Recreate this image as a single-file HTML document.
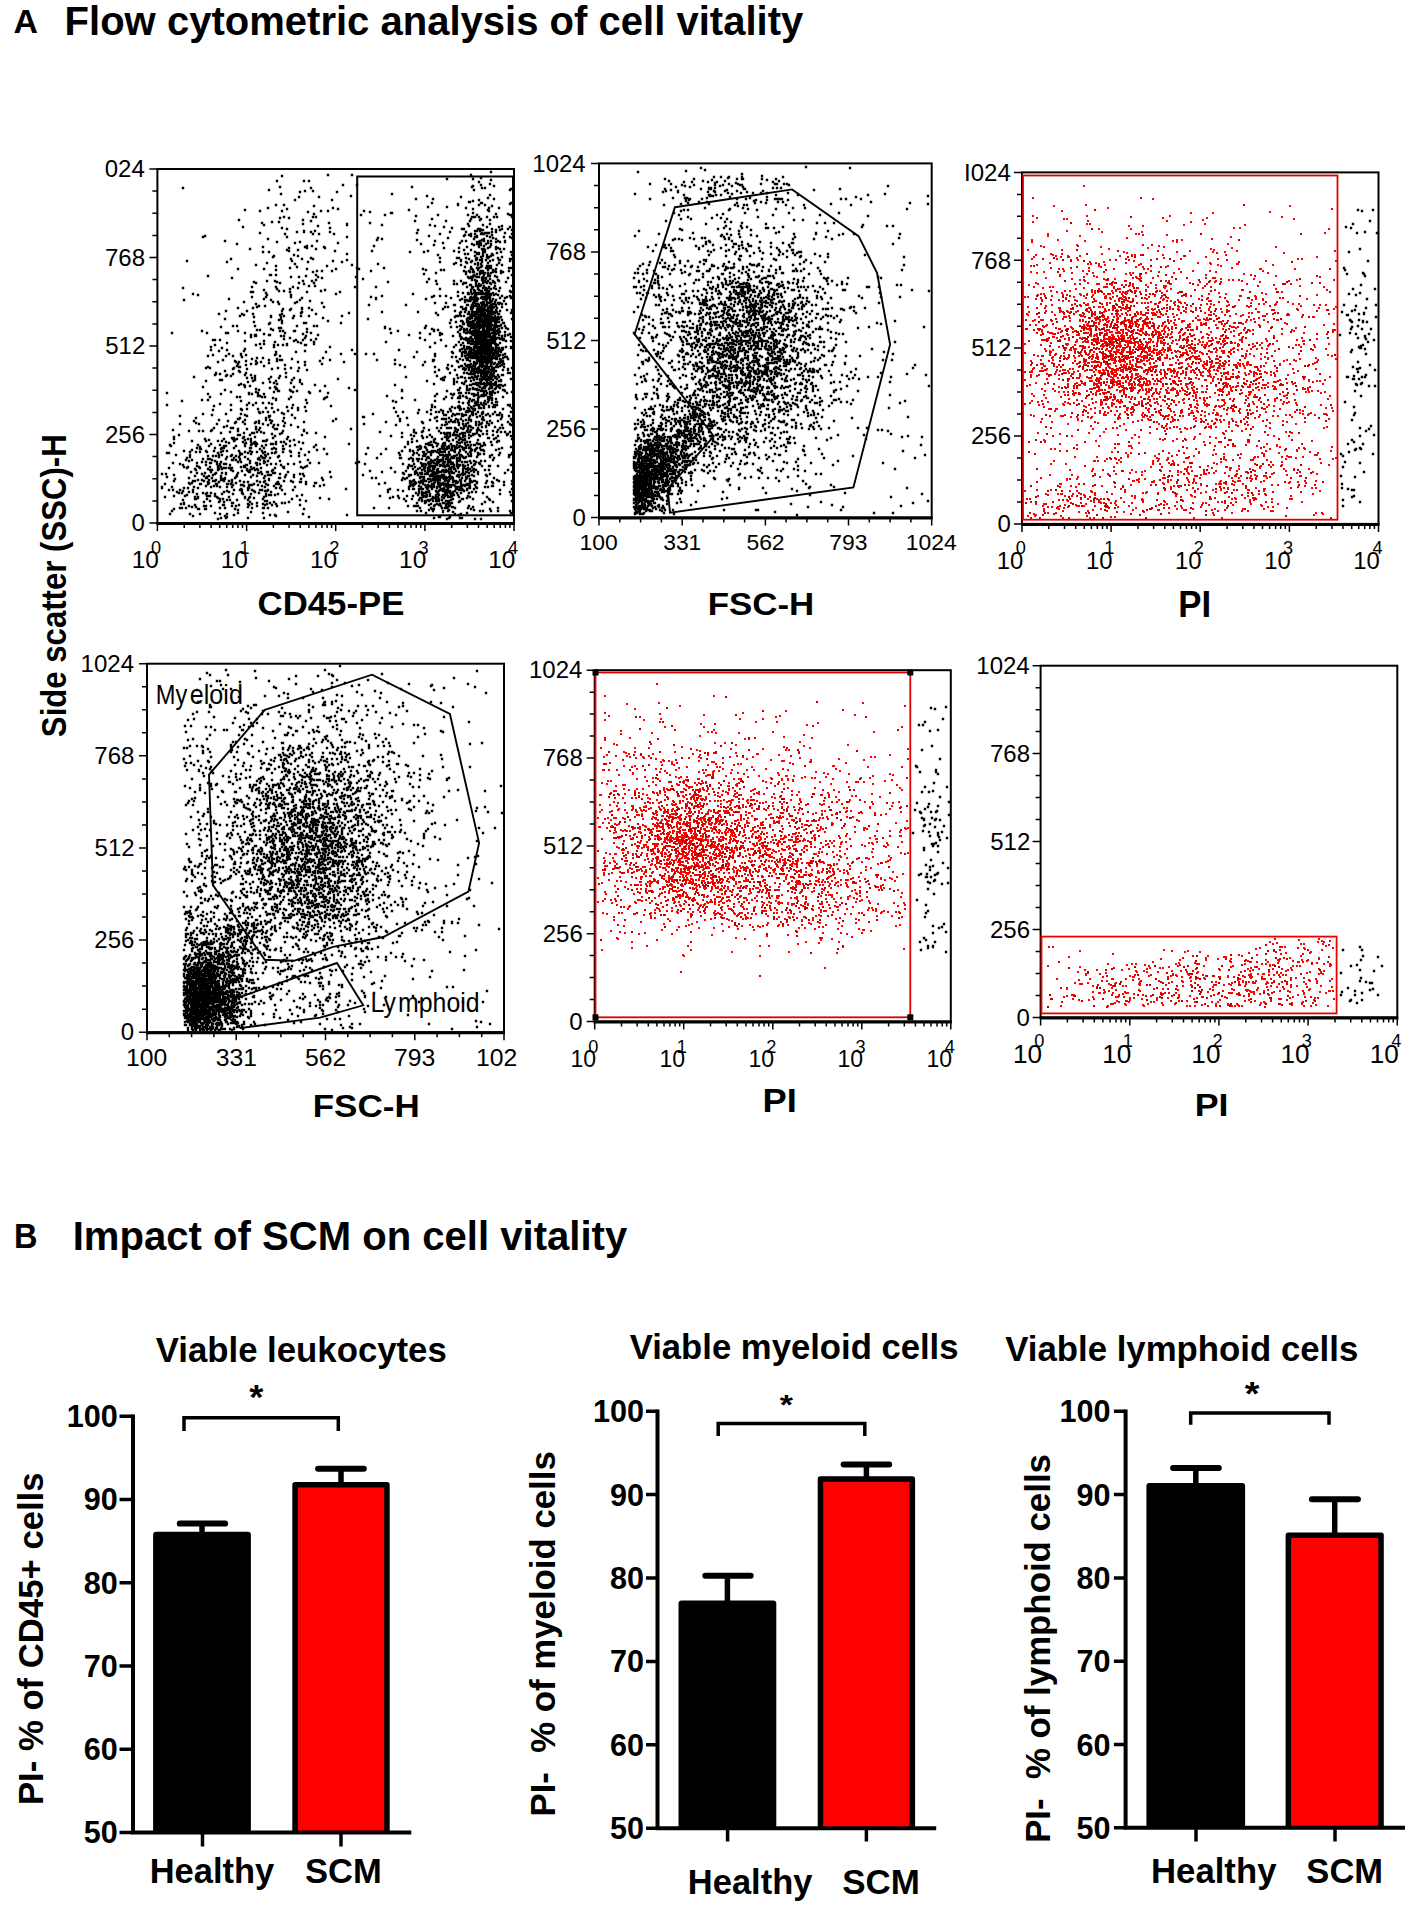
<!DOCTYPE html>
<html><head><meta charset="utf-8"><style>
html,body{margin:0;padding:0;background:#fff;overflow:hidden;}
svg{display:block;font-family:"Liberation Sans",sans-serif;}
</style></head><body>
<svg width="1417" height="1912" viewBox="0 0 1417 1912">
<defs><clipPath id="clip4"><rect x="0" y="1030" width="517" height="60"/></clipPath></defs>
<rect width="1417" height="1912" fill="#fff"/>
<text x="13.45" y="32.80" font-size="33.91" font-weight="bold" textLength="24.47" lengthAdjust="spacingAndGlyphs" fill="#000" xml:space="preserve">A</text>
<text x="64.60" y="35.30" font-size="41.16" font-weight="bold" textLength="738.66" lengthAdjust="spacingAndGlyphs" fill="#000" xml:space="preserve">Flow cytometric analysis of cell vitality</text>
<text x="13.89" y="1248.30" font-size="34.78" font-weight="bold" textLength="23.44" lengthAdjust="spacingAndGlyphs" fill="#000" xml:space="preserve">B</text>
<text x="72.69" y="1249.50" font-size="41.30" font-weight="bold" textLength="554.55" lengthAdjust="spacingAndGlyphs" fill="#000" xml:space="preserve">Impact of SCM on cell vitality</text>
<text x="0.00" y="0.00" font-size="35.19" font-weight="bold" textLength="302.76" lengthAdjust="spacingAndGlyphs" transform="translate(65.81 737.13) rotate(-90)" fill="#000" xml:space="preserve">Side scatter (SSC)-H</text>
<rect x="157.40" y="169.00" width="356.60" height="354.00" fill="none" stroke="#000" stroke-width="2"/>
<path d="M156.40 523.50H515.00" stroke="#000" stroke-width="3"/>
<text x="104.76" y="177.28" font-size="24.00" fill="#000" xml:space="preserve">024</text>
<text x="105.00" y="265.78" font-size="24.00" fill="#000" xml:space="preserve">768</text>
<text x="105.24" y="354.28" font-size="24.00" fill="#000" xml:space="preserve">512</text>
<text x="105.00" y="442.78" font-size="24.00" fill="#000" xml:space="preserve">256</text>
<text x="131.52" y="531.28" font-size="24.00" fill="#000" xml:space="preserve">0</text>
<text x="131.63" y="568.26" font-size="24.44" fill="#000" xml:space="preserve">10</text>
<text x="151.07" y="553.50" font-size="18.20" fill="#000" xml:space="preserve">0</text>
<text x="220.78" y="568.26" font-size="24.44" fill="#000" xml:space="preserve">10</text>
<text x="239.59" y="553.50" font-size="18.20" fill="#000" xml:space="preserve">1</text>
<text x="309.93" y="568.26" font-size="24.44" fill="#000" xml:space="preserve">10</text>
<text x="329.19" y="553.50" font-size="18.20" fill="#000" xml:space="preserve">2</text>
<text x="399.08" y="568.26" font-size="24.44" fill="#000" xml:space="preserve">10</text>
<text x="418.52" y="553.50" font-size="18.20" fill="#000" xml:space="preserve">3</text>
<text x="488.23" y="568.26" font-size="24.44" fill="#000" xml:space="preserve">10</text>
<text x="508.04" y="553.50" font-size="18.20" fill="#000" xml:space="preserve">4</text>
<text x="257.61" y="614.66" font-size="33.80" font-weight="bold" textLength="146.74" lengthAdjust="spacingAndGlyphs" fill="#000" xml:space="preserve">CD45-PE</text>
<rect x="599.00" y="163.40" width="332.70" height="354.10" fill="none" stroke="#000" stroke-width="2"/>
<path d="M598.00 518.00H932.70" stroke="#000" stroke-width="3"/>
<text x="532.32" y="171.68" font-size="24.00" fill="#000" xml:space="preserve">1024</text>
<text x="546.00" y="260.20" font-size="24.00" fill="#000" xml:space="preserve">768</text>
<text x="546.24" y="348.73" font-size="24.00" fill="#000" xml:space="preserve">512</text>
<text x="546.00" y="437.25" font-size="24.00" fill="#000" xml:space="preserve">256</text>
<text x="572.52" y="525.78" font-size="24.00" fill="#000" xml:space="preserve">0</text>
<text x="579.49" y="550.47" font-size="22.88" fill="#000" xml:space="preserve">100</text>
<text x="663.18" y="550.47" font-size="22.88" fill="#000" xml:space="preserve">331</text>
<text x="746.42" y="550.47" font-size="22.88" fill="#000" xml:space="preserve">562</text>
<text x="829.36" y="550.47" font-size="22.88" fill="#000" xml:space="preserve">793</text>
<text x="905.73" y="550.47" font-size="22.88" fill="#000" xml:space="preserve">1024</text>
<text x="707.73" y="615.28" font-size="31.83" font-weight="bold" textLength="106.54" lengthAdjust="spacingAndGlyphs" fill="#000" xml:space="preserve">FSC-H</text>
<rect x="1022.00" y="172.40" width="356.50" height="351.50" fill="none" stroke="#000" stroke-width="2"/>
<path d="M1021.00 524.40H1379.50" stroke="#000" stroke-width="3"/>
<text x="964.04" y="180.68" font-size="24.00" fill="#000" xml:space="preserve">I024</text>
<text x="971.00" y="268.55" font-size="24.00" fill="#000" xml:space="preserve">768</text>
<text x="971.24" y="356.43" font-size="24.00" fill="#000" xml:space="preserve">512</text>
<text x="971.00" y="444.30" font-size="24.00" fill="#000" xml:space="preserve">256</text>
<text x="997.52" y="532.18" font-size="24.00" fill="#000" xml:space="preserve">0</text>
<text x="996.84" y="568.76" font-size="23.87" fill="#000" xml:space="preserve">10</text>
<text x="1015.67" y="554.40" font-size="18.20" fill="#000" xml:space="preserve">0</text>
<text x="1085.96" y="568.76" font-size="23.87" fill="#000" xml:space="preserve">10</text>
<text x="1104.16" y="554.40" font-size="18.20" fill="#000" xml:space="preserve">1</text>
<text x="1175.09" y="568.76" font-size="23.87" fill="#000" xml:space="preserve">10</text>
<text x="1193.74" y="554.40" font-size="18.20" fill="#000" xml:space="preserve">2</text>
<text x="1264.21" y="568.76" font-size="23.87" fill="#000" xml:space="preserve">10</text>
<text x="1283.05" y="554.40" font-size="18.20" fill="#000" xml:space="preserve">3</text>
<text x="1353.34" y="568.76" font-size="23.87" fill="#000" xml:space="preserve">10</text>
<text x="1372.54" y="554.40" font-size="18.20" fill="#000" xml:space="preserve">4</text>
<text x="1178.34" y="617.00" font-size="36.38" font-weight="bold" textLength="32.89" lengthAdjust="spacingAndGlyphs" fill="#000" xml:space="preserve">PI</text>
<rect x="147.00" y="663.70" width="357.00" height="368.50" fill="none" stroke="#000" stroke-width="2"/>
<path d="M146.00 1032.70H505.00" stroke="#000" stroke-width="3"/>
<text x="80.62" y="671.98" font-size="24.00" fill="#000" xml:space="preserve">1024</text>
<text x="94.30" y="764.11" font-size="24.00" fill="#000" xml:space="preserve">768</text>
<text x="94.54" y="856.23" font-size="24.00" fill="#000" xml:space="preserve">512</text>
<text x="94.30" y="948.36" font-size="24.00" fill="#000" xml:space="preserve">256</text>
<text x="120.82" y="1040.48" font-size="24.00" fill="#000" xml:space="preserve">0</text>
<text x="125.93" y="1065.55" font-size="24.72" fill="#000" xml:space="preserve">100</text>
<text x="215.73" y="1065.55" font-size="24.72" fill="#000" xml:space="preserve">331</text>
<text x="305.05" y="1065.55" font-size="24.72" fill="#000" xml:space="preserve">562</text>
<text x="394.05" y="1065.55" font-size="24.72" fill="#000" xml:space="preserve">793</text>
<text clip-path="url(#clip4)" x="475.95" y="1065.55" font-size="24.72" fill="#000" xml:space="preserve">1024</text>
<text x="312.72" y="1116.98" font-size="32.11" font-weight="bold" textLength="106.96" lengthAdjust="spacingAndGlyphs" fill="#000" xml:space="preserve">FSC-H</text>
<rect x="594.70" y="670.20" width="356.10" height="351.30" fill="none" stroke="#000" stroke-width="2"/>
<path d="M593.70 1022.00H951.80" stroke="#000" stroke-width="3"/>
<text x="529.02" y="678.48" font-size="24.00" fill="#000" xml:space="preserve">1024</text>
<text x="542.70" y="766.31" font-size="24.00" fill="#000" xml:space="preserve">768</text>
<text x="542.94" y="854.13" font-size="24.00" fill="#000" xml:space="preserve">512</text>
<text x="542.70" y="941.95" font-size="24.00" fill="#000" xml:space="preserve">256</text>
<text x="569.22" y="1029.78" font-size="24.00" fill="#000" xml:space="preserve">0</text>
<text x="570.45" y="1066.77" font-size="23.02" fill="#000" xml:space="preserve">10</text>
<text x="588.37" y="1053.00" font-size="18.20" fill="#000" xml:space="preserve">0</text>
<text x="659.48" y="1066.77" font-size="23.02" fill="#000" xml:space="preserve">10</text>
<text x="676.76" y="1053.00" font-size="18.20" fill="#000" xml:space="preserve">1</text>
<text x="748.50" y="1066.77" font-size="23.02" fill="#000" xml:space="preserve">10</text>
<text x="766.24" y="1053.00" font-size="18.20" fill="#000" xml:space="preserve">2</text>
<text x="837.53" y="1066.77" font-size="23.02" fill="#000" xml:space="preserve">10</text>
<text x="855.45" y="1053.00" font-size="18.20" fill="#000" xml:space="preserve">3</text>
<text x="926.55" y="1066.77" font-size="23.02" fill="#000" xml:space="preserve">10</text>
<text x="944.84" y="1053.00" font-size="18.20" fill="#000" xml:space="preserve">4</text>
<text x="762.64" y="1112.40" font-size="32.90" font-weight="bold" textLength="34.29" lengthAdjust="spacingAndGlyphs" fill="#000" xml:space="preserve">PI</text>
<rect x="1040.60" y="665.70" width="356.70" height="351.70" fill="none" stroke="#000" stroke-width="2"/>
<path d="M1039.60 1017.90H1398.30" stroke="#000" stroke-width="3"/>
<text x="976.32" y="673.98" font-size="24.00" fill="#000" xml:space="preserve">1024</text>
<text x="990.00" y="761.90" font-size="24.00" fill="#000" xml:space="preserve">768</text>
<text x="990.24" y="849.83" font-size="24.00" fill="#000" xml:space="preserve">512</text>
<text x="990.00" y="937.75" font-size="24.00" fill="#000" xml:space="preserve">256</text>
<text x="1016.52" y="1025.68" font-size="24.00" fill="#000" xml:space="preserve">0</text>
<text x="1013.01" y="1063.24" font-size="26.13" fill="#000" xml:space="preserve">10</text>
<text x="1034.27" y="1047.30" font-size="18.20" fill="#000" xml:space="preserve">0</text>
<text x="1102.19" y="1063.24" font-size="26.13" fill="#000" xml:space="preserve">10</text>
<text x="1122.81" y="1047.30" font-size="18.20" fill="#000" xml:space="preserve">1</text>
<text x="1191.36" y="1063.24" font-size="26.13" fill="#000" xml:space="preserve">10</text>
<text x="1212.44" y="1047.30" font-size="18.20" fill="#000" xml:space="preserve">2</text>
<text x="1280.54" y="1063.24" font-size="26.13" fill="#000" xml:space="preserve">10</text>
<text x="1301.80" y="1047.30" font-size="18.20" fill="#000" xml:space="preserve">3</text>
<text x="1369.71" y="1063.24" font-size="26.13" fill="#000" xml:space="preserve">10</text>
<text x="1391.34" y="1047.30" font-size="18.20" fill="#000" xml:space="preserve">4</text>
<text x="1194.67" y="1116.00" font-size="31.88" font-weight="bold" textLength="33.83" lengthAdjust="spacingAndGlyphs" fill="#000" xml:space="preserve">PI</text>
<path d="M149.4 169.0h8M152.4 191.1h5M152.4 213.2h5M152.4 235.4h5M149.4 257.5h8M152.4 279.6h5M152.4 301.8h5M152.4 323.9h5M149.4 346.0h8M152.4 368.1h5M152.4 390.2h5M152.4 412.4h5M149.4 434.5h8M152.4 456.6h5M152.4 478.8h5M152.4 500.9h5M149.4 523.0h8M157.4 523.0v8M184.2 523.0v5M199.9 523.0v5M211.1 523.0v5M219.7 523.0v5M226.8 523.0v5M232.7 523.0v5M237.9 523.0v5M242.5 523.0v5M246.6 523.0v8M273.4 523.0v5M289.1 523.0v5M300.2 523.0v5M308.9 523.0v5M315.9 523.0v5M321.9 523.0v5M327.1 523.0v5M331.6 523.0v5M335.7 523.0v8M362.5 523.0v5M378.2 523.0v5M389.4 523.0v5M398.0 523.0v5M405.1 523.0v5M411.0 523.0v5M416.2 523.0v5M420.8 523.0v5M424.9 523.0v8M451.7 523.0v5M467.4 523.0v5M478.5 523.0v5M487.2 523.0v5M494.2 523.0v5M500.2 523.0v5M505.4 523.0v5M509.9 523.0v5M514.0 523.0v8M591.0 163.4h8M594.0 185.5h5M594.0 207.7h5M594.0 229.8h5M591.0 251.9h8M594.0 274.1h5M594.0 296.2h5M594.0 318.3h5M591.0 340.5h8M594.0 362.6h5M594.0 384.7h5M594.0 406.8h5M591.0 429.0h8M594.0 451.1h5M594.0 473.2h5M594.0 495.4h5M591.0 517.5h8M599.0 517.5v8M619.8 517.5v5M640.6 517.5v5M661.4 517.5v5M682.2 517.5v8M703.0 517.5v5M723.8 517.5v5M744.6 517.5v5M765.4 517.5v8M786.1 517.5v5M806.9 517.5v5M827.7 517.5v5M848.5 517.5v8M869.3 517.5v5M890.1 517.5v5M910.9 517.5v5M931.7 517.5v8M1014.0 172.4h8M1017.0 194.4h5M1017.0 216.3h5M1017.0 238.3h5M1014.0 260.3h8M1017.0 282.2h5M1017.0 304.2h5M1017.0 326.2h5M1014.0 348.1h8M1017.0 370.1h5M1017.0 392.1h5M1017.0 414.1h5M1014.0 436.0h8M1017.0 458.0h5M1017.0 480.0h5M1017.0 501.9h5M1014.0 523.9h8M1022.0 523.9v8M1048.8 523.9v5M1064.5 523.9v5M1075.7 523.9v5M1084.3 523.9v5M1091.4 523.9v5M1097.3 523.9v5M1102.5 523.9v5M1107.0 523.9v5M1111.1 523.9v8M1138.0 523.9v5M1153.6 523.9v5M1164.8 523.9v5M1173.4 523.9v5M1180.5 523.9v5M1186.4 523.9v5M1191.6 523.9v5M1196.2 523.9v5M1200.2 523.9v8M1227.1 523.9v5M1242.8 523.9v5M1253.9 523.9v5M1262.5 523.9v5M1269.6 523.9v5M1275.6 523.9v5M1280.7 523.9v5M1285.3 523.9v5M1289.4 523.9v8M1316.2 523.9v5M1331.9 523.9v5M1343.0 523.9v5M1351.7 523.9v5M1358.7 523.9v5M1364.7 523.9v5M1369.9 523.9v5M1374.4 523.9v5M1378.5 523.9v8M139.0 663.7h8M142.0 686.7h5M142.0 709.8h5M142.0 732.8h5M139.0 755.8h8M142.0 778.9h5M142.0 801.9h5M142.0 824.9h5M139.0 848.0h8M142.0 871.0h5M142.0 894.0h5M142.0 917.0h5M139.0 940.1h8M142.0 963.1h5M142.0 986.1h5M142.0 1009.2h5M139.0 1032.2h8M147.0 1032.2v8M169.3 1032.2v5M191.6 1032.2v5M213.9 1032.2v5M236.2 1032.2v8M258.6 1032.2v5M280.9 1032.2v5M303.2 1032.2v5M325.5 1032.2v8M347.8 1032.2v5M370.1 1032.2v5M392.4 1032.2v5M414.8 1032.2v8M437.1 1032.2v5M459.4 1032.2v5M481.7 1032.2v5M504.0 1032.2v8M586.7 670.2h8M589.7 692.2h5M589.7 714.1h5M589.7 736.1h5M586.7 758.0h8M589.7 780.0h5M589.7 801.9h5M589.7 823.9h5M586.7 845.9h8M589.7 867.8h5M589.7 889.8h5M589.7 911.7h5M586.7 933.7h8M589.7 955.6h5M589.7 977.6h5M589.7 999.5h5M586.7 1021.5h8M594.7 1021.5v8M621.5 1021.5v5M637.2 1021.5v5M648.3 1021.5v5M656.9 1021.5v5M664.0 1021.5v5M669.9 1021.5v5M675.1 1021.5v5M679.7 1021.5v5M683.7 1021.5v8M710.5 1021.5v5M726.2 1021.5v5M737.3 1021.5v5M746.0 1021.5v5M753.0 1021.5v5M759.0 1021.5v5M764.1 1021.5v5M768.7 1021.5v5M772.8 1021.5v8M799.5 1021.5v5M815.2 1021.5v5M826.3 1021.5v5M835.0 1021.5v5M842.0 1021.5v5M848.0 1021.5v5M853.1 1021.5v5M857.7 1021.5v5M861.8 1021.5v8M888.6 1021.5v5M904.3 1021.5v5M915.4 1021.5v5M924.0 1021.5v5M931.0 1021.5v5M937.0 1021.5v5M942.2 1021.5v5M946.7 1021.5v5M950.8 1021.5v8M1032.6 665.7h8M1035.6 687.7h5M1035.6 709.7h5M1035.6 731.6h5M1032.6 753.6h8M1035.6 775.6h5M1035.6 797.6h5M1035.6 819.6h5M1032.6 841.5h8M1035.6 863.5h5M1035.6 885.5h5M1035.6 907.5h5M1032.6 929.5h8M1035.6 951.5h5M1035.6 973.4h5M1035.6 995.4h5M1032.6 1017.4h8M1040.6 1017.4v8M1067.4 1017.4v5M1083.1 1017.4v5M1094.3 1017.4v5M1102.9 1017.4v5M1110.0 1017.4v5M1116.0 1017.4v5M1121.1 1017.4v5M1125.7 1017.4v5M1129.8 1017.4v8M1156.6 1017.4v5M1172.3 1017.4v5M1183.5 1017.4v5M1192.1 1017.4v5M1199.2 1017.4v5M1205.1 1017.4v5M1210.3 1017.4v5M1214.9 1017.4v5M1218.9 1017.4v8M1245.8 1017.4v5M1261.5 1017.4v5M1272.6 1017.4v5M1281.3 1017.4v5M1288.3 1017.4v5M1294.3 1017.4v5M1299.5 1017.4v5M1304.0 1017.4v5M1308.1 1017.4v8M1335.0 1017.4v5M1350.7 1017.4v5M1361.8 1017.4v5M1370.5 1017.4v5M1377.5 1017.4v5M1383.5 1017.4v5M1388.7 1017.4v5M1393.2 1017.4v5M1397.3 1017.4v8" stroke="#000" stroke-width="1.5" fill="none"/>
<rect x="357.2" y="176.5" width="155.8" height="338.8" fill="none" stroke="#000" stroke-width="2"/>
<path d="M674.9 207.2L792.1 189.4L858.6 236.1L877.1 273.1L890.1 344.5L853.4 487.4L670 512.7L667.7 489L713.8 436.1L634.6 334.2Z" fill="none" stroke="#000" stroke-width="1.9"/>
<rect x="1023" y="175.5" width="314.5" height="344.2" fill="none" stroke="#d00" stroke-width="1.8"/>
<path d="M264.8 709.8L372 674.7L449.9 714L479.1 842.9L468.4 891.6L383.3 937L333 946.8L294 960.8L264.8 959.8L212.9 885.1L209 774.7Z" fill="none" stroke="#000" stroke-width="1.9"/>
<path d="M232.3 999.7L336.9 963L363.2 1005.3L320 1017.6L240.5 1028L229.1 1018.2Z" fill="none" stroke="#000" stroke-width="1.9"/>
<text x="155.81" y="703.70" font-size="27.10" textLength="31.55" lengthAdjust="spacingAndGlyphs" fill="#000" xml:space="preserve">My</text>
<text x="189.79" y="703.70" font-size="27.10" textLength="53.11" lengthAdjust="spacingAndGlyphs" fill="#000" xml:space="preserve">eloid</text>
<text x="370.62" y="1012.10" font-size="26.96" textLength="25.26" lengthAdjust="spacingAndGlyphs" fill="#000" xml:space="preserve">Ly</text>
<text x="398.08" y="1012.10" font-size="26.96" textLength="81.53" lengthAdjust="spacingAndGlyphs" fill="#000" xml:space="preserve">mphoid</text>
<rect x="595.5" y="672.5" width="314.8" height="344.8" fill="none" stroke="#d00" stroke-width="1.8"/>
<rect x="592.5" y="669.5" width="6" height="6" fill="#000"/>
<rect x="907.3" y="669.5" width="6" height="6" fill="#000"/>
<rect x="592.5" y="1014.3" width="6" height="6" fill="#000"/>
<rect x="907.3" y="1014.3" width="6" height="6" fill="#000"/>
<rect x="1041.5" y="936.6" width="295.1" height="76.8" fill="none" stroke="#e00" stroke-width="1.8"/>
<path d="M161 474h2.4M161 487h2.4M161 488h2.4M164 484h2.4M164 497h2.4M165 474h2.4M166 393h2.4M166 405h2.4M166 453h2.4M166 477h2.4M168 453h2.4M168 468h2.4M168 490h2.4M169 445h2.4M169 514h2.4M170 446h2.4M171 333h2.4M171 487h2.4M171 511h2.4M172 430h2.4M172 463h2.4M172 490h2.4M173 437h2.4M173 439h2.4M173 443h2.4M173 475h2.4M173 481h2.4M173 496h2.4M173 509h2.4M174 479h2.4M175 455h2.4M176 492h2.4M178 435h2.4M178 493h2.4M179 416h2.4M179 424h2.4M179 464h2.4M179 490h2.4M179 508h2.4M180 504h2.4M181 401h2.4M181 493h2.4M181 508h2.4M182 188h2.4M182 288h2.4M182 465h2.4M182 491h2.4M182 500h2.4M183 300h2.4M183 451h2.4M183 467h2.4M183 488h2.4M183 503h2.4M183 504h2.4M184 496h2.4M185 460h2.4M185 508h2.4M186 261h2.4M186 458h2.4M186 468h2.4M186 495h2.4M187 467h2.4M187 488h2.4M188 431h2.4M188 461h2.4M188 478h2.4M188 483h2.4M188 492h2.4M188 506h2.4M189 452h2.4M189 455h2.4M189 457h2.4M189 484h2.4M189 514h2.4M190 472h2.4M191 441h2.4M191 450h2.4M191 460h2.4M191 483h2.4M191 507h2.4M192 294h2.4M192 481h2.4M192 490h2.4M192 492h2.4M192 516h2.4M193 377h2.4M193 421h2.4M193 487h2.4M194 469h2.4M194 476h2.4M194 481h2.4M194 497h2.4M194 499h2.4M194 505h2.4M195 418h2.4M195 423h2.4M195 452h2.4M195 470h2.4M195 499h2.4M195 507h2.4M196 448h2.4M196 463h2.4M196 466h2.4M196 473h2.4M196 494h2.4M197 295h2.4M197 445h2.4M197 480h2.4M197 488h2.4M197 497h2.4M197 498h2.4M197 509h2.4M198 424h2.4M198 431h2.4M198 467h2.4M198 509h2.4M199 447h2.4M199 449h2.4M199 452h2.4M199 468h2.4M199 484h2.4M199 514h2.4M200 449h2.4M200 484h2.4M201 331h2.4M201 400h2.4M201 462h2.4M201 474h2.4M201 480h2.4M202 237h2.4M202 387h2.4M202 414h2.4M202 431h2.4M202 459h2.4M202 493h2.4M203 476h2.4M203 481h2.4M203 502h2.4M203 506h2.4M204 236h2.4M204 439h2.4M204 473h2.4M204 506h2.4M204 509h2.4M205 368h2.4M205 381h2.4M205 441h2.4M205 451h2.4M205 462h2.4M205 465h2.4M205 478h2.4M205 486h2.4M205 494h2.4M205 506h2.4M205 509h2.4M206 333h2.4M206 452h2.4M206 477h2.4M206 478h2.4M206 493h2.4M206 496h2.4M206 499h2.4M207 276h2.4M207 356h2.4M207 367h2.4M207 394h2.4M207 400h2.4M207 456h2.4M207 459h2.4M207 469h2.4M207 482h2.4M207 484h2.4M208 440h2.4M208 446h2.4M208 476h2.4M208 480h2.4M208 483h2.4M208 496h2.4M209 368h2.4M209 397h2.4M209 459h2.4M209 463h2.4M209 467h2.4M209 470h2.4M209 496h2.4M209 501h2.4M210 347h2.4M210 350h2.4M210 431h2.4M210 444h2.4M210 463h2.4M210 472h2.4M210 487h2.4M210 493h2.4M210 506h2.4M211 415h2.4M211 430h2.4M211 460h2.4M211 470h2.4M211 478h2.4M212 340h2.4M212 355h2.4M212 410h2.4M212 456h2.4M212 475h2.4M212 481h2.4M213 406h2.4M213 428h2.4M213 451h2.4M213 486h2.4M214 340h2.4M214 345h2.4M214 375h2.4M214 448h2.4M214 461h2.4M214 474h2.4M214 481h2.4M214 494h2.4M214 496h2.4M214 513h2.4M215 373h2.4M215 374h2.4M215 456h2.4M215 473h2.4M215 480h2.4M215 484h2.4M216 424h2.4M216 462h2.4M216 464h2.4M216 484h2.4M216 486h2.4M216 497h2.4M217 362h2.4M217 441h2.4M217 453h2.4M217 466h2.4M217 468h2.4M217 469h2.4M217 470h2.4M217 498h2.4M217 519h2.4M218 314h2.4M218 351h2.4M218 420h2.4M218 455h2.4M218 457h2.4M218 469h2.4M218 482h2.4M218 502h2.4M219 340h2.4M219 374h2.4M219 380h2.4M219 404h2.4M219 445h2.4M219 464h2.4M219 466h2.4M219 487h2.4M219 499h2.4M219 501h2.4M219 508h2.4M219 514h2.4M220 327h2.4M220 394h2.4M220 433h2.4M220 449h2.4M220 452h2.4M220 462h2.4M220 467h2.4M220 476h2.4M220 478h2.4M220 479h2.4M220 480h2.4M220 518h2.4M221 348h2.4M221 380h2.4M221 441h2.4M221 448h2.4M221 455h2.4M221 469h2.4M221 473h2.4M221 494h2.4M222 360h2.4M222 451h2.4M222 479h2.4M222 480h2.4M222 499h2.4M222 505h2.4M223 427h2.4M223 439h2.4M223 446h2.4M223 448h2.4M223 464h2.4M223 468h2.4M223 481h2.4M223 492h2.4M223 502h2.4M223 505h2.4M224 241h2.4M224 319h2.4M224 371h2.4M224 390h2.4M224 446h2.4M224 478h2.4M224 479h2.4M224 508h2.4M224 516h2.4M225 311h2.4M225 333h2.4M225 356h2.4M225 376h2.4M225 414h2.4M225 442h2.4M225 446h2.4M225 459h2.4M225 464h2.4M225 468h2.4M225 473h2.4M225 474h2.4M225 518h2.4M226 262h2.4M226 343h2.4M226 350h2.4M226 375h2.4M226 426h2.4M226 451h2.4M226 457h2.4M226 484h2.4M226 487h2.4M226 491h2.4M226 500h2.4M226 514h2.4M226 517h2.4M227 333h2.4M227 421h2.4M227 484h2.4M228 299h2.4M228 354h2.4M228 443h2.4M228 468h2.4M228 481h2.4M228 492h2.4M228 497h2.4M229 432h2.4M229 465h2.4M229 500h2.4M230 259h2.4M230 376h2.4M230 392h2.4M230 405h2.4M230 410h2.4M230 428h2.4M230 456h2.4M230 468h2.4M230 469h2.4M230 470h2.4M230 484h2.4M231 278h2.4M231 438h2.4M231 455h2.4M231 460h2.4M231 468h2.4M231 480h2.4M231 482h2.4M231 487h2.4M231 503h2.4M231 506h2.4M232 326h2.4M232 356h2.4M232 369h2.4M232 374h2.4M232 428h2.4M232 439h2.4M232 460h2.4M232 471h2.4M232 485h2.4M232 494h2.4M232 503h2.4M233 368h2.4M233 438h2.4M233 441h2.4M233 448h2.4M233 458h2.4M233 490h2.4M233 515h2.4M234 361h2.4M234 423h2.4M234 440h2.4M234 478h2.4M234 509h2.4M235 362h2.4M235 422h2.4M235 446h2.4M235 456h2.4M235 460h2.4M235 477h2.4M235 483h2.4M235 506h2.4M236 244h2.4M236 326h2.4M236 366h2.4M236 397h2.4M236 439h2.4M236 475h2.4M236 476h2.4M236 500h2.4M237 269h2.4M237 308h2.4M237 331h2.4M237 364h2.4M237 419h2.4M237 429h2.4M237 431h2.4M237 435h2.4M237 462h2.4M237 473h2.4M237 510h2.4M237 513h2.4M238 220h2.4M238 362h2.4M238 367h2.4M238 371h2.4M238 385h2.4M238 419h2.4M238 451h2.4M238 457h2.4M238 505h2.4M239 316h2.4M239 367h2.4M239 372h2.4M239 397h2.4M239 418h2.4M239 435h2.4M239 453h2.4M239 455h2.4M239 459h2.4M239 460h2.4M239 481h2.4M239 490h2.4M240 354h2.4M240 355h2.4M240 384h2.4M240 401h2.4M240 409h2.4M240 414h2.4M240 462h2.4M240 467h2.4M240 485h2.4M240 489h2.4M241 314h2.4M241 357h2.4M241 410h2.4M241 454h2.4M241 471h2.4M241 490h2.4M241 492h2.4M241 493h2.4M242 227h2.4M242 422h2.4M242 438h2.4M242 442h2.4M242 485h2.4M242 494h2.4M243 302h2.4M243 315h2.4M243 351h2.4M243 385h2.4M243 433h2.4M243 437h2.4M243 466h2.4M243 467h2.4M243 482h2.4M243 486h2.4M244 210h2.4M244 333h2.4M244 341h2.4M244 349h2.4M244 375h2.4M244 386h2.4M244 387h2.4M244 415h2.4M244 420h2.4M244 424h2.4M244 440h2.4M244 444h2.4M244 446h2.4M244 452h2.4M244 457h2.4M244 467h2.4M244 475h2.4M244 497h2.4M244 498h2.4M245 355h2.4M245 361h2.4M245 365h2.4M245 373h2.4M245 443h2.4M245 465h2.4M246 311h2.4M246 369h2.4M246 378h2.4M246 405h2.4M246 409h2.4M246 416h2.4M246 429h2.4M246 465h2.4M246 469h2.4M246 470h2.4M247 382h2.4M247 439h2.4M247 453h2.4M247 459h2.4M247 471h2.4M247 482h2.4M247 488h2.4M247 490h2.4M247 500h2.4M247 504h2.4M247 507h2.4M247 518h2.4M248 393h2.4M248 394h2.4M248 403h2.4M248 472h2.4M248 485h2.4M248 486h2.4M248 488h2.4M248 498h2.4M248 505h2.4M249 249h2.4M249 386h2.4M249 435h2.4M249 448h2.4M249 451h2.4M249 461h2.4M249 462h2.4M249 463h2.4M249 470h2.4M249 472h2.4M249 497h2.4M249 502h2.4M250 292h2.4M250 335h2.4M250 337h2.4M250 364h2.4M250 375h2.4M250 439h2.4M250 441h2.4M250 442h2.4M250 445h2.4M250 448h2.4M250 454h2.4M250 467h2.4M250 477h2.4M250 485h2.4M250 494h2.4M250 512h2.4M251 287h2.4M251 297h2.4M251 359h2.4M251 378h2.4M251 394h2.4M251 433h2.4M251 444h2.4M251 452h2.4M251 469h2.4M251 485h2.4M251 490h2.4M251 504h2.4M251 508h2.4M252 292h2.4M252 308h2.4M252 314h2.4M252 381h2.4M252 405h2.4M252 475h2.4M253 282h2.4M253 317h2.4M253 322h2.4M253 433h2.4M253 443h2.4M253 468h2.4M253 484h2.4M253 491h2.4M253 498h2.4M254 326h2.4M254 335h2.4M254 336h2.4M254 376h2.4M254 378h2.4M254 380h2.4M254 423h2.4M254 437h2.4M254 442h2.4M254 444h2.4M254 470h2.4M254 492h2.4M255 265h2.4M255 283h2.4M255 304h2.4M255 335h2.4M255 336h2.4M255 345h2.4M255 361h2.4M255 364h2.4M255 389h2.4M255 392h2.4M255 403h2.4M255 422h2.4M255 427h2.4M255 429h2.4M255 443h2.4M255 446h2.4M255 463h2.4M256 307h2.4M256 330h2.4M256 358h2.4M256 363h2.4M256 432h2.4M256 444h2.4M256 452h2.4M256 463h2.4M256 465h2.4M256 469h2.4M256 476h2.4M256 481h2.4M256 503h2.4M256 506h2.4M257 393h2.4M257 394h2.4M257 396h2.4M257 409h2.4M257 459h2.4M257 470h2.4M257 473h2.4M257 485h2.4M258 306h2.4M258 390h2.4M258 412h2.4M258 421h2.4M258 423h2.4M258 430h2.4M258 458h2.4M258 473h2.4M258 493h2.4M259 211h2.4M259 233h2.4M259 330h2.4M259 344h2.4M259 396h2.4M259 413h2.4M259 428h2.4M259 449h2.4M259 460h2.4M259 464h2.4M259 482h2.4M259 490h2.4M260 348h2.4M260 362h2.4M260 432h2.4M260 456h2.4M260 468h2.4M260 472h2.4M261 223h2.4M261 397h2.4M261 446h2.4M261 451h2.4M261 457h2.4M261 474h2.4M261 486h2.4M261 490h2.4M262 247h2.4M262 252h2.4M262 358h2.4M262 383h2.4M262 403h2.4M262 412h2.4M262 424h2.4M262 441h2.4M262 453h2.4M262 458h2.4M262 499h2.4M262 504h2.4M262 508h2.4M262 513h2.4M263 225h2.4M263 269h2.4M263 290h2.4M263 299h2.4M263 334h2.4M263 341h2.4M263 344h2.4M263 366h2.4M263 394h2.4M263 433h2.4M263 448h2.4M263 461h2.4M263 462h2.4M263 463h2.4M263 478h2.4M263 482h2.4M263 497h2.4M263 508h2.4M263 518h2.4M264 306h2.4M264 397h2.4M264 441h2.4M264 452h2.4M264 455h2.4M264 458h2.4M264 462h2.4M264 476h2.4M264 481h2.4M264 487h2.4M264 491h2.4M264 501h2.4M264 505h2.4M265 293h2.4M265 297h2.4M265 408h2.4M265 418h2.4M265 420h2.4M265 441h2.4M265 445h2.4M265 456h2.4M265 484h2.4M265 494h2.4M265 496h2.4M266 263h2.4M266 281h2.4M266 295h2.4M266 440h2.4M266 465h2.4M266 472h2.4M266 491h2.4M266 501h2.4M266 504h2.4M267 208h2.4M267 239h2.4M267 412h2.4M267 425h2.4M267 454h2.4M267 461h2.4M267 472h2.4M267 475h2.4M267 485h2.4M267 490h2.4M267 508h2.4M268 190h2.4M268 252h2.4M268 324h2.4M268 335h2.4M268 360h2.4M268 363h2.4M268 379h2.4M268 403h2.4M268 416h2.4M268 417h2.4M268 475h2.4M268 479h2.4M268 480h2.4M268 495h2.4M269 275h2.4M269 323h2.4M269 335h2.4M269 382h2.4M269 388h2.4M269 416h2.4M269 420h2.4M269 458h2.4M269 503h2.4M269 515h2.4M270 275h2.4M270 300h2.4M270 316h2.4M270 317h2.4M270 329h2.4M270 377h2.4M270 423h2.4M270 444h2.4M270 464h2.4M270 475h2.4M270 492h2.4M270 495h2.4M271 222h2.4M271 369h2.4M271 404h2.4M271 408h2.4M271 421h2.4M271 434h2.4M271 449h2.4M271 453h2.4M271 471h2.4M271 505h2.4M272 257h2.4M272 302h2.4M272 330h2.4M272 398h2.4M272 427h2.4M272 438h2.4M272 444h2.4M272 470h2.4M272 473h2.4M273 256h2.4M273 345h2.4M273 347h2.4M273 383h2.4M273 392h2.4M273 412h2.4M273 425h2.4M273 448h2.4M273 486h2.4M273 502h2.4M274 281h2.4M274 342h2.4M274 355h2.4M274 387h2.4M274 429h2.4M274 436h2.4M274 453h2.4M274 468h2.4M274 473h2.4M274 495h2.4M274 515h2.4M275 205h2.4M275 266h2.4M275 270h2.4M275 275h2.4M275 287h2.4M275 352h2.4M275 354h2.4M275 381h2.4M275 388h2.4M275 389h2.4M275 399h2.4M275 400h2.4M275 442h2.4M275 444h2.4M275 449h2.4M275 452h2.4M275 464h2.4M275 484h2.4M275 488h2.4M275 504h2.4M275 516h2.4M276 181h2.4M276 242h2.4M276 282h2.4M276 289h2.4M276 359h2.4M276 361h2.4M276 384h2.4M276 389h2.4M276 429h2.4M276 483h2.4M276 484h2.4M276 506h2.4M277 302h2.4M277 345h2.4M277 368h2.4M277 391h2.4M277 410h2.4M277 425h2.4M277 457h2.4M277 482h2.4M277 494h2.4M278 222h2.4M278 291h2.4M278 304h2.4M278 320h2.4M278 328h2.4M278 378h2.4M278 391h2.4M278 456h2.4M278 478h2.4M278 484h2.4M279 187h2.4M279 218h2.4M279 283h2.4M279 315h2.4M279 331h2.4M279 356h2.4M279 360h2.4M279 376h2.4M279 434h2.4M279 461h2.4M279 474h2.4M279 478h2.4M279 488h2.4M280 194h2.4M280 317h2.4M280 319h2.4M280 328h2.4M280 336h2.4M280 442h2.4M280 465h2.4M280 486h2.4M281 176h2.4M281 211h2.4M281 228h2.4M281 311h2.4M281 314h2.4M281 321h2.4M281 323h2.4M281 360h2.4M281 413h2.4M281 433h2.4M281 490h2.4M281 503h2.4M282 309h2.4M282 331h2.4M282 345h2.4M282 421h2.4M282 431h2.4M282 446h2.4M282 449h2.4M282 452h2.4M282 467h2.4M283 205h2.4M283 217h2.4M283 291h2.4M283 316h2.4M283 336h2.4M283 339h2.4M283 414h2.4M283 418h2.4M283 426h2.4M283 442h2.4M283 449h2.4M283 467h2.4M283 468h2.4M283 481h2.4M284 234h2.4M284 333h2.4M284 365h2.4M284 369h2.4M284 423h2.4M284 477h2.4M284 494h2.4M284 503h2.4M285 373h2.4M285 377h2.4M285 444h2.4M285 475h2.4M286 209h2.4M286 229h2.4M286 237h2.4M286 250h2.4M286 344h2.4M286 345h2.4M286 407h2.4M286 439h2.4M287 411h2.4M287 437h2.4M287 464h2.4M287 472h2.4M287 512h2.4M288 218h2.4M288 248h2.4M288 251h2.4M288 399h2.4M288 502h2.4M289 268h2.4M289 289h2.4M289 292h2.4M289 310h2.4M289 338h2.4M289 390h2.4M289 441h2.4M289 446h2.4M289 451h2.4M290 259h2.4M290 277h2.4M290 295h2.4M290 297h2.4M290 309h2.4M290 368h2.4M290 383h2.4M290 391h2.4M290 397h2.4M290 425h2.4M290 452h2.4M290 456h2.4M290 481h2.4M291 261h2.4M291 359h2.4M291 380h2.4M291 408h2.4M291 415h2.4M291 499h2.4M292 287h2.4M292 318h2.4M292 392h2.4M292 405h2.4M292 482h2.4M292 490h2.4M293 255h2.4M293 316h2.4M293 331h2.4M293 341h2.4M293 378h2.4M293 387h2.4M293 440h2.4M293 464h2.4M293 475h2.4M293 477h2.4M294 200h2.4M294 243h2.4M294 264h2.4M294 303h2.4M294 331h2.4M294 418h2.4M294 445h2.4M294 487h2.4M295 340h2.4M295 352h2.4M296 232h2.4M296 267h2.4M296 302h2.4M296 326h2.4M296 391h2.4M296 496h2.4M297 250h2.4M297 256h2.4M297 288h2.4M297 342h2.4M297 362h2.4M297 371h2.4M297 408h2.4M297 410h2.4M297 427h2.4M298 197h2.4M298 277h2.4M298 283h2.4M298 368h2.4M298 442h2.4M298 453h2.4M298 456h2.4M299 192h2.4M299 242h2.4M299 300h2.4M299 380h2.4M299 382h2.4M299 462h2.4M299 474h2.4M299 482h2.4M299 500h2.4M299 505h2.4M300 313h2.4M300 316h2.4M300 343h2.4M300 449h2.4M300 467h2.4M300 479h2.4M300 482h2.4M301 259h2.4M301 298h2.4M301 308h2.4M301 309h2.4M301 312h2.4M301 384h2.4M301 435h2.4M301 495h2.4M302 220h2.4M302 224h2.4M302 281h2.4M302 334h2.4M302 340h2.4M302 443h2.4M302 468h2.4M302 474h2.4M302 514h2.4M303 181h2.4M303 231h2.4M303 232h2.4M303 284h2.4M303 323h2.4M303 422h2.4M303 430h2.4M303 431h2.4M303 476h2.4M303 509h2.4M304 191h2.4M304 247h2.4M304 338h2.4M304 345h2.4M304 351h2.4M304 362h2.4M304 365h2.4M304 407h2.4M304 455h2.4M304 467h2.4M305 276h2.4M305 323h2.4M305 336h2.4M305 345h2.4M305 400h2.4M305 411h2.4M305 482h2.4M305 484h2.4M305 501h2.4M306 246h2.4M306 248h2.4M306 269h2.4M306 292h2.4M306 329h2.4M306 332h2.4M306 370h2.4M306 403h2.4M306 433h2.4M306 466h2.4M307 212h2.4M307 262h2.4M307 460h2.4M308 181h2.4M308 286h2.4M308 308h2.4M308 316h2.4M308 392h2.4M308 452h2.4M308 517h2.4M309 301h2.4M309 393h2.4M309 463h2.4M310 188h2.4M310 221h2.4M310 232h2.4M310 258h2.4M310 333h2.4M310 340h2.4M311 246h2.4M311 281h2.4M311 310h2.4M312 191h2.4M312 217h2.4M312 234h2.4M312 259h2.4M312 272h2.4M313 206h2.4M313 214h2.4M313 283h2.4M313 326h2.4M313 342h2.4M313 344h2.4M313 447h2.4M313 486h2.4M314 231h2.4M314 286h2.4M314 385h2.4M314 483h2.4M315 217h2.4M315 249h2.4M315 275h2.4M315 280h2.4M315 314h2.4M315 339h2.4M315 433h2.4M315 445h2.4M315 483h2.4M316 241h2.4M316 271h2.4M316 326h2.4M316 450h2.4M317 226h2.4M317 277h2.4M317 335h2.4M318 197h2.4M318 234h2.4M318 463h2.4M319 361h2.4M319 391h2.4M319 486h2.4M319 498h2.4M320 211h2.4M320 291h2.4M321 271h2.4M321 278h2.4M321 303h2.4M321 364h2.4M321 478h2.4M322 318h2.4M322 358h2.4M322 480h2.4M323 247h2.4M323 307h2.4M323 399h2.4M323 449h2.4M323 485h2.4M324 248h2.4M324 290h2.4M324 386h2.4M324 398h2.4M324 437h2.4M325 352h2.4M326 266h2.4M326 397h2.4M326 454h2.4M327 175h2.4M327 211h2.4M327 321h2.4M327 393h2.4M328 223h2.4M328 499h2.4M329 228h2.4M329 232h2.4M329 347h2.4M329 360h2.4M329 472h2.4M330 406h2.4M330 477h2.4M331 200h2.4M331 271h2.4M332 208h2.4M332 261h2.4M332 421h2.4M333 234h2.4M334 251h2.4M335 269h2.4M335 294h2.4M335 419h2.4M336 192h2.4M337 209h2.4M337 243h2.4M337 379h2.4M339 292h2.4M340 323h2.4M340 354h2.4M341 262h2.4M341 316h2.4M342 185h2.4M343 362h2.4M345 489h2.4M346 224h2.4M346 225h2.4M346 237h2.4M346 254h2.4M346 260h2.4M346 515h2.4M348 313h2.4M348 388h2.4M348 444h2.4M350 196h2.4M350 429h2.4M351 175h2.4M351 265h2.4M351 350h2.4M354 287h2.4M354 354h2.4M354 390h2.4M355 277h2.4M355 463h2.4M356 185h2.4M356 268h2.4M358 269h2.4M358 462h2.4M360 215h2.4M362 279h2.4M362 417h2.4M362 475h2.4M363 211h2.4M363 417h2.4M363 424h2.4M364 464h2.4M365 354h2.4M365 454h2.4M367 319h2.4M367 448h2.4M368 305h2.4M369 212h2.4M369 223h2.4M369 471h2.4M370 271h2.4M370 297h2.4M371 251h2.4M371 478h2.4M372 414h2.4M373 246h2.4M373 354h2.4M373 508h2.4M375 287h2.4M375 298h2.4M375 299h2.4M375 478h2.4M376 240h2.4M376 360h2.4M376 458h2.4M377 238h2.4M377 264h2.4M378 484h2.4M379 432h2.4M379 496h2.4M380 454h2.4M381 225h2.4M381 239h2.4M381 296h2.4M381 312h2.4M381 472h2.4M383 268h2.4M384 215h2.4M384 327h2.4M384 328h2.4M384 483h2.4M385 342h2.4M385 422h2.4M385 449h2.4M386 396h2.4M387 282h2.4M387 490h2.4M387 492h2.4M388 508h2.4M389 329h2.4M389 489h2.4M389 498h2.4M390 213h2.4M390 333h2.4M390 436h2.4M390 468h2.4M391 194h2.4M391 213h2.4M392 401h2.4M392 497h2.4M393 408h2.4M394 360h2.4M394 364h2.4M394 385h2.4M394 472h2.4M395 402h2.4M395 412h2.4M395 425h2.4M397 331h2.4M397 416h2.4M397 490h2.4M397 496h2.4M398 350h2.4M398 453h2.4M398 498h2.4M399 365h2.4M399 419h2.4M399 421h2.4M399 455h2.4M399 458h2.4M400 458h2.4M401 390h2.4M401 391h2.4M401 398h2.4M401 433h2.4M401 437h2.4M401 451h2.4M401 480h2.4M402 412h2.4M402 464h2.4M402 473h2.4M402 478h2.4M402 491h2.4M403 474h2.4M403 499h2.4M404 367h2.4M404 447h2.4M404 479h2.4M405 305h2.4M405 377h2.4M405 471h2.4M405 501h2.4M406 418h2.4M406 478h2.4M406 496h2.4M407 425h2.4M407 442h2.4M407 444h2.4M407 467h2.4M407 468h2.4M407 506h2.4M408 210h2.4M408 335h2.4M408 459h2.4M408 465h2.4M408 475h2.4M408 476h2.4M408 487h2.4M408 489h2.4M409 252h2.4M409 450h2.4M409 451h2.4M409 481h2.4M409 483h2.4M409 486h2.4M410 435h2.4M410 458h2.4M410 466h2.4M410 475h2.4M410 482h2.4M410 485h2.4M411 187h2.4M411 439h2.4M411 442h2.4M411 466h2.4M411 499h2.4M412 294h2.4M412 451h2.4M412 455h2.4M412 459h2.4M412 461h2.4M412 469h2.4M412 481h2.4M412 484h2.4M412 486h2.4M412 489h2.4M412 496h2.4M413 357h2.4M413 430h2.4M413 432h2.4M413 436h2.4M413 453h2.4M413 464h2.4M413 480h2.4M413 481h2.4M413 485h2.4M413 489h2.4M413 506h2.4M414 221h2.4M414 400h2.4M414 467h2.4M414 472h2.4M414 474h2.4M414 482h2.4M414 484h2.4M415 199h2.4M415 216h2.4M415 433h2.4M415 471h2.4M415 483h2.4M415 493h2.4M415 506h2.4M416 233h2.4M416 240h2.4M416 352h2.4M416 441h2.4M416 447h2.4M416 453h2.4M416 459h2.4M416 473h2.4M416 503h2.4M416 511h2.4M417 230h2.4M417 312h2.4M417 413h2.4M417 447h2.4M417 450h2.4M417 461h2.4M417 469h2.4M417 475h2.4M417 495h2.4M417 506h2.4M418 410h2.4M418 455h2.4M418 459h2.4M418 482h2.4M418 486h2.4M418 489h2.4M418 491h2.4M418 493h2.4M418 500h2.4M419 333h2.4M419 338h2.4M419 446h2.4M419 449h2.4M419 468h2.4M419 473h2.4M419 477h2.4M419 478h2.4M419 483h2.4M419 498h2.4M419 508h2.4M420 244h2.4M420 447h2.4M420 448h2.4M420 463h2.4M420 473h2.4M420 474h2.4M420 477h2.4M420 481h2.4M420 482h2.4M420 487h2.4M420 489h2.4M420 498h2.4M420 511h2.4M421 422h2.4M421 432h2.4M421 436h2.4M421 459h2.4M421 464h2.4M421 465h2.4M421 466h2.4M421 470h2.4M421 473h2.4M421 474h2.4M421 477h2.4M421 482h2.4M421 492h2.4M421 493h2.4M421 495h2.4M421 500h2.4M421 501h2.4M422 269h2.4M422 365h2.4M422 423h2.4M422 431h2.4M422 438h2.4M422 452h2.4M422 456h2.4M422 464h2.4M422 466h2.4M422 477h2.4M422 480h2.4M422 483h2.4M422 484h2.4M422 489h2.4M422 493h2.4M422 495h2.4M422 496h2.4M422 497h2.4M423 252h2.4M423 274h2.4M423 428h2.4M423 452h2.4M423 454h2.4M423 455h2.4M423 456h2.4M423 464h2.4M423 467h2.4M423 469h2.4M423 477h2.4M423 479h2.4M423 481h2.4M423 493h2.4M424 328h2.4M424 340h2.4M424 362h2.4M424 447h2.4M424 456h2.4M424 464h2.4M424 467h2.4M424 468h2.4M424 471h2.4M424 474h2.4M424 485h2.4M424 496h2.4M424 501h2.4M424 503h2.4M425 270h2.4M425 299h2.4M425 326h2.4M425 444h2.4M425 448h2.4M425 454h2.4M425 460h2.4M425 465h2.4M425 474h2.4M425 481h2.4M425 487h2.4M425 492h2.4M425 493h2.4M425 497h2.4M425 501h2.4M425 502h2.4M425 513h2.4M426 196h2.4M426 282h2.4M426 381h2.4M426 412h2.4M426 437h2.4M426 444h2.4M426 450h2.4M426 458h2.4M426 473h2.4M426 486h2.4M426 489h2.4M426 495h2.4M426 496h2.4M427 207h2.4M427 251h2.4M427 452h2.4M427 457h2.4M427 463h2.4M427 468h2.4M427 469h2.4M427 471h2.4M427 472h2.4M427 474h2.4M427 479h2.4M427 485h2.4M427 488h2.4M427 492h2.4M427 500h2.4M428 236h2.4M428 279h2.4M428 430h2.4M428 443h2.4M428 445h2.4M428 458h2.4M428 462h2.4M428 464h2.4M428 466h2.4M428 469h2.4M428 482h2.4M428 486h2.4M428 491h2.4M428 492h2.4M428 501h2.4M428 505h2.4M428 510h2.4M429 225h2.4M429 334h2.4M429 347h2.4M429 420h2.4M429 435h2.4M429 445h2.4M429 452h2.4M429 463h2.4M429 464h2.4M429 467h2.4M429 470h2.4M429 471h2.4M429 476h2.4M429 479h2.4M429 486h2.4M429 494h2.4M429 496h2.4M429 500h2.4M430 410h2.4M430 414h2.4M430 442h2.4M430 453h2.4M430 455h2.4M430 460h2.4M430 461h2.4M430 463h2.4M430 466h2.4M430 471h2.4M430 475h2.4M430 481h2.4M430 486h2.4M430 487h2.4M430 504h2.4M430 508h2.4M431 203h2.4M431 219h2.4M431 297h2.4M431 329h2.4M431 405h2.4M431 407h2.4M431 437h2.4M431 445h2.4M431 451h2.4M431 474h2.4M431 476h2.4M431 480h2.4M431 484h2.4M431 486h2.4M431 489h2.4M431 499h2.4M431 509h2.4M432 199h2.4M432 360h2.4M432 361h2.4M432 447h2.4M432 452h2.4M432 461h2.4M432 462h2.4M432 466h2.4M432 468h2.4M432 470h2.4M432 471h2.4M432 472h2.4M432 473h2.4M432 475h2.4M432 476h2.4M432 479h2.4M432 480h2.4M432 486h2.4M432 487h2.4M432 497h2.4M432 501h2.4M432 511h2.4M433 245h2.4M433 296h2.4M433 330h2.4M433 331h2.4M433 360h2.4M433 384h2.4M433 440h2.4M433 442h2.4M433 451h2.4M433 463h2.4M433 466h2.4M433 469h2.4M433 472h2.4M433 475h2.4M433 476h2.4M433 477h2.4M433 478h2.4M433 480h2.4M433 483h2.4M433 485h2.4M433 486h2.4M433 487h2.4M433 498h2.4M433 506h2.4M433 509h2.4M433 518h2.4M434 226h2.4M434 241h2.4M434 303h2.4M434 343h2.4M434 354h2.4M434 356h2.4M434 367h2.4M434 372h2.4M434 396h2.4M434 401h2.4M434 407h2.4M434 418h2.4M434 439h2.4M434 451h2.4M434 460h2.4M434 467h2.4M434 474h2.4M434 477h2.4M434 479h2.4M434 481h2.4M434 482h2.4M434 505h2.4M435 273h2.4M435 281h2.4M435 313h2.4M435 412h2.4M435 443h2.4M435 464h2.4M435 465h2.4M435 473h2.4M435 474h2.4M435 491h2.4M435 495h2.4M435 496h2.4M435 497h2.4M435 499h2.4M435 501h2.4M436 284h2.4M436 376h2.4M436 394h2.4M436 417h2.4M436 421h2.4M436 428h2.4M436 446h2.4M436 452h2.4M436 459h2.4M436 462h2.4M436 465h2.4M436 470h2.4M436 471h2.4M436 473h2.4M436 476h2.4M436 478h2.4M436 480h2.4M436 487h2.4M436 488h2.4M436 492h2.4M436 500h2.4M436 504h2.4M437 215h2.4M437 255h2.4M437 315h2.4M437 330h2.4M437 444h2.4M437 450h2.4M437 457h2.4M437 460h2.4M437 463h2.4M437 469h2.4M437 470h2.4M437 472h2.4M437 473h2.4M437 478h2.4M437 479h2.4M437 480h2.4M437 481h2.4M437 483h2.4M437 484h2.4M437 492h2.4M437 494h2.4M437 497h2.4M437 501h2.4M438 370h2.4M438 412h2.4M438 431h2.4M438 453h2.4M438 462h2.4M438 472h2.4M438 476h2.4M438 478h2.4M438 484h2.4M438 486h2.4M438 491h2.4M438 495h2.4M438 499h2.4M438 501h2.4M438 505h2.4M438 517h2.4M439 234h2.4M439 258h2.4M439 262h2.4M439 289h2.4M439 296h2.4M439 333h2.4M439 335h2.4M439 449h2.4M439 450h2.4M439 451h2.4M439 452h2.4M439 455h2.4M439 460h2.4M439 465h2.4M439 466h2.4M439 478h2.4M439 480h2.4M439 483h2.4M439 487h2.4M439 490h2.4M439 504h2.4M439 517h2.4M440 270h2.4M440 340h2.4M440 379h2.4M440 410h2.4M440 428h2.4M440 433h2.4M440 452h2.4M440 460h2.4M440 461h2.4M440 465h2.4M440 472h2.4M440 476h2.4M440 485h2.4M440 489h2.4M440 490h2.4M440 506h2.4M441 334h2.4M441 419h2.4M441 425h2.4M441 439h2.4M441 446h2.4M441 448h2.4M441 455h2.4M441 460h2.4M441 471h2.4M441 475h2.4M441 476h2.4M441 477h2.4M441 484h2.4M441 489h2.4M441 497h2.4M441 500h2.4M441 508h2.4M442 243h2.4M442 309h2.4M442 378h2.4M442 380h2.4M442 411h2.4M442 413h2.4M442 444h2.4M442 449h2.4M442 452h2.4M442 455h2.4M442 458h2.4M442 460h2.4M442 463h2.4M442 466h2.4M442 470h2.4M442 476h2.4M442 478h2.4M442 483h2.4M442 491h2.4M442 495h2.4M442 503h2.4M442 511h2.4M442 512h2.4M443 227h2.4M443 248h2.4M443 270h2.4M443 380h2.4M443 399h2.4M443 415h2.4M443 419h2.4M443 433h2.4M443 443h2.4M443 445h2.4M443 447h2.4M443 456h2.4M443 462h2.4M443 463h2.4M443 465h2.4M443 472h2.4M443 475h2.4M443 478h2.4M443 479h2.4M443 484h2.4M443 485h2.4M443 488h2.4M443 490h2.4M443 491h2.4M443 495h2.4M443 498h2.4M443 503h2.4M444 307h2.4M444 377h2.4M444 425h2.4M444 434h2.4M444 437h2.4M444 443h2.4M444 445h2.4M444 449h2.4M444 450h2.4M444 452h2.4M444 456h2.4M444 462h2.4M444 466h2.4M444 467h2.4M444 471h2.4M444 477h2.4M444 479h2.4M444 480h2.4M444 481h2.4M444 493h2.4M444 494h2.4M444 496h2.4M444 508h2.4M445 221h2.4M445 296h2.4M445 303h2.4M445 346h2.4M445 397h2.4M445 415h2.4M445 419h2.4M445 422h2.4M445 437h2.4M445 449h2.4M445 455h2.4M445 456h2.4M445 459h2.4M445 470h2.4M445 472h2.4M445 477h2.4M445 480h2.4M445 484h2.4M445 485h2.4M445 486h2.4M445 490h2.4M445 492h2.4M445 494h2.4M445 495h2.4M445 501h2.4M445 504h2.4M445 506h2.4M446 179h2.4M446 207h2.4M446 368h2.4M446 391h2.4M446 424h2.4M446 428h2.4M446 433h2.4M446 434h2.4M446 436h2.4M446 437h2.4M446 438h2.4M446 440h2.4M446 447h2.4M446 449h2.4M446 458h2.4M446 465h2.4M446 466h2.4M446 478h2.4M446 487h2.4M446 494h2.4M446 508h2.4M446 519h2.4M447 238h2.4M447 307h2.4M447 365h2.4M447 369h2.4M447 412h2.4M447 428h2.4M447 437h2.4M447 438h2.4M447 455h2.4M447 457h2.4M447 458h2.4M447 459h2.4M447 460h2.4M447 462h2.4M447 464h2.4M447 465h2.4M447 471h2.4M447 481h2.4M447 482h2.4M447 483h2.4M447 484h2.4M447 485h2.4M447 486h2.4M447 489h2.4M447 490h2.4M447 492h2.4M447 496h2.4M447 497h2.4M447 501h2.4M447 503h2.4M447 504h2.4M447 507h2.4M447 511h2.4M448 418h2.4M448 422h2.4M448 433h2.4M448 437h2.4M448 441h2.4M448 446h2.4M448 448h2.4M448 452h2.4M448 453h2.4M448 455h2.4M448 462h2.4M448 466h2.4M448 469h2.4M448 473h2.4M448 477h2.4M448 480h2.4M448 481h2.4M448 487h2.4M448 492h2.4M448 501h2.4M448 502h2.4M448 504h2.4M448 506h2.4M448 510h2.4M448 518h2.4M449 232h2.4M449 323h2.4M449 373h2.4M449 409h2.4M449 428h2.4M449 433h2.4M449 434h2.4M449 436h2.4M449 455h2.4M449 460h2.4M449 468h2.4M449 472h2.4M449 475h2.4M449 478h2.4M449 479h2.4M449 485h2.4M449 491h2.4M449 493h2.4M449 497h2.4M449 504h2.4M449 505h2.4M449 516h2.4M449 517h2.4M450 298h2.4M450 320h2.4M450 327h2.4M450 394h2.4M450 411h2.4M450 420h2.4M450 421h2.4M450 428h2.4M450 444h2.4M450 450h2.4M450 458h2.4M450 462h2.4M450 464h2.4M450 468h2.4M450 469h2.4M450 470h2.4M450 471h2.4M450 472h2.4M450 477h2.4M450 486h2.4M450 487h2.4M450 495h2.4M450 497h2.4M450 500h2.4M450 503h2.4M451 228h2.4M451 352h2.4M451 357h2.4M451 366h2.4M451 398h2.4M451 407h2.4M451 416h2.4M451 446h2.4M451 448h2.4M451 450h2.4M451 457h2.4M451 464h2.4M451 467h2.4M451 472h2.4M451 473h2.4M451 477h2.4M451 478h2.4M451 485h2.4M451 493h2.4M451 494h2.4M451 496h2.4M451 503h2.4M451 507h2.4M452 336h2.4M452 353h2.4M452 395h2.4M452 414h2.4M452 422h2.4M452 435h2.4M452 440h2.4M452 457h2.4M452 458h2.4M452 463h2.4M452 467h2.4M452 478h2.4M452 480h2.4M452 481h2.4M452 482h2.4M452 485h2.4M452 492h2.4M452 494h2.4M452 495h2.4M452 499h2.4M452 507h2.4M452 512h2.4M453 251h2.4M453 264h2.4M453 281h2.4M453 284h2.4M453 305h2.4M453 347h2.4M453 379h2.4M453 380h2.4M453 382h2.4M453 384h2.4M453 394h2.4M453 433h2.4M453 434h2.4M453 446h2.4M453 451h2.4M453 456h2.4M453 458h2.4M453 465h2.4M453 467h2.4M453 469h2.4M453 473h2.4M453 485h2.4M453 495h2.4M454 305h2.4M454 311h2.4M454 317h2.4M454 370h2.4M454 408h2.4M454 415h2.4M454 421h2.4M454 422h2.4M454 428h2.4M454 431h2.4M454 435h2.4M454 448h2.4M454 449h2.4M454 451h2.4M454 452h2.4M454 456h2.4M454 469h2.4M454 481h2.4M454 486h2.4M454 491h2.4M454 508h2.4M454 514h2.4M455 263h2.4M455 316h2.4M455 322h2.4M455 345h2.4M455 357h2.4M455 419h2.4M455 429h2.4M455 438h2.4M455 447h2.4M455 471h2.4M455 481h2.4M455 482h2.4M455 483h2.4M455 488h2.4M455 489h2.4M456 258h2.4M456 284h2.4M456 327h2.4M456 361h2.4M456 375h2.4M456 382h2.4M456 414h2.4M456 432h2.4M456 435h2.4M456 442h2.4M456 445h2.4M456 448h2.4M456 455h2.4M456 458h2.4M456 459h2.4M456 461h2.4M456 463h2.4M456 464h2.4M456 465h2.4M456 466h2.4M456 476h2.4M456 483h2.4M456 487h2.4M456 489h2.4M456 493h2.4M457 204h2.4M457 205h2.4M457 292h2.4M457 296h2.4M457 316h2.4M457 332h2.4M457 362h2.4M457 378h2.4M457 390h2.4M457 398h2.4M457 407h2.4M457 420h2.4M457 422h2.4M457 430h2.4M457 436h2.4M457 461h2.4M457 466h2.4M457 467h2.4M457 468h2.4M457 475h2.4M457 482h2.4M457 487h2.4M457 495h2.4M458 248h2.4M458 252h2.4M458 258h2.4M458 342h2.4M458 367h2.4M458 390h2.4M458 393h2.4M458 397h2.4M458 402h2.4M458 406h2.4M458 408h2.4M458 414h2.4M458 423h2.4M458 425h2.4M458 436h2.4M458 440h2.4M458 443h2.4M458 447h2.4M458 453h2.4M458 458h2.4M458 461h2.4M458 465h2.4M458 466h2.4M458 472h2.4M458 477h2.4M458 490h2.4M458 497h2.4M458 502h2.4M458 515h2.4M459 243h2.4M459 300h2.4M459 313h2.4M459 315h2.4M459 326h2.4M459 330h2.4M459 334h2.4M459 336h2.4M459 350h2.4M459 351h2.4M459 359h2.4M459 388h2.4M459 396h2.4M459 398h2.4M459 407h2.4M459 410h2.4M459 434h2.4M459 438h2.4M459 443h2.4M459 446h2.4M459 450h2.4M459 451h2.4M459 455h2.4M459 457h2.4M459 458h2.4M459 459h2.4M459 460h2.4M459 465h2.4M459 475h2.4M459 480h2.4M459 487h2.4M459 488h2.4M459 501h2.4M459 518h2.4M460 197h2.4M460 260h2.4M460 261h2.4M460 265h2.4M460 281h2.4M460 307h2.4M460 312h2.4M460 316h2.4M460 321h2.4M460 329h2.4M460 337h2.4M460 339h2.4M460 345h2.4M460 366h2.4M460 377h2.4M460 393h2.4M460 409h2.4M460 419h2.4M460 428h2.4M460 439h2.4M460 455h2.4M460 480h2.4M460 482h2.4M460 484h2.4M460 486h2.4M460 488h2.4M460 490h2.4M460 493h2.4M460 514h2.4M461 229h2.4M461 241h2.4M461 299h2.4M461 307h2.4M461 321h2.4M461 327h2.4M461 338h2.4M461 349h2.4M461 353h2.4M461 354h2.4M461 356h2.4M461 366h2.4M461 377h2.4M461 383h2.4M461 414h2.4M461 415h2.4M461 416h2.4M461 433h2.4M461 442h2.4M461 447h2.4M461 456h2.4M461 462h2.4M461 474h2.4M461 478h2.4M461 486h2.4M461 489h2.4M461 499h2.4M461 518h2.4M462 284h2.4M462 293h2.4M462 309h2.4M462 322h2.4M462 324h2.4M462 343h2.4M462 352h2.4M462 360h2.4M462 369h2.4M462 396h2.4M462 403h2.4M462 416h2.4M462 421h2.4M462 424h2.4M462 429h2.4M462 435h2.4M462 437h2.4M462 440h2.4M462 449h2.4M462 457h2.4M462 465h2.4M462 466h2.4M462 469h2.4M462 470h2.4M462 472h2.4M462 474h2.4M462 475h2.4M462 485h2.4M462 490h2.4M462 499h2.4M463 229h2.4M463 236h2.4M463 250h2.4M463 271h2.4M463 283h2.4M463 316h2.4M463 324h2.4M463 329h2.4M463 331h2.4M463 332h2.4M463 339h2.4M463 346h2.4M463 348h2.4M463 368h2.4M463 373h2.4M463 384h2.4M463 409h2.4M463 415h2.4M463 426h2.4M463 428h2.4M463 433h2.4M463 448h2.4M463 450h2.4M463 458h2.4M463 468h2.4M463 491h2.4M464 235h2.4M464 254h2.4M464 267h2.4M464 297h2.4M464 300h2.4M464 302h2.4M464 309h2.4M464 312h2.4M464 330h2.4M464 350h2.4M464 352h2.4M464 353h2.4M464 356h2.4M464 364h2.4M464 369h2.4M464 370h2.4M464 378h2.4M464 382h2.4M464 433h2.4M464 436h2.4M464 439h2.4M464 440h2.4M464 443h2.4M464 444h2.4M464 458h2.4M464 462h2.4M464 466h2.4M464 474h2.4M464 481h2.4M464 485h2.4M464 486h2.4M465 208h2.4M465 232h2.4M465 241h2.4M465 258h2.4M465 262h2.4M465 272h2.4M465 274h2.4M465 283h2.4M465 308h2.4M465 310h2.4M465 330h2.4M465 333h2.4M465 338h2.4M465 340h2.4M465 352h2.4M465 358h2.4M465 366h2.4M465 369h2.4M465 381h2.4M465 393h2.4M465 397h2.4M465 412h2.4M465 415h2.4M465 420h2.4M465 424h2.4M465 426h2.4M465 446h2.4M465 447h2.4M465 448h2.4M465 452h2.4M465 457h2.4M465 469h2.4M465 472h2.4M465 477h2.4M465 479h2.4M466 247h2.4M466 263h2.4M466 287h2.4M466 300h2.4M466 305h2.4M466 319h2.4M466 320h2.4M466 322h2.4M466 329h2.4M466 330h2.4M466 333h2.4M466 347h2.4M466 349h2.4M466 355h2.4M466 360h2.4M466 366h2.4M466 373h2.4M466 386h2.4M466 388h2.4M466 390h2.4M466 398h2.4M466 411h2.4M466 431h2.4M466 442h2.4M466 462h2.4M466 472h2.4M466 478h2.4M466 484h2.4M466 485h2.4M466 489h2.4M466 490h2.4M466 498h2.4M466 513h2.4M467 215h2.4M467 224h2.4M467 254h2.4M467 277h2.4M467 293h2.4M467 294h2.4M467 301h2.4M467 305h2.4M467 314h2.4M467 318h2.4M467 321h2.4M467 324h2.4M467 325h2.4M467 332h2.4M467 339h2.4M467 341h2.4M467 343h2.4M467 354h2.4M467 358h2.4M467 359h2.4M467 360h2.4M467 365h2.4M467 367h2.4M467 403h2.4M467 408h2.4M467 412h2.4M467 423h2.4M467 428h2.4M467 429h2.4M467 432h2.4M467 445h2.4M467 454h2.4M467 465h2.4M467 468h2.4M467 470h2.4M467 476h2.4M467 485h2.4M467 496h2.4M467 508h2.4M468 202h2.4M468 226h2.4M468 235h2.4M468 259h2.4M468 271h2.4M468 278h2.4M468 294h2.4M468 301h2.4M468 312h2.4M468 314h2.4M468 322h2.4M468 326h2.4M468 339h2.4M468 343h2.4M468 347h2.4M468 348h2.4M468 352h2.4M468 353h2.4M468 354h2.4M468 356h2.4M468 369h2.4M468 370h2.4M468 374h2.4M468 378h2.4M468 390h2.4M468 393h2.4M468 401h2.4M468 402h2.4M468 405h2.4M468 409h2.4M468 410h2.4M468 418h2.4M468 420h2.4M468 426h2.4M468 435h2.4M468 438h2.4M468 448h2.4M468 456h2.4M468 473h2.4M468 476h2.4M468 484h2.4M468 488h2.4M468 493h2.4M468 506h2.4M469 202h2.4M469 221h2.4M469 235h2.4M469 272h2.4M469 278h2.4M469 285h2.4M469 298h2.4M469 299h2.4M469 300h2.4M469 301h2.4M469 317h2.4M469 319h2.4M469 322h2.4M469 324h2.4M469 330h2.4M469 331h2.4M469 333h2.4M469 338h2.4M469 341h2.4M469 350h2.4M469 353h2.4M469 354h2.4M469 357h2.4M469 361h2.4M469 365h2.4M469 367h2.4M469 378h2.4M469 385h2.4M469 389h2.4M469 399h2.4M469 411h2.4M469 416h2.4M469 420h2.4M469 426h2.4M469 431h2.4M469 432h2.4M469 442h2.4M469 447h2.4M469 452h2.4M469 461h2.4M469 469h2.4M469 479h2.4M469 481h2.4M469 483h2.4M469 486h2.4M469 488h2.4M469 497h2.4M470 175h2.4M470 219h2.4M470 234h2.4M470 236h2.4M470 250h2.4M470 262h2.4M470 267h2.4M470 269h2.4M470 277h2.4M470 285h2.4M470 290h2.4M470 292h2.4M470 297h2.4M470 299h2.4M470 300h2.4M470 307h2.4M470 308h2.4M470 309h2.4M470 315h2.4M470 317h2.4M470 326h2.4M470 327h2.4M470 328h2.4M470 337h2.4M470 341h2.4M470 344h2.4M470 348h2.4M470 350h2.4M470 352h2.4M470 355h2.4M470 357h2.4M470 358h2.4M470 364h2.4M470 372h2.4M470 374h2.4M470 381h2.4M470 385h2.4M470 407h2.4M470 420h2.4M470 421h2.4M470 427h2.4M470 430h2.4M470 436h2.4M470 445h2.4M470 449h2.4M470 451h2.4M470 454h2.4M470 455h2.4M470 456h2.4M470 463h2.4M470 471h2.4M470 481h2.4M470 509h2.4M471 187h2.4M471 217h2.4M471 244h2.4M471 261h2.4M471 269h2.4M471 277h2.4M471 279h2.4M471 280h2.4M471 287h2.4M471 288h2.4M471 294h2.4M471 305h2.4M471 306h2.4M471 307h2.4M471 310h2.4M471 312h2.4M471 314h2.4M471 317h2.4M471 318h2.4M471 322h2.4M471 324h2.4M471 327h2.4M471 328h2.4M471 332h2.4M471 333h2.4M471 334h2.4M471 339h2.4M471 342h2.4M471 344h2.4M471 350h2.4M471 353h2.4M471 354h2.4M471 356h2.4M471 357h2.4M471 367h2.4M471 368h2.4M471 370h2.4M471 371h2.4M471 374h2.4M471 377h2.4M471 394h2.4M471 401h2.4M471 408h2.4M471 412h2.4M471 414h2.4M471 450h2.4M471 467h2.4M471 475h2.4M471 482h2.4M471 492h2.4M472 179h2.4M472 186h2.4M472 201h2.4M472 209h2.4M472 213h2.4M472 270h2.4M472 271h2.4M472 272h2.4M472 276h2.4M472 277h2.4M472 287h2.4M472 298h2.4M472 299h2.4M472 303h2.4M472 305h2.4M472 308h2.4M472 315h2.4M472 316h2.4M472 321h2.4M472 322h2.4M472 326h2.4M472 328h2.4M472 331h2.4M472 332h2.4M472 335h2.4M472 340h2.4M472 341h2.4M472 343h2.4M472 356h2.4M472 357h2.4M472 358h2.4M472 366h2.4M472 370h2.4M472 378h2.4M472 384h2.4M472 388h2.4M472 389h2.4M472 394h2.4M472 400h2.4M472 409h2.4M472 412h2.4M472 413h2.4M472 415h2.4M472 428h2.4M472 434h2.4M472 435h2.4M472 470h2.4M472 499h2.4M472 507h2.4M473 190h2.4M473 217h2.4M473 239h2.4M473 245h2.4M473 272h2.4M473 275h2.4M473 290h2.4M473 293h2.4M473 297h2.4M473 301h2.4M473 302h2.4M473 306h2.4M473 312h2.4M473 315h2.4M473 316h2.4M473 321h2.4M473 324h2.4M473 325h2.4M473 326h2.4M473 334h2.4M473 342h2.4M473 343h2.4M473 344h2.4M473 347h2.4M473 349h2.4M473 352h2.4M473 354h2.4M473 356h2.4M473 357h2.4M473 358h2.4M473 362h2.4M473 363h2.4M473 364h2.4M473 366h2.4M473 369h2.4M473 371h2.4M473 373h2.4M473 374h2.4M473 380h2.4M473 384h2.4M473 394h2.4M473 396h2.4M473 400h2.4M473 406h2.4M473 410h2.4M473 445h2.4M473 461h2.4M473 465h2.4M473 469h2.4M473 472h2.4M473 476h2.4M473 481h2.4M473 489h2.4M473 510h2.4M474 217h2.4M474 231h2.4M474 234h2.4M474 237h2.4M474 252h2.4M474 256h2.4M474 264h2.4M474 276h2.4M474 280h2.4M474 291h2.4M474 293h2.4M474 295h2.4M474 298h2.4M474 300h2.4M474 301h2.4M474 303h2.4M474 312h2.4M474 313h2.4M474 316h2.4M474 319h2.4M474 320h2.4M474 325h2.4M474 328h2.4M474 330h2.4M474 332h2.4M474 334h2.4M474 336h2.4M474 338h2.4M474 342h2.4M474 345h2.4M474 346h2.4M474 347h2.4M474 351h2.4M474 352h2.4M474 353h2.4M474 355h2.4M474 356h2.4M474 363h2.4M474 366h2.4M474 367h2.4M474 369h2.4M474 373h2.4M474 376h2.4M474 377h2.4M474 384h2.4M474 389h2.4M474 403h2.4M474 409h2.4M474 410h2.4M474 434h2.4M474 445h2.4M474 450h2.4M474 451h2.4M474 464h2.4M474 481h2.4M474 485h2.4M474 519h2.4M475 259h2.4M475 260h2.4M475 282h2.4M475 283h2.4M475 285h2.4M475 286h2.4M475 293h2.4M475 295h2.4M475 296h2.4M475 304h2.4M475 305h2.4M475 306h2.4M475 313h2.4M475 315h2.4M475 316h2.4M475 318h2.4M475 319h2.4M475 324h2.4M475 325h2.4M475 327h2.4M475 330h2.4M475 331h2.4M475 332h2.4M475 333h2.4M475 334h2.4M475 339h2.4M475 341h2.4M475 343h2.4M475 344h2.4M475 345h2.4M475 346h2.4M475 348h2.4M475 351h2.4M475 352h2.4M475 353h2.4M475 356h2.4M475 357h2.4M475 358h2.4M475 363h2.4M475 364h2.4M475 372h2.4M475 377h2.4M475 383h2.4M475 384h2.4M475 395h2.4M475 402h2.4M475 405h2.4M475 414h2.4M475 422h2.4M475 423h2.4M475 424h2.4M475 425h2.4M475 449h2.4M475 462h2.4M475 470h2.4M475 487h2.4M475 492h2.4M476 215h2.4M476 231h2.4M476 236h2.4M476 237h2.4M476 242h2.4M476 244h2.4M476 253h2.4M476 254h2.4M476 258h2.4M476 259h2.4M476 268h2.4M476 274h2.4M476 277h2.4M476 281h2.4M476 293h2.4M476 294h2.4M476 298h2.4M476 299h2.4M476 301h2.4M476 309h2.4M476 310h2.4M476 311h2.4M476 312h2.4M476 317h2.4M476 318h2.4M476 319h2.4M476 322h2.4M476 323h2.4M476 325h2.4M476 327h2.4M476 331h2.4M476 334h2.4M476 335h2.4M476 336h2.4M476 337h2.4M476 338h2.4M476 339h2.4M476 340h2.4M476 341h2.4M476 343h2.4M476 344h2.4M476 346h2.4M476 347h2.4M476 351h2.4M476 353h2.4M476 355h2.4M476 356h2.4M476 357h2.4M476 358h2.4M476 360h2.4M476 361h2.4M476 362h2.4M476 363h2.4M476 369h2.4M476 370h2.4M476 378h2.4M476 379h2.4M476 383h2.4M476 385h2.4M476 389h2.4M476 390h2.4M476 403h2.4M476 417h2.4M476 430h2.4M476 432h2.4M476 433h2.4M476 443h2.4M476 448h2.4M476 457h2.4M476 482h2.4M476 483h2.4M476 488h2.4M477 229h2.4M477 242h2.4M477 263h2.4M477 265h2.4M477 270h2.4M477 286h2.4M477 287h2.4M477 289h2.4M477 294h2.4M477 299h2.4M477 304h2.4M477 305h2.4M477 307h2.4M477 308h2.4M477 314h2.4M477 318h2.4M477 320h2.4M477 325h2.4M477 326h2.4M477 327h2.4M477 328h2.4M477 331h2.4M477 332h2.4M477 334h2.4M477 336h2.4M477 337h2.4M477 338h2.4M477 339h2.4M477 340h2.4M477 341h2.4M477 342h2.4M477 344h2.4M477 348h2.4M477 350h2.4M477 354h2.4M477 355h2.4M477 357h2.4M477 358h2.4M477 359h2.4M477 361h2.4M477 368h2.4M477 369h2.4M477 371h2.4M477 373h2.4M477 376h2.4M477 384h2.4M477 393h2.4M477 395h2.4M477 398h2.4M477 399h2.4M477 400h2.4M477 402h2.4M477 405h2.4M477 412h2.4M477 428h2.4M477 440h2.4M477 444h2.4M477 453h2.4M477 455h2.4M477 472h2.4M477 474h2.4M478 182h2.4M478 200h2.4M478 205h2.4M478 217h2.4M478 243h2.4M478 245h2.4M478 247h2.4M478 253h2.4M478 254h2.4M478 268h2.4M478 277h2.4M478 284h2.4M478 290h2.4M478 293h2.4M478 305h2.4M478 308h2.4M478 310h2.4M478 311h2.4M478 312h2.4M478 315h2.4M478 317h2.4M478 318h2.4M478 319h2.4M478 321h2.4M478 323h2.4M478 326h2.4M478 329h2.4M478 330h2.4M478 331h2.4M478 332h2.4M478 337h2.4M478 342h2.4M478 343h2.4M478 344h2.4M478 347h2.4M478 348h2.4M478 349h2.4M478 352h2.4M478 358h2.4M478 359h2.4M478 360h2.4M478 367h2.4M478 369h2.4M478 370h2.4M478 371h2.4M478 372h2.4M478 383h2.4M478 386h2.4M478 390h2.4M478 397h2.4M478 405h2.4M478 406h2.4M478 408h2.4M478 422h2.4M478 425h2.4M478 430h2.4M478 435h2.4M478 463h2.4M479 220h2.4M479 229h2.4M479 231h2.4M479 241h2.4M479 260h2.4M479 272h2.4M479 274h2.4M479 285h2.4M479 286h2.4M479 293h2.4M479 294h2.4M479 307h2.4M479 309h2.4M479 315h2.4M479 316h2.4M479 318h2.4M479 319h2.4M479 320h2.4M479 323h2.4M479 324h2.4M479 325h2.4M479 328h2.4M479 332h2.4M479 334h2.4M479 336h2.4M479 337h2.4M479 338h2.4M479 339h2.4M479 340h2.4M479 343h2.4M479 344h2.4M479 349h2.4M479 350h2.4M479 351h2.4M479 352h2.4M479 354h2.4M479 357h2.4M479 361h2.4M479 362h2.4M479 363h2.4M479 364h2.4M479 366h2.4M479 379h2.4M479 380h2.4M479 387h2.4M479 416h2.4M479 424h2.4M479 436h2.4M479 444h2.4M479 448h2.4M479 454h2.4M479 464h2.4M479 511h2.4M480 178h2.4M480 185h2.4M480 203h2.4M480 219h2.4M480 230h2.4M480 234h2.4M480 243h2.4M480 245h2.4M480 257h2.4M480 264h2.4M480 267h2.4M480 271h2.4M480 285h2.4M480 291h2.4M480 292h2.4M480 293h2.4M480 298h2.4M480 303h2.4M480 308h2.4M480 310h2.4M480 312h2.4M480 313h2.4M480 315h2.4M480 318h2.4M480 320h2.4M480 322h2.4M480 325h2.4M480 327h2.4M480 332h2.4M480 333h2.4M480 335h2.4M480 339h2.4M480 341h2.4M480 344h2.4M480 345h2.4M480 347h2.4M480 348h2.4M480 349h2.4M480 352h2.4M480 353h2.4M480 355h2.4M480 356h2.4M480 359h2.4M480 360h2.4M480 364h2.4M480 365h2.4M480 366h2.4M480 370h2.4M480 371h2.4M480 373h2.4M480 374h2.4M480 375h2.4M480 376h2.4M480 380h2.4M480 382h2.4M480 384h2.4M480 391h2.4M480 396h2.4M480 403h2.4M480 404h2.4M480 408h2.4M480 424h2.4M480 431h2.4M480 446h2.4M480 450h2.4M480 461h2.4M480 519h2.4M481 188h2.4M481 203h2.4M481 230h2.4M481 233h2.4M481 240h2.4M481 249h2.4M481 259h2.4M481 260h2.4M481 262h2.4M481 266h2.4M481 271h2.4M481 273h2.4M481 278h2.4M481 280h2.4M481 291h2.4M481 294h2.4M481 297h2.4M481 303h2.4M481 304h2.4M481 306h2.4M481 307h2.4M481 310h2.4M481 313h2.4M481 315h2.4M481 316h2.4M481 319h2.4M481 327h2.4M481 332h2.4M481 333h2.4M481 334h2.4M481 335h2.4M481 337h2.4M481 338h2.4M481 340h2.4M481 341h2.4M481 342h2.4M481 343h2.4M481 345h2.4M481 346h2.4M481 348h2.4M481 350h2.4M481 351h2.4M481 352h2.4M481 354h2.4M481 356h2.4M481 358h2.4M481 361h2.4M481 362h2.4M481 363h2.4M481 364h2.4M481 367h2.4M481 371h2.4M481 373h2.4M481 377h2.4M481 378h2.4M481 380h2.4M481 389h2.4M481 391h2.4M481 395h2.4M481 413h2.4M481 414h2.4M481 419h2.4M481 423h2.4M481 427h2.4M481 446h2.4M481 466h2.4M481 504h2.4M482 225h2.4M482 230h2.4M482 234h2.4M482 250h2.4M482 252h2.4M482 254h2.4M482 256h2.4M482 271h2.4M482 277h2.4M482 278h2.4M482 280h2.4M482 281h2.4M482 283h2.4M482 288h2.4M482 293h2.4M482 297h2.4M482 299h2.4M482 302h2.4M482 303h2.4M482 304h2.4M482 305h2.4M482 308h2.4M482 309h2.4M482 311h2.4M482 316h2.4M482 320h2.4M482 322h2.4M482 323h2.4M482 324h2.4M482 325h2.4M482 329h2.4M482 330h2.4M482 332h2.4M482 333h2.4M482 334h2.4M482 335h2.4M482 336h2.4M482 339h2.4M482 341h2.4M482 342h2.4M482 346h2.4M482 347h2.4M482 348h2.4M482 349h2.4M482 351h2.4M482 352h2.4M482 353h2.4M482 356h2.4M482 357h2.4M482 358h2.4M482 359h2.4M482 360h2.4M482 362h2.4M482 363h2.4M482 365h2.4M482 366h2.4M482 372h2.4M482 373h2.4M482 374h2.4M482 377h2.4M482 379h2.4M482 384h2.4M482 388h2.4M482 396h2.4M482 405h2.4M482 412h2.4M482 413h2.4M482 417h2.4M482 418h2.4M482 419h2.4M482 420h2.4M482 434h2.4M482 450h2.4M482 493h2.4M482 511h2.4M483 234h2.4M483 239h2.4M483 241h2.4M483 246h2.4M483 249h2.4M483 273h2.4M483 275h2.4M483 282h2.4M483 286h2.4M483 288h2.4M483 294h2.4M483 302h2.4M483 303h2.4M483 304h2.4M483 308h2.4M483 309h2.4M483 311h2.4M483 313h2.4M483 314h2.4M483 316h2.4M483 317h2.4M483 320h2.4M483 323h2.4M483 324h2.4M483 327h2.4M483 328h2.4M483 329h2.4M483 330h2.4M483 331h2.4M483 333h2.4M483 334h2.4M483 335h2.4M483 336h2.4M483 338h2.4M483 344h2.4M483 345h2.4M483 347h2.4M483 349h2.4M483 350h2.4M483 353h2.4M483 357h2.4M483 360h2.4M483 362h2.4M483 366h2.4M483 369h2.4M483 370h2.4M483 371h2.4M483 374h2.4M483 375h2.4M483 376h2.4M483 377h2.4M483 379h2.4M483 383h2.4M483 384h2.4M483 387h2.4M483 391h2.4M483 393h2.4M483 394h2.4M483 395h2.4M483 396h2.4M483 403h2.4M483 406h2.4M483 408h2.4M483 420h2.4M483 443h2.4M483 445h2.4M483 451h2.4M483 454h2.4M484 188h2.4M484 205h2.4M484 233h2.4M484 250h2.4M484 251h2.4M484 252h2.4M484 273h2.4M484 278h2.4M484 281h2.4M484 289h2.4M484 290h2.4M484 294h2.4M484 297h2.4M484 299h2.4M484 305h2.4M484 306h2.4M484 307h2.4M484 310h2.4M484 313h2.4M484 314h2.4M484 315h2.4M484 319h2.4M484 321h2.4M484 325h2.4M484 332h2.4M484 333h2.4M484 334h2.4M484 335h2.4M484 336h2.4M484 337h2.4M484 338h2.4M484 339h2.4M484 340h2.4M484 341h2.4M484 342h2.4M484 344h2.4M484 345h2.4M484 347h2.4M484 348h2.4M484 350h2.4M484 351h2.4M484 352h2.4M484 353h2.4M484 355h2.4M484 356h2.4M484 357h2.4M484 358h2.4M484 359h2.4M484 360h2.4M484 368h2.4M484 370h2.4M484 373h2.4M484 375h2.4M484 376h2.4M484 377h2.4M484 385h2.4M484 388h2.4M484 391h2.4M484 401h2.4M484 445h2.4M484 461h2.4M484 470h2.4M484 487h2.4M484 502h2.4M485 244h2.4M485 260h2.4M485 268h2.4M485 278h2.4M485 279h2.4M485 282h2.4M485 288h2.4M485 289h2.4M485 293h2.4M485 294h2.4M485 296h2.4M485 298h2.4M485 300h2.4M485 315h2.4M485 317h2.4M485 319h2.4M485 321h2.4M485 322h2.4M485 323h2.4M485 324h2.4M485 325h2.4M485 326h2.4M485 331h2.4M485 333h2.4M485 335h2.4M485 337h2.4M485 338h2.4M485 339h2.4M485 340h2.4M485 342h2.4M485 343h2.4M485 344h2.4M485 345h2.4M485 347h2.4M485 349h2.4M485 350h2.4M485 354h2.4M485 357h2.4M485 361h2.4M485 362h2.4M485 363h2.4M485 366h2.4M485 368h2.4M485 369h2.4M485 372h2.4M485 374h2.4M485 376h2.4M485 379h2.4M485 380h2.4M485 384h2.4M485 385h2.4M485 386h2.4M485 391h2.4M485 395h2.4M485 404h2.4M485 415h2.4M485 426h2.4M485 427h2.4M485 475h2.4M485 483h2.4M486 217h2.4M486 227h2.4M486 233h2.4M486 236h2.4M486 255h2.4M486 257h2.4M486 266h2.4M486 282h2.4M486 283h2.4M486 289h2.4M486 291h2.4M486 293h2.4M486 295h2.4M486 299h2.4M486 302h2.4M486 303h2.4M486 304h2.4M486 305h2.4M486 310h2.4M486 311h2.4M486 315h2.4M486 317h2.4M486 318h2.4M486 321h2.4M486 322h2.4M486 325h2.4M486 326h2.4M486 327h2.4M486 329h2.4M486 330h2.4M486 332h2.4M486 333h2.4M486 340h2.4M486 341h2.4M486 342h2.4M486 343h2.4M486 344h2.4M486 346h2.4M486 348h2.4M486 349h2.4M486 351h2.4M486 352h2.4M486 353h2.4M486 354h2.4M486 357h2.4M486 359h2.4M486 360h2.4M486 361h2.4M486 365h2.4M486 367h2.4M486 368h2.4M486 372h2.4M486 374h2.4M486 376h2.4M486 380h2.4M486 381h2.4M486 383h2.4M486 385h2.4M486 393h2.4M486 422h2.4M486 423h2.4M486 431h2.4M486 434h2.4M486 476h2.4M486 481h2.4M486 497h2.4M487 198h2.4M487 210h2.4M487 241h2.4M487 243h2.4M487 248h2.4M487 258h2.4M487 263h2.4M487 268h2.4M487 269h2.4M487 270h2.4M487 273h2.4M487 274h2.4M487 275h2.4M487 276h2.4M487 281h2.4M487 291h2.4M487 292h2.4M487 296h2.4M487 297h2.4M487 303h2.4M487 307h2.4M487 308h2.4M487 310h2.4M487 311h2.4M487 312h2.4M487 313h2.4M487 314h2.4M487 315h2.4M487 318h2.4M487 320h2.4M487 321h2.4M487 323h2.4M487 324h2.4M487 330h2.4M487 331h2.4M487 332h2.4M487 334h2.4M487 335h2.4M487 336h2.4M487 337h2.4M487 340h2.4M487 341h2.4M487 342h2.4M487 343h2.4M487 345h2.4M487 347h2.4M487 349h2.4M487 351h2.4M487 355h2.4M487 357h2.4M487 358h2.4M487 360h2.4M487 361h2.4M487 362h2.4M487 363h2.4M487 367h2.4M487 371h2.4M487 372h2.4M487 373h2.4M487 378h2.4M487 380h2.4M487 384h2.4M487 397h2.4M487 399h2.4M487 402h2.4M487 414h2.4M487 438h2.4M487 487h2.4M488 208h2.4M488 211h2.4M488 233h2.4M488 257h2.4M488 266h2.4M488 268h2.4M488 275h2.4M488 287h2.4M488 288h2.4M488 291h2.4M488 292h2.4M488 293h2.4M488 295h2.4M488 298h2.4M488 303h2.4M488 308h2.4M488 312h2.4M488 313h2.4M488 315h2.4M488 317h2.4M488 321h2.4M488 322h2.4M488 323h2.4M488 326h2.4M488 328h2.4M488 330h2.4M488 331h2.4M488 332h2.4M488 334h2.4M488 335h2.4M488 336h2.4M488 341h2.4M488 344h2.4M488 345h2.4M488 346h2.4M488 347h2.4M488 348h2.4M488 349h2.4M488 351h2.4M488 353h2.4M488 354h2.4M488 356h2.4M488 357h2.4M488 358h2.4M488 359h2.4M488 362h2.4M488 367h2.4M488 368h2.4M488 369h2.4M488 372h2.4M488 377h2.4M488 379h2.4M488 380h2.4M488 383h2.4M488 389h2.4M488 399h2.4M488 400h2.4M488 406h2.4M488 407h2.4M488 424h2.4M488 425h2.4M488 438h2.4M488 466h2.4M488 470h2.4M488 499h2.4M489 184h2.4M489 195h2.4M489 220h2.4M489 224h2.4M489 237h2.4M489 247h2.4M489 261h2.4M489 276h2.4M489 279h2.4M489 283h2.4M489 296h2.4M489 298h2.4M489 299h2.4M489 301h2.4M489 303h2.4M489 306h2.4M489 311h2.4M489 312h2.4M489 313h2.4M489 316h2.4M489 319h2.4M489 320h2.4M489 322h2.4M489 325h2.4M489 327h2.4M489 328h2.4M489 329h2.4M489 334h2.4M489 336h2.4M489 337h2.4M489 340h2.4M489 342h2.4M489 344h2.4M489 345h2.4M489 347h2.4M489 348h2.4M489 350h2.4M489 351h2.4M489 353h2.4M489 355h2.4M489 357h2.4M489 360h2.4M489 361h2.4M489 362h2.4M489 375h2.4M489 384h2.4M489 385h2.4M489 388h2.4M489 392h2.4M489 394h2.4M489 397h2.4M489 398h2.4M489 416h2.4M489 421h2.4M489 456h2.4M489 457h2.4M489 466h2.4M489 474h2.4M489 500h2.4M489 509h2.4M490 172h2.4M490 180h2.4M490 241h2.4M490 244h2.4M490 245h2.4M490 256h2.4M490 266h2.4M490 267h2.4M490 268h2.4M490 273h2.4M490 284h2.4M490 289h2.4M490 294h2.4M490 295h2.4M490 302h2.4M490 305h2.4M490 306h2.4M490 307h2.4M490 309h2.4M490 315h2.4M490 317h2.4M490 318h2.4M490 319h2.4M490 322h2.4M490 323h2.4M490 325h2.4M490 327h2.4M490 328h2.4M490 330h2.4M490 338h2.4M490 339h2.4M490 340h2.4M490 341h2.4M490 343h2.4M490 345h2.4M490 346h2.4M490 347h2.4M490 349h2.4M490 353h2.4M490 356h2.4M490 358h2.4M490 360h2.4M490 364h2.4M490 366h2.4M490 370h2.4M490 373h2.4M490 375h2.4M490 376h2.4M490 377h2.4M490 378h2.4M490 379h2.4M490 382h2.4M490 386h2.4M490 395h2.4M490 442h2.4M490 511h2.4M491 206h2.4M491 229h2.4M491 232h2.4M491 235h2.4M491 254h2.4M491 301h2.4M491 306h2.4M491 309h2.4M491 311h2.4M491 312h2.4M491 314h2.4M491 317h2.4M491 321h2.4M491 325h2.4M491 330h2.4M491 333h2.4M491 337h2.4M491 338h2.4M491 339h2.4M491 341h2.4M491 342h2.4M491 349h2.4M491 350h2.4M491 352h2.4M491 353h2.4M491 356h2.4M491 357h2.4M491 359h2.4M491 362h2.4M491 363h2.4M491 367h2.4M491 369h2.4M491 371h2.4M491 377h2.4M491 384h2.4M491 387h2.4M491 388h2.4M491 392h2.4M491 393h2.4M491 395h2.4M491 398h2.4M491 399h2.4M491 400h2.4M491 403h2.4M491 423h2.4M491 445h2.4M491 455h2.4M491 482h2.4M491 486h2.4M492 238h2.4M492 255h2.4M492 260h2.4M492 270h2.4M492 272h2.4M492 281h2.4M492 282h2.4M492 293h2.4M492 299h2.4M492 304h2.4M492 308h2.4M492 314h2.4M492 318h2.4M492 320h2.4M492 329h2.4M492 333h2.4M492 336h2.4M492 338h2.4M492 340h2.4M492 341h2.4M492 342h2.4M492 343h2.4M492 348h2.4M492 349h2.4M492 350h2.4M492 353h2.4M492 354h2.4M492 357h2.4M492 369h2.4M492 371h2.4M492 374h2.4M492 376h2.4M492 380h2.4M492 384h2.4M492 391h2.4M492 392h2.4M492 407h2.4M492 414h2.4M492 431h2.4M492 435h2.4M492 460h2.4M492 483h2.4M492 486h2.4M492 502h2.4M493 186h2.4M493 199h2.4M493 217h2.4M493 282h2.4M493 288h2.4M493 295h2.4M493 307h2.4M493 312h2.4M493 319h2.4M493 321h2.4M493 326h2.4M493 327h2.4M493 331h2.4M493 334h2.4M493 336h2.4M493 338h2.4M493 340h2.4M493 341h2.4M493 343h2.4M493 350h2.4M493 353h2.4M493 355h2.4M493 358h2.4M493 364h2.4M493 368h2.4M493 369h2.4M493 373h2.4M493 376h2.4M493 385h2.4M493 405h2.4M493 439h2.4M493 458h2.4M493 478h2.4M494 271h2.4M494 276h2.4M494 283h2.4M494 286h2.4M494 302h2.4M494 304h2.4M494 313h2.4M494 316h2.4M494 317h2.4M494 320h2.4M494 321h2.4M494 322h2.4M494 324h2.4M494 326h2.4M494 328h2.4M494 329h2.4M494 330h2.4M494 332h2.4M494 334h2.4M494 335h2.4M494 336h2.4M494 337h2.4M494 338h2.4M494 339h2.4M494 340h2.4M494 342h2.4M494 344h2.4M494 350h2.4M494 351h2.4M494 352h2.4M494 353h2.4M494 363h2.4M494 371h2.4M494 378h2.4M494 383h2.4M494 389h2.4M494 393h2.4M494 407h2.4M494 412h2.4M494 427h2.4M495 214h2.4M495 230h2.4M495 232h2.4M495 239h2.4M495 242h2.4M495 247h2.4M495 249h2.4M495 269h2.4M495 272h2.4M495 289h2.4M495 294h2.4M495 300h2.4M495 305h2.4M495 306h2.4M495 310h2.4M495 311h2.4M495 318h2.4M495 321h2.4M495 322h2.4M495 324h2.4M495 326h2.4M495 327h2.4M495 331h2.4M495 334h2.4M495 338h2.4M495 339h2.4M495 344h2.4M495 346h2.4M495 347h2.4M495 348h2.4M495 350h2.4M495 352h2.4M495 353h2.4M495 356h2.4M495 357h2.4M495 359h2.4M495 367h2.4M495 371h2.4M495 377h2.4M495 382h2.4M495 383h2.4M495 384h2.4M495 385h2.4M495 388h2.4M495 399h2.4M495 402h2.4M495 405h2.4M495 438h2.4M495 450h2.4M496 217h2.4M496 253h2.4M496 265h2.4M496 277h2.4M496 308h2.4M496 312h2.4M496 319h2.4M496 321h2.4M496 322h2.4M496 327h2.4M496 338h2.4M496 345h2.4M496 348h2.4M496 351h2.4M496 352h2.4M496 355h2.4M496 358h2.4M496 359h2.4M496 365h2.4M496 366h2.4M496 379h2.4M496 386h2.4M496 402h2.4M496 405h2.4M496 415h2.4M496 432h2.4M496 442h2.4M496 480h2.4M497 241h2.4M497 248h2.4M497 258h2.4M497 280h2.4M497 295h2.4M497 303h2.4M497 314h2.4M497 317h2.4M497 326h2.4M497 330h2.4M497 331h2.4M497 333h2.4M497 345h2.4M497 348h2.4M497 351h2.4M497 353h2.4M497 354h2.4M497 356h2.4M497 364h2.4M497 367h2.4M497 375h2.4M497 392h2.4M497 421h2.4M497 430h2.4M497 436h2.4M497 441h2.4M497 466h2.4M497 508h2.4M497 511h2.4M498 208h2.4M498 227h2.4M498 260h2.4M498 263h2.4M498 281h2.4M498 291h2.4M498 304h2.4M498 314h2.4M498 318h2.4M498 319h2.4M498 322h2.4M498 329h2.4M498 330h2.4M498 332h2.4M498 335h2.4M498 338h2.4M498 348h2.4M498 350h2.4M498 351h2.4M498 356h2.4M498 362h2.4M498 377h2.4M498 381h2.4M498 385h2.4M498 387h2.4M498 415h2.4M498 441h2.4M498 449h2.4M498 455h2.4M498 481h2.4M499 230h2.4M499 242h2.4M499 249h2.4M499 260h2.4M499 288h2.4M499 298h2.4M499 303h2.4M499 311h2.4M499 326h2.4M499 332h2.4M499 339h2.4M499 343h2.4M499 350h2.4M499 355h2.4M499 359h2.4M499 363h2.4M499 366h2.4M499 388h2.4M499 413h2.4M499 428h2.4M499 453h2.4M499 490h2.4M499 494h2.4M500 252h2.4M500 271h2.4M500 273h2.4M500 317h2.4M500 325h2.4M500 351h2.4M500 352h2.4M500 360h2.4M500 362h2.4M500 380h2.4M500 381h2.4M500 385h2.4M500 419h2.4M500 432h2.4M501 226h2.4M501 229h2.4M501 257h2.4M501 265h2.4M501 296h2.4M501 304h2.4M501 307h2.4M501 320h2.4M501 328h2.4M501 336h2.4M501 337h2.4M501 339h2.4M501 348h2.4M501 350h2.4M501 365h2.4M501 375h2.4M501 415h2.4M501 417h2.4M501 425h2.4M501 448h2.4M502 272h2.4M502 323h2.4M502 340h2.4M502 348h2.4M502 349h2.4M502 355h2.4M502 358h2.4M502 361h2.4M502 362h2.4M502 364h2.4M502 370h2.4M502 375h2.4M502 386h2.4M502 390h2.4M502 397h2.4M502 409h2.4M502 428h2.4M503 237h2.4M503 249h2.4M503 301h2.4M503 323h2.4M503 339h2.4M503 340h2.4M503 364h2.4M503 367h2.4M503 390h2.4M503 482h2.4M503 485h2.4M504 233h2.4M504 241h2.4M504 242h2.4M504 298h2.4M504 326h2.4M504 332h2.4M504 335h2.4M504 336h2.4M504 354h2.4M504 357h2.4M504 385h2.4M504 391h2.4M504 432h2.4M504 473h2.4M505 282h2.4M505 304h2.4M505 328h2.4M505 341h2.4M505 347h2.4M506 297h2.4M506 310h2.4M506 357h2.4M506 393h2.4M506 434h2.4M506 435h2.4M507 214h2.4M507 229h2.4M507 278h2.4M507 329h2.4M507 335h2.4M507 359h2.4M507 369h2.4M507 370h2.4M507 373h2.4M507 405h2.4M507 422h2.4M507 434h2.4M507 470h2.4M508 268h2.4M508 271h2.4M508 416h2.4M508 455h2.4M508 457h2.4M509 190h2.4M509 204h2.4M509 215h2.4M509 227h2.4M509 237h2.4M509 259h2.4M509 261h2.4M509 291h2.4M509 296h2.4M509 334h2.4M509 373h2.4M509 405h2.4M509 406h2.4M509 424h2.4M509 432h2.4M509 455h2.4M509 492h2.4M509 511h2.4M510 189h2.4M510 203h2.4M510 252h2.4M510 268h2.4M510 292h2.4M510 297h2.4M510 298h2.4M510 313h2.4M510 337h2.4M510 341h2.4M510 347h2.4M510 348h2.4M510 379h2.4M510 412h2.4M510 419h2.4M510 425h2.4M510 436h2.4M510 447h2.4M510 465h2.4M510 495h2.4M510 513h2.4M511 215h2.4M511 217h2.4M511 230h2.4M511 234h2.4M511 238h2.4M511 255h2.4M511 259h2.4M511 275h2.4M511 286h2.4M511 297h2.4M511 310h2.4M511 311h2.4M511 319h2.4M511 347h2.4M511 368h2.4M511 379h2.4M511 392h2.4M511 408h2.4M511 421h2.4M511 425h2.4M511 439h2.4M511 453h2.4M511 454h2.4M511 472h2.4M511 481h2.4M511 484h2.4M511 489h2.4M511 501h2.4" stroke="#000" stroke-width="2.4" fill="none" transform="translate(-0.2 0)"/>
<path d="M633 278h2.4M633 287h2.4M633 312h2.4M633 333h2.4M633 457h2.4M633 458h2.4M633 462h2.4M633 463h2.4M633 465h2.4M633 467h2.4M633 468h2.4M633 477h2.4M633 478h2.4M633 479h2.4M633 482h2.4M633 483h2.4M633 486h2.4M633 487h2.4M633 490h2.4M633 491h2.4M633 492h2.4M633 494h2.4M633 499h2.4M633 500h2.4M633 503h2.4M633 507h2.4M634 194h2.4M634 236h2.4M634 273h2.4M634 375h2.4M634 408h2.4M634 424h2.4M634 429h2.4M634 445h2.4M634 452h2.4M634 454h2.4M634 457h2.4M634 458h2.4M634 466h2.4M634 470h2.4M634 476h2.4M634 480h2.4M634 481h2.4M634 482h2.4M634 483h2.4M634 484h2.4M634 485h2.4M634 486h2.4M634 488h2.4M634 489h2.4M634 490h2.4M634 491h2.4M634 492h2.4M634 495h2.4M634 499h2.4M634 500h2.4M634 507h2.4M634 508h2.4M634 509h2.4M634 513h2.4M634 514h2.4M635 287h2.4M635 395h2.4M635 397h2.4M635 428h2.4M635 441h2.4M635 449h2.4M635 454h2.4M635 456h2.4M635 463h2.4M635 464h2.4M635 466h2.4M635 467h2.4M635 469h2.4M635 470h2.4M635 471h2.4M635 477h2.4M635 478h2.4M635 479h2.4M635 481h2.4M635 483h2.4M635 484h2.4M635 485h2.4M635 486h2.4M635 487h2.4M635 489h2.4M635 490h2.4M635 491h2.4M635 494h2.4M635 497h2.4M635 499h2.4M635 500h2.4M635 502h2.4M635 505h2.4M635 506h2.4M635 511h2.4M636 293h2.4M636 384h2.4M636 399h2.4M636 441h2.4M636 452h2.4M636 463h2.4M636 464h2.4M636 468h2.4M636 474h2.4M636 475h2.4M636 476h2.4M636 477h2.4M636 478h2.4M636 480h2.4M636 481h2.4M636 483h2.4M636 484h2.4M636 488h2.4M636 491h2.4M636 492h2.4M636 493h2.4M636 495h2.4M636 500h2.4M636 504h2.4M636 507h2.4M636 508h2.4M636 513h2.4M637 172h2.4M637 269h2.4M637 273h2.4M637 307h2.4M637 355h2.4M637 420h2.4M637 424h2.4M637 435h2.4M637 438h2.4M637 439h2.4M637 451h2.4M637 454h2.4M637 459h2.4M637 461h2.4M637 462h2.4M637 467h2.4M637 471h2.4M637 472h2.4M637 476h2.4M637 477h2.4M637 482h2.4M637 483h2.4M637 484h2.4M637 485h2.4M637 486h2.4M637 488h2.4M637 489h2.4M637 490h2.4M637 492h2.4M637 493h2.4M637 494h2.4M637 495h2.4M637 496h2.4M637 498h2.4M637 500h2.4M637 503h2.4M637 507h2.4M637 509h2.4M637 512h2.4M638 231h2.4M638 281h2.4M638 282h2.4M638 329h2.4M638 345h2.4M638 368h2.4M638 438h2.4M638 447h2.4M638 449h2.4M638 455h2.4M638 456h2.4M638 457h2.4M638 460h2.4M638 462h2.4M638 465h2.4M638 466h2.4M638 467h2.4M638 471h2.4M638 472h2.4M638 476h2.4M638 477h2.4M638 478h2.4M638 479h2.4M638 480h2.4M638 481h2.4M638 482h2.4M638 483h2.4M638 485h2.4M638 486h2.4M638 487h2.4M638 491h2.4M638 492h2.4M638 493h2.4M638 494h2.4M638 495h2.4M638 497h2.4M638 499h2.4M638 500h2.4M638 501h2.4M638 502h2.4M638 506h2.4M638 507h2.4M638 509h2.4M638 510h2.4M638 511h2.4M639 266h2.4M639 293h2.4M639 338h2.4M639 446h2.4M639 448h2.4M639 449h2.4M639 452h2.4M639 453h2.4M639 454h2.4M639 458h2.4M639 463h2.4M639 465h2.4M639 467h2.4M639 468h2.4M639 469h2.4M639 472h2.4M639 474h2.4M639 478h2.4M639 480h2.4M639 481h2.4M639 482h2.4M639 483h2.4M639 486h2.4M639 487h2.4M639 489h2.4M639 493h2.4M639 495h2.4M639 497h2.4M639 498h2.4M639 499h2.4M639 501h2.4M639 506h2.4M639 509h2.4M639 511h2.4M639 513h2.4M639 514h2.4M640 287h2.4M640 299h2.4M640 350h2.4M640 377h2.4M640 422h2.4M640 427h2.4M640 440h2.4M640 441h2.4M640 445h2.4M640 448h2.4M640 455h2.4M640 466h2.4M640 469h2.4M640 473h2.4M640 474h2.4M640 476h2.4M640 477h2.4M640 478h2.4M640 479h2.4M640 480h2.4M640 482h2.4M640 483h2.4M640 485h2.4M640 486h2.4M640 488h2.4M640 493h2.4M640 494h2.4M640 495h2.4M640 496h2.4M640 497h2.4M640 499h2.4M640 508h2.4M640 509h2.4M641 315h2.4M641 333h2.4M641 362h2.4M641 382h2.4M641 413h2.4M641 425h2.4M641 426h2.4M641 453h2.4M641 457h2.4M641 458h2.4M641 460h2.4M641 461h2.4M641 462h2.4M641 463h2.4M641 464h2.4M641 465h2.4M641 467h2.4M641 469h2.4M641 470h2.4M641 472h2.4M641 473h2.4M641 476h2.4M641 478h2.4M641 483h2.4M641 484h2.4M641 485h2.4M641 486h2.4M641 488h2.4M641 490h2.4M641 492h2.4M641 493h2.4M641 496h2.4M641 500h2.4M641 501h2.4M641 502h2.4M641 504h2.4M641 505h2.4M641 506h2.4M641 508h2.4M641 514h2.4M642 264h2.4M642 274h2.4M642 295h2.4M642 320h2.4M642 330h2.4M642 351h2.4M642 362h2.4M642 364h2.4M642 399h2.4M642 420h2.4M642 433h2.4M642 450h2.4M642 458h2.4M642 461h2.4M642 462h2.4M642 469h2.4M642 471h2.4M642 477h2.4M642 478h2.4M642 480h2.4M642 481h2.4M642 482h2.4M642 484h2.4M642 485h2.4M642 487h2.4M642 488h2.4M642 490h2.4M642 491h2.4M642 492h2.4M642 494h2.4M642 497h2.4M642 498h2.4M642 506h2.4M642 507h2.4M642 514h2.4M643 279h2.4M643 286h2.4M643 290h2.4M643 327h2.4M643 347h2.4M643 376h2.4M643 415h2.4M643 422h2.4M643 424h2.4M643 427h2.4M643 435h2.4M643 436h2.4M643 441h2.4M643 447h2.4M643 449h2.4M643 450h2.4M643 457h2.4M643 464h2.4M643 465h2.4M643 467h2.4M643 469h2.4M643 470h2.4M643 471h2.4M643 472h2.4M643 474h2.4M643 476h2.4M643 480h2.4M643 481h2.4M643 484h2.4M643 485h2.4M643 487h2.4M643 488h2.4M643 490h2.4M643 492h2.4M643 494h2.4M643 496h2.4M643 499h2.4M643 500h2.4M643 504h2.4M643 509h2.4M643 513h2.4M644 316h2.4M644 379h2.4M644 380h2.4M644 394h2.4M644 410h2.4M644 427h2.4M644 430h2.4M644 443h2.4M644 448h2.4M644 449h2.4M644 456h2.4M644 457h2.4M644 458h2.4M644 460h2.4M644 461h2.4M644 468h2.4M644 473h2.4M644 475h2.4M644 476h2.4M644 478h2.4M644 480h2.4M644 482h2.4M644 483h2.4M644 484h2.4M644 486h2.4M644 487h2.4M644 488h2.4M644 491h2.4M644 493h2.4M644 494h2.4M644 495h2.4M644 496h2.4M644 499h2.4M644 502h2.4M644 505h2.4M644 507h2.4M645 298h2.4M645 317h2.4M645 351h2.4M645 360h2.4M645 381h2.4M645 397h2.4M645 413h2.4M645 441h2.4M645 447h2.4M645 449h2.4M645 451h2.4M645 453h2.4M645 454h2.4M645 458h2.4M645 459h2.4M645 461h2.4M645 462h2.4M645 463h2.4M645 466h2.4M645 468h2.4M645 470h2.4M645 474h2.4M645 475h2.4M645 476h2.4M645 477h2.4M645 481h2.4M645 483h2.4M645 484h2.4M645 486h2.4M645 487h2.4M645 488h2.4M645 489h2.4M645 490h2.4M645 491h2.4M645 492h2.4M645 494h2.4M645 495h2.4M645 499h2.4M645 501h2.4M645 508h2.4M645 509h2.4M645 511h2.4M646 270h2.4M646 273h2.4M646 281h2.4M646 293h2.4M646 374h2.4M646 394h2.4M646 416h2.4M646 430h2.4M646 440h2.4M646 442h2.4M646 447h2.4M646 448h2.4M646 450h2.4M646 454h2.4M646 457h2.4M646 459h2.4M646 464h2.4M646 465h2.4M646 468h2.4M646 472h2.4M646 477h2.4M646 478h2.4M646 479h2.4M646 480h2.4M646 481h2.4M646 482h2.4M646 483h2.4M646 489h2.4M646 494h2.4M646 496h2.4M646 497h2.4M646 508h2.4M647 247h2.4M647 293h2.4M647 361h2.4M647 426h2.4M647 435h2.4M647 441h2.4M647 442h2.4M647 444h2.4M647 447h2.4M647 448h2.4M647 449h2.4M647 455h2.4M647 456h2.4M647 457h2.4M647 460h2.4M647 461h2.4M647 464h2.4M647 466h2.4M647 468h2.4M647 469h2.4M647 470h2.4M647 471h2.4M647 472h2.4M647 473h2.4M647 474h2.4M647 476h2.4M647 477h2.4M647 483h2.4M647 484h2.4M647 485h2.4M647 489h2.4M647 491h2.4M647 492h2.4M647 495h2.4M647 496h2.4M647 497h2.4M647 501h2.4M647 502h2.4M647 503h2.4M647 506h2.4M647 510h2.4M648 265h2.4M648 317h2.4M648 324h2.4M648 333h2.4M648 358h2.4M648 360h2.4M648 409h2.4M648 436h2.4M648 440h2.4M648 445h2.4M648 448h2.4M648 450h2.4M648 459h2.4M648 460h2.4M648 466h2.4M648 468h2.4M648 471h2.4M648 472h2.4M648 480h2.4M648 483h2.4M648 484h2.4M648 486h2.4M648 487h2.4M648 488h2.4M648 490h2.4M648 491h2.4M648 492h2.4M648 494h2.4M648 502h2.4M648 505h2.4M648 510h2.4M649 184h2.4M649 199h2.4M649 262h2.4M649 416h2.4M649 440h2.4M649 444h2.4M649 445h2.4M649 446h2.4M649 451h2.4M649 453h2.4M649 454h2.4M649 455h2.4M649 460h2.4M649 461h2.4M649 463h2.4M649 465h2.4M649 467h2.4M649 472h2.4M649 473h2.4M649 474h2.4M649 475h2.4M649 476h2.4M649 478h2.4M649 482h2.4M649 484h2.4M649 486h2.4M649 487h2.4M649 488h2.4M649 490h2.4M649 494h2.4M649 496h2.4M649 497h2.4M649 503h2.4M649 510h2.4M649 511h2.4M650 407h2.4M650 409h2.4M650 425h2.4M650 430h2.4M650 434h2.4M650 443h2.4M650 444h2.4M650 446h2.4M650 449h2.4M650 453h2.4M650 455h2.4M650 457h2.4M650 458h2.4M650 461h2.4M650 465h2.4M650 466h2.4M650 467h2.4M650 472h2.4M650 476h2.4M650 477h2.4M650 480h2.4M650 481h2.4M650 482h2.4M650 483h2.4M650 485h2.4M650 487h2.4M650 490h2.4M650 493h2.4M650 501h2.4M650 504h2.4M650 505h2.4M651 286h2.4M651 288h2.4M651 337h2.4M651 338h2.4M651 399h2.4M651 429h2.4M651 434h2.4M651 445h2.4M651 447h2.4M651 449h2.4M651 450h2.4M651 452h2.4M651 453h2.4M651 454h2.4M651 457h2.4M651 460h2.4M651 463h2.4M651 464h2.4M651 466h2.4M651 467h2.4M651 470h2.4M651 471h2.4M651 472h2.4M651 474h2.4M651 478h2.4M651 479h2.4M651 486h2.4M651 488h2.4M651 491h2.4M651 493h2.4M651 495h2.4M651 497h2.4M651 498h2.4M651 506h2.4M651 511h2.4M652 251h2.4M652 320h2.4M652 326h2.4M652 338h2.4M652 341h2.4M652 380h2.4M652 409h2.4M652 413h2.4M652 420h2.4M652 423h2.4M652 428h2.4M652 430h2.4M652 431h2.4M652 441h2.4M652 447h2.4M652 451h2.4M652 464h2.4M652 467h2.4M652 474h2.4M652 475h2.4M652 478h2.4M652 479h2.4M652 486h2.4M652 487h2.4M652 488h2.4M652 494h2.4M652 495h2.4M652 497h2.4M652 500h2.4M652 501h2.4M652 508h2.4M653 271h2.4M653 283h2.4M653 295h2.4M653 350h2.4M653 387h2.4M653 393h2.4M653 412h2.4M653 414h2.4M653 429h2.4M653 439h2.4M653 445h2.4M653 449h2.4M653 451h2.4M653 452h2.4M653 454h2.4M653 455h2.4M653 456h2.4M653 460h2.4M653 462h2.4M653 466h2.4M653 469h2.4M653 470h2.4M653 471h2.4M653 474h2.4M653 475h2.4M653 476h2.4M653 479h2.4M653 480h2.4M653 481h2.4M653 482h2.4M653 484h2.4M653 485h2.4M653 488h2.4M653 495h2.4M653 496h2.4M653 499h2.4M653 503h2.4M654 280h2.4M654 283h2.4M654 328h2.4M654 406h2.4M654 432h2.4M654 437h2.4M654 443h2.4M654 450h2.4M654 454h2.4M654 455h2.4M654 461h2.4M654 462h2.4M654 463h2.4M654 467h2.4M654 468h2.4M654 469h2.4M654 470h2.4M654 471h2.4M654 472h2.4M654 476h2.4M654 477h2.4M654 479h2.4M654 482h2.4M654 487h2.4M654 492h2.4M654 495h2.4M654 503h2.4M654 507h2.4M655 245h2.4M655 274h2.4M655 297h2.4M655 305h2.4M655 337h2.4M655 354h2.4M655 367h2.4M655 432h2.4M655 440h2.4M655 445h2.4M655 448h2.4M655 451h2.4M655 455h2.4M655 466h2.4M655 468h2.4M655 471h2.4M655 473h2.4M655 474h2.4M655 479h2.4M655 489h2.4M655 492h2.4M655 496h2.4M655 509h2.4M656 335h2.4M656 356h2.4M656 389h2.4M656 390h2.4M656 394h2.4M656 431h2.4M656 434h2.4M656 436h2.4M656 437h2.4M656 439h2.4M656 440h2.4M656 443h2.4M656 444h2.4M656 446h2.4M656 448h2.4M656 454h2.4M656 456h2.4M656 457h2.4M656 459h2.4M656 462h2.4M656 467h2.4M656 468h2.4M656 469h2.4M656 470h2.4M656 476h2.4M656 477h2.4M656 479h2.4M656 487h2.4M656 489h2.4M656 493h2.4M656 499h2.4M657 276h2.4M657 278h2.4M657 281h2.4M657 282h2.4M657 283h2.4M657 352h2.4M657 354h2.4M657 370h2.4M657 381h2.4M657 396h2.4M657 398h2.4M657 429h2.4M657 438h2.4M657 442h2.4M657 447h2.4M657 448h2.4M657 450h2.4M657 451h2.4M657 454h2.4M657 455h2.4M657 457h2.4M657 466h2.4M657 467h2.4M657 470h2.4M657 472h2.4M657 475h2.4M657 482h2.4M657 487h2.4M657 488h2.4M657 492h2.4M657 493h2.4M657 494h2.4M657 496h2.4M657 506h2.4M658 234h2.4M658 285h2.4M658 288h2.4M658 295h2.4M658 296h2.4M658 305h2.4M658 344h2.4M658 374h2.4M658 379h2.4M658 426h2.4M658 429h2.4M658 436h2.4M658 437h2.4M658 438h2.4M658 439h2.4M658 445h2.4M658 447h2.4M658 452h2.4M658 453h2.4M658 456h2.4M658 464h2.4M658 466h2.4M658 467h2.4M658 473h2.4M658 478h2.4M658 479h2.4M658 480h2.4M658 483h2.4M658 486h2.4M658 494h2.4M658 495h2.4M658 505h2.4M658 507h2.4M659 263h2.4M659 297h2.4M659 299h2.4M659 357h2.4M659 358h2.4M659 405h2.4M659 440h2.4M659 443h2.4M659 444h2.4M659 445h2.4M659 451h2.4M659 456h2.4M659 457h2.4M659 458h2.4M659 465h2.4M659 468h2.4M659 470h2.4M659 471h2.4M659 474h2.4M659 478h2.4M659 479h2.4M659 486h2.4M659 490h2.4M659 497h2.4M659 510h2.4M660 297h2.4M660 301h2.4M660 319h2.4M660 323h2.4M660 353h2.4M660 376h2.4M660 384h2.4M660 417h2.4M660 423h2.4M660 426h2.4M660 428h2.4M660 430h2.4M660 437h2.4M660 439h2.4M660 440h2.4M660 445h2.4M660 450h2.4M660 451h2.4M660 453h2.4M660 454h2.4M660 460h2.4M660 461h2.4M660 462h2.4M660 463h2.4M660 466h2.4M660 470h2.4M660 471h2.4M660 473h2.4M660 476h2.4M660 477h2.4M660 479h2.4M660 489h2.4M660 499h2.4M661 260h2.4M661 277h2.4M661 314h2.4M661 410h2.4M661 415h2.4M661 424h2.4M661 430h2.4M661 438h2.4M661 441h2.4M661 446h2.4M661 447h2.4M661 454h2.4M661 457h2.4M661 461h2.4M661 464h2.4M661 465h2.4M661 466h2.4M661 468h2.4M661 470h2.4M661 471h2.4M661 474h2.4M661 475h2.4M661 478h2.4M661 480h2.4M661 482h2.4M661 490h2.4M661 492h2.4M661 498h2.4M661 508h2.4M661 511h2.4M662 192h2.4M662 267h2.4M662 288h2.4M662 310h2.4M662 323h2.4M662 327h2.4M662 345h2.4M662 351h2.4M662 359h2.4M662 406h2.4M662 407h2.4M662 419h2.4M662 429h2.4M662 435h2.4M662 449h2.4M662 450h2.4M662 452h2.4M662 453h2.4M662 455h2.4M662 457h2.4M662 458h2.4M662 462h2.4M662 463h2.4M662 465h2.4M662 466h2.4M662 467h2.4M662 468h2.4M662 469h2.4M662 471h2.4M662 474h2.4M662 477h2.4M662 480h2.4M662 482h2.4M662 485h2.4M662 486h2.4M662 487h2.4M662 500h2.4M662 506h2.4M663 205h2.4M663 247h2.4M663 348h2.4M663 411h2.4M663 434h2.4M663 438h2.4M663 440h2.4M663 441h2.4M663 446h2.4M663 449h2.4M663 455h2.4M663 460h2.4M663 463h2.4M663 467h2.4M663 469h2.4M663 473h2.4M663 474h2.4M663 475h2.4M663 485h2.4M663 486h2.4M663 489h2.4M663 490h2.4M663 492h2.4M663 508h2.4M663 513h2.4M664 179h2.4M664 189h2.4M664 245h2.4M664 263h2.4M664 267h2.4M664 300h2.4M664 313h2.4M664 327h2.4M664 333h2.4M664 418h2.4M664 437h2.4M664 453h2.4M664 455h2.4M664 456h2.4M664 459h2.4M664 460h2.4M664 464h2.4M664 469h2.4M664 473h2.4M664 476h2.4M664 483h2.4M664 484h2.4M664 510h2.4M665 191h2.4M665 221h2.4M665 248h2.4M665 313h2.4M665 346h2.4M665 420h2.4M665 423h2.4M665 426h2.4M665 430h2.4M665 444h2.4M665 445h2.4M665 446h2.4M665 454h2.4M665 458h2.4M665 460h2.4M665 462h2.4M665 465h2.4M665 466h2.4M665 473h2.4M665 474h2.4M665 476h2.4M665 480h2.4M665 482h2.4M665 485h2.4M665 486h2.4M665 491h2.4M666 289h2.4M666 293h2.4M666 309h2.4M666 312h2.4M666 334h2.4M666 386h2.4M666 396h2.4M666 401h2.4M666 407h2.4M666 410h2.4M666 440h2.4M666 444h2.4M666 446h2.4M666 448h2.4M666 452h2.4M666 454h2.4M666 465h2.4M666 467h2.4M666 471h2.4M666 473h2.4M666 475h2.4M666 476h2.4M666 477h2.4M666 478h2.4M666 479h2.4M666 480h2.4M666 482h2.4M666 484h2.4M666 491h2.4M666 496h2.4M666 501h2.4M666 504h2.4M667 269h2.4M667 295h2.4M667 318h2.4M667 343h2.4M667 376h2.4M667 381h2.4M667 394h2.4M667 399h2.4M667 421h2.4M667 437h2.4M667 442h2.4M667 443h2.4M667 447h2.4M667 449h2.4M667 456h2.4M667 459h2.4M667 461h2.4M667 464h2.4M667 465h2.4M667 468h2.4M667 470h2.4M667 471h2.4M667 476h2.4M667 481h2.4M667 483h2.4M667 485h2.4M667 492h2.4M667 493h2.4M667 498h2.4M667 499h2.4M668 181h2.4M668 245h2.4M668 266h2.4M668 314h2.4M668 322h2.4M668 327h2.4M668 335h2.4M668 363h2.4M668 397h2.4M668 410h2.4M668 417h2.4M668 421h2.4M668 447h2.4M668 458h2.4M668 460h2.4M668 461h2.4M668 464h2.4M668 468h2.4M668 482h2.4M668 489h2.4M668 492h2.4M669 274h2.4M669 285h2.4M669 314h2.4M669 336h2.4M669 363h2.4M669 384h2.4M669 437h2.4M669 438h2.4M669 439h2.4M669 441h2.4M669 446h2.4M669 448h2.4M669 449h2.4M669 451h2.4M669 452h2.4M669 466h2.4M669 470h2.4M669 471h2.4M669 474h2.4M669 479h2.4M669 488h2.4M669 490h2.4M669 494h2.4M670 184h2.4M670 190h2.4M670 248h2.4M670 251h2.4M670 315h2.4M670 340h2.4M670 381h2.4M670 384h2.4M670 407h2.4M670 409h2.4M670 423h2.4M670 424h2.4M670 429h2.4M670 431h2.4M670 438h2.4M670 439h2.4M670 440h2.4M670 441h2.4M670 443h2.4M670 446h2.4M670 449h2.4M670 452h2.4M670 453h2.4M670 455h2.4M670 457h2.4M670 458h2.4M670 459h2.4M670 460h2.4M670 462h2.4M670 469h2.4M670 470h2.4M670 478h2.4M670 486h2.4M671 270h2.4M671 287h2.4M671 305h2.4M671 316h2.4M671 361h2.4M671 367h2.4M671 419h2.4M671 428h2.4M671 429h2.4M671 443h2.4M671 448h2.4M671 449h2.4M671 452h2.4M671 456h2.4M671 462h2.4M671 471h2.4M671 474h2.4M671 477h2.4M671 481h2.4M671 484h2.4M671 494h2.4M672 198h2.4M672 240h2.4M672 251h2.4M672 296h2.4M672 310h2.4M672 337h2.4M672 386h2.4M672 409h2.4M672 411h2.4M672 436h2.4M672 448h2.4M672 449h2.4M672 450h2.4M672 453h2.4M672 456h2.4M672 459h2.4M672 467h2.4M672 468h2.4M672 472h2.4M672 474h2.4M672 478h2.4M672 481h2.4M672 486h2.4M672 510h2.4M673 213h2.4M673 255h2.4M673 269h2.4M673 300h2.4M673 370h2.4M673 387h2.4M673 405h2.4M673 406h2.4M673 414h2.4M673 426h2.4M673 445h2.4M673 452h2.4M673 457h2.4M673 458h2.4M673 460h2.4M673 462h2.4M673 463h2.4M673 470h2.4M673 472h2.4M673 473h2.4M673 481h2.4M673 514h2.4M674 239h2.4M674 257h2.4M674 265h2.4M674 332h2.4M674 370h2.4M674 387h2.4M674 388h2.4M674 402h2.4M674 419h2.4M674 421h2.4M674 435h2.4M674 436h2.4M674 437h2.4M674 445h2.4M674 449h2.4M674 452h2.4M674 457h2.4M674 462h2.4M674 463h2.4M674 464h2.4M674 465h2.4M674 472h2.4M674 473h2.4M674 474h2.4M674 478h2.4M674 480h2.4M674 481h2.4M675 187h2.4M675 312h2.4M675 419h2.4M675 423h2.4M675 424h2.4M675 435h2.4M675 443h2.4M675 450h2.4M675 454h2.4M675 465h2.4M675 466h2.4M675 470h2.4M675 476h2.4M675 480h2.4M675 483h2.4M676 323h2.4M676 405h2.4M676 412h2.4M676 413h2.4M676 431h2.4M676 436h2.4M676 437h2.4M676 439h2.4M676 442h2.4M676 445h2.4M676 446h2.4M676 447h2.4M676 451h2.4M676 458h2.4M676 462h2.4M676 466h2.4M676 467h2.4M676 476h2.4M676 477h2.4M676 503h2.4M677 191h2.4M677 192h2.4M677 326h2.4M677 355h2.4M677 400h2.4M677 403h2.4M677 407h2.4M677 421h2.4M677 430h2.4M677 433h2.4M677 437h2.4M677 444h2.4M677 450h2.4M677 456h2.4M677 457h2.4M677 460h2.4M677 472h2.4M677 484h2.4M677 486h2.4M677 494h2.4M678 215h2.4M678 239h2.4M678 312h2.4M678 327h2.4M678 356h2.4M678 362h2.4M678 369h2.4M678 422h2.4M678 430h2.4M678 432h2.4M678 435h2.4M678 443h2.4M678 445h2.4M678 456h2.4M678 457h2.4M678 464h2.4M678 472h2.4M678 473h2.4M678 475h2.4M678 491h2.4M679 229h2.4M679 261h2.4M679 263h2.4M679 286h2.4M679 298h2.4M679 313h2.4M679 337h2.4M679 351h2.4M679 378h2.4M679 398h2.4M679 400h2.4M679 418h2.4M679 421h2.4M679 422h2.4M679 424h2.4M679 433h2.4M679 437h2.4M679 459h2.4M679 465h2.4M679 470h2.4M679 488h2.4M679 490h2.4M679 499h2.4M680 204h2.4M680 211h2.4M680 219h2.4M680 270h2.4M680 339h2.4M680 387h2.4M680 426h2.4M680 431h2.4M680 432h2.4M680 452h2.4M680 454h2.4M680 478h2.4M680 493h2.4M680 502h2.4M681 185h2.4M681 230h2.4M681 240h2.4M681 273h2.4M681 294h2.4M681 301h2.4M681 308h2.4M681 311h2.4M681 326h2.4M681 331h2.4M681 341h2.4M681 349h2.4M681 352h2.4M681 393h2.4M681 408h2.4M681 411h2.4M681 420h2.4M681 434h2.4M681 435h2.4M681 446h2.4M681 447h2.4M681 450h2.4M681 451h2.4M681 456h2.4M681 463h2.4M681 470h2.4M681 480h2.4M681 483h2.4M681 491h2.4M682 311h2.4M682 322h2.4M682 342h2.4M682 345h2.4M682 351h2.4M682 357h2.4M682 367h2.4M682 375h2.4M682 401h2.4M682 433h2.4M682 441h2.4M682 444h2.4M682 448h2.4M682 449h2.4M682 457h2.4M682 458h2.4M682 461h2.4M682 467h2.4M683 182h2.4M683 195h2.4M683 210h2.4M683 294h2.4M683 303h2.4M683 327h2.4M683 331h2.4M683 337h2.4M683 357h2.4M683 360h2.4M683 364h2.4M683 418h2.4M683 421h2.4M683 422h2.4M683 431h2.4M683 433h2.4M683 436h2.4M683 442h2.4M683 446h2.4M683 448h2.4M683 453h2.4M683 456h2.4M683 457h2.4M683 458h2.4M683 461h2.4M684 186h2.4M684 198h2.4M684 266h2.4M684 272h2.4M684 284h2.4M684 322h2.4M684 364h2.4M684 369h2.4M684 389h2.4M684 402h2.4M684 406h2.4M684 415h2.4M684 418h2.4M684 424h2.4M684 427h2.4M684 430h2.4M684 435h2.4M684 438h2.4M684 441h2.4M684 447h2.4M684 448h2.4M684 449h2.4M684 455h2.4M684 456h2.4M684 458h2.4M684 462h2.4M684 465h2.4M684 468h2.4M684 472h2.4M685 171h2.4M685 199h2.4M685 201h2.4M685 291h2.4M685 298h2.4M685 300h2.4M685 332h2.4M685 339h2.4M685 354h2.4M685 376h2.4M685 422h2.4M685 423h2.4M685 425h2.4M685 429h2.4M685 431h2.4M685 436h2.4M685 442h2.4M685 443h2.4M685 446h2.4M685 449h2.4M685 450h2.4M685 456h2.4M685 461h2.4M685 466h2.4M685 469h2.4M685 482h2.4M685 485h2.4M686 198h2.4M686 326h2.4M686 341h2.4M686 344h2.4M686 353h2.4M686 385h2.4M686 388h2.4M686 397h2.4M686 424h2.4M686 427h2.4M686 429h2.4M686 431h2.4M686 435h2.4M686 437h2.4M686 454h2.4M686 455h2.4M686 461h2.4M686 462h2.4M686 465h2.4M687 203h2.4M687 210h2.4M687 217h2.4M687 261h2.4M687 302h2.4M687 312h2.4M687 314h2.4M687 315h2.4M687 335h2.4M687 354h2.4M687 364h2.4M687 407h2.4M687 417h2.4M687 419h2.4M687 422h2.4M687 428h2.4M687 431h2.4M687 439h2.4M687 447h2.4M687 448h2.4M687 458h2.4M687 461h2.4M687 465h2.4M688 199h2.4M688 200h2.4M688 275h2.4M688 298h2.4M688 308h2.4M688 314h2.4M688 332h2.4M688 344h2.4M688 402h2.4M688 405h2.4M688 411h2.4M688 434h2.4M688 441h2.4M688 456h2.4M688 461h2.4M688 473h2.4M689 187h2.4M689 199h2.4M689 238h2.4M689 274h2.4M689 312h2.4M689 321h2.4M689 328h2.4M689 334h2.4M689 362h2.4M689 396h2.4M689 400h2.4M689 403h2.4M689 414h2.4M689 421h2.4M689 424h2.4M689 431h2.4M689 433h2.4M689 435h2.4M689 438h2.4M689 446h2.4M689 455h2.4M689 461h2.4M689 465h2.4M690 219h2.4M690 267h2.4M690 313h2.4M690 328h2.4M690 338h2.4M690 346h2.4M690 356h2.4M690 398h2.4M690 416h2.4M690 418h2.4M690 429h2.4M690 432h2.4M690 437h2.4M690 439h2.4M690 441h2.4M690 444h2.4M690 472h2.4M690 473h2.4M690 476h2.4M690 479h2.4M690 480h2.4M690 505h2.4M691 182h2.4M691 266h2.4M691 303h2.4M691 344h2.4M691 347h2.4M691 350h2.4M691 374h2.4M691 378h2.4M691 407h2.4M691 408h2.4M691 435h2.4M691 438h2.4M691 454h2.4M691 473h2.4M691 485h2.4M692 233h2.4M692 291h2.4M692 324h2.4M692 328h2.4M692 354h2.4M692 365h2.4M692 379h2.4M692 395h2.4M692 404h2.4M692 407h2.4M692 412h2.4M692 414h2.4M692 415h2.4M692 418h2.4M692 438h2.4M692 441h2.4M692 458h2.4M692 460h2.4M692 464h2.4M693 179h2.4M693 185h2.4M693 239h2.4M693 283h2.4M693 296h2.4M693 343h2.4M693 366h2.4M693 369h2.4M693 393h2.4M693 417h2.4M693 418h2.4M693 420h2.4M693 427h2.4M693 429h2.4M693 431h2.4M693 433h2.4M693 444h2.4M693 445h2.4M693 446h2.4M693 463h2.4M694 314h2.4M694 332h2.4M694 338h2.4M694 348h2.4M694 377h2.4M694 391h2.4M694 395h2.4M694 407h2.4M694 410h2.4M694 411h2.4M694 413h2.4M694 414h2.4M694 415h2.4M694 420h2.4M694 425h2.4M694 426h2.4M694 430h2.4M694 431h2.4M694 437h2.4M694 438h2.4M694 444h2.4M694 452h2.4M694 470h2.4M695 246h2.4M695 280h2.4M695 337h2.4M695 345h2.4M695 346h2.4M695 357h2.4M695 363h2.4M695 364h2.4M695 371h2.4M695 384h2.4M695 398h2.4M695 402h2.4M695 409h2.4M695 416h2.4M695 417h2.4M695 434h2.4M695 436h2.4M695 444h2.4M695 456h2.4M695 457h2.4M695 460h2.4M695 502h2.4M696 271h2.4M696 297h2.4M696 326h2.4M696 327h2.4M696 329h2.4M696 331h2.4M696 332h2.4M696 340h2.4M696 341h2.4M696 345h2.4M696 364h2.4M696 366h2.4M696 371h2.4M696 403h2.4M696 405h2.4M696 408h2.4M696 414h2.4M696 424h2.4M696 434h2.4M696 439h2.4M697 267h2.4M697 271h2.4M697 291h2.4M697 299h2.4M697 331h2.4M697 334h2.4M697 342h2.4M697 351h2.4M697 369h2.4M697 389h2.4M697 395h2.4M697 405h2.4M697 408h2.4M697 421h2.4M697 424h2.4M697 441h2.4M697 444h2.4M697 463h2.4M697 491h2.4M698 202h2.4M698 248h2.4M698 249h2.4M698 271h2.4M698 280h2.4M698 300h2.4M698 314h2.4M698 321h2.4M698 339h2.4M698 341h2.4M698 355h2.4M698 367h2.4M698 382h2.4M698 410h2.4M698 418h2.4M698 428h2.4M698 430h2.4M698 432h2.4M698 435h2.4M698 444h2.4M698 449h2.4M699 262h2.4M699 303h2.4M699 304h2.4M699 311h2.4M699 318h2.4M699 325h2.4M699 328h2.4M699 329h2.4M699 347h2.4M699 354h2.4M699 362h2.4M699 368h2.4M699 380h2.4M699 384h2.4M699 390h2.4M699 402h2.4M699 405h2.4M699 409h2.4M699 410h2.4M699 414h2.4M699 416h2.4M699 424h2.4M699 426h2.4M699 427h2.4M699 431h2.4M699 437h2.4M699 442h2.4M699 448h2.4M700 168h2.4M700 189h2.4M700 308h2.4M700 313h2.4M700 318h2.4M700 324h2.4M700 325h2.4M700 344h2.4M700 384h2.4M700 385h2.4M700 389h2.4M700 400h2.4M700 411h2.4M700 425h2.4M700 426h2.4M700 431h2.4M700 439h2.4M700 446h2.4M700 448h2.4M701 199h2.4M701 238h2.4M701 295h2.4M701 304h2.4M701 332h2.4M701 333h2.4M701 336h2.4M701 345h2.4M701 358h2.4M701 363h2.4M701 367h2.4M701 369h2.4M701 372h2.4M701 387h2.4M701 388h2.4M701 411h2.4M701 412h2.4M701 415h2.4M701 421h2.4M701 422h2.4M701 424h2.4M701 428h2.4M701 429h2.4M701 470h2.4M702 181h2.4M702 246h2.4M702 274h2.4M702 277h2.4M702 300h2.4M702 302h2.4M702 310h2.4M702 317h2.4M702 320h2.4M702 322h2.4M702 340h2.4M702 371h2.4M702 391h2.4M702 407h2.4M702 412h2.4M702 415h2.4M702 421h2.4M702 424h2.4M702 432h2.4M702 434h2.4M703 260h2.4M703 264h2.4M703 289h2.4M703 303h2.4M703 305h2.4M703 329h2.4M703 340h2.4M703 351h2.4M703 366h2.4M703 379h2.4M703 380h2.4M703 386h2.4M703 397h2.4M703 401h2.4M703 413h2.4M703 417h2.4M703 438h2.4M703 440h2.4M703 453h2.4M703 456h2.4M703 465h2.4M703 471h2.4M703 486h2.4M704 170h2.4M704 208h2.4M704 238h2.4M704 300h2.4M704 302h2.4M704 305h2.4M704 330h2.4M704 347h2.4M704 350h2.4M704 352h2.4M704 377h2.4M704 385h2.4M704 400h2.4M704 404h2.4M704 406h2.4M704 414h2.4M704 417h2.4M704 420h2.4M704 439h2.4M704 444h2.4M704 445h2.4M705 224h2.4M705 242h2.4M705 244h2.4M705 260h2.4M705 261h2.4M705 290h2.4M705 297h2.4M705 299h2.4M705 304h2.4M705 305h2.4M705 315h2.4M705 324h2.4M705 338h2.4M705 341h2.4M705 347h2.4M705 352h2.4M705 374h2.4M705 382h2.4M705 386h2.4M705 387h2.4M705 404h2.4M705 441h2.4M705 444h2.4M705 446h2.4M705 450h2.4M706 198h2.4M706 202h2.4M706 271h2.4M706 293h2.4M706 301h2.4M706 305h2.4M706 308h2.4M706 313h2.4M706 323h2.4M706 345h2.4M706 357h2.4M706 368h2.4M706 383h2.4M706 392h2.4M706 401h2.4M706 426h2.4M706 467h2.4M707 182h2.4M707 192h2.4M707 251h2.4M707 282h2.4M707 285h2.4M707 333h2.4M707 334h2.4M707 349h2.4M707 350h2.4M707 354h2.4M707 360h2.4M707 362h2.4M707 363h2.4M707 370h2.4M707 372h2.4M707 385h2.4M707 413h2.4M707 414h2.4M707 473h2.4M708 188h2.4M708 189h2.4M708 195h2.4M708 204h2.4M708 241h2.4M708 255h2.4M708 271h2.4M708 309h2.4M708 314h2.4M708 338h2.4M708 344h2.4M708 345h2.4M708 363h2.4M708 376h2.4M708 378h2.4M708 405h2.4M708 415h2.4M708 419h2.4M708 424h2.4M708 426h2.4M708 432h2.4M708 447h2.4M708 465h2.4M709 195h2.4M709 196h2.4M709 242h2.4M709 269h2.4M709 288h2.4M709 300h2.4M709 307h2.4M709 313h2.4M709 317h2.4M709 319h2.4M709 324h2.4M709 330h2.4M709 333h2.4M709 346h2.4M709 347h2.4M709 357h2.4M709 359h2.4M709 360h2.4M709 371h2.4M709 377h2.4M709 390h2.4M709 391h2.4M709 392h2.4M709 401h2.4M709 408h2.4M709 420h2.4M709 421h2.4M709 429h2.4M709 436h2.4M709 452h2.4M709 456h2.4M709 471h2.4M710 188h2.4M710 189h2.4M710 196h2.4M710 252h2.4M710 282h2.4M710 309h2.4M710 322h2.4M710 323h2.4M710 326h2.4M710 329h2.4M710 335h2.4M710 344h2.4M710 376h2.4M710 383h2.4M710 410h2.4M710 423h2.4M710 426h2.4M710 439h2.4M710 453h2.4M711 180h2.4M711 218h2.4M711 265h2.4M711 266h2.4M711 289h2.4M711 293h2.4M711 297h2.4M711 306h2.4M711 325h2.4M711 331h2.4M711 352h2.4M711 355h2.4M711 358h2.4M711 360h2.4M711 362h2.4M711 370h2.4M711 390h2.4M711 405h2.4M711 422h2.4M711 425h2.4M711 428h2.4M711 436h2.4M711 444h2.4M711 459h2.4M712 196h2.4M712 245h2.4M712 278h2.4M712 287h2.4M712 299h2.4M712 305h2.4M712 318h2.4M712 341h2.4M712 344h2.4M712 348h2.4M712 351h2.4M712 352h2.4M712 361h2.4M712 369h2.4M712 370h2.4M712 374h2.4M712 376h2.4M712 392h2.4M712 396h2.4M712 398h2.4M712 401h2.4M712 403h2.4M712 405h2.4M712 408h2.4M712 426h2.4M712 439h2.4M712 441h2.4M712 458h2.4M712 463h2.4M713 177h2.4M713 191h2.4M713 250h2.4M713 266h2.4M713 305h2.4M713 313h2.4M713 322h2.4M713 337h2.4M713 344h2.4M713 347h2.4M713 354h2.4M713 362h2.4M713 367h2.4M713 368h2.4M713 396h2.4M713 403h2.4M713 404h2.4M713 405h2.4M713 421h2.4M713 422h2.4M713 471h2.4M713 478h2.4M714 183h2.4M714 185h2.4M714 188h2.4M714 192h2.4M714 306h2.4M714 314h2.4M714 322h2.4M714 323h2.4M714 325h2.4M714 344h2.4M714 362h2.4M714 366h2.4M714 369h2.4M714 371h2.4M714 376h2.4M714 383h2.4M714 392h2.4M714 425h2.4M714 442h2.4M714 446h2.4M714 449h2.4M714 479h2.4M715 195h2.4M715 289h2.4M715 291h2.4M715 313h2.4M715 317h2.4M715 329h2.4M715 343h2.4M715 352h2.4M715 362h2.4M715 378h2.4M715 382h2.4M715 385h2.4M715 388h2.4M715 435h2.4M715 467h2.4M716 182h2.4M716 215h2.4M716 308h2.4M716 322h2.4M716 325h2.4M716 328h2.4M716 339h2.4M716 341h2.4M716 353h2.4M716 363h2.4M716 372h2.4M716 376h2.4M716 377h2.4M716 390h2.4M716 395h2.4M716 396h2.4M716 397h2.4M716 402h2.4M716 405h2.4M716 423h2.4M716 435h2.4M716 443h2.4M716 456h2.4M717 229h2.4M717 268h2.4M717 277h2.4M717 285h2.4M717 287h2.4M717 294h2.4M717 312h2.4M717 344h2.4M717 345h2.4M717 354h2.4M717 359h2.4M717 360h2.4M717 363h2.4M717 368h2.4M717 372h2.4M717 374h2.4M717 375h2.4M717 376h2.4M717 407h2.4M717 411h2.4M717 428h2.4M717 434h2.4M717 439h2.4M717 444h2.4M718 278h2.4M718 279h2.4M718 291h2.4M718 298h2.4M718 304h2.4M718 317h2.4M718 325h2.4M718 335h2.4M718 341h2.4M718 345h2.4M718 348h2.4M718 353h2.4M718 356h2.4M718 363h2.4M718 371h2.4M718 373h2.4M718 379h2.4M718 389h2.4M718 397h2.4M718 401h2.4M718 407h2.4M718 428h2.4M718 464h2.4M719 186h2.4M719 293h2.4M719 327h2.4M719 333h2.4M719 335h2.4M719 340h2.4M719 354h2.4M719 358h2.4M719 362h2.4M719 379h2.4M719 380h2.4M719 383h2.4M719 389h2.4M719 398h2.4M719 406h2.4M719 429h2.4M719 437h2.4M719 451h2.4M720 177h2.4M720 195h2.4M720 218h2.4M720 236h2.4M720 248h2.4M720 294h2.4M720 302h2.4M720 303h2.4M720 316h2.4M720 322h2.4M720 328h2.4M720 345h2.4M720 349h2.4M720 357h2.4M720 364h2.4M720 367h2.4M720 374h2.4M720 377h2.4M720 394h2.4M720 416h2.4M720 429h2.4M721 235h2.4M721 274h2.4M721 283h2.4M721 304h2.4M721 311h2.4M721 322h2.4M721 344h2.4M721 345h2.4M721 354h2.4M721 364h2.4M721 365h2.4M721 368h2.4M721 377h2.4M721 382h2.4M721 411h2.4M721 413h2.4M721 419h2.4M721 435h2.4M721 445h2.4M721 499h2.4M722 185h2.4M722 214h2.4M722 266h2.4M722 274h2.4M722 285h2.4M722 287h2.4M722 315h2.4M722 318h2.4M722 324h2.4M722 326h2.4M722 338h2.4M722 352h2.4M722 356h2.4M722 357h2.4M722 362h2.4M722 366h2.4M722 374h2.4M722 385h2.4M722 405h2.4M722 419h2.4M722 421h2.4M722 437h2.4M722 440h2.4M722 492h2.4M723 228h2.4M723 237h2.4M723 264h2.4M723 305h2.4M723 308h2.4M723 311h2.4M723 313h2.4M723 321h2.4M723 339h2.4M723 346h2.4M723 347h2.4M723 349h2.4M723 355h2.4M723 370h2.4M723 372h2.4M723 385h2.4M723 386h2.4M723 392h2.4M723 397h2.4M723 413h2.4M723 417h2.4M723 432h2.4M723 510h2.4M724 181h2.4M724 191h2.4M724 222h2.4M724 239h2.4M724 270h2.4M724 279h2.4M724 302h2.4M724 304h2.4M724 308h2.4M724 309h2.4M724 321h2.4M724 328h2.4M724 343h2.4M724 349h2.4M724 351h2.4M724 361h2.4M724 365h2.4M724 368h2.4M724 374h2.4M724 379h2.4M724 381h2.4M724 397h2.4M724 404h2.4M724 408h2.4M724 413h2.4M724 414h2.4M724 417h2.4M724 420h2.4M724 437h2.4M724 439h2.4M724 448h2.4M724 462h2.4M725 226h2.4M725 245h2.4M725 251h2.4M725 256h2.4M725 267h2.4M725 269h2.4M725 281h2.4M725 282h2.4M725 284h2.4M725 289h2.4M725 305h2.4M725 319h2.4M725 322h2.4M725 330h2.4M725 338h2.4M725 343h2.4M725 356h2.4M725 361h2.4M725 366h2.4M725 368h2.4M725 376h2.4M725 379h2.4M725 386h2.4M725 388h2.4M725 424h2.4M725 430h2.4M725 459h2.4M726 190h2.4M726 219h2.4M726 234h2.4M726 298h2.4M726 313h2.4M726 314h2.4M726 325h2.4M726 336h2.4M726 339h2.4M726 340h2.4M726 343h2.4M726 348h2.4M726 350h2.4M726 354h2.4M726 362h2.4M726 366h2.4M726 388h2.4M726 392h2.4M726 395h2.4M726 407h2.4M726 408h2.4M726 455h2.4M726 456h2.4M726 480h2.4M726 498h2.4M727 178h2.4M727 193h2.4M727 268h2.4M727 285h2.4M727 298h2.4M727 307h2.4M727 311h2.4M727 315h2.4M727 318h2.4M727 327h2.4M727 340h2.4M727 345h2.4M727 349h2.4M727 381h2.4M727 387h2.4M727 394h2.4M727 402h2.4M727 411h2.4M727 414h2.4M727 416h2.4M727 481h2.4M728 177h2.4M728 184h2.4M728 210h2.4M728 238h2.4M728 239h2.4M728 250h2.4M728 262h2.4M728 300h2.4M728 307h2.4M728 310h2.4M728 314h2.4M728 325h2.4M728 333h2.4M728 338h2.4M728 344h2.4M728 351h2.4M728 356h2.4M728 358h2.4M728 369h2.4M728 375h2.4M728 378h2.4M728 381h2.4M728 382h2.4M728 385h2.4M728 388h2.4M728 390h2.4M728 397h2.4M728 401h2.4M728 402h2.4M728 403h2.4M728 405h2.4M728 409h2.4M728 417h2.4M728 432h2.4M728 436h2.4M728 448h2.4M728 458h2.4M728 479h2.4M729 197h2.4M729 209h2.4M729 229h2.4M729 273h2.4M729 277h2.4M729 281h2.4M729 284h2.4M729 292h2.4M729 296h2.4M729 298h2.4M729 300h2.4M729 315h2.4M729 319h2.4M729 320h2.4M729 326h2.4M729 335h2.4M729 338h2.4M729 343h2.4M729 347h2.4M729 352h2.4M729 357h2.4M729 358h2.4M729 366h2.4M729 375h2.4M729 384h2.4M729 387h2.4M729 389h2.4M729 393h2.4M729 396h2.4M729 399h2.4M729 401h2.4M729 420h2.4M729 485h2.4M730 222h2.4M730 235h2.4M730 268h2.4M730 294h2.4M730 300h2.4M730 304h2.4M730 308h2.4M730 318h2.4M730 321h2.4M730 337h2.4M730 343h2.4M730 348h2.4M730 349h2.4M730 350h2.4M730 354h2.4M730 362h2.4M730 364h2.4M730 368h2.4M730 371h2.4M730 383h2.4M730 393h2.4M730 409h2.4M730 410h2.4M730 413h2.4M730 421h2.4M730 439h2.4M730 466h2.4M731 186h2.4M731 194h2.4M731 241h2.4M731 283h2.4M731 287h2.4M731 298h2.4M731 309h2.4M731 317h2.4M731 328h2.4M731 329h2.4M731 330h2.4M731 337h2.4M731 340h2.4M731 344h2.4M731 347h2.4M731 356h2.4M731 357h2.4M731 375h2.4M731 378h2.4M731 380h2.4M731 393h2.4M731 395h2.4M731 437h2.4M731 449h2.4M731 454h2.4M732 247h2.4M732 268h2.4M732 281h2.4M732 311h2.4M732 317h2.4M732 318h2.4M732 322h2.4M732 326h2.4M732 333h2.4M732 340h2.4M732 342h2.4M732 347h2.4M732 350h2.4M732 355h2.4M732 359h2.4M732 367h2.4M732 383h2.4M732 393h2.4M732 407h2.4M732 422h2.4M732 432h2.4M732 463h2.4M733 244h2.4M733 264h2.4M733 267h2.4M733 275h2.4M733 287h2.4M733 290h2.4M733 292h2.4M733 298h2.4M733 305h2.4M733 306h2.4M733 315h2.4M733 322h2.4M733 323h2.4M733 344h2.4M733 352h2.4M733 357h2.4M733 359h2.4M733 366h2.4M733 371h2.4M733 386h2.4M733 387h2.4M733 399h2.4M733 415h2.4M733 417h2.4M733 449h2.4M734 205h2.4M734 254h2.4M734 279h2.4M734 299h2.4M734 302h2.4M734 311h2.4M734 334h2.4M734 341h2.4M734 349h2.4M734 350h2.4M734 353h2.4M734 357h2.4M734 359h2.4M734 366h2.4M734 367h2.4M734 370h2.4M734 398h2.4M734 399h2.4M734 405h2.4M734 407h2.4M734 444h2.4M734 452h2.4M735 183h2.4M735 244h2.4M735 252h2.4M735 283h2.4M735 291h2.4M735 294h2.4M735 320h2.4M735 321h2.4M735 322h2.4M735 324h2.4M735 332h2.4M735 336h2.4M735 337h2.4M735 341h2.4M735 345h2.4M735 357h2.4M735 358h2.4M735 359h2.4M735 361h2.4M735 368h2.4M735 371h2.4M735 375h2.4M735 382h2.4M735 417h2.4M735 454h2.4M736 179h2.4M736 191h2.4M736 199h2.4M736 203h2.4M736 287h2.4M736 293h2.4M736 316h2.4M736 319h2.4M736 336h2.4M736 339h2.4M736 342h2.4M736 356h2.4M736 357h2.4M736 362h2.4M736 365h2.4M736 370h2.4M736 376h2.4M736 378h2.4M736 383h2.4M736 386h2.4M736 388h2.4M736 398h2.4M736 410h2.4M736 418h2.4M736 421h2.4M736 422h2.4M736 434h2.4M737 184h2.4M737 206h2.4M737 282h2.4M737 295h2.4M737 298h2.4M737 304h2.4M737 315h2.4M737 323h2.4M737 326h2.4M737 333h2.4M737 352h2.4M737 353h2.4M737 355h2.4M737 356h2.4M737 362h2.4M737 367h2.4M737 368h2.4M737 385h2.4M737 435h2.4M737 439h2.4M737 469h2.4M738 231h2.4M738 234h2.4M738 246h2.4M738 249h2.4M738 259h2.4M738 271h2.4M738 278h2.4M738 286h2.4M738 287h2.4M738 293h2.4M738 297h2.4M738 302h2.4M738 323h2.4M738 326h2.4M738 329h2.4M738 336h2.4M738 341h2.4M738 344h2.4M738 348h2.4M738 349h2.4M738 368h2.4M738 382h2.4M738 383h2.4M738 392h2.4M738 404h2.4M738 424h2.4M738 430h2.4M738 442h2.4M738 475h2.4M738 488h2.4M738 489h2.4M739 185h2.4M739 237h2.4M739 256h2.4M739 260h2.4M739 284h2.4M739 294h2.4M739 300h2.4M739 302h2.4M739 310h2.4M739 321h2.4M739 323h2.4M739 325h2.4M739 331h2.4M739 344h2.4M739 347h2.4M739 348h2.4M739 351h2.4M739 368h2.4M739 383h2.4M739 391h2.4M739 412h2.4M739 416h2.4M739 431h2.4M739 437h2.4M739 441h2.4M739 464h2.4M739 474h2.4M740 193h2.4M740 226h2.4M740 256h2.4M740 284h2.4M740 287h2.4M740 290h2.4M740 291h2.4M740 326h2.4M740 331h2.4M740 338h2.4M740 340h2.4M740 343h2.4M740 351h2.4M740 360h2.4M740 363h2.4M740 371h2.4M740 373h2.4M740 379h2.4M740 380h2.4M740 383h2.4M740 390h2.4M740 393h2.4M740 400h2.4M740 403h2.4M740 408h2.4M740 410h2.4M740 413h2.4M740 419h2.4M740 423h2.4M740 461h2.4M741 174h2.4M741 177h2.4M741 179h2.4M741 185h2.4M741 223h2.4M741 228h2.4M741 242h2.4M741 245h2.4M741 273h2.4M741 287h2.4M741 288h2.4M741 292h2.4M741 295h2.4M741 296h2.4M741 304h2.4M741 325h2.4M741 326h2.4M741 333h2.4M741 334h2.4M741 335h2.4M741 341h2.4M741 342h2.4M741 345h2.4M741 351h2.4M741 359h2.4M741 370h2.4M741 372h2.4M741 374h2.4M741 380h2.4M741 382h2.4M741 387h2.4M741 403h2.4M741 422h2.4M741 429h2.4M741 438h2.4M742 179h2.4M742 187h2.4M742 208h2.4M742 248h2.4M742 267h2.4M742 269h2.4M742 284h2.4M742 288h2.4M742 289h2.4M742 291h2.4M742 293h2.4M742 307h2.4M742 310h2.4M742 316h2.4M742 321h2.4M742 334h2.4M742 341h2.4M742 349h2.4M742 360h2.4M742 361h2.4M742 365h2.4M742 368h2.4M742 372h2.4M742 375h2.4M742 393h2.4M742 408h2.4M742 413h2.4M743 189h2.4M743 205h2.4M743 283h2.4M743 287h2.4M743 296h2.4M743 301h2.4M743 314h2.4M743 317h2.4M743 321h2.4M743 332h2.4M743 336h2.4M743 341h2.4M743 348h2.4M743 350h2.4M743 384h2.4M743 385h2.4M743 395h2.4M743 436h2.4M743 455h2.4M744 189h2.4M744 213h2.4M744 292h2.4M744 293h2.4M744 294h2.4M744 298h2.4M744 322h2.4M744 337h2.4M744 353h2.4M744 355h2.4M744 358h2.4M744 374h2.4M744 375h2.4M744 383h2.4M744 385h2.4M744 386h2.4M744 390h2.4M744 413h2.4M744 428h2.4M744 438h2.4M744 440h2.4M744 450h2.4M744 455h2.4M744 464h2.4M744 478h2.4M745 199h2.4M745 249h2.4M745 272h2.4M745 284h2.4M745 287h2.4M745 298h2.4M745 300h2.4M745 303h2.4M745 306h2.4M745 307h2.4M745 322h2.4M745 327h2.4M745 331h2.4M745 333h2.4M745 336h2.4M745 341h2.4M745 344h2.4M745 351h2.4M745 352h2.4M745 378h2.4M745 381h2.4M745 384h2.4M745 397h2.4M745 400h2.4M745 407h2.4M745 423h2.4M745 432h2.4M745 440h2.4M745 442h2.4M746 192h2.4M746 205h2.4M746 227h2.4M746 251h2.4M746 267h2.4M746 283h2.4M746 286h2.4M746 287h2.4M746 298h2.4M746 308h2.4M746 311h2.4M746 312h2.4M746 319h2.4M746 321h2.4M746 322h2.4M746 334h2.4M746 336h2.4M746 342h2.4M746 358h2.4M746 364h2.4M746 368h2.4M746 377h2.4M746 382h2.4M746 401h2.4M746 407h2.4M746 417h2.4M746 422h2.4M746 429h2.4M746 434h2.4M746 438h2.4M746 457h2.4M746 463h2.4M747 209h2.4M747 244h2.4M747 274h2.4M747 275h2.4M747 280h2.4M747 286h2.4M747 288h2.4M747 289h2.4M747 291h2.4M747 292h2.4M747 293h2.4M747 307h2.4M747 324h2.4M747 325h2.4M747 331h2.4M747 333h2.4M747 341h2.4M747 342h2.4M747 346h2.4M747 352h2.4M747 356h2.4M747 358h2.4M747 359h2.4M747 360h2.4M747 367h2.4M747 368h2.4M747 370h2.4M747 375h2.4M747 376h2.4M747 383h2.4M747 390h2.4M747 399h2.4M747 402h2.4M747 413h2.4M747 434h2.4M748 246h2.4M748 270h2.4M748 276h2.4M748 277h2.4M748 284h2.4M748 287h2.4M748 291h2.4M748 300h2.4M748 312h2.4M748 314h2.4M748 317h2.4M748 323h2.4M748 331h2.4M748 336h2.4M748 343h2.4M748 349h2.4M748 365h2.4M748 373h2.4M748 377h2.4M748 388h2.4M748 390h2.4M748 447h2.4M748 454h2.4M749 198h2.4M749 256h2.4M749 264h2.4M749 286h2.4M749 288h2.4M749 297h2.4M749 302h2.4M749 305h2.4M749 307h2.4M749 311h2.4M749 312h2.4M749 320h2.4M749 330h2.4M749 331h2.4M749 339h2.4M749 340h2.4M749 343h2.4M749 363h2.4M749 367h2.4M749 371h2.4M749 372h2.4M749 374h2.4M749 377h2.4M749 378h2.4M749 381h2.4M749 383h2.4M749 385h2.4M749 386h2.4M749 396h2.4M749 444h2.4M749 453h2.4M750 230h2.4M750 235h2.4M750 246h2.4M750 279h2.4M750 290h2.4M750 295h2.4M750 304h2.4M750 306h2.4M750 309h2.4M750 316h2.4M750 318h2.4M750 326h2.4M750 329h2.4M750 333h2.4M750 338h2.4M750 346h2.4M750 347h2.4M750 348h2.4M750 349h2.4M750 371h2.4M750 376h2.4M750 391h2.4M750 398h2.4M750 424h2.4M750 427h2.4M750 477h2.4M751 265h2.4M751 311h2.4M751 325h2.4M751 335h2.4M751 346h2.4M751 362h2.4M751 368h2.4M751 390h2.4M751 391h2.4M751 398h2.4M751 399h2.4M751 400h2.4M751 422h2.4M751 423h2.4M752 193h2.4M752 291h2.4M752 292h2.4M752 299h2.4M752 301h2.4M752 305h2.4M752 307h2.4M752 311h2.4M752 314h2.4M752 315h2.4M752 324h2.4M752 325h2.4M752 331h2.4M752 332h2.4M752 335h2.4M752 341h2.4M752 355h2.4M752 361h2.4M752 368h2.4M752 369h2.4M752 382h2.4M752 384h2.4M752 396h2.4M752 399h2.4M752 406h2.4M752 423h2.4M752 464h2.4M753 201h2.4M753 253h2.4M753 265h2.4M753 272h2.4M753 286h2.4M753 290h2.4M753 305h2.4M753 309h2.4M753 310h2.4M753 312h2.4M753 313h2.4M753 320h2.4M753 324h2.4M753 325h2.4M753 336h2.4M753 338h2.4M753 339h2.4M753 343h2.4M753 345h2.4M753 350h2.4M753 356h2.4M753 357h2.4M753 358h2.4M753 361h2.4M753 362h2.4M753 365h2.4M753 371h2.4M753 372h2.4M753 377h2.4M753 380h2.4M753 388h2.4M753 391h2.4M753 392h2.4M753 430h2.4M753 440h2.4M753 453h2.4M754 203h2.4M754 292h2.4M754 296h2.4M754 304h2.4M754 307h2.4M754 310h2.4M754 311h2.4M754 312h2.4M754 315h2.4M754 317h2.4M754 319h2.4M754 335h2.4M754 337h2.4M754 342h2.4M754 343h2.4M754 349h2.4M754 353h2.4M754 357h2.4M754 358h2.4M754 361h2.4M754 373h2.4M754 379h2.4M754 397h2.4M754 411h2.4M754 426h2.4M754 445h2.4M754 455h2.4M755 200h2.4M755 277h2.4M755 301h2.4M755 303h2.4M755 306h2.4M755 311h2.4M755 314h2.4M755 323h2.4M755 327h2.4M755 333h2.4M755 334h2.4M755 342h2.4M755 343h2.4M755 346h2.4M755 348h2.4M755 353h2.4M755 356h2.4M755 358h2.4M755 362h2.4M755 371h2.4M755 372h2.4M755 374h2.4M755 389h2.4M755 392h2.4M755 394h2.4M755 414h2.4M755 427h2.4M755 431h2.4M755 443h2.4M755 510h2.4M756 210h2.4M756 236h2.4M756 266h2.4M756 287h2.4M756 288h2.4M756 311h2.4M756 319h2.4M756 330h2.4M756 342h2.4M756 348h2.4M756 353h2.4M756 359h2.4M756 360h2.4M756 384h2.4M756 388h2.4M756 391h2.4M756 401h2.4M756 419h2.4M757 217h2.4M757 265h2.4M757 277h2.4M757 296h2.4M757 297h2.4M757 304h2.4M757 319h2.4M757 323h2.4M757 324h2.4M757 325h2.4M757 330h2.4M757 336h2.4M757 342h2.4M757 343h2.4M757 345h2.4M757 347h2.4M757 362h2.4M757 363h2.4M757 364h2.4M757 369h2.4M757 374h2.4M757 377h2.4M757 380h2.4M757 381h2.4M757 386h2.4M757 389h2.4M757 404h2.4M757 422h2.4M757 447h2.4M757 470h2.4M757 510h2.4M758 248h2.4M758 264h2.4M758 265h2.4M758 276h2.4M758 294h2.4M758 295h2.4M758 308h2.4M758 312h2.4M758 314h2.4M758 330h2.4M758 333h2.4M758 336h2.4M758 338h2.4M758 341h2.4M758 349h2.4M758 360h2.4M758 364h2.4M758 366h2.4M758 371h2.4M758 373h2.4M758 377h2.4M758 380h2.4M758 407h2.4M758 408h2.4M758 458h2.4M758 478h2.4M759 242h2.4M759 251h2.4M759 281h2.4M759 282h2.4M759 291h2.4M759 301h2.4M759 310h2.4M759 335h2.4M759 338h2.4M759 341h2.4M759 356h2.4M759 366h2.4M759 371h2.4M759 378h2.4M759 379h2.4M759 385h2.4M759 386h2.4M759 391h2.4M759 393h2.4M759 408h2.4M759 415h2.4M759 471h2.4M760 184h2.4M760 193h2.4M760 202h2.4M760 293h2.4M760 298h2.4M760 302h2.4M760 305h2.4M760 308h2.4M760 312h2.4M760 316h2.4M760 328h2.4M760 339h2.4M760 341h2.4M760 349h2.4M760 371h2.4M760 405h2.4M760 412h2.4M760 431h2.4M760 468h2.4M761 176h2.4M761 179h2.4M761 259h2.4M761 271h2.4M761 279h2.4M761 283h2.4M761 300h2.4M761 303h2.4M761 305h2.4M761 307h2.4M761 312h2.4M761 316h2.4M761 318h2.4M761 329h2.4M761 330h2.4M761 340h2.4M761 342h2.4M761 343h2.4M761 344h2.4M761 346h2.4M761 357h2.4M761 372h2.4M761 373h2.4M761 376h2.4M761 388h2.4M761 390h2.4M761 406h2.4M761 473h2.4M762 191h2.4M762 253h2.4M762 267h2.4M762 288h2.4M762 289h2.4M762 311h2.4M762 317h2.4M762 320h2.4M762 333h2.4M762 366h2.4M762 372h2.4M762 374h2.4M762 387h2.4M762 394h2.4M762 395h2.4M762 404h2.4M762 406h2.4M762 425h2.4M762 426h2.4M762 488h2.4M763 278h2.4M763 290h2.4M763 291h2.4M763 298h2.4M763 302h2.4M763 315h2.4M763 319h2.4M763 322h2.4M763 324h2.4M763 327h2.4M763 329h2.4M763 334h2.4M763 336h2.4M763 341h2.4M763 366h2.4M763 372h2.4M763 379h2.4M763 380h2.4M763 395h2.4M763 400h2.4M763 406h2.4M763 442h2.4M764 278h2.4M764 306h2.4M764 316h2.4M764 317h2.4M764 318h2.4M764 320h2.4M764 327h2.4M764 333h2.4M764 341h2.4M764 347h2.4M764 348h2.4M764 365h2.4M764 367h2.4M764 370h2.4M764 371h2.4M764 374h2.4M764 397h2.4M764 398h2.4M764 420h2.4M764 424h2.4M764 429h2.4M764 430h2.4M765 203h2.4M765 224h2.4M765 228h2.4M765 278h2.4M765 282h2.4M765 297h2.4M765 301h2.4M765 303h2.4M765 314h2.4M765 319h2.4M765 344h2.4M765 346h2.4M765 349h2.4M765 359h2.4M765 366h2.4M765 368h2.4M765 369h2.4M765 373h2.4M765 399h2.4M765 415h2.4M765 438h2.4M765 455h2.4M765 493h2.4M766 180h2.4M766 193h2.4M766 197h2.4M766 200h2.4M766 307h2.4M766 312h2.4M766 327h2.4M766 331h2.4M766 341h2.4M766 349h2.4M766 360h2.4M766 363h2.4M766 371h2.4M766 373h2.4M766 375h2.4M766 381h2.4M766 388h2.4M766 394h2.4M766 400h2.4M766 409h2.4M766 459h2.4M767 228h2.4M767 276h2.4M767 282h2.4M767 287h2.4M767 295h2.4M767 298h2.4M767 303h2.4M767 318h2.4M767 319h2.4M767 323h2.4M767 342h2.4M767 349h2.4M767 350h2.4M767 353h2.4M767 358h2.4M767 360h2.4M767 364h2.4M767 367h2.4M767 369h2.4M767 376h2.4M767 387h2.4M767 392h2.4M767 405h2.4M767 409h2.4M767 478h2.4M768 270h2.4M768 271h2.4M768 284h2.4M768 291h2.4M768 293h2.4M768 296h2.4M768 299h2.4M768 317h2.4M768 321h2.4M768 338h2.4M768 346h2.4M768 350h2.4M768 354h2.4M768 363h2.4M768 379h2.4M768 388h2.4M768 394h2.4M768 400h2.4M768 415h2.4M768 417h2.4M768 423h2.4M768 427h2.4M768 457h2.4M769 276h2.4M769 283h2.4M769 305h2.4M769 311h2.4M769 319h2.4M769 320h2.4M769 329h2.4M769 347h2.4M769 354h2.4M769 355h2.4M769 363h2.4M769 371h2.4M769 381h2.4M769 441h2.4M770 243h2.4M770 247h2.4M770 254h2.4M770 266h2.4M770 283h2.4M770 289h2.4M770 300h2.4M770 302h2.4M770 319h2.4M770 322h2.4M770 323h2.4M770 336h2.4M770 338h2.4M770 343h2.4M770 347h2.4M770 349h2.4M770 356h2.4M770 371h2.4M770 374h2.4M770 378h2.4M770 379h2.4M770 380h2.4M770 382h2.4M770 392h2.4M770 421h2.4M770 433h2.4M770 448h2.4M771 289h2.4M771 297h2.4M771 300h2.4M771 303h2.4M771 306h2.4M771 307h2.4M771 316h2.4M771 319h2.4M771 325h2.4M771 332h2.4M771 335h2.4M771 336h2.4M771 337h2.4M771 351h2.4M771 353h2.4M771 356h2.4M771 360h2.4M771 363h2.4M771 372h2.4M771 380h2.4M771 384h2.4M771 391h2.4M771 395h2.4M771 400h2.4M771 401h2.4M771 433h2.4M771 439h2.4M772 182h2.4M772 188h2.4M772 215h2.4M772 276h2.4M772 295h2.4M772 303h2.4M772 333h2.4M772 336h2.4M772 339h2.4M772 358h2.4M772 380h2.4M772 402h2.4M772 410h2.4M772 411h2.4M772 419h2.4M772 428h2.4M772 461h2.4M773 228h2.4M773 259h2.4M773 278h2.4M773 290h2.4M773 293h2.4M773 295h2.4M773 299h2.4M773 315h2.4M773 329h2.4M773 334h2.4M773 341h2.4M773 344h2.4M773 346h2.4M773 349h2.4M773 352h2.4M773 359h2.4M773 363h2.4M773 369h2.4M773 377h2.4M773 378h2.4M773 386h2.4M773 394h2.4M773 396h2.4M773 397h2.4M773 414h2.4M773 419h2.4M773 446h2.4M774 184h2.4M774 199h2.4M774 291h2.4M774 310h2.4M774 322h2.4M774 335h2.4M774 342h2.4M774 348h2.4M774 354h2.4M774 362h2.4M774 368h2.4M774 372h2.4M774 374h2.4M774 383h2.4M774 386h2.4M774 388h2.4M774 399h2.4M774 409h2.4M774 417h2.4M774 435h2.4M774 442h2.4M774 454h2.4M774 512h2.4M775 179h2.4M775 195h2.4M775 199h2.4M775 209h2.4M775 233h2.4M775 260h2.4M775 270h2.4M775 273h2.4M775 304h2.4M775 308h2.4M775 313h2.4M775 323h2.4M775 331h2.4M775 340h2.4M775 341h2.4M775 342h2.4M775 346h2.4M775 358h2.4M775 359h2.4M775 362h2.4M775 367h2.4M775 368h2.4M775 371h2.4M775 397h2.4M775 478h2.4M776 184h2.4M776 188h2.4M776 248h2.4M776 285h2.4M776 290h2.4M776 294h2.4M776 312h2.4M776 314h2.4M776 341h2.4M776 344h2.4M776 347h2.4M776 362h2.4M776 363h2.4M776 374h2.4M776 376h2.4M776 387h2.4M776 398h2.4M776 448h2.4M776 470h2.4M777 199h2.4M777 202h2.4M777 284h2.4M777 294h2.4M777 297h2.4M777 319h2.4M777 322h2.4M777 352h2.4M777 356h2.4M777 357h2.4M777 359h2.4M777 368h2.4M777 373h2.4M777 374h2.4M777 396h2.4M777 404h2.4M777 428h2.4M778 181h2.4M778 232h2.4M778 250h2.4M778 255h2.4M778 284h2.4M778 287h2.4M778 302h2.4M778 312h2.4M778 328h2.4M778 334h2.4M778 343h2.4M778 352h2.4M778 358h2.4M778 360h2.4M778 369h2.4M778 373h2.4M778 402h2.4M778 410h2.4M778 412h2.4M778 421h2.4M778 455h2.4M778 481h2.4M779 199h2.4M779 252h2.4M779 267h2.4M779 269h2.4M779 301h2.4M779 309h2.4M779 310h2.4M779 323h2.4M779 341h2.4M779 349h2.4M779 351h2.4M779 356h2.4M779 361h2.4M779 366h2.4M779 407h2.4M779 410h2.4M779 411h2.4M779 438h2.4M779 455h2.4M780 188h2.4M780 286h2.4M780 294h2.4M780 295h2.4M780 307h2.4M780 313h2.4M780 326h2.4M780 328h2.4M780 335h2.4M780 350h2.4M780 353h2.4M780 359h2.4M780 370h2.4M780 374h2.4M780 375h2.4M780 388h2.4M780 422h2.4M780 433h2.4M780 446h2.4M780 471h2.4M781 199h2.4M781 273h2.4M781 282h2.4M781 286h2.4M781 297h2.4M781 302h2.4M781 323h2.4M781 324h2.4M781 331h2.4M781 354h2.4M781 379h2.4M781 386h2.4M781 395h2.4M781 410h2.4M781 422h2.4M782 177h2.4M782 202h2.4M782 227h2.4M782 243h2.4M782 254h2.4M782 273h2.4M782 285h2.4M782 305h2.4M782 317h2.4M782 319h2.4M782 321h2.4M782 324h2.4M782 330h2.4M782 331h2.4M782 335h2.4M782 348h2.4M782 350h2.4M782 357h2.4M782 398h2.4M782 469h2.4M783 184h2.4M783 288h2.4M783 301h2.4M783 307h2.4M783 315h2.4M783 320h2.4M783 321h2.4M783 329h2.4M783 344h2.4M783 349h2.4M783 352h2.4M783 360h2.4M783 363h2.4M783 366h2.4M783 374h2.4M783 388h2.4M783 402h2.4M783 409h2.4M783 414h2.4M783 421h2.4M783 422h2.4M783 432h2.4M783 445h2.4M783 462h2.4M784 292h2.4M784 309h2.4M784 340h2.4M784 345h2.4M784 352h2.4M784 362h2.4M784 380h2.4M784 381h2.4M784 393h2.4M784 394h2.4M784 403h2.4M785 205h2.4M785 313h2.4M785 317h2.4M785 319h2.4M785 330h2.4M785 345h2.4M785 347h2.4M785 364h2.4M785 366h2.4M785 370h2.4M785 378h2.4M785 387h2.4M785 404h2.4M785 411h2.4M785 425h2.4M785 447h2.4M785 451h2.4M786 184h2.4M786 251h2.4M786 257h2.4M786 325h2.4M786 337h2.4M786 346h2.4M786 360h2.4M786 361h2.4M786 363h2.4M786 364h2.4M786 376h2.4M786 381h2.4M786 395h2.4M786 407h2.4M786 424h2.4M786 432h2.4M786 439h2.4M786 463h2.4M787 193h2.4M787 200h2.4M787 282h2.4M787 288h2.4M787 313h2.4M787 318h2.4M787 319h2.4M787 326h2.4M787 329h2.4M787 335h2.4M787 363h2.4M787 387h2.4M787 403h2.4M787 411h2.4M787 415h2.4M787 442h2.4M787 443h2.4M787 477h2.4M788 185h2.4M788 213h2.4M788 245h2.4M788 283h2.4M788 304h2.4M788 306h2.4M788 310h2.4M788 317h2.4M788 321h2.4M788 322h2.4M788 335h2.4M788 364h2.4M788 371h2.4M788 439h2.4M789 247h2.4M789 312h2.4M789 320h2.4M789 356h2.4M789 360h2.4M789 362h2.4M789 386h2.4M789 391h2.4M789 405h2.4M789 437h2.4M789 443h2.4M790 311h2.4M790 320h2.4M790 340h2.4M790 342h2.4M790 346h2.4M790 369h2.4M790 380h2.4M790 406h2.4M790 409h2.4M790 504h2.4M791 243h2.4M791 250h2.4M791 290h2.4M791 308h2.4M791 318h2.4M791 350h2.4M791 358h2.4M791 399h2.4M791 420h2.4M791 427h2.4M791 489h2.4M792 208h2.4M792 239h2.4M792 243h2.4M792 250h2.4M792 253h2.4M792 265h2.4M792 271h2.4M792 283h2.4M792 301h2.4M792 304h2.4M792 306h2.4M792 308h2.4M792 321h2.4M792 325h2.4M792 336h2.4M792 350h2.4M792 351h2.4M792 360h2.4M792 361h2.4M792 396h2.4M792 403h2.4M793 220h2.4M793 234h2.4M793 271h2.4M793 279h2.4M793 290h2.4M793 305h2.4M793 332h2.4M793 335h2.4M793 342h2.4M793 348h2.4M793 379h2.4M793 420h2.4M793 438h2.4M793 469h2.4M794 237h2.4M794 255h2.4M794 299h2.4M794 303h2.4M794 316h2.4M794 320h2.4M794 326h2.4M794 334h2.4M794 339h2.4M794 361h2.4M794 362h2.4M794 369h2.4M794 384h2.4M794 389h2.4M794 404h2.4M794 443h2.4M795 269h2.4M795 314h2.4M795 318h2.4M795 320h2.4M795 331h2.4M795 351h2.4M795 383h2.4M795 400h2.4M795 423h2.4M795 426h2.4M795 428h2.4M795 462h2.4M796 253h2.4M796 271h2.4M796 284h2.4M796 318h2.4M796 323h2.4M796 349h2.4M796 358h2.4M796 365h2.4M796 397h2.4M796 400h2.4M796 405h2.4M796 491h2.4M796 515h2.4M797 195h2.4M797 280h2.4M797 282h2.4M797 287h2.4M797 298h2.4M797 305h2.4M797 353h2.4M797 355h2.4M797 357h2.4M797 375h2.4M797 393h2.4M797 407h2.4M797 415h2.4M797 459h2.4M797 466h2.4M797 470h2.4M797 476h2.4M798 252h2.4M798 291h2.4M798 309h2.4M798 330h2.4M798 340h2.4M798 363h2.4M799 257h2.4M799 264h2.4M799 295h2.4M799 297h2.4M799 338h2.4M799 340h2.4M799 369h2.4M799 375h2.4M799 384h2.4M799 393h2.4M800 252h2.4M800 256h2.4M800 271h2.4M800 287h2.4M800 303h2.4M800 319h2.4M800 331h2.4M800 336h2.4M800 337h2.4M800 350h2.4M800 364h2.4M800 368h2.4M800 383h2.4M800 390h2.4M800 401h2.4M800 424h2.4M801 302h2.4M801 307h2.4M801 309h2.4M801 373h2.4M801 384h2.4M801 400h2.4M801 428h2.4M802 220h2.4M802 281h2.4M802 298h2.4M802 305h2.4M802 314h2.4M802 323h2.4M802 328h2.4M802 336h2.4M802 344h2.4M802 349h2.4M802 376h2.4M802 379h2.4M802 450h2.4M802 481h2.4M803 205h2.4M803 262h2.4M803 269h2.4M803 278h2.4M803 287h2.4M803 306h2.4M803 342h2.4M803 371h2.4M803 397h2.4M803 412h2.4M803 446h2.4M803 451h2.4M804 208h2.4M804 337h2.4M804 351h2.4M804 352h2.4M804 366h2.4M804 388h2.4M804 455h2.4M804 471h2.4M805 167h2.4M805 260h2.4M805 290h2.4M805 304h2.4M805 317h2.4M805 333h2.4M805 339h2.4M805 343h2.4M805 364h2.4M805 369h2.4M805 380h2.4M805 386h2.4M805 392h2.4M805 396h2.4M805 406h2.4M805 408h2.4M805 484h2.4M806 298h2.4M806 301h2.4M806 312h2.4M806 325h2.4M806 326h2.4M806 344h2.4M806 382h2.4M806 389h2.4M806 398h2.4M806 410h2.4M807 287h2.4M807 325h2.4M807 336h2.4M807 344h2.4M807 350h2.4M807 371h2.4M807 372h2.4M807 398h2.4M807 413h2.4M807 416h2.4M807 507h2.4M808 274h2.4M808 302h2.4M808 322h2.4M808 327h2.4M808 345h2.4M808 376h2.4M808 380h2.4M808 429h2.4M808 488h2.4M809 314h2.4M809 335h2.4M809 338h2.4M809 369h2.4M809 371h2.4M809 402h2.4M809 426h2.4M809 487h2.4M809 495h2.4M810 263h2.4M810 353h2.4M810 362h2.4M810 384h2.4M810 415h2.4M810 425h2.4M810 463h2.4M811 305h2.4M811 311h2.4M811 321h2.4M811 372h2.4M811 383h2.4M811 400h2.4M812 286h2.4M812 332h2.4M812 344h2.4M812 345h2.4M812 369h2.4M812 370h2.4M812 377h2.4M812 386h2.4M812 388h2.4M812 389h2.4M812 391h2.4M812 411h2.4M812 427h2.4M813 190h2.4M813 239h2.4M813 345h2.4M813 361h2.4M813 370h2.4M813 372h2.4M813 413h2.4M813 415h2.4M813 423h2.4M813 429h2.4M814 254h2.4M814 291h2.4M814 349h2.4M814 358h2.4M814 396h2.4M814 403h2.4M815 233h2.4M815 234h2.4M815 305h2.4M815 318h2.4M815 329h2.4M815 386h2.4M815 418h2.4M815 438h2.4M815 474h2.4M816 223h2.4M816 296h2.4M816 298h2.4M816 314h2.4M816 371h2.4M816 403h2.4M816 422h2.4M817 268h2.4M817 292h2.4M817 314h2.4M817 346h2.4M817 350h2.4M817 360h2.4M817 371h2.4M817 372h2.4M817 390h2.4M817 414h2.4M818 329h2.4M818 426h2.4M818 449h2.4M819 215h2.4M819 256h2.4M819 271h2.4M819 287h2.4M819 327h2.4M819 337h2.4M819 342h2.4M819 358h2.4M819 369h2.4M819 398h2.4M819 402h2.4M819 405h2.4M820 274h2.4M820 297h2.4M820 319h2.4M820 329h2.4M820 342h2.4M820 376h2.4M820 429h2.4M820 474h2.4M820 502h2.4M821 299h2.4M821 329h2.4M821 355h2.4M821 378h2.4M821 401h2.4M821 417h2.4M821 454h2.4M822 289h2.4M822 309h2.4M822 317h2.4M822 410h2.4M823 278h2.4M823 342h2.4M823 347h2.4M823 356h2.4M823 458h2.4M824 223h2.4M824 262h2.4M824 293h2.4M824 365h2.4M825 237h2.4M825 279h2.4M825 309h2.4M825 315h2.4M825 365h2.4M826 281h2.4M826 440h2.4M827 231h2.4M827 254h2.4M827 257h2.4M827 278h2.4M827 284h2.4M827 303h2.4M827 309h2.4M827 316h2.4M827 323h2.4M827 330h2.4M828 351h2.4M828 371h2.4M828 406h2.4M828 428h2.4M830 204h2.4M830 298h2.4M830 316h2.4M830 332h2.4M830 338h2.4M830 375h2.4M830 383h2.4M830 396h2.4M830 438h2.4M830 485h2.4M831 239h2.4M831 281h2.4M831 308h2.4M831 351h2.4M831 365h2.4M831 403h2.4M831 505h2.4M832 350h2.4M832 362h2.4M832 465h2.4M833 223h2.4M833 318h2.4M833 348h2.4M833 382h2.4M833 391h2.4M833 392h2.4M833 400h2.4M833 421h2.4M833 487h2.4M834 356h2.4M835 333h2.4M835 339h2.4M835 345h2.4M835 390h2.4M835 400h2.4M836 285h2.4M836 316h2.4M837 435h2.4M837 461h2.4M838 213h2.4M838 235h2.4M838 334h2.4M838 399h2.4M839 189h2.4M839 322h2.4M839 382h2.4M840 199h2.4M840 309h2.4M840 320h2.4M840 389h2.4M840 402h2.4M840 510h2.4M841 282h2.4M841 284h2.4M841 309h2.4M841 375h2.4M842 234h2.4M842 290h2.4M842 334h2.4M842 507h2.4M843 310h2.4M844 290h2.4M844 363h2.4M844 364h2.4M844 493h2.4M845 199h2.4M845 342h2.4M845 356h2.4M846 284h2.4M846 376h2.4M846 386h2.4M846 402h2.4M847 278h2.4M848 379h2.4M849 168h2.4M849 308h2.4M850 205h2.4M850 307h2.4M850 372h2.4M850 404h2.4M851 418h2.4M852 378h2.4M852 400h2.4M852 456h2.4M853 234h2.4M853 307h2.4M853 311h2.4M854 375h2.4M855 197h2.4M855 313h2.4M855 369h2.4M857 328h2.4M857 391h2.4M857 428h2.4M858 296h2.4M858 379h2.4M859 356h2.4M860 199h2.4M861 227h2.4M861 298h2.4M862 225h2.4M863 435h2.4M864 255h2.4M864 308h2.4M865 439h2.4M866 287h2.4M866 428h2.4M867 195h2.4M867 216h2.4M867 377h2.4M868 287h2.4M868 327h2.4M870 202h2.4M871 349h2.4M873 513h2.4M876 323h2.4M877 277h2.4M877 377h2.4M877 430h2.4M878 287h2.4M878 303h2.4M879 293h2.4M880 278h2.4M880 297h2.4M880 324h2.4M880 373h2.4M881 430h2.4M882 360h2.4M882 463h2.4M883 352h2.4M884 194h2.4M886 226h2.4M887 186h2.4M887 431h2.4M888 408h2.4M889 382h2.4M889 395h2.4M890 377h2.4M890 434h2.4M890 497h2.4M891 360h2.4M892 226h2.4M892 244h2.4M892 354h2.4M892 513h2.4M894 321h2.4M894 342h2.4M894 469h2.4M896 285h2.4M898 238h2.4M899 234h2.4M899 297h2.4M899 403h2.4M900 285h2.4M900 506h2.4M901 270h2.4M901 437h2.4M902 451h2.4M903 257h2.4M903 265h2.4M904 401h2.4M906 209h2.4M906 374h2.4M906 488h2.4M907 417h2.4M907 436h2.4M909 203h2.4M911 290h2.4M912 368h2.4M912 503h2.4M914 365h2.4M914 458h2.4M920 445h2.4M921 437h2.4M921 494h2.4M923 327h2.4M924 455h2.4M925 375h2.4M927 196h2.4M927 204h2.4M927 501h2.4M928 291h2.4M928 386h2.4" stroke="#000" stroke-width="2.4" fill="none" transform="translate(-0.2 0)"/>
<path d="M1024 297h2M1024 344h2M1024 353h2M1024 372h2M1024 380h2M1024 404h2M1024 491h2M1025 320h2M1026 314h2M1026 329h2M1026 386h2M1026 499h2M1027 250h2M1027 297h2M1027 307h2M1027 315h2M1027 516h2M1028 285h2M1028 312h2M1028 341h2M1028 442h2M1029 325h2M1029 372h2M1029 385h2M1029 403h2M1029 499h2M1029 513h2M1030 266h2M1030 272h2M1030 361h2M1030 365h2M1030 375h2M1030 377h2M1030 415h2M1030 502h2M1030 518h2M1031 240h2M1031 242h2M1031 259h2M1031 371h2M1031 372h2M1031 394h2M1031 401h2M1032 198h2M1032 216h2M1032 222h2M1032 321h2M1032 369h2M1033 257h2M1033 287h2M1033 330h2M1033 355h2M1033 368h2M1033 396h2M1033 416h2M1033 514h2M1034 320h2M1034 454h2M1034 516h2M1035 255h2M1035 283h2M1035 299h2M1035 325h2M1035 383h2M1035 440h2M1035 504h2M1035 515h2M1036 218h2M1036 265h2M1036 273h2M1036 308h2M1036 333h2M1036 376h2M1036 482h2M1036 490h2M1037 284h2M1037 295h2M1037 329h2M1037 356h2M1037 402h2M1037 433h2M1037 496h2M1038 317h2M1038 330h2M1038 375h2M1038 405h2M1039 329h2M1039 371h2M1039 518h2M1040 246h2M1040 294h2M1040 298h2M1040 304h2M1040 320h2M1040 335h2M1040 345h2M1040 360h2M1040 364h2M1040 371h2M1040 422h2M1040 478h2M1041 300h2M1041 301h2M1041 330h2M1041 332h2M1041 340h2M1041 356h2M1041 368h2M1041 389h2M1041 401h2M1041 419h2M1042 288h2M1042 320h2M1042 326h2M1042 340h2M1042 356h2M1042 364h2M1042 371h2M1042 404h2M1042 506h2M1042 515h2M1043 247h2M1043 272h2M1043 294h2M1043 327h2M1043 366h2M1043 395h2M1043 407h2M1043 440h2M1043 504h2M1043 509h2M1043 511h2M1044 296h2M1044 308h2M1044 313h2M1044 340h2M1044 349h2M1044 366h2M1044 370h2M1044 384h2M1044 391h2M1044 441h2M1044 442h2M1045 278h2M1045 306h2M1045 311h2M1045 326h2M1045 351h2M1045 370h2M1045 398h2M1045 494h2M1045 504h2M1046 325h2M1046 339h2M1046 369h2M1046 374h2M1046 379h2M1047 234h2M1047 236h2M1047 332h2M1047 340h2M1047 402h2M1047 495h2M1047 507h2M1047 513h2M1048 338h2M1048 361h2M1048 376h2M1048 409h2M1049 263h2M1049 287h2M1049 333h2M1049 351h2M1049 353h2M1049 355h2M1049 475h2M1050 254h2M1050 268h2M1050 291h2M1050 300h2M1050 343h2M1050 352h2M1050 375h2M1050 428h2M1050 449h2M1050 464h2M1050 490h2M1051 296h2M1051 305h2M1051 312h2M1051 321h2M1051 333h2M1051 358h2M1051 363h2M1051 422h2M1051 507h2M1052 255h2M1052 287h2M1052 324h2M1052 334h2M1052 337h2M1052 350h2M1052 357h2M1052 360h2M1052 389h2M1052 436h2M1052 502h2M1053 206h2M1053 337h2M1053 366h2M1053 384h2M1053 461h2M1054 315h2M1054 334h2M1054 355h2M1054 374h2M1054 391h2M1054 411h2M1054 449h2M1055 256h2M1055 319h2M1055 328h2M1055 372h2M1055 409h2M1055 513h2M1056 259h2M1056 292h2M1056 338h2M1056 367h2M1056 370h2M1056 409h2M1056 508h2M1057 240h2M1057 333h2M1057 494h2M1057 507h2M1058 269h2M1058 300h2M1058 308h2M1058 329h2M1058 347h2M1058 365h2M1058 375h2M1058 379h2M1058 387h2M1058 392h2M1058 500h2M1058 509h2M1059 276h2M1059 310h2M1059 312h2M1059 329h2M1059 340h2M1059 371h2M1059 434h2M1059 444h2M1059 451h2M1059 484h2M1059 487h2M1059 506h2M1060 257h2M1060 311h2M1060 332h2M1060 356h2M1060 367h2M1060 397h2M1060 416h2M1060 484h2M1060 494h2M1060 516h2M1061 211h2M1061 250h2M1061 254h2M1061 293h2M1061 331h2M1061 494h2M1062 269h2M1062 295h2M1062 301h2M1062 312h2M1062 319h2M1062 336h2M1062 370h2M1062 404h2M1062 416h2M1062 500h2M1062 511h2M1062 518h2M1063 219h2M1063 271h2M1063 314h2M1063 317h2M1063 353h2M1063 356h2M1063 373h2M1063 392h2M1063 405h2M1063 508h2M1064 291h2M1064 326h2M1064 339h2M1064 350h2M1064 358h2M1064 370h2M1064 387h2M1064 395h2M1064 402h2M1064 415h2M1064 496h2M1064 505h2M1065 298h2M1065 317h2M1065 344h2M1065 348h2M1065 373h2M1065 464h2M1066 219h2M1066 231h2M1066 295h2M1066 311h2M1066 329h2M1066 334h2M1066 345h2M1066 359h2M1066 479h2M1066 480h2M1066 500h2M1067 256h2M1067 257h2M1067 312h2M1067 335h2M1067 344h2M1067 358h2M1067 371h2M1067 381h2M1067 384h2M1067 385h2M1067 387h2M1067 392h2M1067 403h2M1067 424h2M1067 501h2M1067 507h2M1068 257h2M1068 301h2M1068 316h2M1068 338h2M1068 340h2M1068 355h2M1068 357h2M1068 373h2M1068 399h2M1068 518h2M1069 291h2M1069 296h2M1069 313h2M1069 318h2M1069 321h2M1069 350h2M1069 369h2M1069 404h2M1069 470h2M1069 491h2M1069 499h2M1070 260h2M1070 268h2M1070 309h2M1070 327h2M1070 348h2M1070 350h2M1070 376h2M1070 417h2M1070 486h2M1070 503h2M1071 273h2M1071 279h2M1071 305h2M1071 328h2M1071 374h2M1071 436h2M1071 475h2M1071 496h2M1072 309h2M1072 329h2M1072 332h2M1072 347h2M1072 363h2M1072 369h2M1072 374h2M1072 391h2M1072 394h2M1072 494h2M1073 297h2M1073 349h2M1073 356h2M1073 372h2M1073 386h2M1073 388h2M1073 393h2M1073 403h2M1074 284h2M1074 300h2M1074 304h2M1074 331h2M1074 345h2M1074 350h2M1074 352h2M1074 353h2M1074 358h2M1074 361h2M1074 384h2M1074 457h2M1075 289h2M1075 312h2M1075 331h2M1075 342h2M1075 349h2M1075 393h2M1075 487h2M1075 505h2M1076 245h2M1076 258h2M1076 301h2M1076 306h2M1076 332h2M1076 335h2M1076 340h2M1076 341h2M1076 364h2M1076 378h2M1076 383h2M1076 400h2M1076 417h2M1076 445h2M1076 449h2M1076 479h2M1076 491h2M1076 496h2M1076 506h2M1077 246h2M1077 260h2M1077 311h2M1077 335h2M1077 352h2M1077 371h2M1077 378h2M1077 419h2M1077 420h2M1077 477h2M1078 334h2M1078 335h2M1078 356h2M1078 363h2M1078 367h2M1078 378h2M1078 385h2M1078 393h2M1078 484h2M1078 493h2M1078 506h2M1078 512h2M1079 236h2M1079 256h2M1079 280h2M1079 284h2M1079 294h2M1079 305h2M1079 315h2M1079 320h2M1079 321h2M1079 338h2M1079 346h2M1079 374h2M1079 376h2M1079 385h2M1079 394h2M1080 295h2M1080 306h2M1080 315h2M1080 316h2M1080 331h2M1080 352h2M1080 355h2M1080 381h2M1080 494h2M1080 499h2M1080 503h2M1081 328h2M1081 339h2M1081 346h2M1081 350h2M1081 356h2M1081 382h2M1081 383h2M1081 401h2M1081 421h2M1082 271h2M1082 316h2M1082 320h2M1082 321h2M1082 327h2M1082 338h2M1082 342h2M1082 346h2M1082 415h2M1083 186h2M1083 277h2M1083 280h2M1083 288h2M1083 296h2M1083 303h2M1083 314h2M1083 325h2M1083 330h2M1083 333h2M1083 359h2M1083 360h2M1083 362h2M1083 365h2M1083 384h2M1083 406h2M1083 410h2M1083 495h2M1083 506h2M1084 241h2M1084 281h2M1084 317h2M1084 327h2M1084 328h2M1084 338h2M1084 341h2M1084 347h2M1084 348h2M1084 351h2M1084 352h2M1084 360h2M1084 363h2M1084 371h2M1084 384h2M1084 385h2M1084 442h2M1084 466h2M1084 496h2M1084 497h2M1085 205h2M1085 298h2M1085 305h2M1085 310h2M1085 322h2M1085 328h2M1085 333h2M1085 342h2M1085 353h2M1085 360h2M1085 365h2M1085 398h2M1085 407h2M1085 504h2M1085 513h2M1086 216h2M1086 224h2M1086 274h2M1086 294h2M1086 295h2M1086 305h2M1086 309h2M1086 311h2M1086 325h2M1086 329h2M1086 333h2M1086 339h2M1086 377h2M1086 391h2M1086 516h2M1087 221h2M1087 264h2M1087 283h2M1087 304h2M1087 305h2M1087 324h2M1087 326h2M1087 329h2M1087 333h2M1087 341h2M1087 342h2M1087 355h2M1087 363h2M1087 413h2M1087 499h2M1087 511h2M1088 268h2M1088 271h2M1088 308h2M1088 312h2M1088 347h2M1088 354h2M1088 358h2M1088 363h2M1088 378h2M1088 405h2M1088 433h2M1089 224h2M1089 262h2M1089 308h2M1089 318h2M1089 328h2M1089 330h2M1089 335h2M1089 351h2M1089 352h2M1089 357h2M1089 370h2M1089 381h2M1089 389h2M1089 497h2M1089 518h2M1090 264h2M1090 326h2M1090 329h2M1090 331h2M1090 332h2M1090 335h2M1090 336h2M1090 378h2M1090 409h2M1090 418h2M1090 426h2M1090 491h2M1090 501h2M1091 290h2M1091 292h2M1091 297h2M1091 312h2M1091 313h2M1091 316h2M1091 340h2M1091 344h2M1091 350h2M1091 356h2M1091 359h2M1091 362h2M1091 366h2M1091 370h2M1091 376h2M1091 381h2M1091 389h2M1091 399h2M1091 417h2M1091 471h2M1091 492h2M1092 273h2M1092 295h2M1092 302h2M1092 314h2M1092 355h2M1092 357h2M1092 394h2M1092 403h2M1092 429h2M1092 469h2M1092 486h2M1092 510h2M1093 276h2M1093 299h2M1093 307h2M1093 322h2M1093 323h2M1093 325h2M1093 336h2M1093 339h2M1093 341h2M1093 345h2M1093 348h2M1093 352h2M1093 362h2M1093 368h2M1093 372h2M1093 383h2M1093 384h2M1093 385h2M1093 461h2M1093 499h2M1093 502h2M1093 518h2M1094 291h2M1094 293h2M1094 301h2M1094 312h2M1094 313h2M1094 315h2M1094 318h2M1094 335h2M1094 340h2M1094 361h2M1094 366h2M1094 368h2M1094 388h2M1094 408h2M1094 413h2M1094 422h2M1094 461h2M1094 474h2M1094 475h2M1094 493h2M1094 495h2M1094 506h2M1095 263h2M1095 301h2M1095 319h2M1095 320h2M1095 323h2M1095 326h2M1095 328h2M1095 330h2M1095 339h2M1095 342h2M1095 358h2M1095 362h2M1095 366h2M1095 370h2M1095 380h2M1095 384h2M1095 393h2M1095 395h2M1095 402h2M1095 441h2M1096 277h2M1096 284h2M1096 317h2M1096 327h2M1096 334h2M1096 336h2M1096 340h2M1096 342h2M1096 348h2M1096 354h2M1096 355h2M1096 357h2M1096 366h2M1096 378h2M1096 380h2M1096 381h2M1096 384h2M1096 385h2M1096 387h2M1096 391h2M1096 457h2M1096 499h2M1097 292h2M1097 319h2M1097 338h2M1097 341h2M1097 343h2M1097 357h2M1097 365h2M1097 366h2M1097 386h2M1097 423h2M1097 461h2M1098 229h2M1098 264h2M1098 266h2M1098 284h2M1098 289h2M1098 307h2M1098 319h2M1098 323h2M1098 324h2M1098 329h2M1098 343h2M1098 349h2M1098 362h2M1098 371h2M1098 372h2M1098 379h2M1098 383h2M1098 389h2M1098 391h2M1098 446h2M1098 500h2M1098 502h2M1099 291h2M1099 307h2M1099 312h2M1099 313h2M1099 320h2M1099 321h2M1099 330h2M1099 335h2M1099 367h2M1099 371h2M1099 373h2M1099 390h2M1099 394h2M1099 411h2M1099 413h2M1099 436h2M1099 477h2M1099 502h2M1100 247h2M1100 267h2M1100 340h2M1100 341h2M1100 346h2M1100 363h2M1100 365h2M1100 376h2M1100 379h2M1100 383h2M1100 385h2M1100 400h2M1100 401h2M1100 403h2M1100 405h2M1100 499h2M1100 503h2M1100 509h2M1101 232h2M1101 254h2M1101 292h2M1101 304h2M1101 316h2M1101 341h2M1101 345h2M1101 349h2M1101 373h2M1101 390h2M1101 402h2M1101 404h2M1101 486h2M1102 307h2M1102 317h2M1102 320h2M1102 344h2M1102 347h2M1102 352h2M1102 356h2M1102 358h2M1102 370h2M1102 393h2M1102 408h2M1102 470h2M1103 262h2M1103 272h2M1103 279h2M1103 287h2M1103 294h2M1103 312h2M1103 316h2M1103 317h2M1103 325h2M1103 328h2M1103 336h2M1103 337h2M1103 339h2M1103 340h2M1103 341h2M1103 346h2M1103 358h2M1103 361h2M1103 371h2M1103 372h2M1103 373h2M1103 382h2M1103 393h2M1103 394h2M1103 414h2M1103 415h2M1103 432h2M1103 499h2M1103 503h2M1104 265h2M1104 287h2M1104 297h2M1104 298h2M1104 309h2M1104 310h2M1104 319h2M1104 324h2M1104 325h2M1104 331h2M1104 334h2M1104 339h2M1104 342h2M1104 343h2M1104 354h2M1104 373h2M1104 390h2M1104 397h2M1104 400h2M1104 412h2M1104 461h2M1105 270h2M1105 280h2M1105 287h2M1105 296h2M1105 298h2M1105 311h2M1105 320h2M1105 331h2M1105 339h2M1105 343h2M1105 345h2M1105 350h2M1105 358h2M1105 362h2M1105 364h2M1105 368h2M1105 370h2M1105 385h2M1105 393h2M1105 399h2M1105 404h2M1105 415h2M1105 429h2M1106 284h2M1106 287h2M1106 303h2M1106 305h2M1106 319h2M1106 322h2M1106 327h2M1106 330h2M1106 333h2M1106 335h2M1106 339h2M1106 343h2M1106 346h2M1106 349h2M1106 356h2M1106 362h2M1106 379h2M1106 382h2M1106 400h2M1106 459h2M1106 492h2M1106 511h2M1107 208h2M1107 280h2M1107 294h2M1107 317h2M1107 318h2M1107 322h2M1107 339h2M1107 345h2M1107 357h2M1107 366h2M1107 373h2M1107 399h2M1107 407h2M1107 413h2M1107 474h2M1108 249h2M1108 310h2M1108 321h2M1108 330h2M1108 337h2M1108 338h2M1108 341h2M1108 344h2M1108 345h2M1108 351h2M1108 356h2M1108 364h2M1108 367h2M1108 374h2M1108 386h2M1108 387h2M1108 388h2M1108 408h2M1108 475h2M1108 500h2M1108 508h2M1109 260h2M1109 284h2M1109 294h2M1109 298h2M1109 303h2M1109 327h2M1109 332h2M1109 337h2M1109 340h2M1109 343h2M1109 347h2M1109 352h2M1109 353h2M1109 356h2M1109 364h2M1109 368h2M1109 388h2M1109 397h2M1109 398h2M1109 458h2M1110 299h2M1110 326h2M1110 338h2M1110 341h2M1110 342h2M1110 344h2M1110 351h2M1110 354h2M1110 355h2M1110 356h2M1110 358h2M1110 359h2M1110 372h2M1110 377h2M1110 380h2M1110 382h2M1110 394h2M1110 397h2M1110 411h2M1110 503h2M1110 517h2M1111 285h2M1111 291h2M1111 314h2M1111 322h2M1111 332h2M1111 335h2M1111 338h2M1111 340h2M1111 343h2M1111 345h2M1111 349h2M1111 358h2M1111 360h2M1111 369h2M1111 371h2M1111 374h2M1111 380h2M1111 387h2M1111 403h2M1111 404h2M1111 406h2M1111 452h2M1111 494h2M1112 282h2M1112 293h2M1112 297h2M1112 307h2M1112 308h2M1112 310h2M1112 335h2M1112 337h2M1112 342h2M1112 344h2M1112 348h2M1112 355h2M1112 356h2M1112 359h2M1112 369h2M1112 370h2M1112 373h2M1112 378h2M1112 385h2M1112 400h2M1112 428h2M1113 269h2M1113 287h2M1113 288h2M1113 317h2M1113 326h2M1113 337h2M1113 339h2M1113 342h2M1113 352h2M1113 360h2M1113 363h2M1113 370h2M1113 375h2M1113 376h2M1113 380h2M1113 382h2M1113 385h2M1113 395h2M1113 397h2M1113 404h2M1113 467h2M1113 471h2M1113 482h2M1114 279h2M1114 283h2M1114 301h2M1114 324h2M1114 328h2M1114 339h2M1114 358h2M1114 360h2M1114 361h2M1114 363h2M1114 372h2M1114 399h2M1114 415h2M1114 422h2M1114 444h2M1114 448h2M1114 458h2M1114 487h2M1114 503h2M1114 517h2M1115 290h2M1115 291h2M1115 304h2M1115 311h2M1115 314h2M1115 328h2M1115 333h2M1115 339h2M1115 348h2M1115 352h2M1115 354h2M1115 357h2M1115 361h2M1115 366h2M1115 370h2M1115 372h2M1115 375h2M1115 376h2M1115 382h2M1115 407h2M1115 459h2M1115 474h2M1115 501h2M1115 505h2M1116 296h2M1116 310h2M1116 312h2M1116 315h2M1116 319h2M1116 321h2M1116 322h2M1116 329h2M1116 330h2M1116 333h2M1116 340h2M1116 346h2M1116 347h2M1116 350h2M1116 352h2M1116 369h2M1116 374h2M1116 383h2M1116 385h2M1116 390h2M1116 401h2M1116 411h2M1116 428h2M1116 463h2M1116 512h2M1117 289h2M1117 311h2M1117 314h2M1117 318h2M1117 319h2M1117 322h2M1117 327h2M1117 332h2M1117 336h2M1117 346h2M1117 352h2M1117 369h2M1117 370h2M1117 378h2M1117 381h2M1117 400h2M1117 418h2M1117 419h2M1117 435h2M1117 444h2M1117 452h2M1117 507h2M1118 301h2M1118 307h2M1118 332h2M1118 333h2M1118 338h2M1118 340h2M1118 344h2M1118 350h2M1118 357h2M1118 361h2M1118 387h2M1118 402h2M1118 416h2M1118 444h2M1118 460h2M1119 256h2M1119 289h2M1119 292h2M1119 298h2M1119 316h2M1119 333h2M1119 339h2M1119 342h2M1119 344h2M1119 346h2M1119 347h2M1119 353h2M1119 359h2M1119 360h2M1119 362h2M1119 375h2M1119 381h2M1119 382h2M1119 391h2M1119 392h2M1119 403h2M1119 407h2M1119 414h2M1119 418h2M1119 426h2M1120 298h2M1120 310h2M1120 324h2M1120 330h2M1120 336h2M1120 346h2M1120 354h2M1120 361h2M1120 365h2M1120 370h2M1120 371h2M1120 386h2M1120 391h2M1120 400h2M1120 401h2M1120 458h2M1120 462h2M1120 489h2M1120 498h2M1121 285h2M1121 294h2M1121 299h2M1121 302h2M1121 303h2M1121 308h2M1121 314h2M1121 335h2M1121 337h2M1121 340h2M1121 350h2M1121 352h2M1121 354h2M1121 357h2M1121 360h2M1121 367h2M1121 387h2M1121 402h2M1122 292h2M1122 296h2M1122 305h2M1122 308h2M1122 323h2M1122 330h2M1122 331h2M1122 333h2M1122 348h2M1122 349h2M1122 351h2M1122 352h2M1122 356h2M1122 361h2M1122 372h2M1122 377h2M1122 383h2M1122 386h2M1122 390h2M1122 471h2M1122 486h2M1123 252h2M1123 297h2M1123 300h2M1123 302h2M1123 321h2M1123 323h2M1123 324h2M1123 336h2M1123 337h2M1123 341h2M1123 350h2M1123 356h2M1123 359h2M1123 365h2M1123 367h2M1123 368h2M1123 378h2M1123 388h2M1123 390h2M1123 393h2M1123 394h2M1123 406h2M1123 424h2M1123 502h2M1123 512h2M1124 281h2M1124 293h2M1124 297h2M1124 309h2M1124 318h2M1124 320h2M1124 325h2M1124 326h2M1124 345h2M1124 348h2M1124 357h2M1124 358h2M1124 362h2M1124 412h2M1124 490h2M1124 492h2M1125 259h2M1125 263h2M1125 274h2M1125 281h2M1125 285h2M1125 292h2M1125 294h2M1125 298h2M1125 300h2M1125 307h2M1125 309h2M1125 313h2M1125 321h2M1125 325h2M1125 327h2M1125 329h2M1125 333h2M1125 341h2M1125 342h2M1125 356h2M1125 357h2M1125 358h2M1125 366h2M1125 368h2M1125 369h2M1125 370h2M1125 377h2M1125 381h2M1125 382h2M1125 388h2M1125 397h2M1125 430h2M1125 453h2M1126 238h2M1126 253h2M1126 293h2M1126 305h2M1126 307h2M1126 315h2M1126 333h2M1126 335h2M1126 342h2M1126 347h2M1126 352h2M1126 356h2M1126 359h2M1126 364h2M1126 370h2M1126 408h2M1126 410h2M1126 414h2M1127 257h2M1127 291h2M1127 301h2M1127 308h2M1127 311h2M1127 320h2M1127 330h2M1127 338h2M1127 341h2M1127 344h2M1127 346h2M1127 356h2M1127 357h2M1127 369h2M1127 377h2M1127 378h2M1127 379h2M1127 408h2M1127 455h2M1127 457h2M1128 226h2M1128 260h2M1128 286h2M1128 320h2M1128 322h2M1128 327h2M1128 331h2M1128 343h2M1128 352h2M1128 358h2M1128 367h2M1128 383h2M1128 385h2M1128 397h2M1128 446h2M1128 506h2M1129 273h2M1129 285h2M1129 290h2M1129 302h2M1129 315h2M1129 324h2M1129 336h2M1129 337h2M1129 341h2M1129 347h2M1129 350h2M1129 351h2M1129 361h2M1129 363h2M1129 364h2M1129 369h2M1129 381h2M1129 388h2M1129 402h2M1129 473h2M1130 229h2M1130 275h2M1130 302h2M1130 306h2M1130 321h2M1130 322h2M1130 339h2M1130 342h2M1130 343h2M1130 353h2M1130 354h2M1130 357h2M1130 368h2M1130 371h2M1130 377h2M1130 380h2M1130 384h2M1130 390h2M1130 391h2M1130 399h2M1130 409h2M1130 413h2M1130 446h2M1130 453h2M1130 485h2M1130 514h2M1131 255h2M1131 256h2M1131 292h2M1131 302h2M1131 319h2M1131 321h2M1131 323h2M1131 326h2M1131 335h2M1131 352h2M1131 365h2M1131 367h2M1131 374h2M1131 375h2M1131 376h2M1131 378h2M1131 384h2M1131 386h2M1131 390h2M1131 397h2M1131 407h2M1131 415h2M1131 438h2M1131 448h2M1131 470h2M1131 496h2M1131 503h2M1132 273h2M1132 278h2M1132 284h2M1132 286h2M1132 299h2M1132 317h2M1132 324h2M1132 331h2M1132 332h2M1132 333h2M1132 337h2M1132 338h2M1132 343h2M1132 350h2M1132 353h2M1132 357h2M1132 360h2M1132 366h2M1132 369h2M1132 387h2M1132 388h2M1132 390h2M1132 407h2M1132 409h2M1132 412h2M1132 422h2M1132 481h2M1132 510h2M1133 261h2M1133 306h2M1133 330h2M1133 340h2M1133 347h2M1133 370h2M1133 404h2M1133 410h2M1133 481h2M1134 255h2M1134 291h2M1134 316h2M1134 339h2M1134 343h2M1134 345h2M1134 379h2M1134 384h2M1134 385h2M1134 388h2M1134 398h2M1134 399h2M1134 405h2M1134 435h2M1134 496h2M1134 498h2M1135 234h2M1135 267h2M1135 277h2M1135 291h2M1135 296h2M1135 316h2M1135 324h2M1135 326h2M1135 333h2M1135 342h2M1135 358h2M1135 364h2M1135 366h2M1135 374h2M1135 375h2M1135 378h2M1135 472h2M1135 508h2M1136 278h2M1136 303h2M1136 312h2M1136 320h2M1136 321h2M1136 324h2M1136 338h2M1136 362h2M1136 367h2M1136 370h2M1136 375h2M1136 405h2M1136 480h2M1137 288h2M1137 313h2M1137 314h2M1137 320h2M1137 321h2M1137 327h2M1137 330h2M1137 342h2M1137 343h2M1137 347h2M1137 356h2M1137 359h2M1137 374h2M1137 377h2M1137 380h2M1137 385h2M1137 393h2M1137 421h2M1137 480h2M1138 234h2M1138 265h2M1138 279h2M1138 325h2M1138 334h2M1138 345h2M1138 346h2M1138 348h2M1138 349h2M1138 362h2M1138 384h2M1138 402h2M1138 404h2M1138 437h2M1138 443h2M1138 479h2M1138 482h2M1139 274h2M1139 276h2M1139 280h2M1139 292h2M1139 319h2M1139 331h2M1139 341h2M1139 345h2M1139 346h2M1139 348h2M1139 356h2M1139 362h2M1139 367h2M1139 376h2M1139 379h2M1139 382h2M1139 386h2M1139 390h2M1140 198h2M1140 255h2M1140 264h2M1140 278h2M1140 312h2M1140 314h2M1140 318h2M1140 329h2M1140 335h2M1140 349h2M1140 354h2M1140 367h2M1140 377h2M1140 378h2M1140 379h2M1140 385h2M1140 397h2M1140 430h2M1141 232h2M1141 303h2M1141 331h2M1141 344h2M1141 347h2M1141 357h2M1141 361h2M1141 368h2M1141 387h2M1141 388h2M1141 401h2M1141 402h2M1141 404h2M1141 406h2M1141 415h2M1141 420h2M1141 472h2M1141 475h2M1141 499h2M1141 500h2M1142 226h2M1142 235h2M1142 245h2M1142 267h2M1142 315h2M1142 325h2M1142 327h2M1142 329h2M1142 333h2M1142 345h2M1142 348h2M1142 350h2M1142 379h2M1142 385h2M1142 390h2M1142 413h2M1142 417h2M1142 493h2M1142 500h2M1142 502h2M1143 269h2M1143 321h2M1143 323h2M1143 339h2M1143 349h2M1143 350h2M1143 351h2M1143 356h2M1143 358h2M1143 360h2M1143 364h2M1143 371h2M1143 372h2M1143 378h2M1143 382h2M1143 383h2M1143 417h2M1143 512h2M1144 298h2M1144 303h2M1144 315h2M1144 320h2M1144 322h2M1144 324h2M1144 334h2M1144 352h2M1144 365h2M1144 371h2M1144 399h2M1144 471h2M1144 479h2M1145 273h2M1145 285h2M1145 290h2M1145 291h2M1145 295h2M1145 308h2M1145 313h2M1145 319h2M1145 323h2M1145 342h2M1145 346h2M1145 347h2M1145 352h2M1145 356h2M1145 358h2M1145 384h2M1145 385h2M1145 389h2M1145 390h2M1145 394h2M1145 404h2M1145 408h2M1145 493h2M1146 299h2M1146 313h2M1146 317h2M1146 325h2M1146 326h2M1146 334h2M1146 344h2M1146 346h2M1146 347h2M1146 353h2M1146 356h2M1146 358h2M1146 361h2M1146 370h2M1146 374h2M1146 381h2M1146 382h2M1146 383h2M1146 392h2M1146 416h2M1146 492h2M1146 510h2M1147 248h2M1147 269h2M1147 287h2M1147 303h2M1147 307h2M1147 313h2M1147 319h2M1147 323h2M1147 326h2M1147 343h2M1147 348h2M1147 355h2M1147 372h2M1147 385h2M1147 399h2M1147 410h2M1147 419h2M1148 297h2M1148 328h2M1148 335h2M1148 339h2M1148 342h2M1148 350h2M1148 351h2M1148 360h2M1148 368h2M1148 369h2M1148 370h2M1148 381h2M1148 389h2M1148 391h2M1148 392h2M1148 397h2M1148 409h2M1148 412h2M1148 420h2M1149 294h2M1149 323h2M1149 328h2M1149 339h2M1149 342h2M1149 347h2M1149 349h2M1149 351h2M1149 354h2M1149 355h2M1149 358h2M1149 363h2M1149 364h2M1149 382h2M1149 384h2M1149 400h2M1149 401h2M1149 405h2M1149 417h2M1149 427h2M1149 433h2M1150 260h2M1150 271h2M1150 283h2M1150 302h2M1150 340h2M1150 367h2M1150 390h2M1150 420h2M1150 467h2M1150 485h2M1151 245h2M1151 309h2M1151 313h2M1151 319h2M1151 335h2M1151 352h2M1151 356h2M1151 359h2M1151 371h2M1151 396h2M1151 415h2M1151 482h2M1152 199h2M1152 278h2M1152 310h2M1152 315h2M1152 323h2M1152 337h2M1152 342h2M1152 351h2M1152 359h2M1152 367h2M1152 368h2M1152 369h2M1152 379h2M1152 394h2M1152 415h2M1152 461h2M1152 462h2M1152 464h2M1153 313h2M1153 315h2M1153 324h2M1153 327h2M1153 328h2M1153 346h2M1153 349h2M1153 353h2M1153 363h2M1153 367h2M1153 384h2M1153 393h2M1153 399h2M1153 481h2M1153 482h2M1154 295h2M1154 296h2M1154 304h2M1154 309h2M1154 314h2M1154 315h2M1154 330h2M1154 350h2M1154 366h2M1154 372h2M1154 381h2M1154 403h2M1154 456h2M1155 285h2M1155 288h2M1155 292h2M1155 304h2M1155 315h2M1155 331h2M1155 332h2M1155 334h2M1155 361h2M1155 367h2M1155 370h2M1155 371h2M1155 389h2M1155 391h2M1155 506h2M1156 312h2M1156 343h2M1156 344h2M1156 346h2M1156 350h2M1156 353h2M1156 366h2M1156 379h2M1156 384h2M1156 393h2M1156 399h2M1156 402h2M1156 422h2M1156 429h2M1156 458h2M1156 500h2M1157 251h2M1157 276h2M1157 306h2M1157 317h2M1157 332h2M1157 337h2M1157 339h2M1157 341h2M1157 358h2M1157 404h2M1157 461h2M1157 493h2M1157 510h2M1158 246h2M1158 272h2M1158 303h2M1158 310h2M1158 326h2M1158 332h2M1158 334h2M1158 337h2M1158 352h2M1158 354h2M1158 394h2M1158 411h2M1158 412h2M1158 424h2M1158 454h2M1158 459h2M1158 505h2M1158 510h2M1159 291h2M1159 302h2M1159 317h2M1159 333h2M1159 338h2M1159 351h2M1159 357h2M1159 372h2M1159 381h2M1159 392h2M1159 397h2M1159 439h2M1159 464h2M1160 298h2M1160 314h2M1160 335h2M1160 338h2M1160 341h2M1160 343h2M1160 353h2M1160 370h2M1160 373h2M1160 374h2M1160 379h2M1160 382h2M1160 389h2M1160 406h2M1160 415h2M1160 471h2M1160 504h2M1161 293h2M1161 296h2M1161 309h2M1161 326h2M1161 331h2M1161 342h2M1161 350h2M1161 355h2M1161 426h2M1161 427h2M1161 467h2M1162 218h2M1162 255h2M1162 300h2M1162 315h2M1162 324h2M1162 337h2M1162 343h2M1162 348h2M1162 349h2M1162 363h2M1162 378h2M1162 384h2M1162 386h2M1162 400h2M1162 440h2M1162 478h2M1162 483h2M1163 247h2M1163 258h2M1163 286h2M1163 287h2M1163 295h2M1163 299h2M1163 308h2M1163 329h2M1163 330h2M1163 334h2M1163 345h2M1163 352h2M1163 370h2M1163 419h2M1163 475h2M1163 484h2M1163 501h2M1163 505h2M1163 508h2M1164 288h2M1164 322h2M1164 332h2M1164 343h2M1164 350h2M1164 358h2M1164 373h2M1164 375h2M1164 376h2M1164 396h2M1164 401h2M1164 431h2M1164 439h2M1164 478h2M1164 490h2M1164 502h2M1165 267h2M1165 281h2M1165 286h2M1165 297h2M1165 314h2M1165 326h2M1165 337h2M1165 378h2M1165 390h2M1165 416h2M1165 426h2M1166 221h2M1166 235h2M1166 291h2M1166 301h2M1166 305h2M1166 311h2M1166 337h2M1166 355h2M1166 357h2M1166 358h2M1166 374h2M1166 384h2M1166 391h2M1166 393h2M1166 404h2M1166 424h2M1166 429h2M1166 460h2M1166 504h2M1167 266h2M1167 283h2M1167 298h2M1167 317h2M1167 320h2M1167 321h2M1167 328h2M1167 334h2M1167 335h2M1167 344h2M1167 348h2M1167 350h2M1167 351h2M1167 369h2M1167 370h2M1167 388h2M1167 399h2M1167 408h2M1167 416h2M1167 419h2M1167 458h2M1167 459h2M1167 480h2M1167 482h2M1168 281h2M1168 323h2M1168 330h2M1168 350h2M1168 393h2M1168 399h2M1168 406h2M1168 415h2M1168 453h2M1168 463h2M1168 508h2M1168 513h2M1169 216h2M1169 259h2M1169 284h2M1169 307h2M1169 309h2M1169 338h2M1169 346h2M1169 348h2M1169 359h2M1169 365h2M1169 369h2M1169 379h2M1169 428h2M1169 471h2M1170 284h2M1170 289h2M1170 301h2M1170 321h2M1170 334h2M1170 350h2M1170 370h2M1170 372h2M1170 390h2M1170 404h2M1170 411h2M1170 422h2M1170 480h2M1170 487h2M1170 489h2M1171 277h2M1171 327h2M1171 328h2M1171 329h2M1171 332h2M1171 337h2M1171 343h2M1171 353h2M1171 365h2M1171 371h2M1171 376h2M1171 389h2M1171 417h2M1171 456h2M1171 464h2M1171 476h2M1172 241h2M1172 309h2M1172 314h2M1172 341h2M1172 358h2M1172 381h2M1172 382h2M1172 388h2M1172 390h2M1172 419h2M1172 421h2M1172 441h2M1172 461h2M1173 273h2M1173 303h2M1173 317h2M1173 323h2M1173 369h2M1173 371h2M1173 373h2M1173 382h2M1173 383h2M1173 401h2M1173 402h2M1173 412h2M1173 427h2M1173 463h2M1173 486h2M1174 302h2M1174 305h2M1174 320h2M1174 325h2M1174 351h2M1174 377h2M1174 382h2M1174 389h2M1174 415h2M1174 420h2M1174 506h2M1175 325h2M1175 340h2M1175 352h2M1175 356h2M1175 363h2M1175 384h2M1175 396h2M1175 405h2M1175 495h2M1175 496h2M1176 240h2M1176 242h2M1176 252h2M1176 315h2M1176 344h2M1176 357h2M1176 373h2M1176 374h2M1176 376h2M1176 391h2M1176 393h2M1176 427h2M1176 439h2M1176 455h2M1176 482h2M1176 483h2M1176 494h2M1176 502h2M1176 509h2M1177 293h2M1177 300h2M1177 306h2M1177 309h2M1177 351h2M1177 360h2M1177 372h2M1177 393h2M1177 395h2M1177 420h2M1177 465h2M1177 471h2M1177 472h2M1177 475h2M1177 486h2M1178 269h2M1178 302h2M1178 307h2M1178 310h2M1178 319h2M1178 333h2M1178 340h2M1178 368h2M1178 378h2M1178 381h2M1178 402h2M1178 486h2M1178 487h2M1179 302h2M1179 332h2M1179 336h2M1179 338h2M1179 347h2M1179 352h2M1179 357h2M1179 363h2M1179 391h2M1179 429h2M1180 259h2M1180 272h2M1180 303h2M1180 313h2M1180 346h2M1180 374h2M1180 381h2M1180 384h2M1180 413h2M1180 472h2M1180 486h2M1180 497h2M1180 506h2M1181 240h2M1181 296h2M1181 321h2M1181 322h2M1181 348h2M1181 355h2M1181 356h2M1181 363h2M1181 367h2M1181 388h2M1181 410h2M1181 412h2M1181 500h2M1181 508h2M1182 307h2M1182 335h2M1182 340h2M1182 353h2M1182 354h2M1182 371h2M1182 373h2M1182 390h2M1182 400h2M1182 416h2M1182 441h2M1182 501h2M1183 225h2M1183 256h2M1183 311h2M1183 321h2M1183 334h2M1183 346h2M1183 347h2M1183 399h2M1183 403h2M1183 453h2M1183 462h2M1183 474h2M1183 510h2M1184 303h2M1184 333h2M1184 353h2M1184 378h2M1184 391h2M1184 394h2M1184 428h2M1184 469h2M1185 296h2M1185 308h2M1185 309h2M1185 312h2M1185 328h2M1185 340h2M1185 350h2M1185 360h2M1185 372h2M1185 373h2M1185 375h2M1185 384h2M1185 385h2M1185 440h2M1185 458h2M1185 510h2M1186 278h2M1186 338h2M1186 339h2M1186 342h2M1186 343h2M1186 346h2M1186 352h2M1186 354h2M1186 368h2M1186 369h2M1186 387h2M1186 392h2M1186 429h2M1186 448h2M1186 469h2M1186 471h2M1186 478h2M1186 490h2M1187 325h2M1187 326h2M1187 327h2M1187 337h2M1187 341h2M1187 364h2M1187 384h2M1187 389h2M1187 458h2M1187 467h2M1187 473h2M1187 480h2M1188 325h2M1188 345h2M1188 348h2M1188 358h2M1188 366h2M1188 378h2M1188 379h2M1188 394h2M1188 409h2M1188 414h2M1188 415h2M1188 457h2M1188 474h2M1188 482h2M1188 485h2M1189 251h2M1189 283h2M1189 324h2M1189 327h2M1189 345h2M1189 351h2M1189 359h2M1189 513h2M1190 213h2M1190 222h2M1190 296h2M1190 306h2M1190 311h2M1190 330h2M1190 336h2M1190 347h2M1190 348h2M1190 357h2M1190 367h2M1190 371h2M1190 372h2M1190 382h2M1190 405h2M1190 407h2M1190 413h2M1190 428h2M1190 467h2M1190 495h2M1191 341h2M1191 353h2M1191 364h2M1191 385h2M1191 388h2M1191 411h2M1191 471h2M1191 496h2M1192 271h2M1192 321h2M1192 330h2M1192 348h2M1192 349h2M1192 356h2M1192 370h2M1192 383h2M1192 390h2M1192 396h2M1192 413h2M1192 483h2M1192 488h2M1192 503h2M1192 509h2M1193 335h2M1193 350h2M1193 371h2M1193 372h2M1193 387h2M1193 391h2M1193 393h2M1193 400h2M1193 416h2M1193 419h2M1193 439h2M1193 456h2M1193 479h2M1193 481h2M1193 518h2M1194 290h2M1194 345h2M1194 351h2M1194 353h2M1194 358h2M1194 373h2M1194 393h2M1194 407h2M1194 426h2M1194 437h2M1194 476h2M1194 491h2M1194 492h2M1194 497h2M1195 308h2M1195 310h2M1195 359h2M1195 363h2M1195 378h2M1195 395h2M1195 397h2M1195 398h2M1195 418h2M1195 421h2M1195 449h2M1195 483h2M1196 327h2M1196 351h2M1196 357h2M1196 359h2M1196 368h2M1196 375h2M1196 392h2M1196 401h2M1196 404h2M1196 408h2M1196 411h2M1196 476h2M1197 263h2M1197 285h2M1197 316h2M1197 320h2M1197 344h2M1197 405h2M1197 412h2M1197 489h2M1198 299h2M1198 320h2M1198 340h2M1198 356h2M1198 359h2M1198 379h2M1198 452h2M1198 453h2M1199 282h2M1199 308h2M1199 320h2M1199 342h2M1199 352h2M1199 372h2M1199 398h2M1199 434h2M1199 478h2M1200 305h2M1200 311h2M1200 323h2M1200 325h2M1200 332h2M1200 361h2M1200 373h2M1200 375h2M1200 415h2M1200 419h2M1200 475h2M1200 484h2M1200 485h2M1200 493h2M1200 507h2M1201 296h2M1201 325h2M1201 338h2M1201 345h2M1201 353h2M1201 386h2M1201 392h2M1201 421h2M1201 505h2M1202 220h2M1202 288h2M1202 337h2M1202 342h2M1202 354h2M1202 365h2M1202 366h2M1202 372h2M1202 376h2M1202 392h2M1202 503h2M1203 319h2M1203 347h2M1203 362h2M1203 367h2M1203 368h2M1203 398h2M1203 400h2M1203 403h2M1203 422h2M1203 442h2M1203 470h2M1203 472h2M1203 474h2M1204 224h2M1204 286h2M1204 313h2M1204 345h2M1204 348h2M1204 364h2M1204 380h2M1204 401h2M1204 405h2M1204 412h2M1204 416h2M1204 428h2M1205 257h2M1205 275h2M1205 278h2M1205 320h2M1205 323h2M1205 325h2M1205 346h2M1205 369h2M1205 380h2M1205 392h2M1205 474h2M1205 492h2M1205 503h2M1206 218h2M1206 284h2M1206 299h2M1206 304h2M1206 318h2M1206 334h2M1206 343h2M1206 344h2M1206 361h2M1206 362h2M1206 364h2M1206 365h2M1206 389h2M1206 398h2M1206 404h2M1206 405h2M1206 406h2M1207 298h2M1207 320h2M1207 338h2M1207 371h2M1207 376h2M1207 405h2M1207 424h2M1207 466h2M1208 294h2M1208 301h2M1208 309h2M1208 310h2M1208 315h2M1208 328h2M1208 335h2M1208 341h2M1208 346h2M1208 357h2M1208 370h2M1208 372h2M1208 405h2M1208 414h2M1208 427h2M1208 473h2M1208 505h2M1209 263h2M1209 271h2M1209 307h2M1209 359h2M1209 362h2M1209 368h2M1209 371h2M1209 374h2M1209 376h2M1209 397h2M1209 437h2M1209 443h2M1209 499h2M1210 249h2M1210 264h2M1210 287h2M1210 301h2M1210 304h2M1210 315h2M1210 319h2M1210 332h2M1210 341h2M1210 345h2M1210 352h2M1210 365h2M1210 367h2M1210 377h2M1210 383h2M1210 426h2M1210 428h2M1210 499h2M1211 239h2M1211 338h2M1211 352h2M1211 362h2M1211 363h2M1211 421h2M1211 468h2M1211 510h2M1212 213h2M1212 252h2M1212 278h2M1212 340h2M1212 367h2M1212 379h2M1212 381h2M1212 413h2M1212 455h2M1212 490h2M1212 513h2M1213 250h2M1213 305h2M1213 314h2M1213 321h2M1213 349h2M1213 366h2M1213 370h2M1213 377h2M1213 410h2M1213 424h2M1213 450h2M1213 463h2M1213 473h2M1213 515h2M1214 278h2M1214 282h2M1214 290h2M1214 393h2M1214 407h2M1214 446h2M1214 498h2M1214 509h2M1215 272h2M1215 281h2M1215 316h2M1215 325h2M1215 338h2M1215 348h2M1215 352h2M1215 359h2M1215 363h2M1215 374h2M1215 385h2M1215 386h2M1215 415h2M1215 419h2M1215 427h2M1215 438h2M1215 454h2M1215 471h2M1215 484h2M1215 492h2M1216 253h2M1216 328h2M1216 342h2M1216 350h2M1216 356h2M1216 359h2M1216 370h2M1216 413h2M1216 464h2M1217 259h2M1217 265h2M1217 328h2M1217 343h2M1217 363h2M1217 368h2M1217 371h2M1217 379h2M1217 390h2M1217 400h2M1217 414h2M1217 415h2M1217 502h2M1217 511h2M1218 293h2M1218 302h2M1218 322h2M1218 342h2M1218 366h2M1218 395h2M1218 406h2M1218 442h2M1218 484h2M1219 297h2M1219 339h2M1219 364h2M1219 365h2M1219 368h2M1219 389h2M1219 391h2M1219 407h2M1219 420h2M1219 482h2M1220 266h2M1220 279h2M1220 282h2M1220 309h2M1220 322h2M1220 336h2M1220 344h2M1220 357h2M1220 373h2M1220 379h2M1220 416h2M1220 422h2M1220 462h2M1220 481h2M1220 484h2M1220 489h2M1220 490h2M1221 312h2M1221 324h2M1221 336h2M1221 351h2M1221 366h2M1221 376h2M1221 390h2M1221 391h2M1221 400h2M1221 406h2M1221 502h2M1221 518h2M1222 321h2M1222 329h2M1222 341h2M1222 342h2M1222 347h2M1222 353h2M1222 363h2M1222 389h2M1222 392h2M1222 433h2M1223 326h2M1223 339h2M1223 345h2M1223 351h2M1223 353h2M1223 365h2M1223 366h2M1223 369h2M1223 373h2M1223 374h2M1223 383h2M1223 400h2M1223 401h2M1223 405h2M1223 409h2M1223 420h2M1223 434h2M1223 454h2M1223 457h2M1223 459h2M1223 483h2M1223 488h2M1224 252h2M1224 298h2M1224 315h2M1224 324h2M1224 341h2M1224 361h2M1224 364h2M1224 386h2M1224 403h2M1224 447h2M1224 473h2M1224 503h2M1224 510h2M1225 255h2M1225 294h2M1225 330h2M1225 336h2M1225 338h2M1225 362h2M1225 377h2M1225 379h2M1225 383h2M1225 384h2M1225 386h2M1225 431h2M1225 460h2M1225 467h2M1225 484h2M1226 260h2M1226 301h2M1226 306h2M1226 310h2M1226 312h2M1226 323h2M1226 343h2M1226 385h2M1226 387h2M1226 395h2M1226 410h2M1226 414h2M1226 467h2M1226 492h2M1226 508h2M1227 244h2M1227 302h2M1227 321h2M1227 356h2M1227 372h2M1227 374h2M1227 379h2M1227 384h2M1227 408h2M1227 488h2M1227 489h2M1228 280h2M1228 305h2M1228 311h2M1228 329h2M1228 357h2M1228 365h2M1228 392h2M1228 393h2M1228 394h2M1228 422h2M1228 424h2M1228 427h2M1228 476h2M1228 497h2M1229 316h2M1229 326h2M1229 352h2M1229 386h2M1229 399h2M1229 468h2M1229 470h2M1230 237h2M1230 332h2M1230 350h2M1230 354h2M1230 377h2M1230 388h2M1230 390h2M1230 440h2M1230 468h2M1230 503h2M1231 248h2M1231 268h2M1231 327h2M1231 343h2M1231 391h2M1231 419h2M1231 431h2M1231 478h2M1231 484h2M1231 499h2M1231 513h2M1232 280h2M1232 349h2M1232 370h2M1232 374h2M1232 387h2M1232 401h2M1232 406h2M1232 409h2M1232 411h2M1232 446h2M1232 460h2M1232 481h2M1232 505h2M1233 228h2M1233 307h2M1233 323h2M1233 327h2M1233 331h2M1233 336h2M1233 348h2M1233 352h2M1233 365h2M1233 399h2M1233 405h2M1233 411h2M1233 485h2M1233 490h2M1234 306h2M1234 323h2M1234 343h2M1234 407h2M1234 446h2M1234 476h2M1234 482h2M1234 498h2M1235 314h2M1235 328h2M1235 365h2M1235 367h2M1235 377h2M1235 387h2M1235 422h2M1235 425h2M1235 475h2M1235 476h2M1235 499h2M1235 502h2M1236 251h2M1236 264h2M1236 366h2M1236 368h2M1236 386h2M1236 471h2M1236 474h2M1237 264h2M1237 327h2M1237 344h2M1237 346h2M1237 350h2M1237 363h2M1237 376h2M1237 383h2M1237 386h2M1237 481h2M1238 262h2M1238 280h2M1238 300h2M1238 323h2M1238 334h2M1238 335h2M1238 345h2M1238 364h2M1238 372h2M1238 377h2M1238 466h2M1238 469h2M1238 478h2M1239 228h2M1239 340h2M1239 360h2M1239 364h2M1239 366h2M1239 409h2M1239 413h2M1239 458h2M1239 481h2M1240 296h2M1240 316h2M1240 323h2M1240 333h2M1240 390h2M1240 422h2M1240 454h2M1240 476h2M1241 281h2M1241 290h2M1241 338h2M1241 340h2M1241 341h2M1241 342h2M1241 349h2M1241 386h2M1241 393h2M1241 431h2M1241 495h2M1241 511h2M1242 290h2M1242 315h2M1242 324h2M1242 337h2M1242 356h2M1242 364h2M1242 484h2M1242 509h2M1243 274h2M1243 330h2M1243 366h2M1243 379h2M1243 419h2M1244 225h2M1244 358h2M1244 368h2M1244 373h2M1244 384h2M1244 403h2M1244 424h2M1244 498h2M1244 509h2M1245 322h2M1245 333h2M1245 338h2M1245 354h2M1245 356h2M1245 375h2M1245 384h2M1245 396h2M1245 417h2M1245 429h2M1245 445h2M1245 472h2M1245 488h2M1246 284h2M1246 306h2M1246 320h2M1246 351h2M1246 363h2M1246 365h2M1246 410h2M1246 422h2M1246 472h2M1247 330h2M1247 362h2M1247 364h2M1247 387h2M1247 398h2M1247 418h2M1247 425h2M1247 442h2M1247 490h2M1247 493h2M1247 496h2M1247 511h2M1248 307h2M1248 313h2M1248 317h2M1248 330h2M1248 374h2M1248 392h2M1248 395h2M1248 404h2M1248 406h2M1248 440h2M1248 442h2M1248 490h2M1249 331h2M1249 354h2M1249 365h2M1249 371h2M1249 385h2M1249 387h2M1249 410h2M1249 435h2M1249 469h2M1249 478h2M1249 500h2M1249 502h2M1250 275h2M1250 303h2M1250 306h2M1250 320h2M1250 349h2M1250 365h2M1250 372h2M1250 392h2M1250 460h2M1250 476h2M1250 481h2M1250 504h2M1251 300h2M1251 313h2M1251 479h2M1252 330h2M1252 334h2M1252 344h2M1252 347h2M1252 384h2M1252 390h2M1252 402h2M1252 413h2M1252 427h2M1252 460h2M1252 495h2M1252 498h2M1253 279h2M1253 319h2M1253 356h2M1253 372h2M1253 374h2M1253 376h2M1253 397h2M1253 404h2M1253 458h2M1253 500h2M1254 276h2M1254 296h2M1254 346h2M1254 367h2M1254 395h2M1254 418h2M1254 457h2M1254 464h2M1254 471h2M1254 475h2M1254 498h2M1255 297h2M1255 299h2M1255 309h2M1255 373h2M1255 388h2M1255 478h2M1255 479h2M1255 488h2M1256 349h2M1256 374h2M1256 379h2M1256 397h2M1256 407h2M1256 411h2M1256 446h2M1256 476h2M1257 286h2M1257 312h2M1257 369h2M1257 370h2M1257 387h2M1257 457h2M1258 304h2M1258 312h2M1258 318h2M1258 325h2M1258 378h2M1258 383h2M1258 390h2M1258 400h2M1258 417h2M1258 491h2M1258 494h2M1259 269h2M1259 282h2M1259 327h2M1259 345h2M1259 371h2M1259 374h2M1259 415h2M1259 467h2M1259 468h2M1260 269h2M1260 354h2M1260 359h2M1260 366h2M1260 367h2M1260 374h2M1260 377h2M1260 402h2M1260 466h2M1260 482h2M1260 505h2M1261 293h2M1261 343h2M1261 348h2M1261 388h2M1261 453h2M1261 506h2M1262 271h2M1262 299h2M1262 300h2M1262 316h2M1262 380h2M1262 385h2M1262 421h2M1263 304h2M1263 316h2M1263 320h2M1263 366h2M1263 385h2M1263 404h2M1263 409h2M1263 447h2M1263 454h2M1263 456h2M1263 476h2M1263 481h2M1263 489h2M1263 491h2M1263 509h2M1264 316h2M1264 357h2M1264 372h2M1264 388h2M1264 409h2M1264 489h2M1264 494h2M1265 261h2M1265 294h2M1265 302h2M1265 339h2M1265 363h2M1265 385h2M1265 412h2M1265 426h2M1265 451h2M1265 476h2M1265 502h2M1266 314h2M1266 341h2M1266 349h2M1266 373h2M1266 407h2M1266 420h2M1266 444h2M1266 460h2M1266 478h2M1267 273h2M1267 322h2M1267 346h2M1267 358h2M1267 359h2M1267 383h2M1267 387h2M1267 435h2M1267 507h2M1268 331h2M1268 345h2M1268 405h2M1269 212h2M1269 306h2M1269 423h2M1269 428h2M1269 449h2M1269 477h2M1270 372h2M1270 375h2M1270 462h2M1270 467h2M1270 511h2M1271 310h2M1271 474h2M1271 485h2M1271 499h2M1271 502h2M1272 265h2M1272 314h2M1272 344h2M1272 386h2M1272 416h2M1272 465h2M1272 492h2M1272 507h2M1272 511h2M1273 285h2M1273 310h2M1273 319h2M1273 336h2M1273 361h2M1273 373h2M1273 382h2M1273 389h2M1273 406h2M1273 411h2M1273 436h2M1273 473h2M1274 305h2M1274 351h2M1274 366h2M1274 375h2M1274 376h2M1274 387h2M1274 399h2M1274 401h2M1275 247h2M1275 276h2M1275 289h2M1275 304h2M1275 382h2M1275 389h2M1276 302h2M1276 320h2M1276 341h2M1276 398h2M1276 445h2M1276 446h2M1277 292h2M1277 381h2M1277 416h2M1277 485h2M1277 504h2M1278 453h2M1279 298h2M1279 364h2M1279 365h2M1279 380h2M1279 385h2M1279 394h2M1279 409h2M1279 447h2M1280 384h2M1280 400h2M1280 466h2M1281 217h2M1281 292h2M1281 329h2M1281 334h2M1281 457h2M1281 462h2M1281 465h2M1282 298h2M1282 385h2M1282 392h2M1282 404h2M1282 421h2M1283 253h2M1283 361h2M1283 396h2M1283 402h2M1283 469h2M1284 323h2M1284 396h2M1284 450h2M1284 482h2M1285 379h2M1285 415h2M1285 432h2M1285 459h2M1285 471h2M1286 315h2M1286 324h2M1286 360h2M1286 383h2M1286 395h2M1286 398h2M1286 403h2M1286 422h2M1286 456h2M1286 475h2M1286 508h2M1287 302h2M1287 375h2M1288 281h2M1288 315h2M1288 402h2M1288 436h2M1288 457h2M1288 483h2M1289 206h2M1289 364h2M1289 415h2M1289 482h2M1289 499h2M1290 284h2M1290 457h2M1290 478h2M1290 488h2M1290 496h2M1291 330h2M1291 417h2M1291 433h2M1291 499h2M1292 304h2M1292 348h2M1292 369h2M1292 384h2M1293 219h2M1293 331h2M1293 360h2M1293 373h2M1293 394h2M1293 469h2M1294 269h2M1294 383h2M1294 400h2M1294 412h2M1295 328h2M1295 345h2M1295 361h2M1295 403h2M1295 424h2M1295 458h2M1296 280h2M1296 309h2M1296 340h2M1296 405h2M1296 450h2M1296 451h2M1296 473h2M1297 259h2M1297 310h2M1297 371h2M1297 482h2M1297 487h2M1298 304h2M1298 345h2M1298 354h2M1298 448h2M1299 286h2M1299 359h2M1299 410h2M1299 413h2M1299 476h2M1300 306h2M1300 347h2M1300 476h2M1300 492h2M1301 259h2M1301 317h2M1301 338h2M1301 444h2M1301 502h2M1302 341h2M1302 388h2M1302 389h2M1302 411h2M1302 414h2M1302 457h2M1303 333h2M1303 341h2M1303 344h2M1303 379h2M1303 448h2M1304 377h2M1304 389h2M1304 422h2M1304 449h2M1304 481h2M1304 486h2M1305 392h2M1305 483h2M1306 299h2M1307 388h2M1307 390h2M1307 415h2M1308 365h2M1308 380h2M1308 381h2M1308 392h2M1308 414h2M1308 469h2M1309 387h2M1309 452h2M1310 413h2M1311 391h2M1311 441h2M1311 488h2M1312 317h2M1312 350h2M1312 364h2M1312 382h2M1312 472h2M1312 494h2M1313 305h2M1313 317h2M1313 345h2M1313 515h2M1314 347h2M1314 363h2M1314 415h2M1314 455h2M1314 485h2M1315 358h2M1315 369h2M1315 481h2M1315 488h2M1315 513h2M1316 257h2M1316 276h2M1316 295h2M1316 311h2M1316 334h2M1316 339h2M1316 362h2M1316 381h2M1316 455h2M1316 474h2M1317 360h2M1317 391h2M1317 453h2M1318 308h2M1319 277h2M1319 283h2M1319 305h2M1319 381h2M1319 459h2M1319 491h2M1320 393h2M1320 405h2M1320 463h2M1321 513h2M1322 384h2M1322 482h2M1322 514h2M1323 287h2M1323 325h2M1323 414h2M1323 428h2M1324 233h2M1324 380h2M1324 392h2M1325 305h2M1325 349h2M1325 408h2M1325 414h2M1326 290h2M1326 310h2M1326 334h2M1326 415h2M1326 427h2M1327 338h2M1327 355h2M1327 399h2M1328 229h2M1328 314h2M1328 344h2M1328 419h2M1328 465h2M1329 377h2M1329 396h2M1330 451h2M1330 518h2M1331 209h2M1331 356h2M1331 408h2M1331 447h2M1332 330h2M1332 332h2M1332 411h2M1332 459h2M1333 280h2M1333 309h2M1333 324h2M1334 251h2M1334 330h2M1335 261h2M1335 307h2M1335 359h2M1335 458h2" stroke="#ff0000" stroke-width="2" fill="none" shape-rendering="crispEdges"/>
<path d="M1025 329h2M1025 503h2M1028 452h2M1030 486h2M1031 363h2M1033 266h2M1035 440h2M1035 497h2M1035 502h2M1036 296h2M1036 314h2M1036 365h2M1036 469h2M1038 313h2M1038 322h2M1039 329h2M1040 442h2M1042 259h2M1042 334h2M1044 513h2M1045 298h2M1045 415h2M1045 427h2M1046 341h2M1046 434h2M1047 383h2M1047 491h2M1048 375h2M1049 346h2M1049 416h2M1050 320h2M1050 409h2M1053 258h2M1053 364h2M1053 514h2M1055 354h2M1055 490h2M1056 322h2M1057 272h2M1057 341h2M1057 486h2M1059 275h2M1059 308h2M1059 341h2M1059 358h2M1059 361h2M1060 337h2M1061 374h2M1061 388h2M1061 491h2M1062 260h2M1062 297h2M1062 346h2M1062 365h2M1062 380h2M1063 313h2M1063 348h2M1063 359h2M1063 373h2M1064 281h2M1065 299h2M1065 330h2M1065 388h2M1066 331h2M1066 436h2M1066 451h2M1067 329h2M1067 379h2M1067 395h2M1068 379h2M1068 497h2M1068 506h2M1069 479h2M1070 223h2M1070 261h2M1070 312h2M1071 413h2M1072 308h2M1072 337h2M1072 378h2M1072 504h2M1073 314h2M1073 395h2M1073 448h2M1076 250h2M1076 267h2M1076 386h2M1076 388h2M1076 405h2M1077 332h2M1077 415h2M1077 430h2M1078 353h2M1078 394h2M1078 404h2M1079 326h2M1079 353h2M1079 362h2M1079 366h2M1080 498h2M1081 327h2M1081 506h2M1082 313h2M1082 348h2M1082 367h2M1082 369h2M1082 412h2M1083 261h2M1083 329h2M1083 484h2M1084 351h2M1084 383h2M1085 310h2M1085 339h2M1085 354h2M1085 361h2M1085 411h2M1086 254h2M1086 370h2M1086 396h2M1087 337h2M1087 366h2M1087 417h2M1088 318h2M1088 322h2M1088 395h2M1088 513h2M1089 326h2M1090 310h2M1090 334h2M1090 350h2M1090 392h2M1091 229h2M1091 314h2M1091 321h2M1091 343h2M1091 492h2M1092 326h2M1092 476h2M1093 339h2M1093 388h2M1093 500h2M1094 210h2M1094 375h2M1094 485h2M1094 498h2M1095 330h2M1095 349h2M1095 367h2M1096 344h2M1096 362h2M1096 515h2M1097 291h2M1097 318h2M1097 339h2M1097 359h2M1098 381h2M1098 387h2M1099 303h2M1099 317h2M1099 333h2M1099 334h2M1099 352h2M1099 378h2M1100 291h2M1101 313h2M1101 329h2M1101 333h2M1101 353h2M1101 375h2M1102 315h2M1102 354h2M1102 359h2M1102 374h2M1102 518h2M1103 329h2M1103 362h2M1103 383h2M1103 394h2M1103 400h2M1104 335h2M1104 357h2M1104 374h2M1104 506h2M1104 510h2M1105 342h2M1105 355h2M1105 504h2M1105 507h2M1106 325h2M1106 345h2M1106 356h2M1106 362h2M1106 397h2M1106 506h2M1107 279h2M1107 364h2M1107 371h2M1107 375h2M1107 392h2M1107 499h2M1107 507h2M1108 356h2M1108 360h2M1108 376h2M1108 392h2M1109 342h2M1109 476h2M1110 324h2M1110 355h2M1110 383h2M1110 411h2M1110 459h2M1111 283h2M1111 338h2M1112 306h2M1112 320h2M1112 328h2M1112 339h2M1112 382h2M1112 383h2M1113 306h2M1113 346h2M1114 308h2M1114 325h2M1114 328h2M1114 397h2M1114 483h2M1114 508h2M1115 260h2M1115 283h2M1115 341h2M1116 305h2M1116 311h2M1116 316h2M1116 325h2M1116 343h2M1117 251h2M1117 452h2M1118 299h2M1118 357h2M1118 384h2M1119 307h2M1119 368h2M1119 384h2M1120 323h2M1120 354h2M1121 322h2M1121 339h2M1121 341h2M1121 378h2M1121 396h2M1121 471h2M1122 356h2M1122 370h2M1122 487h2M1123 287h2M1123 339h2M1123 360h2M1123 392h2M1124 325h2M1124 406h2M1125 358h2M1125 368h2M1125 395h2M1126 375h2M1126 389h2M1127 415h2M1127 418h2M1128 298h2M1128 369h2M1128 442h2M1128 479h2M1129 283h2M1129 308h2M1129 310h2M1129 326h2M1129 348h2M1129 352h2M1129 354h2M1129 368h2M1129 372h2M1130 217h2M1130 291h2M1130 326h2M1130 328h2M1130 332h2M1130 342h2M1130 380h2M1130 388h2M1131 318h2M1131 331h2M1131 357h2M1131 391h2M1132 301h2M1133 288h2M1133 339h2M1133 382h2M1134 257h2M1134 293h2M1134 314h2M1134 322h2M1134 342h2M1134 352h2M1134 369h2M1134 370h2M1135 322h2M1135 349h2M1136 288h2M1136 333h2M1136 360h2M1137 350h2M1137 362h2M1137 367h2M1138 381h2M1138 391h2M1138 454h2M1139 340h2M1139 515h2M1140 274h2M1140 281h2M1140 294h2M1140 342h2M1140 360h2M1141 298h2M1141 352h2M1141 405h2M1142 255h2M1142 321h2M1142 406h2M1142 511h2M1143 399h2M1144 348h2M1144 415h2M1144 453h2M1145 323h2M1145 332h2M1145 335h2M1145 370h2M1145 379h2M1145 518h2M1147 310h2M1147 403h2M1149 322h2M1149 369h2M1149 509h2M1150 266h2M1150 371h2M1150 406h2M1150 509h2M1151 326h2M1151 334h2M1151 375h2M1151 388h2M1151 508h2M1152 294h2M1152 332h2M1153 326h2M1153 335h2M1153 350h2M1153 422h2M1154 372h2M1154 409h2M1155 412h2M1155 485h2M1156 259h2M1156 291h2M1156 346h2M1156 355h2M1156 375h2M1157 307h2M1157 328h2M1157 359h2M1157 381h2M1157 494h2M1158 335h2M1159 302h2M1159 312h2M1159 359h2M1159 360h2M1159 413h2M1159 470h2M1159 480h2M1160 267h2M1160 281h2M1160 410h2M1160 514h2M1161 338h2M1162 323h2M1162 365h2M1162 416h2M1162 451h2M1163 340h2M1163 428h2M1163 488h2M1164 295h2M1164 327h2M1164 372h2M1164 397h2M1164 417h2M1164 489h2M1165 275h2M1165 384h2M1165 434h2M1166 308h2M1166 311h2M1167 477h2M1168 283h2M1168 350h2M1168 476h2M1169 259h2M1169 409h2M1170 384h2M1170 465h2M1171 400h2M1172 492h2M1173 261h2M1173 381h2M1173 465h2M1174 371h2M1174 493h2M1175 279h2M1175 328h2M1177 385h2M1177 480h2M1178 364h2M1178 451h2M1179 292h2M1179 416h2M1180 330h2M1180 355h2M1180 368h2M1180 411h2M1180 432h2M1180 500h2M1181 292h2M1181 329h2M1182 348h2M1182 355h2M1182 447h2M1183 295h2M1183 339h2M1184 256h2M1184 439h2M1184 485h2M1185 294h2M1185 369h2M1186 305h2M1186 359h2M1186 395h2M1187 330h2M1187 340h2M1187 355h2M1188 399h2M1189 334h2M1189 383h2M1189 393h2M1189 405h2M1189 463h2M1190 379h2M1190 508h2M1191 336h2M1191 344h2M1191 463h2M1192 284h2M1192 304h2M1192 312h2M1192 362h2M1193 427h2M1194 339h2M1194 348h2M1194 357h2M1195 318h2M1195 369h2M1196 329h2M1196 389h2M1198 280h2M1198 363h2M1198 370h2M1199 359h2M1199 467h2M1200 234h2M1200 311h2M1200 422h2M1201 300h2M1201 411h2M1203 324h2M1204 445h2M1205 364h2M1205 420h2M1205 427h2M1205 511h2M1205 515h2M1206 354h2M1206 386h2M1206 470h2M1206 486h2M1208 282h2M1208 351h2M1209 281h2M1209 319h2M1209 497h2M1210 291h2M1210 312h2M1210 341h2M1211 344h2M1211 361h2M1214 311h2M1214 423h2M1215 309h2M1215 385h2M1215 406h2M1215 489h2M1216 319h2M1216 420h2M1217 359h2M1218 318h2M1218 383h2M1219 284h2M1219 348h2M1219 357h2M1219 361h2M1219 487h2M1220 380h2M1220 442h2M1220 459h2M1221 395h2M1222 335h2M1222 384h2M1222 392h2M1223 387h2M1224 332h2M1224 344h2M1224 438h2M1224 493h2M1224 501h2M1225 373h2M1225 482h2M1227 338h2M1227 445h2M1227 506h2M1228 352h2M1228 361h2M1228 440h2M1229 379h2M1230 342h2M1230 343h2M1230 408h2M1231 406h2M1231 493h2M1232 307h2M1232 377h2M1232 421h2M1232 444h2M1235 390h2M1235 407h2M1236 368h2M1236 378h2M1236 490h2M1237 426h2M1237 455h2M1238 240h2M1238 323h2M1238 411h2M1239 296h2M1239 394h2M1240 323h2M1240 421h2M1241 356h2M1242 387h2M1243 205h2M1243 383h2M1244 328h2M1245 400h2M1245 486h2M1246 332h2M1246 381h2M1246 478h2M1247 298h2M1247 406h2M1247 413h2M1247 415h2M1247 440h2M1247 473h2M1248 298h2M1248 345h2M1249 292h2M1249 394h2M1250 382h2M1250 414h2M1250 429h2M1250 472h2M1251 493h2M1252 470h2M1253 381h2M1254 322h2M1255 380h2M1255 384h2M1255 397h2M1255 499h2M1256 343h2M1256 367h2M1256 465h2M1257 286h2M1258 441h2M1259 326h2M1259 398h2M1260 377h2M1260 448h2M1261 408h2M1262 464h2M1264 395h2M1264 432h2M1265 473h2M1265 495h2M1266 353h2M1267 400h2M1268 465h2M1269 344h2M1270 328h2M1271 327h2M1271 356h2M1273 338h2M1274 313h2M1276 292h2M1276 368h2M1276 371h2M1277 313h2M1277 320h2M1278 349h2M1278 439h2M1280 319h2M1280 384h2M1281 385h2M1282 284h2M1282 425h2M1284 284h2M1285 449h2M1285 516h2M1286 282h2M1286 389h2M1287 314h2M1287 393h2M1288 347h2M1289 432h2M1290 332h2M1291 262h2M1291 382h2M1291 440h2M1293 470h2M1295 386h2M1296 390h2M1296 410h2M1297 470h2M1298 433h2M1298 485h2M1299 279h2M1299 296h2M1299 472h2M1300 234h2M1300 351h2M1300 465h2M1302 315h2M1302 377h2M1304 327h2M1304 366h2M1304 407h2M1304 418h2M1305 478h2M1307 366h2M1308 317h2M1309 340h2M1310 349h2M1310 473h2M1311 283h2M1318 418h2M1319 374h2M1325 421h2M1327 310h2M1327 332h2M1327 338h2M1329 269h2M1329 292h2M1330 405h2M1334 355h2" stroke="#b80000" stroke-width="2" fill="none" shape-rendering="crispEdges"/>
<path d="M1339 335h2.4M1340 454h2.4M1340 476h2.4M1341 312h2.4M1341 484h2.4M1341 488h2.4M1342 456h2.4M1342 467h2.4M1342 500h2.4M1342 506h2.4M1343 268h2.4M1343 305h2.4M1344 270h2.4M1344 402h2.4M1344 462h2.4M1345 227h2.4M1346 274h2.4M1346 315h2.4M1346 377h2.4M1347 315h2.4M1347 377h2.4M1347 444h2.4M1347 489h2.4M1348 252h2.4M1348 294h2.4M1348 452h2.4M1349 320h2.4M1349 333h2.4M1350 228h2.4M1350 321h2.4M1350 329h2.4M1350 352h2.4M1351 311h2.4M1351 322h2.4M1351 327h2.4M1351 350h2.4M1351 420h2.4M1351 440h2.4M1351 490h2.4M1351 497h2.4M1352 224h2.4M1352 289h2.4M1352 367h2.4M1352 379h2.4M1353 376h2.4M1353 379h2.4M1353 407h2.4M1353 415h2.4M1353 442h2.4M1353 490h2.4M1353 496h2.4M1354 310h2.4M1354 391h2.4M1354 413h2.4M1354 450h2.4M1354 477h2.4M1355 295h2.4M1355 306h2.4M1355 334h2.4M1355 384h2.4M1355 449h2.4M1356 233h2.4M1356 369h2.4M1356 385h2.4M1357 210h2.4M1357 326h2.4M1357 338h2.4M1357 362h2.4M1357 369h2.4M1357 372h2.4M1358 314h2.4M1358 320h2.4M1358 347h2.4M1358 379h2.4M1359 249h2.4M1359 293h2.4M1359 348h2.4M1359 368h2.4M1359 428h2.4M1359 436h2.4M1359 448h2.4M1359 463h2.4M1359 502h2.4M1360 285h2.4M1360 346h2.4M1360 348h2.4M1360 384h2.4M1360 396h2.4M1360 449h2.4M1361 211h2.4M1361 329h2.4M1361 377h2.4M1361 383h2.4M1362 273h2.4M1362 321h2.4M1362 322h2.4M1362 345h2.4M1362 444h2.4M1363 274h2.4M1363 313h2.4M1363 314h2.4M1363 472h2.4M1364 232h2.4M1364 276h2.4M1364 336h2.4M1364 337h2.4M1364 349h2.4M1364 377h2.4M1365 308h2.4M1365 339h2.4M1365 354h2.4M1365 375h2.4M1365 431h2.4M1366 299h2.4M1366 322h2.4M1367 261h2.4M1367 342h2.4M1368 334h2.4M1368 386h2.4M1368 429h2.4M1369 221h2.4M1369 365h2.4M1370 329h2.4M1370 426h2.4M1372 210h2.4M1372 454h2.4M1373 340h2.4M1373 435h2.4M1374 289h2.4M1374 370h2.4M1374 386h2.4M1375 305h2.4M1375 317h2.4M1376 233h2.4" stroke="#000" stroke-width="2.4" fill="none" transform="translate(-0.2 0)"/>
<path d="M183 748h2.4M183 759h2.4M183 869h2.4M183 892h2.4M183 907h2.4M183 950h2.4M183 958h2.4M183 959h2.4M183 964h2.4M183 970h2.4M183 974h2.4M183 976h2.4M183 982h2.4M183 983h2.4M183 986h2.4M183 987h2.4M183 990h2.4M183 993h2.4M183 994h2.4M183 995h2.4M183 1001h2.4M183 1002h2.4M183 1005h2.4M183 1011h2.4M183 1014h2.4M183 1015h2.4M184 726h2.4M184 766h2.4M184 786h2.4M184 867h2.4M184 914h2.4M184 945h2.4M184 957h2.4M184 964h2.4M184 966h2.4M184 968h2.4M184 969h2.4M184 971h2.4M184 978h2.4M184 987h2.4M184 989h2.4M184 994h2.4M184 999h2.4M184 1002h2.4M184 1004h2.4M184 1005h2.4M184 1007h2.4M184 1011h2.4M184 1014h2.4M184 1016h2.4M184 1018h2.4M184 1022h2.4M184 1025h2.4M185 732h2.4M185 763h2.4M185 805h2.4M185 834h2.4M185 870h2.4M185 881h2.4M185 912h2.4M185 919h2.4M185 930h2.4M185 934h2.4M185 936h2.4M185 937h2.4M185 941h2.4M185 956h2.4M185 961h2.4M185 964h2.4M185 970h2.4M185 978h2.4M185 982h2.4M185 987h2.4M185 988h2.4M185 990h2.4M185 991h2.4M185 992h2.4M185 994h2.4M185 998h2.4M185 1002h2.4M185 1003h2.4M185 1007h2.4M185 1009h2.4M185 1010h2.4M185 1011h2.4M185 1013h2.4M185 1017h2.4M185 1018h2.4M185 1025h2.4M186 748h2.4M186 770h2.4M186 844h2.4M186 879h2.4M186 896h2.4M186 913h2.4M186 928h2.4M186 960h2.4M186 970h2.4M186 975h2.4M186 976h2.4M186 979h2.4M186 983h2.4M186 986h2.4M186 987h2.4M186 989h2.4M186 993h2.4M186 995h2.4M186 997h2.4M186 998h2.4M186 1000h2.4M186 1006h2.4M186 1010h2.4M186 1012h2.4M186 1013h2.4M186 1016h2.4M186 1021h2.4M187 720h2.4M187 740h2.4M187 803h2.4M187 912h2.4M187 934h2.4M187 940h2.4M187 959h2.4M187 966h2.4M187 972h2.4M187 977h2.4M187 979h2.4M187 980h2.4M187 981h2.4M187 983h2.4M187 984h2.4M187 990h2.4M187 991h2.4M187 993h2.4M187 996h2.4M187 997h2.4M187 998h2.4M187 999h2.4M187 1001h2.4M187 1005h2.4M187 1006h2.4M187 1007h2.4M187 1008h2.4M187 1009h2.4M187 1010h2.4M187 1011h2.4M187 1015h2.4M187 1017h2.4M187 1019h2.4M187 1020h2.4M187 1022h2.4M187 1028h2.4M187 1030h2.4M188 801h2.4M188 847h2.4M188 859h2.4M188 860h2.4M188 867h2.4M188 916h2.4M188 921h2.4M188 924h2.4M188 957h2.4M188 958h2.4M188 965h2.4M188 969h2.4M188 973h2.4M188 975h2.4M188 977h2.4M188 978h2.4M188 979h2.4M188 980h2.4M188 981h2.4M188 984h2.4M188 991h2.4M188 992h2.4M188 996h2.4M188 998h2.4M188 1001h2.4M188 1003h2.4M188 1009h2.4M188 1010h2.4M188 1015h2.4M188 1019h2.4M188 1022h2.4M189 746h2.4M189 756h2.4M189 788h2.4M189 862h2.4M189 911h2.4M189 913h2.4M189 917h2.4M189 938h2.4M189 943h2.4M189 955h2.4M189 964h2.4M189 971h2.4M189 976h2.4M189 982h2.4M189 986h2.4M189 988h2.4M189 990h2.4M189 993h2.4M189 994h2.4M189 997h2.4M189 998h2.4M189 999h2.4M189 1000h2.4M189 1009h2.4M189 1013h2.4M189 1014h2.4M189 1015h2.4M189 1016h2.4M189 1018h2.4M189 1020h2.4M189 1024h2.4M189 1025h2.4M190 726h2.4M190 763h2.4M190 817h2.4M190 862h2.4M190 907h2.4M190 914h2.4M190 933h2.4M190 935h2.4M190 941h2.4M190 961h2.4M190 968h2.4M190 969h2.4M190 973h2.4M190 974h2.4M190 979h2.4M190 980h2.4M190 982h2.4M190 984h2.4M190 986h2.4M190 987h2.4M190 988h2.4M190 989h2.4M190 991h2.4M190 993h2.4M190 994h2.4M190 995h2.4M190 1000h2.4M190 1001h2.4M190 1003h2.4M190 1005h2.4M190 1008h2.4M190 1009h2.4M190 1010h2.4M190 1011h2.4M190 1013h2.4M190 1017h2.4M190 1018h2.4M190 1020h2.4M190 1021h2.4M191 779h2.4M191 799h2.4M191 870h2.4M191 872h2.4M191 874h2.4M191 881h2.4M191 917h2.4M191 920h2.4M191 938h2.4M191 942h2.4M191 943h2.4M191 945h2.4M191 949h2.4M191 951h2.4M191 958h2.4M191 959h2.4M191 960h2.4M191 967h2.4M191 971h2.4M191 974h2.4M191 977h2.4M191 981h2.4M191 984h2.4M191 986h2.4M191 987h2.4M191 988h2.4M191 989h2.4M191 990h2.4M191 993h2.4M191 996h2.4M191 999h2.4M191 1000h2.4M191 1002h2.4M191 1006h2.4M191 1007h2.4M191 1012h2.4M191 1013h2.4M191 1014h2.4M191 1015h2.4M191 1016h2.4M191 1017h2.4M191 1019h2.4M191 1022h2.4M191 1024h2.4M191 1026h2.4M191 1027h2.4M191 1028h2.4M191 1029h2.4M192 714h2.4M192 739h2.4M192 805h2.4M192 830h2.4M192 875h2.4M192 918h2.4M192 933h2.4M192 948h2.4M192 959h2.4M192 967h2.4M192 970h2.4M192 971h2.4M192 976h2.4M192 977h2.4M192 978h2.4M192 981h2.4M192 982h2.4M192 985h2.4M192 986h2.4M192 987h2.4M192 988h2.4M192 990h2.4M192 993h2.4M192 994h2.4M192 995h2.4M192 996h2.4M192 998h2.4M192 999h2.4M192 1001h2.4M192 1002h2.4M192 1003h2.4M192 1004h2.4M192 1007h2.4M192 1008h2.4M192 1009h2.4M192 1010h2.4M192 1011h2.4M192 1012h2.4M192 1013h2.4M192 1014h2.4M192 1017h2.4M192 1018h2.4M192 1020h2.4M192 1024h2.4M192 1025h2.4M192 1030h2.4M193 719h2.4M193 765h2.4M193 801h2.4M193 931h2.4M193 945h2.4M193 958h2.4M193 964h2.4M193 967h2.4M193 969h2.4M193 970h2.4M193 971h2.4M193 972h2.4M193 974h2.4M193 976h2.4M193 978h2.4M193 982h2.4M193 983h2.4M193 985h2.4M193 986h2.4M193 991h2.4M193 993h2.4M193 994h2.4M193 997h2.4M193 998h2.4M193 999h2.4M193 1000h2.4M193 1001h2.4M193 1003h2.4M193 1004h2.4M193 1005h2.4M193 1007h2.4M193 1010h2.4M193 1012h2.4M193 1013h2.4M193 1019h2.4M193 1021h2.4M193 1023h2.4M193 1024h2.4M193 1025h2.4M193 1026h2.4M194 792h2.4M194 798h2.4M194 866h2.4M194 877h2.4M194 893h2.4M194 939h2.4M194 942h2.4M194 953h2.4M194 954h2.4M194 958h2.4M194 963h2.4M194 964h2.4M194 968h2.4M194 972h2.4M194 976h2.4M194 978h2.4M194 982h2.4M194 983h2.4M194 985h2.4M194 987h2.4M194 988h2.4M194 989h2.4M194 990h2.4M194 991h2.4M194 996h2.4M194 997h2.4M194 1000h2.4M194 1003h2.4M194 1004h2.4M194 1007h2.4M194 1008h2.4M194 1010h2.4M194 1012h2.4M194 1013h2.4M194 1015h2.4M194 1016h2.4M194 1017h2.4M194 1022h2.4M194 1027h2.4M194 1029h2.4M195 895h2.4M195 910h2.4M195 947h2.4M195 954h2.4M195 956h2.4M195 965h2.4M195 968h2.4M195 969h2.4M195 973h2.4M195 975h2.4M195 976h2.4M195 977h2.4M195 978h2.4M195 980h2.4M195 981h2.4M195 983h2.4M195 984h2.4M195 985h2.4M195 987h2.4M195 989h2.4M195 990h2.4M195 992h2.4M195 994h2.4M195 996h2.4M195 998h2.4M195 999h2.4M195 1000h2.4M195 1001h2.4M195 1002h2.4M195 1004h2.4M195 1005h2.4M195 1007h2.4M195 1008h2.4M195 1009h2.4M195 1010h2.4M195 1012h2.4M195 1015h2.4M195 1016h2.4M195 1017h2.4M195 1018h2.4M195 1019h2.4M195 1021h2.4M195 1022h2.4M195 1023h2.4M195 1025h2.4M195 1027h2.4M195 1029h2.4M195 1030h2.4M196 690h2.4M196 712h2.4M196 746h2.4M196 909h2.4M196 928h2.4M196 935h2.4M196 939h2.4M196 944h2.4M196 947h2.4M196 954h2.4M196 957h2.4M196 966h2.4M196 969h2.4M196 970h2.4M196 971h2.4M196 973h2.4M196 974h2.4M196 975h2.4M196 977h2.4M196 978h2.4M196 979h2.4M196 981h2.4M196 982h2.4M196 983h2.4M196 984h2.4M196 988h2.4M196 989h2.4M196 990h2.4M196 992h2.4M196 993h2.4M196 994h2.4M196 995h2.4M196 997h2.4M196 999h2.4M196 1000h2.4M196 1001h2.4M196 1002h2.4M196 1003h2.4M196 1004h2.4M196 1006h2.4M196 1009h2.4M196 1011h2.4M196 1012h2.4M196 1013h2.4M196 1014h2.4M196 1015h2.4M196 1017h2.4M196 1018h2.4M196 1019h2.4M196 1020h2.4M196 1021h2.4M196 1024h2.4M196 1025h2.4M196 1028h2.4M197 702h2.4M197 761h2.4M197 812h2.4M197 827h2.4M197 867h2.4M197 873h2.4M197 888h2.4M197 907h2.4M197 916h2.4M197 950h2.4M197 963h2.4M197 965h2.4M197 968h2.4M197 975h2.4M197 977h2.4M197 978h2.4M197 979h2.4M197 981h2.4M197 988h2.4M197 993h2.4M197 994h2.4M197 998h2.4M197 999h2.4M197 1000h2.4M197 1004h2.4M197 1005h2.4M197 1007h2.4M197 1009h2.4M197 1010h2.4M197 1011h2.4M197 1012h2.4M197 1013h2.4M197 1015h2.4M197 1016h2.4M197 1019h2.4M197 1026h2.4M197 1027h2.4M198 770h2.4M198 771h2.4M198 820h2.4M198 834h2.4M198 839h2.4M198 866h2.4M198 891h2.4M198 945h2.4M198 951h2.4M198 954h2.4M198 957h2.4M198 959h2.4M198 961h2.4M198 970h2.4M198 972h2.4M198 974h2.4M198 975h2.4M198 977h2.4M198 979h2.4M198 981h2.4M198 983h2.4M198 984h2.4M198 985h2.4M198 987h2.4M198 989h2.4M198 992h2.4M198 993h2.4M198 994h2.4M198 995h2.4M198 997h2.4M198 998h2.4M198 999h2.4M198 1000h2.4M198 1001h2.4M198 1002h2.4M198 1003h2.4M198 1004h2.4M198 1005h2.4M198 1006h2.4M198 1007h2.4M198 1010h2.4M198 1011h2.4M198 1014h2.4M198 1017h2.4M198 1018h2.4M198 1020h2.4M198 1021h2.4M198 1022h2.4M199 679h2.4M199 702h2.4M199 785h2.4M199 788h2.4M199 790h2.4M199 824h2.4M199 845h2.4M199 864h2.4M199 887h2.4M199 931h2.4M199 949h2.4M199 952h2.4M199 956h2.4M199 963h2.4M199 968h2.4M199 969h2.4M199 974h2.4M199 975h2.4M199 977h2.4M199 978h2.4M199 979h2.4M199 980h2.4M199 982h2.4M199 985h2.4M199 986h2.4M199 987h2.4M199 988h2.4M199 990h2.4M199 994h2.4M199 995h2.4M199 996h2.4M199 997h2.4M199 999h2.4M199 1000h2.4M199 1001h2.4M199 1004h2.4M199 1006h2.4M199 1007h2.4M199 1010h2.4M199 1011h2.4M199 1012h2.4M199 1013h2.4M199 1016h2.4M199 1018h2.4M199 1021h2.4M199 1022h2.4M199 1026h2.4M199 1028h2.4M199 1029h2.4M199 1030h2.4M200 766h2.4M200 830h2.4M200 840h2.4M200 864h2.4M200 890h2.4M200 892h2.4M200 898h2.4M200 903h2.4M200 915h2.4M200 923h2.4M200 929h2.4M200 933h2.4M200 944h2.4M200 954h2.4M200 963h2.4M200 964h2.4M200 966h2.4M200 967h2.4M200 972h2.4M200 973h2.4M200 978h2.4M200 979h2.4M200 981h2.4M200 982h2.4M200 983h2.4M200 985h2.4M200 986h2.4M200 987h2.4M200 988h2.4M200 989h2.4M200 990h2.4M200 991h2.4M200 992h2.4M200 993h2.4M200 994h2.4M200 995h2.4M200 998h2.4M200 1004h2.4M200 1005h2.4M200 1007h2.4M200 1008h2.4M200 1009h2.4M200 1010h2.4M200 1011h2.4M200 1012h2.4M200 1013h2.4M200 1015h2.4M200 1017h2.4M200 1019h2.4M200 1023h2.4M201 746h2.4M201 853h2.4M201 856h2.4M201 874h2.4M201 891h2.4M201 903h2.4M201 920h2.4M201 943h2.4M201 945h2.4M201 946h2.4M201 948h2.4M201 949h2.4M201 954h2.4M201 955h2.4M201 959h2.4M201 964h2.4M201 966h2.4M201 971h2.4M201 975h2.4M201 978h2.4M201 979h2.4M201 984h2.4M201 985h2.4M201 986h2.4M201 988h2.4M201 989h2.4M201 990h2.4M201 991h2.4M201 993h2.4M201 994h2.4M201 995h2.4M201 996h2.4M201 997h2.4M201 999h2.4M201 1001h2.4M201 1002h2.4M201 1003h2.4M201 1005h2.4M201 1006h2.4M201 1010h2.4M201 1013h2.4M201 1014h2.4M201 1017h2.4M201 1018h2.4M201 1024h2.4M201 1025h2.4M201 1029h2.4M202 747h2.4M202 751h2.4M202 753h2.4M202 773h2.4M202 816h2.4M202 912h2.4M202 916h2.4M202 933h2.4M202 944h2.4M202 945h2.4M202 958h2.4M202 963h2.4M202 970h2.4M202 971h2.4M202 974h2.4M202 975h2.4M202 977h2.4M202 979h2.4M202 981h2.4M202 982h2.4M202 983h2.4M202 987h2.4M202 989h2.4M202 992h2.4M202 996h2.4M202 998h2.4M202 999h2.4M202 1000h2.4M202 1001h2.4M202 1003h2.4M202 1004h2.4M202 1007h2.4M202 1008h2.4M202 1009h2.4M202 1011h2.4M202 1012h2.4M202 1013h2.4M202 1014h2.4M202 1016h2.4M202 1017h2.4M202 1019h2.4M202 1023h2.4M202 1024h2.4M202 1027h2.4M202 1029h2.4M202 1030h2.4M203 776h2.4M203 814h2.4M203 884h2.4M203 885h2.4M203 926h2.4M203 934h2.4M203 942h2.4M203 953h2.4M203 962h2.4M203 968h2.4M203 970h2.4M203 981h2.4M203 982h2.4M203 984h2.4M203 985h2.4M203 986h2.4M203 988h2.4M203 989h2.4M203 992h2.4M203 994h2.4M203 995h2.4M203 996h2.4M203 997h2.4M203 999h2.4M203 1001h2.4M203 1003h2.4M203 1006h2.4M203 1007h2.4M203 1008h2.4M203 1009h2.4M203 1010h2.4M203 1011h2.4M203 1013h2.4M203 1015h2.4M203 1020h2.4M203 1023h2.4M203 1027h2.4M203 1030h2.4M204 793h2.4M204 829h2.4M204 851h2.4M204 862h2.4M204 868h2.4M204 878h2.4M204 899h2.4M204 900h2.4M204 930h2.4M204 943h2.4M204 945h2.4M204 955h2.4M204 961h2.4M204 967h2.4M204 968h2.4M204 969h2.4M204 971h2.4M204 972h2.4M204 973h2.4M204 974h2.4M204 976h2.4M204 977h2.4M204 978h2.4M204 979h2.4M204 980h2.4M204 981h2.4M204 982h2.4M204 984h2.4M204 985h2.4M204 986h2.4M204 987h2.4M204 988h2.4M204 990h2.4M204 991h2.4M204 992h2.4M204 993h2.4M204 994h2.4M204 996h2.4M204 998h2.4M204 999h2.4M204 1000h2.4M204 1001h2.4M204 1003h2.4M204 1004h2.4M204 1005h2.4M204 1010h2.4M204 1011h2.4M204 1012h2.4M204 1015h2.4M204 1018h2.4M204 1019h2.4M204 1021h2.4M204 1022h2.4M204 1027h2.4M205 727h2.4M205 768h2.4M205 859h2.4M205 886h2.4M205 919h2.4M205 932h2.4M205 942h2.4M205 944h2.4M205 945h2.4M205 951h2.4M205 958h2.4M205 960h2.4M205 962h2.4M205 965h2.4M205 971h2.4M205 976h2.4M205 979h2.4M205 980h2.4M205 981h2.4M205 982h2.4M205 984h2.4M205 985h2.4M205 986h2.4M205 988h2.4M205 989h2.4M205 990h2.4M205 991h2.4M205 992h2.4M205 994h2.4M205 995h2.4M205 998h2.4M205 1002h2.4M205 1004h2.4M205 1005h2.4M205 1006h2.4M205 1008h2.4M205 1010h2.4M205 1011h2.4M205 1012h2.4M205 1013h2.4M205 1014h2.4M205 1017h2.4M205 1018h2.4M205 1019h2.4M205 1025h2.4M205 1028h2.4M206 673h2.4M206 739h2.4M206 824h2.4M206 836h2.4M206 850h2.4M206 856h2.4M206 914h2.4M206 926h2.4M206 938h2.4M206 941h2.4M206 947h2.4M206 953h2.4M206 965h2.4M206 966h2.4M206 967h2.4M206 968h2.4M206 969h2.4M206 972h2.4M206 973h2.4M206 976h2.4M206 979h2.4M206 981h2.4M206 982h2.4M206 984h2.4M206 986h2.4M206 988h2.4M206 989h2.4M206 990h2.4M206 991h2.4M206 992h2.4M206 993h2.4M206 994h2.4M206 995h2.4M206 996h2.4M206 997h2.4M206 998h2.4M206 999h2.4M206 1001h2.4M206 1002h2.4M206 1003h2.4M206 1004h2.4M206 1005h2.4M206 1007h2.4M206 1010h2.4M206 1011h2.4M206 1012h2.4M206 1014h2.4M206 1018h2.4M206 1019h2.4M206 1020h2.4M206 1021h2.4M206 1022h2.4M206 1023h2.4M206 1024h2.4M206 1027h2.4M206 1029h2.4M206 1030h2.4M207 749h2.4M207 761h2.4M207 783h2.4M207 809h2.4M207 812h2.4M207 901h2.4M207 922h2.4M207 943h2.4M207 944h2.4M207 954h2.4M207 960h2.4M207 963h2.4M207 967h2.4M207 969h2.4M207 971h2.4M207 972h2.4M207 973h2.4M207 974h2.4M207 979h2.4M207 981h2.4M207 985h2.4M207 988h2.4M207 990h2.4M207 991h2.4M207 992h2.4M207 993h2.4M207 996h2.4M207 997h2.4M207 998h2.4M207 999h2.4M207 1002h2.4M207 1003h2.4M207 1004h2.4M207 1005h2.4M207 1006h2.4M207 1010h2.4M207 1011h2.4M207 1012h2.4M207 1013h2.4M207 1014h2.4M207 1015h2.4M207 1016h2.4M207 1017h2.4M207 1018h2.4M207 1023h2.4M207 1025h2.4M208 712h2.4M208 762h2.4M208 858h2.4M208 899h2.4M208 934h2.4M208 943h2.4M208 947h2.4M208 948h2.4M208 953h2.4M208 963h2.4M208 965h2.4M208 966h2.4M208 970h2.4M208 976h2.4M208 977h2.4M208 980h2.4M208 983h2.4M208 986h2.4M208 988h2.4M208 989h2.4M208 992h2.4M208 993h2.4M208 994h2.4M208 995h2.4M208 997h2.4M208 998h2.4M208 1000h2.4M208 1002h2.4M208 1003h2.4M208 1004h2.4M208 1008h2.4M208 1009h2.4M208 1010h2.4M208 1013h2.4M208 1017h2.4M208 1018h2.4M208 1020h2.4M208 1022h2.4M208 1023h2.4M208 1029h2.4M209 675h2.4M209 705h2.4M209 707h2.4M209 735h2.4M209 752h2.4M209 769h2.4M209 830h2.4M209 930h2.4M209 944h2.4M209 949h2.4M209 955h2.4M209 956h2.4M209 960h2.4M209 962h2.4M209 963h2.4M209 967h2.4M209 970h2.4M209 971h2.4M209 972h2.4M209 974h2.4M209 975h2.4M209 976h2.4M209 977h2.4M209 978h2.4M209 979h2.4M209 980h2.4M209 983h2.4M209 986h2.4M209 989h2.4M209 990h2.4M209 991h2.4M209 992h2.4M209 994h2.4M209 996h2.4M209 997h2.4M209 998h2.4M209 1001h2.4M209 1003h2.4M209 1007h2.4M209 1008h2.4M209 1009h2.4M209 1010h2.4M209 1011h2.4M209 1012h2.4M209 1014h2.4M209 1016h2.4M209 1017h2.4M209 1021h2.4M209 1022h2.4M209 1027h2.4M210 686h2.4M210 707h2.4M210 727h2.4M210 757h2.4M210 767h2.4M210 784h2.4M210 786h2.4M210 817h2.4M210 856h2.4M210 857h2.4M210 896h2.4M210 912h2.4M210 919h2.4M210 921h2.4M210 941h2.4M210 942h2.4M210 948h2.4M210 949h2.4M210 953h2.4M210 954h2.4M210 955h2.4M210 958h2.4M210 963h2.4M210 965h2.4M210 966h2.4M210 969h2.4M210 971h2.4M210 976h2.4M210 978h2.4M210 981h2.4M210 982h2.4M210 984h2.4M210 985h2.4M210 986h2.4M210 987h2.4M210 992h2.4M210 993h2.4M210 994h2.4M210 997h2.4M210 1000h2.4M210 1001h2.4M210 1003h2.4M210 1007h2.4M210 1010h2.4M210 1017h2.4M210 1029h2.4M210 1030h2.4M211 771h2.4M211 789h2.4M211 868h2.4M211 876h2.4M211 881h2.4M211 931h2.4M211 944h2.4M211 948h2.4M211 956h2.4M211 959h2.4M211 967h2.4M211 969h2.4M211 974h2.4M211 979h2.4M211 981h2.4M211 983h2.4M211 985h2.4M211 986h2.4M211 987h2.4M211 992h2.4M211 993h2.4M211 997h2.4M211 998h2.4M211 1000h2.4M211 1003h2.4M211 1004h2.4M211 1007h2.4M211 1009h2.4M211 1014h2.4M211 1015h2.4M211 1016h2.4M211 1019h2.4M211 1023h2.4M211 1024h2.4M211 1026h2.4M211 1027h2.4M211 1028h2.4M211 1029h2.4M212 773h2.4M212 846h2.4M212 867h2.4M212 883h2.4M212 899h2.4M212 934h2.4M212 943h2.4M212 965h2.4M212 966h2.4M212 968h2.4M212 969h2.4M212 972h2.4M212 976h2.4M212 978h2.4M212 982h2.4M212 983h2.4M212 987h2.4M212 988h2.4M212 990h2.4M212 991h2.4M212 992h2.4M212 993h2.4M212 994h2.4M212 995h2.4M212 996h2.4M212 998h2.4M212 1000h2.4M212 1001h2.4M212 1002h2.4M212 1004h2.4M212 1005h2.4M212 1006h2.4M212 1008h2.4M212 1011h2.4M212 1013h2.4M212 1014h2.4M212 1015h2.4M212 1019h2.4M212 1020h2.4M212 1024h2.4M212 1027h2.4M212 1028h2.4M213 717h2.4M213 821h2.4M213 823h2.4M213 872h2.4M213 913h2.4M213 917h2.4M213 939h2.4M213 942h2.4M213 957h2.4M213 961h2.4M213 962h2.4M213 968h2.4M213 971h2.4M213 973h2.4M213 975h2.4M213 976h2.4M213 977h2.4M213 981h2.4M213 983h2.4M213 988h2.4M213 990h2.4M213 991h2.4M213 994h2.4M213 996h2.4M213 997h2.4M213 999h2.4M213 1000h2.4M213 1002h2.4M213 1003h2.4M213 1006h2.4M213 1010h2.4M213 1011h2.4M213 1014h2.4M213 1015h2.4M213 1018h2.4M213 1021h2.4M214 730h2.4M214 865h2.4M214 877h2.4M214 882h2.4M214 907h2.4M214 924h2.4M214 948h2.4M214 949h2.4M214 952h2.4M214 954h2.4M214 959h2.4M214 966h2.4M214 967h2.4M214 969h2.4M214 971h2.4M214 977h2.4M214 979h2.4M214 980h2.4M214 981h2.4M214 982h2.4M214 984h2.4M214 985h2.4M214 991h2.4M214 993h2.4M214 995h2.4M214 997h2.4M214 998h2.4M214 999h2.4M214 1001h2.4M214 1002h2.4M214 1006h2.4M214 1007h2.4M214 1012h2.4M214 1013h2.4M214 1015h2.4M214 1019h2.4M214 1020h2.4M214 1030h2.4M215 785h2.4M215 824h2.4M215 858h2.4M215 895h2.4M215 929h2.4M215 934h2.4M215 936h2.4M215 953h2.4M215 954h2.4M215 962h2.4M215 967h2.4M215 969h2.4M215 975h2.4M215 977h2.4M215 978h2.4M215 982h2.4M215 983h2.4M215 985h2.4M215 986h2.4M215 988h2.4M215 989h2.4M215 990h2.4M215 991h2.4M215 992h2.4M215 993h2.4M215 995h2.4M215 996h2.4M215 998h2.4M215 1007h2.4M215 1008h2.4M215 1009h2.4M215 1012h2.4M215 1013h2.4M215 1014h2.4M215 1017h2.4M215 1019h2.4M215 1024h2.4M215 1028h2.4M216 681h2.4M216 784h2.4M216 833h2.4M216 839h2.4M216 865h2.4M216 873h2.4M216 908h2.4M216 926h2.4M216 941h2.4M216 951h2.4M216 958h2.4M216 962h2.4M216 967h2.4M216 973h2.4M216 976h2.4M216 982h2.4M216 984h2.4M216 987h2.4M216 989h2.4M216 993h2.4M216 994h2.4M216 995h2.4M216 996h2.4M216 999h2.4M216 1000h2.4M216 1002h2.4M216 1005h2.4M216 1006h2.4M216 1008h2.4M216 1009h2.4M216 1011h2.4M216 1023h2.4M216 1025h2.4M216 1027h2.4M216 1028h2.4M216 1029h2.4M217 797h2.4M217 896h2.4M217 906h2.4M217 956h2.4M217 959h2.4M217 961h2.4M217 964h2.4M217 969h2.4M217 971h2.4M217 974h2.4M217 981h2.4M217 983h2.4M217 986h2.4M217 990h2.4M217 996h2.4M217 998h2.4M217 999h2.4M217 1000h2.4M217 1002h2.4M217 1005h2.4M217 1008h2.4M217 1009h2.4M217 1010h2.4M217 1011h2.4M217 1018h2.4M217 1019h2.4M217 1020h2.4M217 1023h2.4M218 893h2.4M218 920h2.4M218 929h2.4M218 939h2.4M218 951h2.4M218 954h2.4M218 955h2.4M218 957h2.4M218 958h2.4M218 962h2.4M218 964h2.4M218 968h2.4M218 976h2.4M218 981h2.4M218 984h2.4M218 986h2.4M218 988h2.4M218 989h2.4M218 990h2.4M218 992h2.4M218 994h2.4M218 995h2.4M218 996h2.4M218 999h2.4M218 1000h2.4M218 1002h2.4M218 1005h2.4M218 1007h2.4M218 1008h2.4M218 1011h2.4M218 1012h2.4M218 1013h2.4M218 1015h2.4M218 1019h2.4M218 1020h2.4M218 1023h2.4M218 1025h2.4M218 1030h2.4M219 681h2.4M219 825h2.4M219 844h2.4M219 867h2.4M219 879h2.4M219 928h2.4M219 944h2.4M219 947h2.4M219 949h2.4M219 955h2.4M219 957h2.4M219 959h2.4M219 960h2.4M219 964h2.4M219 975h2.4M219 978h2.4M219 989h2.4M219 992h2.4M219 996h2.4M219 997h2.4M219 998h2.4M219 999h2.4M219 1000h2.4M219 1002h2.4M219 1004h2.4M219 1005h2.4M219 1006h2.4M219 1008h2.4M219 1010h2.4M219 1016h2.4M219 1017h2.4M219 1020h2.4M219 1030h2.4M220 685h2.4M220 804h2.4M220 883h2.4M220 934h2.4M220 943h2.4M220 945h2.4M220 949h2.4M220 955h2.4M220 957h2.4M220 968h2.4M220 972h2.4M220 973h2.4M220 987h2.4M220 994h2.4M220 1001h2.4M220 1008h2.4M220 1009h2.4M220 1011h2.4M220 1022h2.4M220 1024h2.4M220 1028h2.4M220 1029h2.4M221 791h2.4M221 937h2.4M221 944h2.4M221 949h2.4M221 959h2.4M221 963h2.4M221 964h2.4M221 969h2.4M221 973h2.4M221 979h2.4M221 987h2.4M221 990h2.4M221 991h2.4M221 993h2.4M221 994h2.4M221 1000h2.4M221 1001h2.4M221 1003h2.4M221 1004h2.4M221 1005h2.4M221 1009h2.4M221 1010h2.4M221 1012h2.4M221 1024h2.4M221 1026h2.4M222 689h2.4M222 776h2.4M222 792h2.4M222 860h2.4M222 867h2.4M222 881h2.4M222 939h2.4M222 953h2.4M222 955h2.4M222 957h2.4M222 959h2.4M222 960h2.4M222 962h2.4M222 964h2.4M222 972h2.4M222 979h2.4M222 982h2.4M222 984h2.4M222 985h2.4M222 987h2.4M222 988h2.4M222 992h2.4M222 994h2.4M222 996h2.4M222 997h2.4M222 998h2.4M222 999h2.4M222 1000h2.4M222 1004h2.4M222 1009h2.4M222 1010h2.4M222 1012h2.4M222 1015h2.4M222 1029h2.4M223 730h2.4M223 919h2.4M223 927h2.4M223 939h2.4M223 940h2.4M223 944h2.4M223 947h2.4M223 955h2.4M223 956h2.4M223 961h2.4M223 964h2.4M223 969h2.4M223 970h2.4M223 976h2.4M223 979h2.4M223 980h2.4M223 989h2.4M223 994h2.4M223 997h2.4M223 999h2.4M223 1000h2.4M223 1002h2.4M223 1003h2.4M223 1004h2.4M223 1009h2.4M223 1010h2.4M223 1012h2.4M223 1013h2.4M224 802h2.4M224 844h2.4M224 850h2.4M224 880h2.4M224 899h2.4M224 914h2.4M224 966h2.4M224 968h2.4M224 973h2.4M224 974h2.4M224 975h2.4M224 977h2.4M224 986h2.4M224 987h2.4M224 988h2.4M224 993h2.4M224 997h2.4M224 999h2.4M224 1002h2.4M224 1003h2.4M224 1005h2.4M224 1008h2.4M224 1010h2.4M224 1012h2.4M224 1014h2.4M224 1016h2.4M224 1017h2.4M224 1020h2.4M224 1029h2.4M225 670h2.4M225 920h2.4M225 928h2.4M225 930h2.4M225 931h2.4M225 932h2.4M225 936h2.4M225 939h2.4M225 948h2.4M225 952h2.4M225 957h2.4M225 974h2.4M225 982h2.4M225 985h2.4M225 992h2.4M225 993h2.4M225 994h2.4M225 998h2.4M225 1001h2.4M225 1005h2.4M225 1009h2.4M225 1011h2.4M225 1019h2.4M225 1020h2.4M225 1022h2.4M226 730h2.4M226 805h2.4M226 825h2.4M226 836h2.4M226 900h2.4M226 916h2.4M226 918h2.4M226 928h2.4M226 931h2.4M226 944h2.4M226 950h2.4M226 953h2.4M226 960h2.4M226 963h2.4M226 964h2.4M226 970h2.4M226 979h2.4M226 980h2.4M226 982h2.4M226 983h2.4M226 986h2.4M226 991h2.4M226 993h2.4M226 994h2.4M226 998h2.4M226 1008h2.4M226 1014h2.4M226 1016h2.4M226 1022h2.4M227 675h2.4M227 834h2.4M227 879h2.4M227 925h2.4M227 930h2.4M227 932h2.4M227 933h2.4M227 938h2.4M227 942h2.4M227 948h2.4M227 952h2.4M227 956h2.4M227 967h2.4M227 981h2.4M227 995h2.4M227 996h2.4M227 997h2.4M227 999h2.4M227 1004h2.4M227 1006h2.4M227 1008h2.4M227 1010h2.4M227 1013h2.4M227 1018h2.4M227 1024h2.4M228 777h2.4M228 782h2.4M228 817h2.4M228 926h2.4M228 929h2.4M228 933h2.4M228 940h2.4M228 954h2.4M228 958h2.4M228 959h2.4M228 961h2.4M228 964h2.4M228 966h2.4M228 967h2.4M228 972h2.4M228 975h2.4M228 976h2.4M228 977h2.4M228 981h2.4M228 984h2.4M228 985h2.4M228 987h2.4M228 988h2.4M228 992h2.4M228 996h2.4M228 999h2.4M228 1000h2.4M228 1002h2.4M228 1007h2.4M228 1008h2.4M228 1009h2.4M228 1010h2.4M229 782h2.4M229 838h2.4M229 856h2.4M229 877h2.4M229 878h2.4M229 913h2.4M229 920h2.4M229 933h2.4M229 935h2.4M229 938h2.4M229 939h2.4M229 955h2.4M229 958h2.4M229 968h2.4M229 978h2.4M229 982h2.4M229 983h2.4M229 991h2.4M229 992h2.4M229 1001h2.4M229 1008h2.4M229 1010h2.4M229 1011h2.4M229 1012h2.4M229 1017h2.4M229 1029h2.4M230 689h2.4M230 745h2.4M230 747h2.4M230 752h2.4M230 771h2.4M230 812h2.4M230 833h2.4M230 849h2.4M230 857h2.4M230 870h2.4M230 876h2.4M230 900h2.4M230 906h2.4M230 909h2.4M230 913h2.4M230 926h2.4M230 928h2.4M230 930h2.4M230 946h2.4M230 947h2.4M230 951h2.4M230 956h2.4M230 957h2.4M230 966h2.4M230 969h2.4M230 970h2.4M230 972h2.4M230 976h2.4M230 980h2.4M230 982h2.4M230 990h2.4M230 992h2.4M230 993h2.4M230 995h2.4M230 997h2.4M230 1008h2.4M230 1009h2.4M230 1012h2.4M230 1016h2.4M230 1017h2.4M230 1023h2.4M231 750h2.4M231 835h2.4M231 859h2.4M231 893h2.4M231 901h2.4M231 911h2.4M231 919h2.4M231 934h2.4M231 943h2.4M231 944h2.4M231 946h2.4M231 952h2.4M231 957h2.4M231 965h2.4M231 966h2.4M231 967h2.4M231 972h2.4M231 973h2.4M231 982h2.4M231 991h2.4M231 994h2.4M231 995h2.4M231 996h2.4M231 1008h2.4M231 1014h2.4M231 1023h2.4M231 1030h2.4M232 723h2.4M232 742h2.4M232 784h2.4M232 823h2.4M232 826h2.4M232 830h2.4M232 850h2.4M232 892h2.4M232 927h2.4M232 935h2.4M232 937h2.4M232 952h2.4M232 962h2.4M232 970h2.4M232 975h2.4M232 979h2.4M232 980h2.4M232 983h2.4M232 985h2.4M232 990h2.4M232 992h2.4M232 996h2.4M232 998h2.4M232 1001h2.4M232 1003h2.4M232 1006h2.4M232 1010h2.4M232 1011h2.4M232 1016h2.4M232 1019h2.4M233 757h2.4M233 799h2.4M233 806h2.4M233 852h2.4M233 854h2.4M233 864h2.4M233 868h2.4M233 872h2.4M233 927h2.4M233 929h2.4M233 932h2.4M233 942h2.4M233 948h2.4M233 951h2.4M233 956h2.4M233 961h2.4M233 966h2.4M233 969h2.4M233 973h2.4M233 982h2.4M233 991h2.4M233 992h2.4M233 995h2.4M233 997h2.4M233 1000h2.4M233 1004h2.4M233 1007h2.4M233 1012h2.4M233 1016h2.4M233 1017h2.4M233 1021h2.4M233 1023h2.4M233 1028h2.4M233 1029h2.4M234 718h2.4M234 765h2.4M234 792h2.4M234 802h2.4M234 817h2.4M234 822h2.4M234 862h2.4M234 864h2.4M234 916h2.4M234 933h2.4M234 934h2.4M234 955h2.4M234 967h2.4M234 976h2.4M234 979h2.4M234 980h2.4M234 998h2.4M234 1001h2.4M234 1002h2.4M234 1005h2.4M234 1010h2.4M234 1016h2.4M234 1020h2.4M234 1022h2.4M235 742h2.4M235 774h2.4M235 777h2.4M235 792h2.4M235 803h2.4M235 874h2.4M235 897h2.4M235 952h2.4M235 967h2.4M235 968h2.4M235 979h2.4M235 981h2.4M235 982h2.4M235 989h2.4M235 997h2.4M235 999h2.4M235 1001h2.4M235 1023h2.4M236 752h2.4M236 780h2.4M236 800h2.4M236 803h2.4M236 815h2.4M236 826h2.4M236 852h2.4M236 870h2.4M236 921h2.4M236 952h2.4M236 955h2.4M236 956h2.4M236 959h2.4M236 962h2.4M236 965h2.4M236 977h2.4M236 992h2.4M236 995h2.4M236 996h2.4M236 1004h2.4M236 1008h2.4M236 1011h2.4M236 1012h2.4M236 1017h2.4M236 1022h2.4M236 1027h2.4M237 747h2.4M237 760h2.4M237 800h2.4M237 818h2.4M237 834h2.4M237 909h2.4M237 925h2.4M237 926h2.4M237 934h2.4M237 936h2.4M237 940h2.4M237 950h2.4M237 955h2.4M237 964h2.4M237 967h2.4M237 969h2.4M237 978h2.4M237 980h2.4M237 995h2.4M237 1003h2.4M237 1007h2.4M237 1023h2.4M238 697h2.4M238 735h2.4M238 848h2.4M238 872h2.4M238 912h2.4M238 916h2.4M238 927h2.4M238 930h2.4M238 955h2.4M238 967h2.4M238 975h2.4M238 982h2.4M238 989h2.4M238 993h2.4M238 996h2.4M238 999h2.4M238 1010h2.4M238 1026h2.4M239 682h2.4M239 727h2.4M239 779h2.4M239 788h2.4M239 801h2.4M239 837h2.4M239 867h2.4M239 898h2.4M239 908h2.4M239 916h2.4M239 932h2.4M239 934h2.4M239 941h2.4M239 947h2.4M239 976h2.4M239 978h2.4M239 985h2.4M239 995h2.4M239 1002h2.4M239 1003h2.4M239 1011h2.4M239 1016h2.4M240 711h2.4M240 774h2.4M240 800h2.4M240 826h2.4M240 840h2.4M240 849h2.4M240 858h2.4M240 863h2.4M240 884h2.4M240 891h2.4M240 930h2.4M240 931h2.4M240 932h2.4M240 939h2.4M240 942h2.4M240 948h2.4M240 969h2.4M240 979h2.4M240 986h2.4M240 989h2.4M240 1014h2.4M241 730h2.4M241 802h2.4M241 843h2.4M241 851h2.4M241 876h2.4M241 893h2.4M241 938h2.4M241 953h2.4M241 958h2.4M241 976h2.4M241 979h2.4M241 981h2.4M241 993h2.4M241 997h2.4M241 1005h2.4M241 1010h2.4M241 1012h2.4M241 1025h2.4M241 1027h2.4M242 709h2.4M242 730h2.4M242 766h2.4M242 816h2.4M242 842h2.4M242 847h2.4M242 855h2.4M242 879h2.4M242 884h2.4M242 889h2.4M242 904h2.4M242 906h2.4M242 923h2.4M242 930h2.4M242 944h2.4M242 945h2.4M242 949h2.4M242 951h2.4M242 960h2.4M242 963h2.4M242 970h2.4M242 972h2.4M242 973h2.4M242 975h2.4M242 976h2.4M242 988h2.4M242 989h2.4M242 1015h2.4M242 1029h2.4M243 725h2.4M243 744h2.4M243 763h2.4M243 805h2.4M243 807h2.4M243 819h2.4M243 824h2.4M243 854h2.4M243 889h2.4M243 895h2.4M243 913h2.4M243 941h2.4M243 947h2.4M243 961h2.4M243 964h2.4M243 969h2.4M243 1010h2.4M243 1022h2.4M243 1024h2.4M244 739h2.4M244 832h2.4M244 871h2.4M244 910h2.4M244 923h2.4M244 937h2.4M244 940h2.4M244 946h2.4M244 948h2.4M244 949h2.4M244 953h2.4M244 966h2.4M244 970h2.4M244 973h2.4M244 995h2.4M244 1004h2.4M245 712h2.4M245 770h2.4M245 778h2.4M245 808h2.4M245 844h2.4M245 873h2.4M245 882h2.4M245 896h2.4M245 897h2.4M245 908h2.4M245 921h2.4M245 925h2.4M245 930h2.4M245 933h2.4M245 942h2.4M245 944h2.4M245 949h2.4M245 964h2.4M245 986h2.4M245 991h2.4M245 994h2.4M245 999h2.4M245 1012h2.4M246 740h2.4M246 796h2.4M246 817h2.4M246 840h2.4M246 854h2.4M246 863h2.4M246 874h2.4M246 892h2.4M246 896h2.4M246 897h2.4M246 913h2.4M246 928h2.4M246 936h2.4M246 938h2.4M246 941h2.4M246 963h2.4M246 979h2.4M246 981h2.4M247 706h2.4M247 713h2.4M247 753h2.4M247 804h2.4M247 809h2.4M247 838h2.4M247 843h2.4M247 851h2.4M247 862h2.4M247 871h2.4M247 907h2.4M247 918h2.4M247 923h2.4M247 925h2.4M247 936h2.4M247 950h2.4M247 951h2.4M247 1017h2.4M248 719h2.4M248 727h2.4M248 754h2.4M248 798h2.4M248 809h2.4M248 844h2.4M248 874h2.4M248 909h2.4M248 933h2.4M248 951h2.4M248 966h2.4M248 982h2.4M248 988h2.4M248 1004h2.4M248 1009h2.4M248 1018h2.4M249 770h2.4M249 777h2.4M249 785h2.4M249 787h2.4M249 810h2.4M249 821h2.4M249 835h2.4M249 840h2.4M249 869h2.4M249 871h2.4M249 872h2.4M249 884h2.4M249 910h2.4M249 914h2.4M249 931h2.4M249 961h2.4M249 980h2.4M250 708h2.4M250 723h2.4M250 766h2.4M250 820h2.4M250 824h2.4M250 835h2.4M250 839h2.4M250 888h2.4M250 892h2.4M250 931h2.4M250 943h2.4M250 947h2.4M250 953h2.4M250 969h2.4M250 972h2.4M250 993h2.4M250 1011h2.4M250 1013h2.4M250 1014h2.4M250 1015h2.4M250 1016h2.4M250 1025h2.4M251 735h2.4M251 746h2.4M251 789h2.4M251 791h2.4M251 814h2.4M251 827h2.4M251 835h2.4M251 841h2.4M251 850h2.4M251 875h2.4M251 908h2.4M251 917h2.4M251 924h2.4M251 926h2.4M251 937h2.4M251 939h2.4M251 941h2.4M251 954h2.4M251 958h2.4M251 973h2.4M251 980h2.4M251 983h2.4M251 989h2.4M251 1004h2.4M252 726h2.4M252 757h2.4M252 787h2.4M252 812h2.4M252 816h2.4M252 819h2.4M252 823h2.4M252 834h2.4M252 848h2.4M252 850h2.4M252 853h2.4M252 860h2.4M252 863h2.4M252 882h2.4M252 936h2.4M252 950h2.4M252 962h2.4M252 966h2.4M252 980h2.4M252 997h2.4M253 705h2.4M253 785h2.4M253 805h2.4M253 826h2.4M253 830h2.4M253 858h2.4M253 863h2.4M253 867h2.4M253 893h2.4M253 903h2.4M253 910h2.4M253 923h2.4M253 925h2.4M253 927h2.4M253 929h2.4M253 932h2.4M253 935h2.4M253 983h2.4M253 988h2.4M253 996h2.4M253 997h2.4M253 1022h2.4M254 671h2.4M254 803h2.4M254 831h2.4M254 846h2.4M254 867h2.4M254 869h2.4M254 907h2.4M254 949h2.4M254 1002h2.4M254 1024h2.4M255 678h2.4M255 705h2.4M255 785h2.4M255 790h2.4M255 807h2.4M255 817h2.4M255 835h2.4M255 846h2.4M255 865h2.4M255 904h2.4M255 920h2.4M255 928h2.4M255 932h2.4M255 973h2.4M255 988h2.4M255 990h2.4M256 719h2.4M256 723h2.4M256 781h2.4M256 789h2.4M256 799h2.4M256 854h2.4M256 860h2.4M256 861h2.4M256 874h2.4M256 890h2.4M256 892h2.4M256 903h2.4M256 908h2.4M256 920h2.4M256 925h2.4M256 937h2.4M256 948h2.4M256 962h2.4M257 851h2.4M257 858h2.4M257 870h2.4M257 887h2.4M257 924h2.4M257 931h2.4M257 953h2.4M257 958h2.4M257 979h2.4M258 751h2.4M258 779h2.4M258 788h2.4M258 791h2.4M258 793h2.4M258 816h2.4M258 820h2.4M258 850h2.4M258 867h2.4M258 870h2.4M258 879h2.4M258 988h2.4M258 1004h2.4M259 783h2.4M259 800h2.4M259 805h2.4M259 831h2.4M259 835h2.4M259 839h2.4M259 852h2.4M259 866h2.4M259 894h2.4M259 896h2.4M259 916h2.4M259 931h2.4M259 943h2.4M259 952h2.4M260 761h2.4M260 768h2.4M260 778h2.4M260 781h2.4M260 803h2.4M260 810h2.4M260 823h2.4M260 848h2.4M260 854h2.4M260 860h2.4M260 868h2.4M260 869h2.4M260 871h2.4M260 873h2.4M260 882h2.4M260 883h2.4M260 889h2.4M260 890h2.4M260 922h2.4M260 924h2.4M260 1001h2.4M261 714h2.4M261 764h2.4M261 793h2.4M261 849h2.4M261 851h2.4M261 861h2.4M261 864h2.4M261 871h2.4M261 872h2.4M261 879h2.4M261 900h2.4M261 930h2.4M261 934h2.4M261 938h2.4M262 711h2.4M262 728h2.4M262 742h2.4M262 777h2.4M262 792h2.4M262 796h2.4M262 864h2.4M262 869h2.4M262 875h2.4M262 876h2.4M262 878h2.4M262 899h2.4M262 908h2.4M262 927h2.4M262 932h2.4M262 963h2.4M262 973h2.4M262 1014h2.4M263 763h2.4M263 779h2.4M263 799h2.4M263 821h2.4M263 830h2.4M263 842h2.4M263 854h2.4M263 857h2.4M263 877h2.4M263 883h2.4M263 885h2.4M263 904h2.4M263 945h2.4M263 953h2.4M263 987h2.4M263 1003h2.4M264 696h2.4M264 821h2.4M264 828h2.4M264 863h2.4M264 880h2.4M264 890h2.4M264 905h2.4M264 921h2.4M264 937h2.4M264 946h2.4M264 955h2.4M264 969h2.4M264 1025h2.4M265 754h2.4M265 789h2.4M265 794h2.4M265 796h2.4M265 804h2.4M265 809h2.4M265 813h2.4M265 820h2.4M265 835h2.4M265 845h2.4M265 858h2.4M265 884h2.4M265 892h2.4M265 904h2.4M265 912h2.4M265 924h2.4M265 933h2.4M265 940h2.4M265 947h2.4M265 962h2.4M265 967h2.4M265 988h2.4M266 749h2.4M266 769h2.4M266 770h2.4M266 784h2.4M266 799h2.4M266 801h2.4M266 838h2.4M266 840h2.4M266 843h2.4M266 855h2.4M266 857h2.4M266 881h2.4M266 891h2.4M266 915h2.4M266 923h2.4M266 931h2.4M266 937h2.4M266 942h2.4M266 949h2.4M267 714h2.4M267 792h2.4M267 796h2.4M267 798h2.4M267 805h2.4M267 807h2.4M267 808h2.4M267 831h2.4M267 861h2.4M267 870h2.4M267 882h2.4M267 891h2.4M267 893h2.4M267 894h2.4M267 914h2.4M267 922h2.4M267 946h2.4M268 681h2.4M268 764h2.4M268 769h2.4M268 786h2.4M268 804h2.4M268 805h2.4M268 808h2.4M268 823h2.4M268 827h2.4M268 829h2.4M268 837h2.4M268 838h2.4M268 839h2.4M268 858h2.4M268 860h2.4M268 861h2.4M268 869h2.4M268 876h2.4M268 899h2.4M268 939h2.4M268 957h2.4M269 789h2.4M269 790h2.4M269 803h2.4M269 842h2.4M269 852h2.4M269 862h2.4M269 872h2.4M269 874h2.4M269 884h2.4M269 888h2.4M269 890h2.4M269 894h2.4M269 914h2.4M269 922h2.4M269 940h2.4M269 950h2.4M269 957h2.4M269 993h2.4M269 997h2.4M270 760h2.4M270 765h2.4M270 798h2.4M270 817h2.4M270 821h2.4M270 831h2.4M270 837h2.4M270 847h2.4M270 854h2.4M270 856h2.4M270 863h2.4M270 868h2.4M270 873h2.4M270 881h2.4M270 883h2.4M270 889h2.4M270 899h2.4M270 920h2.4M270 929h2.4M270 935h2.4M270 999h2.4M271 773h2.4M271 780h2.4M271 790h2.4M271 792h2.4M271 793h2.4M271 819h2.4M271 827h2.4M271 836h2.4M271 841h2.4M271 848h2.4M271 855h2.4M271 858h2.4M271 860h2.4M271 862h2.4M271 865h2.4M271 866h2.4M271 874h2.4M271 883h2.4M271 887h2.4M271 907h2.4M271 909h2.4M271 927h2.4M271 934h2.4M271 996h2.4M272 731h2.4M272 748h2.4M272 785h2.4M272 787h2.4M272 804h2.4M272 816h2.4M272 827h2.4M272 834h2.4M272 839h2.4M272 841h2.4M272 843h2.4M272 852h2.4M272 853h2.4M272 863h2.4M272 872h2.4M272 875h2.4M272 897h2.4M272 910h2.4M272 914h2.4M272 968h2.4M272 987h2.4M272 995h2.4M273 687h2.4M273 761h2.4M273 785h2.4M273 797h2.4M273 799h2.4M273 803h2.4M273 814h2.4M273 821h2.4M273 825h2.4M273 841h2.4M273 845h2.4M273 848h2.4M273 859h2.4M273 871h2.4M273 899h2.4M273 914h2.4M273 915h2.4M273 1014h2.4M273 1017h2.4M274 738h2.4M274 758h2.4M274 769h2.4M274 805h2.4M274 816h2.4M274 819h2.4M274 836h2.4M274 845h2.4M274 846h2.4M274 849h2.4M274 864h2.4M274 866h2.4M274 871h2.4M274 895h2.4M274 896h2.4M274 904h2.4M274 907h2.4M274 918h2.4M274 926h2.4M274 928h2.4M274 930h2.4M274 950h2.4M274 1005h2.4M275 688h2.4M275 785h2.4M275 792h2.4M275 800h2.4M275 807h2.4M275 810h2.4M275 829h2.4M275 834h2.4M275 838h2.4M275 854h2.4M275 870h2.4M275 884h2.4M275 896h2.4M275 911h2.4M275 931h2.4M275 949h2.4M275 1010h2.4M276 795h2.4M276 796h2.4M276 800h2.4M276 813h2.4M276 820h2.4M276 826h2.4M276 852h2.4M276 854h2.4M276 858h2.4M276 860h2.4M276 862h2.4M276 897h2.4M276 898h2.4M276 905h2.4M276 906h2.4M276 908h2.4M276 911h2.4M276 989h2.4M277 784h2.4M277 798h2.4M277 823h2.4M277 831h2.4M277 857h2.4M277 872h2.4M277 889h2.4M277 891h2.4M277 911h2.4M277 912h2.4M277 968h2.4M277 972h2.4M277 985h2.4M278 696h2.4M278 712h2.4M278 755h2.4M278 767h2.4M278 785h2.4M278 786h2.4M278 788h2.4M278 805h2.4M278 806h2.4M278 826h2.4M278 832h2.4M278 861h2.4M278 868h2.4M278 869h2.4M278 870h2.4M278 879h2.4M278 983h2.4M279 724h2.4M279 755h2.4M279 788h2.4M279 798h2.4M279 804h2.4M279 818h2.4M279 835h2.4M279 838h2.4M279 839h2.4M279 841h2.4M279 849h2.4M279 851h2.4M279 858h2.4M279 881h2.4M279 884h2.4M279 885h2.4M279 892h2.4M279 896h2.4M279 904h2.4M279 909h2.4M279 924h2.4M279 928h2.4M279 974h2.4M279 1018h2.4M280 716h2.4M280 757h2.4M280 760h2.4M280 780h2.4M280 783h2.4M280 793h2.4M280 798h2.4M280 806h2.4M280 818h2.4M280 824h2.4M280 835h2.4M280 862h2.4M280 880h2.4M280 891h2.4M280 893h2.4M280 902h2.4M280 923h2.4M280 948h2.4M280 951h2.4M280 962h2.4M280 971h2.4M280 989h2.4M280 1000h2.4M281 708h2.4M281 743h2.4M281 772h2.4M281 795h2.4M281 801h2.4M281 805h2.4M281 808h2.4M281 829h2.4M281 835h2.4M281 840h2.4M281 842h2.4M281 843h2.4M281 844h2.4M281 847h2.4M281 854h2.4M281 855h2.4M281 856h2.4M281 874h2.4M281 891h2.4M281 984h2.4M282 716h2.4M282 743h2.4M282 748h2.4M282 749h2.4M282 753h2.4M282 763h2.4M282 765h2.4M282 767h2.4M282 779h2.4M282 784h2.4M282 795h2.4M282 828h2.4M282 832h2.4M282 833h2.4M282 844h2.4M282 856h2.4M282 860h2.4M282 861h2.4M282 868h2.4M282 877h2.4M282 890h2.4M282 891h2.4M282 900h2.4M282 913h2.4M282 918h2.4M282 961h2.4M282 971h2.4M283 693h2.4M283 755h2.4M283 760h2.4M283 764h2.4M283 768h2.4M283 777h2.4M283 779h2.4M283 786h2.4M283 799h2.4M283 802h2.4M283 808h2.4M283 813h2.4M283 820h2.4M283 827h2.4M283 829h2.4M283 838h2.4M283 843h2.4M283 845h2.4M283 850h2.4M283 855h2.4M283 863h2.4M283 875h2.4M283 880h2.4M283 887h2.4M283 891h2.4M283 897h2.4M283 909h2.4M283 915h2.4M283 937h2.4M283 960h2.4M284 713h2.4M284 735h2.4M284 755h2.4M284 759h2.4M284 771h2.4M284 798h2.4M284 804h2.4M284 815h2.4M284 817h2.4M284 833h2.4M284 840h2.4M284 848h2.4M284 849h2.4M284 850h2.4M284 861h2.4M284 871h2.4M284 883h2.4M284 885h2.4M284 918h2.4M284 921h2.4M284 942h2.4M284 955h2.4M284 970h2.4M285 759h2.4M285 769h2.4M285 770h2.4M285 775h2.4M285 822h2.4M285 835h2.4M285 836h2.4M285 847h2.4M285 848h2.4M285 850h2.4M285 863h2.4M285 867h2.4M285 873h2.4M285 882h2.4M285 910h2.4M285 961h2.4M286 735h2.4M286 756h2.4M286 761h2.4M286 776h2.4M286 790h2.4M286 804h2.4M286 825h2.4M286 837h2.4M286 838h2.4M286 840h2.4M286 842h2.4M286 851h2.4M286 853h2.4M286 854h2.4M286 857h2.4M286 859h2.4M286 860h2.4M286 869h2.4M286 871h2.4M286 883h2.4M286 886h2.4M286 887h2.4M286 918h2.4M286 933h2.4M286 937h2.4M286 958h2.4M286 977h2.4M286 981h2.4M286 994h2.4M287 694h2.4M287 698h2.4M287 733h2.4M287 750h2.4M287 763h2.4M287 772h2.4M287 804h2.4M287 809h2.4M287 813h2.4M287 837h2.4M287 840h2.4M287 849h2.4M287 850h2.4M287 853h2.4M287 855h2.4M287 859h2.4M287 894h2.4M287 918h2.4M287 922h2.4M287 964h2.4M287 969h2.4M287 1020h2.4M288 679h2.4M288 727h2.4M288 748h2.4M288 757h2.4M288 770h2.4M288 773h2.4M288 780h2.4M288 790h2.4M288 793h2.4M288 814h2.4M288 816h2.4M288 829h2.4M288 838h2.4M288 852h2.4M288 853h2.4M288 857h2.4M288 867h2.4M288 869h2.4M288 872h2.4M288 873h2.4M288 879h2.4M288 883h2.4M288 884h2.4M288 889h2.4M288 891h2.4M288 900h2.4M288 904h2.4M288 915h2.4M288 967h2.4M288 991h2.4M289 714h2.4M289 746h2.4M289 754h2.4M289 772h2.4M289 788h2.4M289 794h2.4M289 813h2.4M289 818h2.4M289 821h2.4M289 828h2.4M289 838h2.4M289 847h2.4M289 855h2.4M289 859h2.4M289 869h2.4M289 888h2.4M289 889h2.4M289 917h2.4M289 918h2.4M289 955h2.4M289 1010h2.4M290 717h2.4M290 728h2.4M290 764h2.4M290 794h2.4M290 812h2.4M290 814h2.4M290 821h2.4M290 830h2.4M290 850h2.4M290 865h2.4M290 870h2.4M290 877h2.4M290 880h2.4M290 883h2.4M290 888h2.4M290 891h2.4M290 901h2.4M290 914h2.4M290 917h2.4M290 937h2.4M290 969h2.4M291 755h2.4M291 784h2.4M291 795h2.4M291 797h2.4M291 802h2.4M291 810h2.4M291 812h2.4M291 816h2.4M291 824h2.4M291 827h2.4M291 832h2.4M291 843h2.4M291 847h2.4M291 849h2.4M291 850h2.4M291 853h2.4M291 865h2.4M291 872h2.4M291 881h2.4M291 885h2.4M291 886h2.4M291 900h2.4M291 904h2.4M291 906h2.4M291 961h2.4M291 966h2.4M291 978h2.4M291 1014h2.4M292 735h2.4M292 748h2.4M292 751h2.4M292 797h2.4M292 800h2.4M292 801h2.4M292 802h2.4M292 826h2.4M292 829h2.4M292 835h2.4M292 836h2.4M292 849h2.4M292 850h2.4M292 864h2.4M292 882h2.4M292 888h2.4M292 902h2.4M292 906h2.4M292 911h2.4M292 915h2.4M292 927h2.4M292 938h2.4M292 947h2.4M292 976h2.4M293 753h2.4M293 774h2.4M293 777h2.4M293 789h2.4M293 806h2.4M293 809h2.4M293 811h2.4M293 823h2.4M293 825h2.4M293 830h2.4M293 831h2.4M293 846h2.4M293 872h2.4M293 884h2.4M293 885h2.4M293 891h2.4M293 898h2.4M293 915h2.4M293 928h2.4M293 1001h2.4M293 1023h2.4M294 761h2.4M294 769h2.4M294 779h2.4M294 788h2.4M294 793h2.4M294 811h2.4M294 815h2.4M294 818h2.4M294 819h2.4M294 824h2.4M294 833h2.4M294 836h2.4M294 858h2.4M294 865h2.4M294 866h2.4M294 869h2.4M294 873h2.4M294 892h2.4M294 898h2.4M294 903h2.4M294 909h2.4M294 976h2.4M295 676h2.4M295 684h2.4M295 716h2.4M295 731h2.4M295 759h2.4M295 785h2.4M295 789h2.4M295 805h2.4M295 808h2.4M295 825h2.4M295 833h2.4M295 853h2.4M295 863h2.4M295 880h2.4M295 888h2.4M295 894h2.4M295 897h2.4M295 937h2.4M295 944h2.4M296 731h2.4M296 783h2.4M296 787h2.4M296 817h2.4M296 833h2.4M296 859h2.4M296 860h2.4M296 871h2.4M296 876h2.4M296 877h2.4M296 881h2.4M296 885h2.4M296 895h2.4M296 914h2.4M296 923h2.4M296 928h2.4M296 945h2.4M296 1007h2.4M297 718h2.4M297 749h2.4M297 766h2.4M297 772h2.4M297 791h2.4M297 813h2.4M297 815h2.4M297 819h2.4M297 821h2.4M297 823h2.4M297 828h2.4M297 836h2.4M297 842h2.4M297 844h2.4M297 847h2.4M297 857h2.4M297 869h2.4M297 873h2.4M297 878h2.4M297 879h2.4M297 881h2.4M297 883h2.4M297 887h2.4M297 900h2.4M297 903h2.4M297 909h2.4M297 911h2.4M297 925h2.4M297 929h2.4M297 946h2.4M297 978h2.4M297 1016h2.4M298 746h2.4M298 758h2.4M298 782h2.4M298 789h2.4M298 820h2.4M298 821h2.4M298 839h2.4M298 849h2.4M298 853h2.4M298 865h2.4M298 866h2.4M298 872h2.4M298 873h2.4M298 875h2.4M298 884h2.4M298 891h2.4M298 909h2.4M298 912h2.4M298 940h2.4M298 949h2.4M298 960h2.4M298 979h2.4M299 716h2.4M299 746h2.4M299 748h2.4M299 775h2.4M299 791h2.4M299 792h2.4M299 800h2.4M299 814h2.4M299 823h2.4M299 827h2.4M299 829h2.4M299 835h2.4M299 838h2.4M299 842h2.4M299 866h2.4M299 873h2.4M299 881h2.4M299 898h2.4M299 902h2.4M299 909h2.4M299 920h2.4M299 931h2.4M299 971h2.4M299 998h2.4M299 1008h2.4M300 748h2.4M300 752h2.4M300 753h2.4M300 756h2.4M300 786h2.4M300 807h2.4M300 812h2.4M300 815h2.4M300 820h2.4M300 822h2.4M300 833h2.4M300 837h2.4M300 840h2.4M300 852h2.4M300 859h2.4M300 867h2.4M300 869h2.4M300 875h2.4M300 879h2.4M300 888h2.4M300 889h2.4M300 891h2.4M300 894h2.4M300 900h2.4M300 901h2.4M300 903h2.4M300 914h2.4M300 929h2.4M300 959h2.4M300 982h2.4M300 1022h2.4M301 776h2.4M301 780h2.4M301 783h2.4M301 802h2.4M301 810h2.4M301 812h2.4M301 814h2.4M301 815h2.4M301 833h2.4M301 835h2.4M301 843h2.4M301 854h2.4M301 861h2.4M301 867h2.4M301 871h2.4M301 888h2.4M301 904h2.4M301 905h2.4M301 914h2.4M301 917h2.4M301 925h2.4M301 963h2.4M302 698h2.4M302 727h2.4M302 757h2.4M302 770h2.4M302 777h2.4M302 789h2.4M302 802h2.4M302 808h2.4M302 810h2.4M302 812h2.4M302 817h2.4M302 825h2.4M302 835h2.4M302 838h2.4M302 845h2.4M302 847h2.4M302 850h2.4M302 859h2.4M302 865h2.4M302 910h2.4M302 911h2.4M302 922h2.4M302 937h2.4M302 960h2.4M302 975h2.4M302 994h2.4M302 999h2.4M303 750h2.4M303 801h2.4M303 804h2.4M303 807h2.4M303 811h2.4M303 824h2.4M303 826h2.4M303 831h2.4M303 838h2.4M303 864h2.4M303 869h2.4M303 876h2.4M303 885h2.4M303 891h2.4M303 895h2.4M303 896h2.4M303 897h2.4M303 914h2.4M303 917h2.4M303 922h2.4M303 929h2.4M303 934h2.4M303 952h2.4M303 970h2.4M303 1010h2.4M303 1012h2.4M304 773h2.4M304 777h2.4M304 782h2.4M304 784h2.4M304 797h2.4M304 798h2.4M304 800h2.4M304 819h2.4M304 838h2.4M304 841h2.4M304 854h2.4M304 857h2.4M304 862h2.4M304 865h2.4M304 867h2.4M304 868h2.4M304 881h2.4M304 888h2.4M304 896h2.4M304 902h2.4M304 903h2.4M304 915h2.4M304 918h2.4M304 938h2.4M304 976h2.4M304 982h2.4M304 997h2.4M305 721h2.4M305 755h2.4M305 765h2.4M305 784h2.4M305 787h2.4M305 795h2.4M305 797h2.4M305 801h2.4M305 804h2.4M305 805h2.4M305 807h2.4M305 815h2.4M305 816h2.4M305 817h2.4M305 820h2.4M305 822h2.4M305 827h2.4M305 836h2.4M305 844h2.4M305 846h2.4M305 851h2.4M305 856h2.4M305 859h2.4M305 870h2.4M305 872h2.4M305 875h2.4M305 881h2.4M305 889h2.4M305 890h2.4M305 926h2.4M305 932h2.4M305 936h2.4M305 949h2.4M305 959h2.4M305 967h2.4M305 975h2.4M306 748h2.4M306 775h2.4M306 776h2.4M306 787h2.4M306 791h2.4M306 792h2.4M306 814h2.4M306 817h2.4M306 818h2.4M306 823h2.4M306 826h2.4M306 834h2.4M306 837h2.4M306 845h2.4M306 847h2.4M306 848h2.4M306 849h2.4M306 850h2.4M306 851h2.4M306 853h2.4M306 855h2.4M306 856h2.4M306 863h2.4M306 872h2.4M306 881h2.4M306 882h2.4M306 885h2.4M306 894h2.4M306 898h2.4M306 900h2.4M306 907h2.4M306 915h2.4M306 935h2.4M306 961h2.4M307 747h2.4M307 748h2.4M307 767h2.4M307 804h2.4M307 808h2.4M307 814h2.4M307 836h2.4M307 846h2.4M307 851h2.4M307 860h2.4M307 862h2.4M307 867h2.4M307 870h2.4M307 872h2.4M307 885h2.4M307 893h2.4M307 897h2.4M307 904h2.4M307 908h2.4M307 912h2.4M307 923h2.4M307 924h2.4M307 927h2.4M307 931h2.4M307 952h2.4M307 976h2.4M308 705h2.4M308 710h2.4M308 712h2.4M308 733h2.4M308 744h2.4M308 749h2.4M308 760h2.4M308 762h2.4M308 767h2.4M308 777h2.4M308 792h2.4M308 799h2.4M308 804h2.4M308 805h2.4M308 816h2.4M308 827h2.4M308 838h2.4M308 842h2.4M308 850h2.4M308 853h2.4M308 861h2.4M308 867h2.4M308 877h2.4M308 900h2.4M308 902h2.4M308 907h2.4M308 919h2.4M308 922h2.4M308 924h2.4M308 960h2.4M309 755h2.4M309 774h2.4M309 778h2.4M309 779h2.4M309 783h2.4M309 792h2.4M309 800h2.4M309 801h2.4M309 804h2.4M309 807h2.4M309 808h2.4M309 825h2.4M309 828h2.4M309 830h2.4M309 832h2.4M309 837h2.4M309 847h2.4M309 854h2.4M309 859h2.4M309 869h2.4M309 870h2.4M309 872h2.4M309 903h2.4M309 908h2.4M309 913h2.4M309 914h2.4M309 916h2.4M309 968h2.4M309 983h2.4M309 1003h2.4M309 1006h2.4M310 689h2.4M310 718h2.4M310 772h2.4M310 776h2.4M310 781h2.4M310 785h2.4M310 822h2.4M310 829h2.4M310 836h2.4M310 839h2.4M310 843h2.4M310 854h2.4M310 862h2.4M310 885h2.4M310 886h2.4M310 891h2.4M310 893h2.4M310 903h2.4M310 917h2.4M310 940h2.4M310 959h2.4M311 753h2.4M311 757h2.4M311 770h2.4M311 771h2.4M311 779h2.4M311 788h2.4M311 795h2.4M311 812h2.4M311 815h2.4M311 819h2.4M311 821h2.4M311 822h2.4M311 823h2.4M311 829h2.4M311 831h2.4M311 836h2.4M311 838h2.4M311 839h2.4M311 846h2.4M311 850h2.4M311 860h2.4M311 875h2.4M311 891h2.4M311 901h2.4M311 906h2.4M311 916h2.4M311 926h2.4M311 930h2.4M311 961h2.4M311 970h2.4M311 971h2.4M312 692h2.4M312 707h2.4M312 730h2.4M312 746h2.4M312 761h2.4M312 768h2.4M312 769h2.4M312 771h2.4M312 785h2.4M312 791h2.4M312 793h2.4M312 802h2.4M312 804h2.4M312 807h2.4M312 813h2.4M312 814h2.4M312 823h2.4M312 825h2.4M312 827h2.4M312 831h2.4M312 846h2.4M312 847h2.4M312 849h2.4M312 861h2.4M312 866h2.4M312 872h2.4M312 880h2.4M312 895h2.4M312 896h2.4M312 903h2.4M312 911h2.4M312 917h2.4M312 953h2.4M313 732h2.4M313 739h2.4M313 780h2.4M313 791h2.4M313 801h2.4M313 808h2.4M313 819h2.4M313 821h2.4M313 833h2.4M313 840h2.4M313 848h2.4M313 850h2.4M313 860h2.4M313 873h2.4M313 886h2.4M313 888h2.4M313 894h2.4M313 905h2.4M313 912h2.4M313 928h2.4M314 763h2.4M314 771h2.4M314 774h2.4M314 785h2.4M314 791h2.4M314 811h2.4M314 823h2.4M314 825h2.4M314 838h2.4M314 847h2.4M314 854h2.4M314 863h2.4M314 871h2.4M314 873h2.4M314 876h2.4M314 879h2.4M314 885h2.4M314 894h2.4M314 897h2.4M314 898h2.4M314 901h2.4M314 908h2.4M314 915h2.4M314 920h2.4M314 925h2.4M314 934h2.4M314 955h2.4M314 995h2.4M314 1016h2.4M315 743h2.4M315 769h2.4M315 785h2.4M315 800h2.4M315 813h2.4M315 820h2.4M315 821h2.4M315 824h2.4M315 825h2.4M315 828h2.4M315 829h2.4M315 830h2.4M315 833h2.4M315 835h2.4M315 844h2.4M315 845h2.4M315 855h2.4M315 867h2.4M315 868h2.4M315 878h2.4M315 879h2.4M315 881h2.4M315 883h2.4M315 889h2.4M315 896h2.4M315 900h2.4M315 905h2.4M315 907h2.4M315 915h2.4M315 941h2.4M315 978h2.4M315 1006h2.4M315 1015h2.4M316 731h2.4M316 774h2.4M316 780h2.4M316 786h2.4M316 795h2.4M316 820h2.4M316 828h2.4M316 830h2.4M316 831h2.4M316 836h2.4M316 841h2.4M316 853h2.4M316 854h2.4M316 857h2.4M316 867h2.4M316 889h2.4M316 890h2.4M316 904h2.4M316 915h2.4M316 921h2.4M316 934h2.4M317 676h2.4M317 727h2.4M317 808h2.4M317 820h2.4M317 821h2.4M317 822h2.4M317 825h2.4M317 837h2.4M317 847h2.4M317 849h2.4M317 853h2.4M317 865h2.4M317 871h2.4M317 872h2.4M317 873h2.4M317 884h2.4M317 905h2.4M317 907h2.4M317 911h2.4M317 924h2.4M317 927h2.4M317 934h2.4M317 1000h2.4M318 732h2.4M318 762h2.4M318 774h2.4M318 780h2.4M318 790h2.4M318 799h2.4M318 801h2.4M318 803h2.4M318 806h2.4M318 808h2.4M318 809h2.4M318 822h2.4M318 836h2.4M318 841h2.4M318 850h2.4M318 851h2.4M318 860h2.4M318 862h2.4M318 863h2.4M318 866h2.4M318 868h2.4M318 877h2.4M318 878h2.4M318 887h2.4M318 890h2.4M318 893h2.4M318 894h2.4M318 904h2.4M318 912h2.4M318 931h2.4M318 979h2.4M318 983h2.4M319 773h2.4M319 780h2.4M319 809h2.4M319 810h2.4M319 818h2.4M319 837h2.4M319 840h2.4M319 853h2.4M319 859h2.4M319 863h2.4M319 864h2.4M319 869h2.4M319 872h2.4M319 888h2.4M319 893h2.4M319 897h2.4M319 914h2.4M319 917h2.4M319 938h2.4M319 973h2.4M319 986h2.4M319 1002h2.4M319 1005h2.4M319 1008h2.4M319 1024h2.4M320 760h2.4M320 794h2.4M320 798h2.4M320 815h2.4M320 818h2.4M320 836h2.4M320 841h2.4M320 842h2.4M320 856h2.4M320 859h2.4M320 865h2.4M320 869h2.4M320 873h2.4M320 878h2.4M320 882h2.4M320 885h2.4M320 893h2.4M320 897h2.4M320 906h2.4M320 918h2.4M320 928h2.4M320 929h2.4M320 953h2.4M320 977h2.4M320 983h2.4M321 690h2.4M321 742h2.4M321 757h2.4M321 796h2.4M321 817h2.4M321 825h2.4M321 827h2.4M321 832h2.4M321 835h2.4M321 849h2.4M321 856h2.4M321 857h2.4M321 859h2.4M321 862h2.4M321 869h2.4M321 879h2.4M321 881h2.4M321 889h2.4M321 897h2.4M321 902h2.4M321 906h2.4M321 913h2.4M321 920h2.4M321 921h2.4M321 978h2.4M321 1010h2.4M322 698h2.4M322 705h2.4M322 740h2.4M322 753h2.4M322 757h2.4M322 781h2.4M322 804h2.4M322 805h2.4M322 809h2.4M322 816h2.4M322 822h2.4M322 823h2.4M322 824h2.4M322 826h2.4M322 828h2.4M322 832h2.4M322 833h2.4M322 839h2.4M322 844h2.4M322 845h2.4M322 849h2.4M322 850h2.4M322 853h2.4M322 859h2.4M322 864h2.4M322 868h2.4M322 872h2.4M322 885h2.4M322 887h2.4M322 895h2.4M322 939h2.4M322 940h2.4M322 959h2.4M322 986h2.4M322 989h2.4M322 1005h2.4M322 1011h2.4M322 1014h2.4M323 703h2.4M323 716h2.4M323 761h2.4M323 784h2.4M323 791h2.4M323 819h2.4M323 831h2.4M323 838h2.4M323 841h2.4M323 842h2.4M323 845h2.4M323 846h2.4M323 849h2.4M323 854h2.4M323 859h2.4M323 861h2.4M323 869h2.4M323 870h2.4M323 871h2.4M323 873h2.4M323 891h2.4M323 897h2.4M323 899h2.4M323 902h2.4M323 907h2.4M323 926h2.4M323 936h2.4M323 939h2.4M323 946h2.4M323 950h2.4M323 967h2.4M324 670h2.4M324 702h2.4M324 705h2.4M324 737h2.4M324 761h2.4M324 765h2.4M324 792h2.4M324 804h2.4M324 807h2.4M324 813h2.4M324 817h2.4M324 823h2.4M324 827h2.4M324 835h2.4M324 840h2.4M324 842h2.4M324 851h2.4M324 855h2.4M324 857h2.4M324 865h2.4M324 873h2.4M324 876h2.4M324 878h2.4M324 883h2.4M324 886h2.4M324 898h2.4M324 905h2.4M324 907h2.4M324 912h2.4M324 916h2.4M324 917h2.4M324 918h2.4M324 922h2.4M324 935h2.4M324 946h2.4M324 947h2.4M324 955h2.4M324 1029h2.4M325 739h2.4M325 767h2.4M325 768h2.4M325 770h2.4M325 782h2.4M325 807h2.4M325 810h2.4M325 812h2.4M325 826h2.4M325 829h2.4M325 834h2.4M325 835h2.4M325 838h2.4M325 844h2.4M325 846h2.4M325 849h2.4M325 852h2.4M325 860h2.4M325 868h2.4M325 870h2.4M325 897h2.4M325 901h2.4M325 915h2.4M325 917h2.4M325 958h2.4M325 959h2.4M325 1000h2.4M326 718h2.4M326 736h2.4M326 748h2.4M326 759h2.4M326 762h2.4M326 767h2.4M326 775h2.4M326 776h2.4M326 779h2.4M326 795h2.4M326 796h2.4M326 806h2.4M326 814h2.4M326 817h2.4M326 827h2.4M326 830h2.4M326 831h2.4M326 836h2.4M326 839h2.4M326 840h2.4M326 846h2.4M326 876h2.4M326 878h2.4M326 900h2.4M326 910h2.4M326 914h2.4M326 933h2.4M326 943h2.4M326 945h2.4M326 960h2.4M326 998h2.4M326 1019h2.4M327 741h2.4M327 784h2.4M327 786h2.4M327 801h2.4M327 802h2.4M327 804h2.4M327 814h2.4M327 823h2.4M327 836h2.4M327 846h2.4M327 848h2.4M327 855h2.4M327 858h2.4M327 859h2.4M327 863h2.4M327 864h2.4M327 869h2.4M327 882h2.4M327 883h2.4M327 887h2.4M327 894h2.4M327 903h2.4M327 907h2.4M327 937h2.4M327 1001h2.4M328 674h2.4M328 718h2.4M328 765h2.4M328 771h2.4M328 776h2.4M328 779h2.4M328 781h2.4M328 794h2.4M328 808h2.4M328 819h2.4M328 823h2.4M328 835h2.4M328 841h2.4M328 846h2.4M328 850h2.4M328 853h2.4M328 879h2.4M328 880h2.4M328 883h2.4M328 885h2.4M328 892h2.4M328 893h2.4M328 901h2.4M328 902h2.4M328 915h2.4M328 919h2.4M328 939h2.4M328 982h2.4M328 984h2.4M328 997h2.4M329 721h2.4M329 753h2.4M329 785h2.4M329 816h2.4M329 819h2.4M329 821h2.4M329 828h2.4M329 829h2.4M329 835h2.4M329 841h2.4M329 845h2.4M329 858h2.4M329 862h2.4M329 868h2.4M329 869h2.4M329 874h2.4M329 886h2.4M329 889h2.4M329 892h2.4M329 893h2.4M329 898h2.4M329 914h2.4M329 920h2.4M329 927h2.4M329 933h2.4M329 940h2.4M329 970h2.4M329 994h2.4M329 998h2.4M330 717h2.4M330 743h2.4M330 795h2.4M330 812h2.4M330 816h2.4M330 823h2.4M330 827h2.4M330 830h2.4M330 831h2.4M330 838h2.4M330 844h2.4M330 845h2.4M330 846h2.4M330 859h2.4M330 881h2.4M330 906h2.4M330 910h2.4M330 936h2.4M330 975h2.4M331 675h2.4M331 683h2.4M331 687h2.4M331 702h2.4M331 704h2.4M331 745h2.4M331 759h2.4M331 764h2.4M331 780h2.4M331 787h2.4M331 795h2.4M331 818h2.4M331 832h2.4M331 842h2.4M331 845h2.4M331 847h2.4M331 848h2.4M331 852h2.4M331 853h2.4M331 866h2.4M331 889h2.4M331 890h2.4M331 905h2.4M331 906h2.4M331 907h2.4M331 934h2.4M331 935h2.4M331 943h2.4M331 955h2.4M331 971h2.4M331 1030h2.4M332 676h2.4M332 727h2.4M332 747h2.4M332 753h2.4M332 765h2.4M332 774h2.4M332 793h2.4M332 812h2.4M332 823h2.4M332 825h2.4M332 828h2.4M332 833h2.4M332 841h2.4M332 843h2.4M332 851h2.4M332 854h2.4M332 860h2.4M332 862h2.4M332 863h2.4M332 864h2.4M332 866h2.4M332 872h2.4M332 875h2.4M332 886h2.4M332 892h2.4M332 906h2.4M332 911h2.4M332 916h2.4M332 918h2.4M332 940h2.4M333 776h2.4M333 777h2.4M333 779h2.4M333 780h2.4M333 790h2.4M333 804h2.4M333 819h2.4M333 825h2.4M333 834h2.4M333 841h2.4M333 852h2.4M333 863h2.4M333 866h2.4M333 872h2.4M333 891h2.4M333 895h2.4M333 896h2.4M333 897h2.4M333 899h2.4M333 901h2.4M333 907h2.4M333 910h2.4M333 923h2.4M334 716h2.4M334 754h2.4M334 772h2.4M334 782h2.4M334 799h2.4M334 808h2.4M334 809h2.4M334 818h2.4M334 819h2.4M334 831h2.4M334 836h2.4M334 837h2.4M334 848h2.4M334 852h2.4M334 853h2.4M334 856h2.4M334 861h2.4M334 863h2.4M334 875h2.4M334 876h2.4M334 882h2.4M334 883h2.4M334 888h2.4M334 890h2.4M334 906h2.4M334 915h2.4M334 916h2.4M334 928h2.4M334 1019h2.4M335 701h2.4M335 721h2.4M335 781h2.4M335 793h2.4M335 800h2.4M335 811h2.4M335 828h2.4M335 829h2.4M335 835h2.4M335 836h2.4M335 841h2.4M335 845h2.4M335 853h2.4M335 856h2.4M335 861h2.4M335 890h2.4M335 903h2.4M335 918h2.4M335 970h2.4M335 997h2.4M335 1002h2.4M335 1010h2.4M336 680h2.4M336 695h2.4M336 712h2.4M336 725h2.4M336 729h2.4M336 750h2.4M336 759h2.4M336 784h2.4M336 792h2.4M336 804h2.4M336 805h2.4M336 812h2.4M336 827h2.4M336 828h2.4M336 834h2.4M336 855h2.4M336 864h2.4M336 886h2.4M336 891h2.4M336 900h2.4M336 909h2.4M336 916h2.4M336 918h2.4M336 994h2.4M337 708h2.4M337 748h2.4M337 764h2.4M337 776h2.4M337 790h2.4M337 807h2.4M337 808h2.4M337 817h2.4M337 823h2.4M337 832h2.4M337 841h2.4M337 843h2.4M337 845h2.4M337 847h2.4M337 850h2.4M337 851h2.4M337 863h2.4M337 865h2.4M337 866h2.4M337 869h2.4M337 870h2.4M337 873h2.4M337 881h2.4M337 883h2.4M337 887h2.4M337 894h2.4M337 895h2.4M337 902h2.4M337 909h2.4M337 915h2.4M337 947h2.4M337 1007h2.4M337 1012h2.4M338 774h2.4M338 778h2.4M338 780h2.4M338 810h2.4M338 815h2.4M338 821h2.4M338 839h2.4M338 857h2.4M338 861h2.4M338 864h2.4M338 877h2.4M338 879h2.4M338 888h2.4M338 903h2.4M338 912h2.4M338 921h2.4M338 951h2.4M338 985h2.4M338 993h2.4M338 996h2.4M338 1005h2.4M339 666h2.4M339 735h2.4M339 754h2.4M339 797h2.4M339 812h2.4M339 817h2.4M339 826h2.4M339 836h2.4M339 838h2.4M339 843h2.4M339 847h2.4M339 857h2.4M339 862h2.4M339 882h2.4M339 892h2.4M339 909h2.4M339 926h2.4M339 1019h2.4M340 710h2.4M340 731h2.4M340 752h2.4M340 754h2.4M340 762h2.4M340 772h2.4M340 775h2.4M340 776h2.4M340 781h2.4M340 798h2.4M340 809h2.4M340 838h2.4M340 845h2.4M340 848h2.4M340 852h2.4M340 861h2.4M340 872h2.4M340 873h2.4M340 875h2.4M340 899h2.4M340 905h2.4M340 917h2.4M340 922h2.4M340 923h2.4M340 931h2.4M340 956h2.4M340 1025h2.4M341 696h2.4M341 705h2.4M341 719h2.4M341 740h2.4M341 747h2.4M341 757h2.4M341 759h2.4M341 776h2.4M341 793h2.4M341 796h2.4M341 802h2.4M341 823h2.4M341 829h2.4M341 830h2.4M341 832h2.4M341 834h2.4M341 839h2.4M341 851h2.4M341 861h2.4M341 867h2.4M341 881h2.4M341 915h2.4M341 937h2.4M341 940h2.4M341 952h2.4M341 953h2.4M341 985h2.4M341 987h2.4M342 774h2.4M342 815h2.4M342 828h2.4M342 837h2.4M342 839h2.4M342 847h2.4M342 857h2.4M342 862h2.4M342 864h2.4M342 875h2.4M342 914h2.4M342 920h2.4M342 971h2.4M342 1028h2.4M343 719h2.4M343 769h2.4M343 779h2.4M343 789h2.4M343 796h2.4M343 799h2.4M343 803h2.4M343 812h2.4M343 828h2.4M343 838h2.4M343 842h2.4M343 849h2.4M343 870h2.4M343 874h2.4M343 881h2.4M343 891h2.4M343 895h2.4M343 901h2.4M343 909h2.4M343 916h2.4M343 941h2.4M344 683h2.4M344 743h2.4M344 747h2.4M344 753h2.4M344 760h2.4M344 772h2.4M344 784h2.4M344 795h2.4M344 806h2.4M344 813h2.4M344 816h2.4M344 819h2.4M344 825h2.4M344 843h2.4M344 846h2.4M344 851h2.4M344 861h2.4M344 876h2.4M344 881h2.4M344 887h2.4M344 899h2.4M344 909h2.4M344 927h2.4M344 946h2.4M344 957h2.4M344 967h2.4M345 722h2.4M345 757h2.4M345 760h2.4M345 817h2.4M345 818h2.4M345 840h2.4M345 847h2.4M345 890h2.4M345 892h2.4M345 912h2.4M345 915h2.4M345 921h2.4M346 742h2.4M346 755h2.4M346 788h2.4M346 790h2.4M346 803h2.4M346 811h2.4M346 844h2.4M346 857h2.4M346 868h2.4M346 873h2.4M346 929h2.4M346 965h2.4M347 762h2.4M347 780h2.4M347 789h2.4M347 796h2.4M347 797h2.4M347 822h2.4M347 834h2.4M347 864h2.4M347 888h2.4M347 894h2.4M347 914h2.4M347 919h2.4M347 920h2.4M347 1005h2.4M348 711h2.4M348 754h2.4M348 767h2.4M348 783h2.4M348 787h2.4M348 806h2.4M348 811h2.4M348 828h2.4M348 854h2.4M348 870h2.4M348 909h2.4M348 911h2.4M348 920h2.4M348 941h2.4M348 1016h2.4M349 742h2.4M349 758h2.4M349 777h2.4M349 782h2.4M349 784h2.4M349 786h2.4M349 796h2.4M349 811h2.4M349 831h2.4M349 846h2.4M349 876h2.4M349 881h2.4M349 888h2.4M349 889h2.4M349 900h2.4M349 924h2.4M349 928h2.4M349 930h2.4M349 1001h2.4M349 1027h2.4M350 771h2.4M350 775h2.4M350 783h2.4M350 790h2.4M350 798h2.4M350 799h2.4M350 804h2.4M350 811h2.4M350 821h2.4M350 839h2.4M350 841h2.4M350 845h2.4M350 852h2.4M350 880h2.4M350 891h2.4M350 908h2.4M350 925h2.4M350 943h2.4M350 946h2.4M351 686h2.4M351 767h2.4M351 802h2.4M351 805h2.4M351 810h2.4M351 811h2.4M351 827h2.4M351 833h2.4M351 839h2.4M351 840h2.4M351 843h2.4M351 855h2.4M351 857h2.4M351 865h2.4M351 876h2.4M351 879h2.4M351 882h2.4M351 891h2.4M351 900h2.4M351 907h2.4M351 926h2.4M351 974h2.4M351 980h2.4M351 1024h2.4M351 1028h2.4M352 716h2.4M352 767h2.4M352 788h2.4M352 794h2.4M352 826h2.4M352 845h2.4M352 848h2.4M352 851h2.4M352 856h2.4M352 862h2.4M352 865h2.4M352 875h2.4M352 886h2.4M352 888h2.4M352 968h2.4M353 713h2.4M353 776h2.4M353 804h2.4M353 817h2.4M353 830h2.4M353 843h2.4M353 847h2.4M353 853h2.4M353 862h2.4M353 868h2.4M353 874h2.4M353 880h2.4M353 915h2.4M354 743h2.4M354 793h2.4M354 810h2.4M354 825h2.4M354 829h2.4M354 843h2.4M354 846h2.4M354 847h2.4M354 867h2.4M354 879h2.4M354 897h2.4M354 901h2.4M354 906h2.4M354 935h2.4M354 949h2.4M354 1003h2.4M355 711h2.4M355 792h2.4M355 799h2.4M355 808h2.4M355 815h2.4M355 819h2.4M355 841h2.4M355 843h2.4M355 847h2.4M355 849h2.4M355 864h2.4M355 883h2.4M355 884h2.4M355 910h2.4M355 911h2.4M355 915h2.4M355 924h2.4M355 929h2.4M355 939h2.4M355 942h2.4M355 948h2.4M355 956h2.4M356 692h2.4M356 723h2.4M356 751h2.4M356 771h2.4M356 783h2.4M356 790h2.4M356 818h2.4M356 850h2.4M356 857h2.4M356 861h2.4M356 862h2.4M356 864h2.4M356 865h2.4M356 869h2.4M356 870h2.4M356 875h2.4M356 891h2.4M356 898h2.4M356 904h2.4M356 922h2.4M356 939h2.4M357 706h2.4M357 773h2.4M357 788h2.4M357 791h2.4M357 798h2.4M357 801h2.4M357 805h2.4M357 816h2.4M357 818h2.4M357 821h2.4M357 823h2.4M357 825h2.4M357 853h2.4M357 861h2.4M357 866h2.4M357 875h2.4M357 888h2.4M357 890h2.4M357 894h2.4M357 904h2.4M357 905h2.4M357 914h2.4M358 685h2.4M358 737h2.4M358 765h2.4M358 781h2.4M358 801h2.4M358 816h2.4M358 831h2.4M358 836h2.4M358 858h2.4M358 859h2.4M358 862h2.4M358 873h2.4M358 914h2.4M358 933h2.4M358 964h2.4M359 728h2.4M359 734h2.4M359 791h2.4M359 810h2.4M359 811h2.4M359 812h2.4M359 843h2.4M359 850h2.4M359 861h2.4M359 869h2.4M359 875h2.4M359 887h2.4M359 1024h2.4M360 755h2.4M360 779h2.4M360 788h2.4M360 816h2.4M360 818h2.4M360 831h2.4M360 880h2.4M360 896h2.4M360 899h2.4M360 939h2.4M360 949h2.4M360 961h2.4M360 964h2.4M360 968h2.4M361 695h2.4M361 720h2.4M361 739h2.4M361 750h2.4M361 806h2.4M361 807h2.4M361 824h2.4M361 855h2.4M361 861h2.4M361 862h2.4M361 864h2.4M361 878h2.4M361 879h2.4M361 884h2.4M361 910h2.4M361 943h2.4M361 951h2.4M361 991h2.4M362 735h2.4M362 753h2.4M362 805h2.4M362 820h2.4M362 829h2.4M362 835h2.4M362 847h2.4M362 849h2.4M362 859h2.4M362 865h2.4M362 866h2.4M362 877h2.4M362 882h2.4M362 892h2.4M362 930h2.4M362 951h2.4M362 965h2.4M363 766h2.4M363 781h2.4M363 810h2.4M363 822h2.4M363 840h2.4M363 841h2.4M363 869h2.4M363 870h2.4M363 893h2.4M363 894h2.4M363 977h2.4M363 993h2.4M363 1009h2.4M364 766h2.4M364 788h2.4M364 848h2.4M364 859h2.4M364 861h2.4M364 872h2.4M364 873h2.4M364 896h2.4M364 917h2.4M364 941h2.4M364 962h2.4M364 996h2.4M364 997h2.4M364 1012h2.4M365 706h2.4M365 741h2.4M365 780h2.4M365 788h2.4M365 813h2.4M365 824h2.4M365 837h2.4M365 867h2.4M365 874h2.4M365 891h2.4M365 895h2.4M365 900h2.4M365 901h2.4M365 911h2.4M365 948h2.4M366 715h2.4M366 771h2.4M366 786h2.4M366 804h2.4M366 817h2.4M366 837h2.4M366 842h2.4M366 846h2.4M366 858h2.4M366 859h2.4M366 881h2.4M366 889h2.4M366 904h2.4M366 947h2.4M366 957h2.4M367 680h2.4M367 710h2.4M367 762h2.4M367 776h2.4M367 780h2.4M367 804h2.4M367 812h2.4M367 825h2.4M367 839h2.4M367 846h2.4M367 850h2.4M367 857h2.4M367 858h2.4M367 873h2.4M367 895h2.4M367 899h2.4M367 900h2.4M367 910h2.4M367 916h2.4M367 943h2.4M367 949h2.4M367 1006h2.4M368 745h2.4M368 747h2.4M368 748h2.4M368 761h2.4M368 764h2.4M368 793h2.4M368 799h2.4M368 817h2.4M368 834h2.4M368 856h2.4M368 902h2.4M368 909h2.4M368 919h2.4M368 927h2.4M368 934h2.4M368 943h2.4M368 961h2.4M369 765h2.4M369 775h2.4M369 777h2.4M369 796h2.4M369 804h2.4M369 808h2.4M369 835h2.4M369 853h2.4M369 857h2.4M369 870h2.4M369 892h2.4M370 772h2.4M370 815h2.4M370 817h2.4M370 827h2.4M370 847h2.4M370 869h2.4M370 972h2.4M371 773h2.4M371 794h2.4M371 829h2.4M371 831h2.4M371 846h2.4M371 873h2.4M371 924h2.4M371 949h2.4M371 984h2.4M372 706h2.4M372 761h2.4M372 779h2.4M372 794h2.4M372 801h2.4M372 842h2.4M372 844h2.4M372 846h2.4M372 862h2.4M372 885h2.4M372 889h2.4M372 895h2.4M372 900h2.4M372 923h2.4M373 760h2.4M373 802h2.4M373 804h2.4M373 819h2.4M373 831h2.4M373 842h2.4M373 874h2.4M373 927h2.4M373 983h2.4M373 993h2.4M374 691h2.4M374 734h2.4M374 782h2.4M374 805h2.4M374 815h2.4M374 822h2.4M374 832h2.4M374 844h2.4M374 869h2.4M375 712h2.4M375 738h2.4M375 789h2.4M375 811h2.4M375 831h2.4M375 866h2.4M375 886h2.4M375 928h2.4M375 931h2.4M376 863h2.4M376 879h2.4M376 880h2.4M376 907h2.4M376 925h2.4M377 746h2.4M377 757h2.4M377 779h2.4M377 821h2.4M377 876h2.4M377 881h2.4M377 947h2.4M377 957h2.4M378 735h2.4M378 775h2.4M378 806h2.4M378 817h2.4M378 822h2.4M378 840h2.4M378 852h2.4M378 866h2.4M378 898h2.4M378 937h2.4M379 698h2.4M379 723h2.4M379 773h2.4M379 785h2.4M379 796h2.4M379 821h2.4M379 905h2.4M380 693h2.4M380 821h2.4M380 843h2.4M380 880h2.4M380 927h2.4M380 988h2.4M381 674h2.4M381 718h2.4M381 815h2.4M381 843h2.4M381 871h2.4M381 895h2.4M381 981h2.4M382 742h2.4M382 757h2.4M382 762h2.4M382 790h2.4M382 802h2.4M382 825h2.4M382 834h2.4M382 844h2.4M382 909h2.4M382 938h2.4M383 746h2.4M383 833h2.4M383 835h2.4M383 840h2.4M383 854h2.4M383 892h2.4M383 903h2.4M383 912h2.4M383 1005h2.4M384 786h2.4M384 828h2.4M384 874h2.4M384 895h2.4M384 976h2.4M385 739h2.4M385 782h2.4M385 796h2.4M385 818h2.4M385 845h2.4M385 856h2.4M385 868h2.4M385 916h2.4M385 931h2.4M385 957h2.4M385 960h2.4M385 997h2.4M386 702h2.4M386 766h2.4M386 784h2.4M386 793h2.4M386 807h2.4M386 825h2.4M386 846h2.4M386 856h2.4M386 908h2.4M386 917h2.4M386 932h2.4M387 683h2.4M387 754h2.4M387 811h2.4M387 832h2.4M387 873h2.4M387 877h2.4M387 885h2.4M387 897h2.4M388 743h2.4M388 752h2.4M388 761h2.4M388 765h2.4M388 844h2.4M388 882h2.4M388 896h2.4M389 713h2.4M389 746h2.4M389 769h2.4M389 797h2.4M389 798h2.4M389 832h2.4M389 876h2.4M389 879h2.4M390 810h2.4M390 867h2.4M390 905h2.4M390 953h2.4M391 727h2.4M391 752h2.4M391 791h2.4M391 796h2.4M391 797h2.4M391 814h2.4M391 827h2.4M391 835h2.4M391 838h2.4M391 865h2.4M391 911h2.4M392 791h2.4M392 837h2.4M392 870h2.4M392 943h2.4M393 753h2.4M393 772h2.4M394 779h2.4M394 801h2.4M394 832h2.4M394 902h2.4M395 715h2.4M395 782h2.4M395 810h2.4M395 957h2.4M396 764h2.4M396 924h2.4M396 942h2.4M397 764h2.4M397 853h2.4M397 861h2.4M397 872h2.4M397 905h2.4M398 707h2.4M398 756h2.4M398 777h2.4M398 858h2.4M398 881h2.4M398 936h2.4M399 820h2.4M399 832h2.4M399 852h2.4M399 936h2.4M400 689h2.4M400 825h2.4M400 830h2.4M400 898h2.4M401 799h2.4M401 800h2.4M401 886h2.4M401 899h2.4M401 933h2.4M401 957h2.4M402 703h2.4M402 706h2.4M402 724h2.4M402 853h2.4M402 902h2.4M402 905h2.4M402 906h2.4M402 954h2.4M403 863h2.4M404 833h2.4M404 875h2.4M404 923h2.4M404 961h2.4M405 765h2.4M405 878h2.4M405 899h2.4M406 711h2.4M406 803h2.4M406 839h2.4M406 866h2.4M406 872h2.4M406 909h2.4M407 766h2.4M407 776h2.4M407 1015h2.4M408 684h2.4M408 773h2.4M408 802h2.4M408 809h2.4M408 851h2.4M409 784h2.4M409 801h2.4M410 777h2.4M410 810h2.4M410 841h2.4M411 881h2.4M411 885h2.4M411 966h2.4M412 787h2.4M412 864h2.4M412 979h2.4M412 996h2.4M413 725h2.4M413 743h2.4M413 773h2.4M413 796h2.4M413 807h2.4M413 821h2.4M413 855h2.4M413 877h2.4M413 928h2.4M413 959h2.4M415 931h2.4M416 912h2.4M416 928h2.4M417 725h2.4M417 737h2.4M417 844h2.4M417 914h2.4M418 787h2.4M418 801h2.4M418 867h2.4M418 888h2.4M418 1002h2.4M419 769h2.4M419 775h2.4M419 780h2.4M419 883h2.4M421 913h2.4M421 930h2.4M422 756h2.4M422 846h2.4M422 906h2.4M422 925h2.4M422 1000h2.4M423 728h2.4M423 796h2.4M423 834h2.4M423 836h2.4M423 838h2.4M423 960h2.4M424 734h2.4M424 903h2.4M424 922h2.4M425 813h2.4M425 831h2.4M425 884h2.4M425 925h2.4M426 811h2.4M426 890h2.4M427 778h2.4M427 803h2.4M427 829h2.4M427 892h2.4M427 921h2.4M428 774h2.4M428 813h2.4M428 922h2.4M428 1024h2.4M429 779h2.4M429 859h2.4M429 977h2.4M430 686h2.4M430 702h2.4M431 685h2.4M431 771h2.4M431 811h2.4M431 824h2.4M431 971h2.4M432 805h2.4M432 902h2.4M433 690h2.4M433 915h2.4M434 823h2.4M434 837h2.4M434 888h2.4M434 932h2.4M437 860h2.4M438 937h2.4M439 839h2.4M440 703h2.4M440 731h2.4M440 755h2.4M441 759h2.4M441 928h2.4M441 932h2.4M442 732h2.4M442 767h2.4M442 940h2.4M443 688h2.4M443 717h2.4M443 797h2.4M443 921h2.4M443 923h2.4M444 825h2.4M445 886h2.4M446 779h2.4M446 780h2.4M446 895h2.4M446 906h2.4M446 987h2.4M448 778h2.4M448 791h2.4M449 952h2.4M451 922h2.4M451 923h2.4M451 1029h2.4M452 707h2.4M452 987h2.4M453 678h2.4M453 884h2.4M456 820h2.4M457 790h2.4M457 865h2.4M457 875h2.4M457 923h2.4M458 919h2.4M462 1002h2.4M463 970h2.4M464 936h2.4M464 956h2.4M466 899h2.4M467 684h2.4M467 858h2.4M468 722h2.4M468 898h2.4M469 744h2.4M469 767h2.4M469 890h2.4M473 906h2.4M474 687h2.4M474 857h2.4M475 811h2.4M475 864h2.4M475 950h2.4M475 1021h2.4M476 671h2.4M476 808h2.4M476 841h2.4M476 1027h2.4M477 856h2.4M478 828h2.4M478 879h2.4M478 925h2.4M480 1022h2.4M481 743h2.4M482 833h2.4M482 1002h2.4M484 791h2.4M484 807h2.4M485 693h2.4M486 991h2.4M487 812h2.4M489 1024h2.4M491 883h2.4M494 828h2.4M498 929h2.4M500 786h2.4M501 813h2.4" stroke="#000" stroke-width="2.4" fill="none" transform="translate(-0.2 0)"/>
<path d="M597 818h2M597 851h2M597 878h2M597 902h2M598 827h2M598 884h2M599 795h2M599 805h2M599 812h2M599 827h2M600 748h2M600 795h2M601 783h2M601 810h2M601 839h2M601 883h2M601 950h2M602 770h2M602 823h2M602 870h2M602 901h2M602 913h2M603 757h2M603 770h2M603 858h2M603 863h2M603 873h2M603 875h2M604 696h2M604 713h2M604 720h2M604 738h2M604 740h2M604 819h2M604 861h2M604 866h2M604 869h2M604 892h2M604 899h2M605 764h2M605 853h2M605 894h2M606 755h2M606 784h2M606 828h2M606 866h2M606 914h2M607 781h2M607 818h2M608 716h2M608 770h2M608 823h2M608 874h2M608 880h2M609 763h2M609 805h2M609 812h2M609 831h2M609 854h2M609 863h2M610 781h2M610 793h2M610 820h2M610 827h2M610 900h2M610 931h2M611 811h2M611 826h2M611 873h2M611 903h2M612 858h2M612 869h2M613 744h2M613 791h2M613 802h2M613 818h2M613 833h2M613 838h2M613 843h2M613 861h2M613 869h2M613 917h2M613 920h2M614 798h2M614 824h2M614 828h2M614 830h2M614 854h2M614 862h2M614 866h2M614 868h2M614 886h2M614 899h2M615 756h2M615 786h2M615 791h2M615 818h2M615 832h2M615 854h2M615 892h2M616 745h2M616 770h2M616 806h2M616 825h2M616 847h2M616 864h2M616 881h2M616 905h2M616 938h2M617 803h2M617 810h2M617 837h2M617 939h2M618 775h2M618 795h2M618 809h2M618 824h2M618 838h2M618 848h2M618 868h2M619 867h2M619 872h2M619 877h2M619 932h2M620 731h2M620 734h2M620 830h2M620 837h2M620 881h2M620 900h2M621 850h2M621 873h2M621 913h2M622 760h2M622 785h2M622 798h2M622 818h2M622 831h2M622 844h2M622 853h2M623 752h2M623 766h2M623 789h2M623 841h2M623 850h2M623 873h2M623 907h2M623 926h2M624 785h2M624 794h2M624 803h2M624 810h2M624 819h2M624 830h2M624 861h2M624 887h2M624 933h2M625 753h2M625 831h2M625 835h2M625 855h2M625 858h2M625 864h2M625 882h2M626 704h2M626 756h2M626 813h2M626 831h2M627 852h2M627 853h2M627 870h2M627 872h2M627 889h2M627 909h2M628 754h2M628 790h2M628 826h2M628 907h2M629 738h2M629 757h2M629 820h2M629 831h2M629 836h2M629 865h2M629 868h2M629 906h2M630 885h2M631 767h2M631 798h2M631 806h2M631 810h2M631 827h2M631 869h2M631 877h2M631 942h2M631 948h2M632 773h2M632 774h2M632 806h2M632 808h2M632 809h2M632 829h2M632 838h2M632 839h2M632 854h2M632 855h2M632 858h2M633 835h2M633 872h2M633 894h2M633 914h2M634 709h2M634 748h2M634 752h2M634 766h2M634 791h2M634 817h2M634 828h2M634 834h2M634 844h2M634 902h2M634 914h2M635 758h2M635 798h2M635 810h2M635 811h2M635 854h2M635 863h2M635 878h2M635 903h2M636 769h2M636 779h2M636 789h2M636 812h2M636 815h2M636 837h2M636 846h2M636 857h2M636 867h2M636 870h2M636 871h2M636 885h2M636 889h2M637 828h2M637 842h2M637 848h2M637 867h2M637 885h2M637 892h2M637 900h2M638 793h2M638 796h2M638 815h2M638 832h2M638 846h2M638 870h2M638 934h2M639 717h2M639 808h2M639 827h2M639 829h2M639 832h2M639 843h2M639 882h2M639 900h2M640 754h2M640 755h2M640 810h2M640 833h2M640 841h2M640 869h2M640 877h2M640 879h2M640 882h2M640 885h2M640 889h2M640 922h2M641 811h2M641 814h2M641 838h2M641 848h2M641 853h2M641 871h2M641 877h2M641 897h2M641 901h2M642 757h2M642 789h2M642 794h2M642 819h2M642 825h2M642 867h2M643 720h2M643 758h2M643 807h2M643 810h2M643 845h2M643 846h2M643 847h2M643 874h2M643 915h2M644 770h2M644 777h2M644 803h2M644 826h2M644 830h2M644 835h2M644 860h2M644 867h2M644 872h2M644 910h2M644 933h2M645 806h2M645 807h2M645 811h2M645 827h2M645 845h2M645 870h2M645 872h2M645 876h2M645 884h2M645 889h2M645 891h2M645 892h2M645 900h2M646 781h2M646 795h2M646 842h2M646 847h2M646 854h2M646 856h2M646 893h2M646 946h2M647 798h2M647 829h2M647 847h2M647 848h2M647 850h2M647 859h2M647 882h2M648 748h2M648 756h2M648 786h2M648 809h2M648 829h2M648 837h2M648 862h2M648 891h2M649 799h2M649 803h2M649 833h2M649 869h2M649 876h2M649 881h2M649 884h2M649 886h2M649 903h2M650 744h2M650 808h2M650 830h2M650 832h2M650 833h2M650 851h2M650 865h2M650 876h2M650 883h2M650 913h2M650 916h2M650 918h2M651 733h2M651 819h2M651 832h2M651 851h2M651 854h2M651 861h2M651 864h2M651 873h2M651 882h2M651 891h2M651 901h2M652 754h2M652 778h2M652 782h2M652 803h2M652 813h2M652 817h2M652 824h2M652 829h2M652 844h2M652 849h2M652 851h2M652 859h2M652 872h2M652 892h2M653 793h2M653 814h2M653 844h2M653 853h2M653 879h2M653 881h2M654 818h2M654 825h2M654 826h2M654 836h2M654 839h2M654 844h2M654 846h2M654 848h2M654 854h2M654 865h2M654 880h2M654 881h2M654 898h2M654 910h2M654 913h2M654 918h2M655 759h2M655 769h2M655 785h2M655 811h2M655 813h2M655 818h2M655 819h2M655 836h2M655 844h2M655 858h2M655 867h2M656 684h2M656 793h2M656 800h2M656 812h2M656 815h2M656 823h2M656 826h2M656 828h2M656 831h2M656 844h2M656 846h2M656 857h2M656 860h2M656 861h2M656 863h2M656 869h2M656 882h2M656 908h2M656 940h2M657 779h2M657 795h2M657 820h2M657 824h2M657 825h2M657 831h2M657 835h2M657 837h2M657 844h2M657 849h2M657 850h2M657 857h2M657 858h2M657 859h2M657 881h2M657 882h2M658 703h2M658 803h2M658 807h2M658 826h2M658 837h2M658 840h2M658 851h2M658 863h2M658 896h2M658 909h2M659 714h2M659 722h2M659 772h2M659 781h2M659 791h2M659 793h2M659 809h2M659 823h2M659 827h2M659 831h2M659 838h2M659 861h2M659 867h2M659 889h2M659 894h2M659 911h2M660 719h2M660 762h2M660 769h2M660 810h2M660 822h2M660 827h2M660 834h2M660 839h2M660 853h2M660 864h2M660 903h2M661 765h2M661 806h2M661 816h2M661 820h2M661 844h2M661 852h2M661 854h2M661 855h2M661 876h2M661 878h2M661 893h2M661 930h2M662 760h2M662 816h2M662 824h2M662 826h2M662 827h2M662 828h2M662 829h2M662 833h2M662 849h2M662 850h2M662 868h2M662 887h2M662 889h2M662 907h2M663 761h2M663 788h2M663 790h2M663 808h2M663 812h2M663 813h2M663 830h2M663 831h2M663 834h2M663 842h2M663 847h2M663 860h2M663 876h2M663 879h2M663 924h2M664 727h2M664 771h2M664 792h2M664 795h2M664 800h2M664 810h2M664 811h2M664 838h2M664 840h2M664 842h2M664 853h2M664 854h2M664 857h2M664 864h2M664 868h2M664 874h2M664 887h2M664 892h2M664 897h2M664 915h2M665 812h2M665 820h2M665 824h2M665 846h2M665 854h2M665 870h2M665 881h2M665 901h2M666 773h2M666 789h2M666 805h2M666 816h2M666 821h2M666 823h2M666 834h2M666 837h2M666 838h2M666 839h2M666 843h2M666 850h2M666 860h2M666 863h2M666 865h2M666 866h2M666 882h2M666 885h2M666 911h2M667 790h2M667 798h2M667 799h2M667 810h2M667 811h2M667 813h2M667 833h2M667 836h2M667 840h2M667 846h2M667 856h2M667 859h2M667 860h2M667 872h2M667 886h2M667 919h2M668 761h2M668 782h2M668 817h2M668 818h2M668 821h2M668 828h2M668 834h2M668 852h2M668 859h2M668 864h2M668 867h2M668 876h2M668 878h2M668 879h2M668 881h2M668 882h2M668 891h2M668 893h2M669 775h2M669 790h2M669 815h2M669 816h2M669 825h2M669 832h2M669 838h2M669 840h2M669 842h2M669 857h2M669 862h2M669 864h2M669 878h2M669 879h2M669 885h2M669 889h2M669 921h2M670 782h2M670 789h2M670 826h2M670 836h2M670 837h2M670 839h2M670 841h2M670 854h2M670 863h2M670 884h2M671 762h2M671 764h2M671 786h2M671 804h2M671 810h2M671 811h2M671 814h2M671 817h2M671 820h2M671 828h2M671 847h2M671 850h2M671 860h2M671 869h2M671 870h2M671 871h2M671 879h2M671 881h2M671 885h2M671 886h2M671 908h2M671 911h2M671 934h2M672 789h2M672 801h2M672 805h2M672 809h2M672 817h2M672 831h2M672 832h2M672 833h2M672 838h2M672 876h2M672 877h2M672 887h2M672 891h2M672 898h2M672 900h2M673 765h2M673 790h2M673 814h2M673 827h2M673 831h2M673 839h2M673 863h2M673 870h2M673 874h2M673 880h2M673 882h2M673 900h2M673 903h2M674 730h2M674 752h2M674 805h2M674 811h2M674 818h2M674 839h2M674 842h2M674 843h2M674 872h2M674 891h2M674 902h2M675 760h2M675 770h2M675 777h2M675 804h2M675 813h2M675 814h2M675 815h2M675 818h2M675 838h2M675 844h2M675 850h2M675 851h2M675 853h2M675 856h2M675 860h2M675 868h2M675 880h2M675 891h2M675 906h2M676 763h2M676 784h2M676 792h2M676 807h2M676 823h2M676 825h2M676 827h2M676 832h2M676 834h2M676 835h2M676 839h2M676 841h2M676 844h2M676 856h2M676 858h2M676 869h2M676 870h2M676 871h2M676 892h2M676 897h2M676 912h2M676 930h2M677 785h2M677 794h2M677 796h2M677 808h2M677 817h2M677 822h2M677 823h2M677 829h2M677 832h2M677 837h2M677 839h2M677 841h2M677 848h2M677 851h2M677 855h2M677 856h2M677 862h2M677 872h2M677 883h2M677 888h2M677 895h2M677 910h2M677 913h2M678 768h2M678 778h2M678 785h2M678 796h2M678 818h2M678 829h2M678 837h2M678 841h2M678 843h2M678 854h2M678 860h2M678 865h2M678 891h2M678 896h2M678 902h2M678 927h2M679 706h2M679 801h2M679 803h2M679 816h2M679 817h2M679 820h2M679 823h2M679 828h2M679 833h2M679 837h2M679 840h2M679 843h2M679 844h2M679 854h2M679 859h2M679 860h2M679 862h2M679 864h2M679 873h2M679 877h2M679 880h2M679 898h2M679 905h2M680 777h2M680 792h2M680 819h2M680 820h2M680 827h2M680 837h2M680 841h2M680 843h2M680 862h2M680 865h2M680 869h2M680 871h2M680 874h2M680 890h2M680 896h2M680 906h2M680 972h2M681 747h2M681 808h2M681 835h2M681 836h2M681 838h2M681 839h2M681 843h2M681 844h2M681 849h2M681 851h2M681 854h2M681 858h2M681 862h2M681 872h2M681 884h2M681 886h2M682 782h2M682 792h2M682 796h2M682 801h2M682 824h2M682 830h2M682 836h2M682 840h2M682 850h2M682 853h2M682 854h2M682 856h2M682 862h2M682 865h2M682 875h2M682 877h2M682 886h2M682 895h2M682 896h2M682 909h2M682 955h2M683 781h2M683 783h2M683 789h2M683 797h2M683 822h2M683 824h2M683 833h2M683 836h2M683 838h2M683 842h2M683 847h2M683 849h2M683 852h2M683 856h2M683 866h2M683 872h2M683 878h2M683 880h2M683 904h2M683 909h2M683 956h2M684 811h2M684 830h2M684 833h2M684 835h2M684 836h2M684 841h2M684 842h2M684 856h2M684 858h2M684 867h2M684 869h2M684 871h2M684 880h2M684 901h2M685 780h2M685 785h2M685 795h2M685 804h2M685 808h2M685 817h2M685 825h2M685 833h2M685 837h2M685 846h2M685 849h2M685 853h2M685 856h2M685 861h2M685 866h2M685 873h2M685 876h2M685 882h2M685 883h2M685 893h2M685 897h2M685 902h2M685 926h2M686 767h2M686 777h2M686 786h2M686 799h2M686 804h2M686 814h2M686 822h2M686 824h2M686 835h2M686 837h2M686 844h2M686 855h2M686 858h2M686 861h2M686 873h2M686 874h2M686 878h2M686 879h2M686 880h2M686 895h2M687 781h2M687 802h2M687 823h2M687 826h2M687 837h2M687 854h2M687 858h2M687 859h2M687 863h2M687 870h2M687 874h2M687 880h2M687 897h2M687 912h2M687 920h2M687 946h2M688 758h2M688 787h2M688 788h2M688 808h2M688 812h2M688 813h2M688 816h2M688 826h2M688 831h2M688 839h2M688 843h2M688 846h2M688 849h2M688 852h2M688 859h2M688 867h2M688 870h2M688 873h2M688 883h2M688 899h2M688 925h2M689 794h2M689 803h2M689 809h2M689 810h2M689 813h2M689 817h2M689 818h2M689 820h2M689 823h2M689 825h2M689 827h2M689 828h2M689 831h2M689 838h2M689 841h2M689 843h2M689 845h2M689 850h2M689 872h2M689 881h2M689 883h2M689 909h2M690 787h2M690 798h2M690 799h2M690 812h2M690 816h2M690 830h2M690 833h2M690 842h2M690 844h2M690 867h2M690 868h2M690 876h2M690 879h2M690 882h2M690 914h2M690 916h2M690 917h2M690 932h2M690 942h2M690 950h2M691 787h2M691 797h2M691 805h2M691 831h2M691 836h2M691 838h2M691 841h2M691 848h2M691 851h2M691 854h2M691 855h2M691 859h2M691 866h2M691 879h2M691 884h2M691 900h2M691 924h2M692 754h2M692 790h2M692 796h2M692 814h2M692 828h2M692 837h2M692 840h2M692 844h2M692 852h2M692 858h2M692 860h2M692 880h2M692 881h2M692 883h2M692 888h2M692 889h2M692 899h2M692 905h2M692 912h2M693 795h2M693 797h2M693 799h2M693 807h2M693 820h2M693 821h2M693 822h2M693 834h2M693 838h2M693 852h2M693 863h2M693 867h2M693 889h2M693 898h2M694 783h2M694 792h2M694 801h2M694 806h2M694 828h2M694 831h2M694 832h2M694 835h2M694 837h2M694 838h2M694 846h2M694 847h2M694 848h2M694 850h2M694 854h2M694 858h2M694 865h2M694 875h2M694 884h2M694 885h2M694 894h2M694 900h2M695 790h2M695 794h2M695 803h2M695 821h2M695 828h2M695 834h2M695 839h2M695 847h2M695 849h2M695 853h2M695 859h2M695 870h2M695 875h2M695 880h2M695 884h2M695 888h2M696 750h2M696 785h2M696 800h2M696 818h2M696 822h2M696 823h2M696 835h2M696 856h2M696 858h2M696 863h2M696 865h2M696 875h2M696 886h2M696 890h2M696 903h2M696 922h2M697 779h2M697 790h2M697 795h2M697 798h2M697 807h2M697 823h2M697 825h2M697 839h2M697 846h2M697 854h2M697 855h2M697 856h2M697 860h2M697 864h2M697 865h2M697 910h2M698 757h2M698 761h2M698 772h2M698 779h2M698 783h2M698 790h2M698 796h2M698 807h2M698 811h2M698 813h2M698 819h2M698 823h2M698 839h2M698 840h2M698 856h2M698 866h2M698 867h2M698 868h2M698 875h2M698 879h2M698 880h2M698 885h2M698 895h2M698 908h2M698 928h2M699 736h2M699 751h2M699 755h2M699 789h2M699 803h2M699 804h2M699 831h2M699 839h2M699 844h2M699 845h2M699 850h2M699 853h2M699 856h2M699 862h2M699 887h2M699 906h2M699 912h2M700 724h2M700 758h2M700 796h2M700 799h2M700 806h2M700 809h2M700 818h2M700 820h2M700 828h2M700 829h2M700 836h2M700 842h2M700 844h2M700 853h2M700 855h2M700 875h2M700 876h2M700 905h2M700 916h2M701 781h2M701 800h2M701 813h2M701 818h2M701 822h2M701 825h2M701 839h2M701 845h2M701 849h2M701 852h2M701 856h2M701 865h2M701 867h2M701 881h2M702 770h2M702 783h2M702 788h2M702 789h2M702 799h2M702 807h2M702 824h2M702 826h2M702 834h2M702 835h2M702 837h2M702 840h2M702 841h2M702 846h2M702 847h2M702 848h2M702 860h2M702 861h2M702 866h2M702 867h2M702 870h2M702 874h2M702 878h2M702 885h2M702 900h2M702 907h2M703 715h2M703 727h2M703 773h2M703 790h2M703 804h2M703 817h2M703 819h2M703 820h2M703 829h2M703 840h2M703 850h2M703 855h2M703 869h2M703 873h2M703 878h2M703 881h2M703 888h2M703 895h2M703 897h2M703 905h2M704 800h2M704 816h2M704 819h2M704 821h2M704 824h2M704 829h2M704 830h2M704 863h2M704 865h2M704 872h2M704 874h2M704 876h2M704 883h2M704 886h2M704 888h2M704 889h2M704 904h2M704 909h2M704 910h2M704 913h2M704 920h2M705 770h2M705 776h2M705 782h2M705 783h2M705 797h2M705 799h2M705 814h2M705 822h2M705 831h2M705 835h2M705 836h2M705 837h2M705 838h2M705 840h2M705 847h2M705 850h2M705 855h2M705 858h2M705 864h2M705 867h2M705 868h2M705 888h2M705 907h2M706 791h2M706 804h2M706 814h2M706 827h2M706 845h2M706 850h2M706 879h2M706 897h2M706 902h2M706 907h2M707 732h2M707 755h2M707 765h2M707 775h2M707 788h2M707 789h2M707 812h2M707 814h2M707 820h2M707 831h2M707 837h2M707 840h2M707 841h2M707 843h2M707 856h2M707 862h2M707 867h2M707 868h2M707 876h2M707 882h2M707 896h2M707 903h2M708 794h2M708 810h2M708 818h2M708 822h2M708 824h2M708 831h2M708 846h2M708 863h2M708 868h2M708 872h2M708 873h2M709 775h2M709 786h2M709 801h2M709 818h2M709 821h2M709 824h2M709 853h2M709 858h2M709 860h2M709 865h2M709 883h2M709 902h2M710 811h2M710 818h2M710 819h2M710 825h2M710 828h2M710 840h2M710 841h2M710 846h2M710 848h2M710 857h2M710 859h2M710 875h2M710 878h2M710 891h2M710 900h2M710 919h2M711 732h2M711 762h2M711 777h2M711 778h2M711 823h2M711 831h2M711 843h2M711 844h2M711 847h2M711 860h2M711 879h2M711 882h2M711 887h2M711 889h2M711 902h2M711 935h2M712 772h2M712 774h2M712 776h2M712 789h2M712 816h2M712 817h2M712 829h2M712 838h2M712 839h2M712 842h2M712 846h2M712 854h2M712 864h2M712 865h2M712 874h2M712 875h2M712 880h2M712 882h2M713 696h2M713 730h2M713 753h2M713 762h2M713 771h2M713 812h2M713 827h2M713 833h2M713 845h2M713 847h2M713 852h2M713 858h2M713 876h2M713 877h2M713 885h2M713 895h2M713 913h2M713 928h2M714 724h2M714 743h2M714 795h2M714 801h2M714 824h2M714 842h2M714 843h2M714 846h2M714 850h2M714 855h2M714 859h2M714 866h2M714 883h2M714 886h2M714 899h2M714 900h2M714 902h2M714 903h2M714 904h2M714 911h2M714 915h2M715 733h2M715 753h2M715 764h2M715 813h2M715 819h2M715 821h2M715 823h2M715 827h2M715 830h2M715 848h2M715 854h2M715 862h2M715 870h2M715 877h2M715 888h2M715 914h2M716 767h2M716 822h2M716 832h2M716 837h2M716 847h2M716 849h2M716 856h2M716 869h2M716 880h2M716 881h2M716 897h2M717 793h2M717 796h2M717 801h2M717 812h2M717 813h2M717 818h2M717 819h2M717 821h2M717 845h2M717 846h2M717 849h2M717 863h2M717 869h2M717 883h2M717 887h2M717 888h2M717 892h2M717 897h2M717 913h2M718 771h2M718 783h2M718 788h2M718 816h2M718 821h2M718 824h2M718 830h2M718 839h2M718 841h2M718 844h2M718 850h2M718 854h2M718 856h2M718 868h2M718 872h2M718 877h2M718 882h2M718 902h2M718 905h2M719 767h2M719 797h2M719 811h2M719 815h2M719 822h2M719 823h2M719 831h2M719 851h2M719 853h2M719 855h2M719 859h2M719 868h2M719 879h2M719 890h2M719 897h2M720 801h2M720 804h2M720 807h2M720 817h2M720 820h2M720 837h2M720 840h2M720 841h2M720 846h2M720 853h2M720 870h2M720 883h2M720 889h2M720 901h2M720 917h2M721 795h2M721 821h2M721 825h2M721 833h2M721 848h2M721 849h2M721 856h2M721 857h2M721 866h2M721 868h2M721 882h2M721 886h2M721 890h2M721 894h2M721 899h2M721 907h2M721 910h2M721 915h2M721 924h2M722 758h2M722 763h2M722 769h2M722 791h2M722 820h2M722 837h2M722 838h2M722 840h2M722 845h2M722 847h2M722 853h2M722 862h2M722 866h2M722 868h2M722 880h2M722 898h2M722 903h2M722 931h2M723 800h2M723 811h2M723 824h2M723 838h2M723 868h2M723 873h2M723 888h2M723 903h2M723 918h2M724 743h2M724 813h2M724 832h2M724 833h2M724 849h2M724 854h2M724 877h2M724 886h2M724 892h2M724 894h2M724 913h2M725 776h2M725 792h2M725 808h2M725 811h2M725 821h2M725 822h2M725 830h2M725 833h2M725 835h2M725 839h2M725 844h2M725 847h2M725 848h2M725 849h2M725 857h2M725 864h2M725 865h2M725 866h2M726 802h2M726 813h2M726 824h2M726 825h2M726 847h2M726 861h2M726 864h2M726 870h2M726 881h2M726 897h2M726 901h2M726 919h2M727 786h2M727 793h2M727 794h2M727 807h2M727 811h2M727 832h2M727 863h2M727 867h2M727 879h2M727 887h2M727 889h2M727 906h2M728 783h2M728 786h2M728 789h2M728 790h2M728 801h2M728 813h2M728 829h2M728 830h2M728 843h2M728 848h2M728 858h2M728 864h2M728 865h2M728 873h2M728 882h2M728 897h2M728 900h2M728 909h2M728 920h2M728 927h2M729 757h2M729 805h2M729 809h2M729 815h2M729 837h2M729 840h2M729 842h2M729 843h2M729 850h2M729 853h2M729 877h2M729 891h2M729 901h2M730 749h2M730 773h2M730 801h2M730 803h2M730 808h2M730 826h2M730 832h2M730 835h2M730 839h2M730 857h2M730 878h2M730 909h2M731 770h2M731 800h2M731 810h2M731 823h2M731 830h2M731 833h2M731 834h2M731 848h2M731 850h2M731 852h2M731 892h2M731 910h2M731 921h2M731 952h2M732 788h2M732 800h2M732 815h2M732 831h2M732 836h2M732 841h2M732 855h2M732 857h2M732 869h2M732 877h2M732 890h2M732 911h2M733 765h2M733 779h2M733 796h2M733 812h2M733 833h2M733 836h2M733 839h2M733 851h2M733 853h2M733 867h2M733 871h2M733 872h2M733 880h2M733 886h2M733 904h2M733 907h2M733 913h2M734 794h2M734 807h2M734 821h2M734 835h2M734 836h2M734 840h2M734 848h2M734 861h2M734 862h2M734 897h2M734 914h2M735 745h2M735 753h2M735 785h2M735 797h2M735 821h2M735 837h2M735 846h2M735 847h2M735 868h2M735 876h2M735 882h2M735 884h2M735 938h2M736 756h2M736 784h2M736 786h2M736 793h2M736 797h2M736 806h2M736 827h2M736 828h2M736 831h2M736 843h2M736 848h2M736 850h2M736 871h2M736 874h2M736 916h2M736 926h2M737 764h2M737 773h2M737 812h2M737 820h2M737 825h2M737 841h2M737 856h2M737 870h2M737 888h2M737 894h2M737 899h2M737 915h2M737 929h2M738 733h2M738 779h2M738 783h2M738 795h2M738 802h2M738 806h2M738 812h2M738 823h2M738 835h2M738 876h2M738 882h2M738 902h2M738 914h2M739 719h2M739 789h2M739 808h2M739 832h2M739 833h2M739 853h2M739 855h2M739 866h2M739 871h2M739 882h2M739 888h2M739 897h2M739 913h2M740 764h2M740 779h2M740 781h2M740 795h2M740 815h2M740 817h2M740 818h2M740 820h2M740 842h2M740 846h2M740 848h2M740 868h2M740 886h2M740 891h2M740 896h2M740 906h2M741 781h2M741 828h2M741 847h2M741 863h2M741 913h2M741 926h2M742 713h2M742 757h2M742 799h2M742 805h2M742 807h2M742 836h2M742 846h2M742 857h2M742 867h2M742 907h2M742 919h2M743 774h2M743 819h2M743 830h2M743 832h2M743 848h2M743 868h2M743 870h2M743 881h2M743 887h2M743 898h2M743 902h2M743 909h2M744 739h2M744 825h2M744 826h2M744 827h2M744 835h2M744 841h2M744 851h2M744 868h2M744 874h2M744 915h2M744 939h2M745 807h2M745 812h2M745 815h2M745 838h2M745 856h2M745 869h2M745 878h2M745 880h2M745 881h2M745 886h2M745 888h2M745 898h2M745 917h2M745 919h2M746 759h2M746 770h2M746 801h2M746 821h2M746 823h2M746 867h2M746 880h2M746 886h2M746 900h2M746 909h2M747 777h2M747 800h2M747 803h2M747 818h2M747 849h2M747 868h2M747 875h2M747 880h2M747 881h2M747 913h2M747 918h2M748 739h2M748 750h2M748 813h2M748 823h2M748 838h2M748 854h2M748 861h2M748 894h2M748 903h2M749 813h2M749 842h2M749 855h2M749 858h2M749 870h2M749 872h2M749 873h2M749 889h2M749 891h2M749 925h2M750 791h2M750 797h2M750 800h2M750 831h2M750 849h2M750 862h2M750 875h2M750 893h2M750 918h2M751 767h2M751 808h2M751 816h2M751 836h2M751 837h2M751 861h2M751 879h2M751 900h2M751 914h2M752 757h2M752 790h2M752 800h2M752 828h2M752 830h2M752 834h2M752 844h2M752 849h2M752 855h2M752 866h2M752 872h2M752 879h2M752 889h2M752 927h2M753 770h2M753 794h2M753 800h2M753 811h2M753 844h2M753 845h2M753 853h2M753 854h2M753 882h2M753 908h2M753 930h2M754 738h2M754 789h2M754 804h2M754 820h2M754 827h2M754 832h2M754 846h2M754 861h2M754 898h2M754 907h2M755 722h2M755 832h2M755 837h2M755 871h2M755 888h2M755 914h2M756 754h2M756 793h2M756 801h2M756 819h2M756 843h2M756 844h2M756 845h2M756 896h2M756 901h2M757 754h2M757 826h2M757 838h2M757 851h2M757 872h2M757 876h2M757 888h2M757 892h2M757 926h2M758 776h2M758 792h2M758 794h2M758 806h2M758 809h2M758 836h2M758 837h2M758 841h2M758 848h2M758 858h2M758 867h2M758 870h2M758 871h2M758 882h2M759 803h2M759 828h2M759 837h2M759 840h2M759 844h2M759 850h2M759 856h2M759 866h2M759 867h2M759 884h2M759 885h2M759 890h2M759 927h2M759 946h2M759 956h2M760 823h2M760 824h2M760 825h2M760 834h2M760 838h2M760 839h2M760 886h2M761 832h2M761 843h2M761 846h2M761 856h2M761 864h2M761 876h2M761 877h2M761 897h2M761 902h2M761 907h2M761 911h2M762 719h2M762 749h2M762 803h2M762 822h2M762 825h2M762 828h2M762 845h2M762 848h2M762 857h2M762 877h2M762 881h2M762 890h2M762 905h2M762 926h2M763 794h2M763 809h2M763 834h2M763 846h2M763 865h2M763 869h2M763 880h2M763 903h2M763 911h2M764 828h2M764 839h2M764 846h2M764 851h2M764 854h2M764 880h2M764 883h2M765 769h2M765 782h2M765 802h2M765 810h2M765 819h2M765 846h2M765 848h2M765 853h2M765 860h2M765 868h2M765 869h2M765 870h2M765 888h2M765 893h2M765 911h2M765 914h2M766 788h2M766 833h2M766 837h2M766 849h2M766 871h2M766 885h2M766 889h2M766 898h2M766 905h2M766 925h2M766 936h2M767 808h2M767 843h2M767 850h2M767 855h2M767 890h2M767 916h2M767 923h2M768 815h2M768 849h2M768 856h2M768 861h2M768 866h2M768 867h2M768 894h2M768 896h2M768 902h2M768 946h2M769 825h2M769 827h2M769 849h2M769 855h2M769 857h2M769 873h2M769 887h2M769 898h2M769 906h2M769 908h2M770 760h2M770 778h2M770 783h2M770 814h2M770 818h2M770 842h2M770 868h2M770 903h2M770 910h2M771 797h2M771 818h2M771 837h2M771 853h2M771 857h2M771 861h2M771 896h2M772 732h2M772 803h2M772 806h2M772 818h2M772 830h2M772 840h2M772 850h2M772 870h2M773 794h2M773 809h2M773 821h2M773 823h2M773 851h2M773 858h2M773 871h2M773 872h2M773 913h2M773 919h2M774 786h2M774 798h2M774 823h2M774 835h2M774 836h2M774 862h2M774 869h2M774 870h2M774 883h2M774 908h2M775 717h2M775 840h2M775 852h2M775 864h2M775 874h2M775 890h2M775 901h2M776 722h2M776 817h2M776 844h2M776 860h2M776 865h2M776 878h2M776 896h2M776 898h2M776 910h2M776 913h2M776 919h2M777 773h2M777 810h2M777 843h2M777 844h2M777 846h2M777 862h2M777 867h2M777 890h2M777 898h2M777 903h2M777 926h2M778 755h2M778 775h2M778 782h2M778 821h2M778 823h2M778 841h2M778 851h2M778 862h2M778 887h2M778 890h2M778 896h2M778 902h2M778 904h2M778 917h2M778 925h2M779 716h2M779 797h2M779 816h2M779 842h2M779 859h2M779 860h2M779 862h2M779 884h2M779 903h2M780 818h2M780 839h2M780 854h2M780 903h2M780 922h2M781 761h2M781 779h2M781 780h2M781 792h2M781 804h2M781 807h2M781 826h2M781 832h2M781 844h2M781 849h2M781 857h2M781 868h2M781 870h2M781 874h2M781 895h2M781 903h2M781 912h2M782 769h2M782 813h2M782 817h2M782 829h2M782 839h2M782 850h2M782 860h2M782 866h2M782 869h2M782 871h2M782 926h2M783 737h2M783 747h2M783 761h2M783 784h2M783 802h2M783 810h2M783 838h2M783 863h2M783 865h2M783 881h2M784 836h2M784 842h2M784 850h2M784 859h2M784 860h2M784 861h2M784 919h2M785 711h2M785 750h2M785 776h2M785 837h2M785 863h2M785 877h2M785 879h2M786 748h2M786 776h2M786 809h2M786 819h2M786 847h2M786 868h2M786 875h2M786 922h2M787 770h2M787 779h2M787 780h2M787 788h2M787 807h2M787 884h2M787 903h2M787 904h2M787 913h2M787 925h2M787 935h2M788 750h2M788 814h2M788 823h2M788 840h2M788 846h2M788 849h2M788 857h2M788 883h2M788 917h2M788 952h2M789 763h2M789 848h2M789 853h2M789 856h2M789 861h2M789 865h2M789 868h2M789 918h2M790 756h2M790 800h2M790 840h2M790 857h2M790 877h2M790 898h2M790 911h2M790 913h2M791 791h2M791 795h2M791 820h2M791 837h2M791 840h2M791 854h2M791 864h2M791 866h2M791 881h2M791 892h2M791 904h2M791 905h2M792 764h2M792 780h2M792 781h2M792 834h2M792 846h2M792 859h2M792 862h2M792 863h2M792 877h2M792 887h2M792 889h2M792 917h2M793 776h2M793 807h2M793 820h2M793 821h2M793 849h2M793 870h2M793 878h2M793 904h2M793 914h2M794 810h2M794 834h2M794 845h2M794 864h2M794 888h2M794 889h2M794 893h2M794 898h2M795 818h2M795 833h2M795 837h2M795 839h2M795 840h2M795 842h2M795 849h2M795 861h2M795 871h2M795 882h2M795 885h2M795 887h2M795 890h2M796 795h2M796 822h2M796 862h2M796 864h2M796 866h2M796 867h2M796 881h2M796 884h2M796 897h2M796 899h2M796 918h2M797 813h2M797 836h2M797 839h2M797 842h2M797 859h2M797 860h2M797 861h2M797 882h2M797 944h2M798 752h2M798 792h2M798 804h2M798 810h2M798 828h2M798 833h2M798 871h2M798 875h2M798 877h2M798 883h2M798 884h2M798 908h2M798 928h2M799 742h2M799 758h2M799 799h2M799 800h2M799 808h2M799 819h2M799 854h2M799 882h2M799 884h2M799 893h2M799 912h2M800 855h2M800 859h2M800 872h2M800 877h2M800 892h2M800 905h2M801 778h2M801 824h2M801 827h2M801 850h2M801 863h2M801 891h2M801 920h2M801 921h2M801 925h2M802 814h2M802 841h2M802 877h2M802 884h2M802 896h2M802 906h2M803 735h2M803 746h2M803 830h2M803 839h2M803 848h2M803 875h2M803 886h2M803 888h2M803 917h2M804 777h2M804 825h2M804 840h2M804 846h2M804 888h2M804 903h2M804 904h2M804 917h2M804 928h2M805 805h2M805 829h2M805 868h2M805 872h2M805 897h2M805 899h2M805 902h2M805 942h2M806 725h2M806 825h2M806 833h2M806 846h2M806 850h2M806 863h2M807 821h2M807 841h2M807 888h2M807 904h2M807 905h2M808 863h2M808 865h2M808 923h2M809 748h2M809 762h2M809 842h2M809 866h2M809 876h2M809 881h2M809 884h2M810 760h2M810 762h2M810 825h2M810 833h2M810 842h2M810 844h2M810 847h2M810 874h2M810 884h2M810 924h2M811 738h2M811 778h2M811 821h2M811 838h2M811 862h2M811 863h2M811 870h2M811 875h2M811 892h2M812 726h2M812 814h2M812 831h2M812 861h2M812 906h2M812 910h2M812 918h2M812 920h2M813 821h2M813 836h2M813 854h2M813 888h2M813 891h2M814 778h2M814 788h2M814 835h2M814 838h2M814 840h2M814 847h2M814 884h2M814 929h2M815 772h2M815 813h2M815 821h2M815 854h2M815 877h2M815 881h2M815 885h2M815 916h2M816 828h2M816 866h2M817 723h2M817 825h2M817 856h2M817 871h2M817 873h2M817 881h2M817 901h2M818 820h2M818 836h2M818 852h2M818 853h2M818 873h2M818 879h2M818 882h2M818 908h2M818 915h2M818 927h2M818 943h2M819 782h2M819 804h2M819 818h2M819 830h2M819 849h2M819 860h2M819 862h2M819 885h2M819 904h2M819 923h2M819 938h2M820 827h2M820 828h2M820 843h2M820 862h2M820 896h2M820 910h2M820 912h2M820 916h2M820 940h2M821 795h2M821 805h2M821 811h2M821 814h2M821 815h2M821 852h2M821 872h2M821 882h2M821 889h2M821 892h2M821 893h2M821 902h2M821 904h2M821 938h2M822 790h2M822 818h2M822 829h2M822 847h2M822 862h2M822 869h2M822 870h2M822 880h2M822 885h2M822 927h2M822 933h2M823 773h2M823 801h2M823 804h2M823 863h2M823 890h2M823 911h2M824 811h2M824 832h2M824 882h2M824 968h2M825 777h2M825 828h2M825 841h2M825 845h2M825 895h2M825 899h2M825 911h2M825 925h2M826 817h2M826 854h2M826 872h2M826 879h2M826 902h2M827 774h2M827 793h2M827 844h2M827 865h2M827 882h2M827 892h2M828 795h2M828 797h2M828 807h2M828 871h2M828 877h2M828 886h2M828 895h2M828 905h2M829 810h2M829 841h2M829 868h2M829 872h2M829 884h2M829 895h2M829 908h2M830 784h2M830 866h2M830 876h2M830 888h2M831 802h2M831 815h2M831 823h2M831 843h2M831 881h2M831 895h2M831 897h2M831 939h2M832 766h2M832 779h2M832 824h2M832 852h2M832 869h2M832 871h2M832 875h2M832 912h2M833 766h2M833 790h2M833 841h2M833 846h2M833 857h2M833 864h2M833 865h2M833 872h2M833 899h2M834 878h2M834 885h2M834 906h2M835 769h2M835 797h2M835 814h2M835 883h2M835 902h2M835 919h2M836 802h2M836 814h2M836 818h2M836 855h2M836 864h2M836 893h2M836 907h2M836 953h2M837 869h2M837 882h2M837 886h2M837 907h2M837 910h2M837 929h2M838 759h2M838 792h2M838 800h2M838 836h2M838 860h2M838 923h2M838 942h2M839 771h2M839 838h2M839 847h2M839 851h2M839 856h2M839 871h2M839 905h2M839 918h2M840 843h2M840 844h2M840 857h2M840 880h2M840 885h2M840 898h2M840 933h2M841 804h2M841 828h2M841 842h2M841 926h2M842 710h2M842 947h2M843 808h2M843 870h2M843 873h2M844 824h2M844 854h2M844 914h2M845 763h2M845 812h2M845 836h2M845 842h2M845 880h2M845 883h2M846 782h2M846 808h2M846 811h2M846 817h2M846 834h2M846 849h2M846 858h2M846 871h2M846 885h2M846 886h2M846 909h2M846 934h2M847 745h2M847 864h2M847 873h2M847 874h2M847 880h2M847 887h2M847 897h2M847 899h2M848 774h2M848 787h2M848 802h2M849 790h2M849 800h2M849 839h2M849 866h2M849 869h2M849 896h2M850 811h2M850 818h2M850 846h2M850 879h2M850 914h2M851 796h2M851 863h2M851 891h2M851 937h2M852 817h2M852 878h2M852 882h2M852 883h2M852 907h2M853 790h2M853 898h2M854 715h2M854 827h2M854 832h2M854 883h2M854 890h2M855 782h2M855 796h2M855 883h2M855 893h2M855 902h2M855 919h2M855 923h2M856 820h2M856 859h2M856 894h2M856 899h2M857 782h2M858 813h2M858 821h2M858 877h2M858 913h2M858 920h2M858 929h2M859 881h2M859 887h2M859 891h2M859 893h2M859 896h2M859 901h2M860 778h2M860 873h2M861 813h2M861 845h2M861 862h2M861 900h2M861 913h2M861 933h2M862 703h2M862 930h2M863 760h2M863 782h2M863 828h2M863 830h2M863 930h2M864 802h2M864 828h2M864 846h2M864 879h2M865 858h2M865 867h2M865 870h2M865 882h2M866 829h2M866 858h2M866 897h2M867 767h2M867 910h2M868 843h2M868 859h2M868 901h2M868 908h2M868 922h2M869 778h2M869 807h2M869 808h2M869 838h2M869 903h2M870 757h2M870 868h2M870 931h2M871 794h2M871 802h2M871 843h2M871 852h2M871 908h2M872 776h2M872 784h2M872 804h2M872 844h2M872 849h2M872 857h2M872 910h2M873 732h2M874 757h2M874 813h2M874 836h2M874 886h2M875 839h2M875 875h2M875 909h2M875 911h2M876 831h2M876 839h2M876 842h2M876 877h2M876 916h2M877 864h2M877 887h2M877 904h2M878 890h2M879 797h2M880 815h2M880 878h2M880 879h2M880 886h2M880 888h2M880 913h2M881 863h2M881 912h2M882 838h2M882 885h2M883 846h2M883 888h2M883 911h2M884 781h2M884 880h2M885 814h2M885 847h2M885 862h2M886 843h2M887 845h2M887 861h2M887 912h2M888 856h2M889 755h2M889 774h2M889 809h2M889 831h2M889 860h2M889 878h2M889 889h2M890 858h2M891 780h2M891 806h2M891 879h2M891 916h2M892 775h2M892 803h2M892 872h2M893 903h2M894 881h2M895 823h2M895 926h2M896 785h2M896 877h2M897 847h2M897 890h2M897 906h2M898 802h2M898 912h2M899 788h2M899 832h2M899 836h2M899 925h2M900 807h2M900 812h2M900 830h2M900 836h2M900 853h2M900 897h2M901 727h2M901 767h2M901 790h2M901 842h2M901 893h2M901 917h2M902 874h2M903 903h2M903 949h2M904 706h2M904 828h2M904 905h2M904 909h2M905 829h2M906 778h2M906 821h2M907 749h2M907 759h2M907 828h2M907 853h2" stroke="#ff0000" stroke-width="2" fill="none" shape-rendering="crispEdges"/>
<path d="M600 940h2M603 764h2M604 870h2M608 752h2M608 797h2M609 794h2M611 815h2M612 827h2M613 795h2M615 838h2M615 901h2M616 868h2M617 794h2M617 889h2M617 896h2M617 925h2M618 837h2M618 913h2M619 822h2M620 907h2M621 836h2M621 859h2M621 873h2M622 849h2M623 856h2M624 822h2M624 920h2M625 835h2M625 848h2M626 861h2M627 817h2M629 770h2M630 839h2M630 863h2M631 845h2M631 873h2M631 877h2M631 890h2M631 932h2M632 827h2M633 755h2M633 865h2M634 793h2M634 795h2M634 885h2M635 717h2M635 867h2M636 851h2M636 856h2M636 913h2M637 824h2M638 797h2M638 857h2M639 729h2M639 893h2M640 755h2M640 855h2M641 799h2M641 816h2M641 836h2M642 766h2M646 886h2M647 802h2M647 850h2M648 765h2M648 830h2M648 840h2M648 898h2M649 742h2M649 839h2M649 914h2M650 758h2M650 850h2M650 891h2M651 835h2M651 892h2M652 792h2M652 813h2M655 778h2M655 904h2M656 775h2M656 858h2M657 739h2M657 839h2M657 852h2M657 883h2M657 905h2M658 831h2M659 752h2M659 875h2M660 802h2M660 823h2M660 861h2M660 915h2M661 806h2M661 856h2M662 722h2M662 833h2M663 915h2M664 819h2M664 848h2M664 927h2M666 708h2M666 797h2M666 837h2M666 882h2M666 905h2M667 824h2M667 826h2M667 900h2M668 828h2M668 864h2M669 817h2M669 846h2M669 855h2M671 726h2M671 822h2M671 841h2M671 869h2M671 877h2M671 889h2M672 789h2M672 819h2M672 865h2M673 745h2M673 802h2M673 843h2M673 847h2M673 861h2M673 899h2M674 850h2M674 873h2M674 887h2M675 849h2M675 897h2M676 810h2M676 814h2M676 836h2M676 880h2M676 881h2M677 794h2M677 840h2M677 868h2M678 809h2M678 853h2M678 860h2M679 782h2M679 824h2M679 831h2M679 846h2M679 895h2M680 815h2M680 885h2M680 911h2M681 758h2M681 890h2M682 840h2M682 841h2M682 881h2M682 894h2M683 852h2M683 869h2M683 892h2M684 819h2M684 843h2M684 847h2M684 884h2M685 790h2M685 806h2M685 824h2M685 840h2M685 842h2M685 880h2M686 806h2M686 826h2M686 836h2M686 840h2M686 868h2M687 780h2M688 808h2M688 830h2M688 848h2M688 868h2M688 905h2M689 820h2M689 888h2M689 898h2M690 749h2M690 829h2M691 804h2M691 915h2M692 845h2M692 857h2M692 873h2M692 901h2M693 808h2M693 844h2M693 869h2M694 793h2M694 812h2M694 829h2M694 852h2M694 855h2M694 867h2M695 795h2M695 806h2M695 821h2M695 837h2M695 892h2M696 798h2M696 821h2M696 843h2M696 847h2M696 854h2M696 866h2M696 890h2M697 805h2M697 816h2M697 823h2M697 827h2M697 831h2M697 893h2M697 904h2M698 792h2M698 831h2M698 840h2M698 854h2M698 855h2M699 791h2M699 833h2M699 872h2M699 877h2M700 784h2M700 841h2M700 867h2M701 883h2M701 895h2M702 806h2M702 850h2M702 858h2M703 824h2M703 852h2M703 886h2M703 911h2M704 753h2M704 833h2M705 836h2M705 868h2M705 885h2M706 759h2M706 786h2M707 753h2M707 883h2M707 886h2M708 820h2M708 836h2M708 862h2M709 785h2M709 864h2M710 845h2M710 871h2M712 778h2M712 877h2M712 884h2M713 792h2M713 810h2M714 829h2M714 918h2M715 752h2M715 819h2M715 858h2M715 876h2M717 806h2M718 788h2M718 811h2M718 833h2M718 844h2M719 880h2M719 914h2M720 746h2M720 785h2M720 883h2M720 908h2M721 825h2M721 867h2M721 879h2M721 918h2M722 852h2M722 860h2M722 865h2M723 781h2M723 807h2M724 817h2M724 857h2M725 697h2M725 866h2M725 891h2M726 828h2M726 851h2M726 869h2M727 813h2M727 848h2M728 859h2M728 869h2M729 830h2M729 856h2M731 743h2M731 895h2M732 858h2M732 879h2M733 879h2M734 791h2M734 824h2M734 829h2M734 861h2M734 923h2M734 925h2M735 715h2M735 812h2M735 841h2M736 830h2M736 873h2M736 895h2M738 799h2M738 808h2M738 856h2M738 924h2M739 826h2M739 848h2M739 849h2M739 853h2M739 891h2M740 917h2M741 781h2M741 876h2M741 904h2M742 756h2M742 782h2M742 843h2M742 888h2M743 787h2M744 863h2M745 871h2M747 826h2M747 850h2M748 738h2M749 806h2M749 871h2M749 882h2M750 804h2M751 805h2M751 865h2M751 876h2M753 865h2M753 886h2M753 910h2M753 911h2M754 819h2M754 851h2M754 852h2M754 853h2M754 869h2M755 838h2M755 853h2M756 809h2M757 831h2M757 882h2M758 807h2M758 892h2M759 852h2M759 853h2M759 882h2M759 976h2M760 861h2M761 823h2M761 892h2M761 913h2M762 711h2M762 781h2M762 843h2M762 855h2M763 834h2M764 842h2M764 862h2M764 886h2M764 908h2M766 846h2M766 855h2M766 891h2M766 934h2M768 806h2M768 876h2M768 893h2M769 890h2M771 779h2M771 876h2M773 843h2M773 917h2M773 919h2M774 890h2M776 822h2M776 866h2M777 784h2M778 818h2M778 878h2M779 802h2M779 831h2M779 874h2M780 796h2M780 813h2M780 836h2M780 869h2M781 799h2M781 808h2M782 924h2M783 789h2M783 799h2M783 842h2M783 874h2M784 865h2M785 910h2M786 803h2M786 811h2M786 908h2M786 920h2M787 860h2M787 891h2M788 835h2M788 871h2M788 883h2M789 816h2M789 826h2M789 910h2M790 869h2M790 888h2M791 816h2M792 855h2M793 842h2M793 920h2M794 827h2M794 874h2M795 823h2M795 851h2M795 890h2M795 906h2M795 931h2M796 829h2M796 851h2M796 872h2M796 903h2M796 932h2M796 936h2M797 750h2M797 901h2M798 753h2M798 881h2M799 821h2M799 841h2M800 802h2M800 836h2M800 854h2M800 870h2M801 809h2M801 890h2M803 852h2M804 766h2M804 907h2M804 909h2M805 875h2M805 884h2M805 918h2M806 821h2M806 908h2M807 804h2M807 812h2M807 885h2M808 826h2M808 875h2M808 920h2M809 863h2M810 832h2M810 861h2M810 953h2M811 797h2M811 909h2M812 794h2M812 858h2M813 794h2M813 820h2M814 838h2M815 862h2M816 702h2M816 864h2M817 831h2M817 897h2M817 922h2M818 861h2M818 894h2M819 920h2M820 795h2M822 907h2M824 798h2M824 888h2M826 869h2M826 873h2M827 819h2M827 878h2M827 916h2M828 847h2M829 865h2M830 810h2M831 825h2M831 915h2M833 874h2M836 813h2M836 818h2M837 949h2M839 812h2M840 820h2M841 903h2M842 921h2M842 946h2M843 826h2M845 904h2M846 802h2M849 790h2M849 818h2M852 862h2M853 882h2M856 751h2M858 858h2M859 779h2M859 800h2M860 812h2M863 915h2M865 717h2M866 892h2M867 881h2M868 826h2M868 884h2M869 888h2M874 815h2M875 887h2M876 920h2M877 824h2M877 875h2M880 863h2M881 890h2M886 803h2M888 867h2M889 793h2M889 836h2M893 891h2M895 912h2M897 730h2M898 918h2M899 808h2M899 913h2M904 854h2M906 806h2" stroke="#b80000" stroke-width="2" fill="none" shape-rendering="crispEdges"/>
<path d="M912 833h2.4M914 810h2.4M915 766h2.4M916 767h2.4M916 803h2.4M916 900h2.4M918 725h2.4M918 875h2.4M919 772h2.4M919 812h2.4M919 942h2.4M920 813h2.4M920 874h2.4M920 950h2.4M921 750h2.4M921 792h2.4M921 818h2.4M922 725h2.4M922 831h2.4M923 819h2.4M923 820h2.4M923 826h2.4M923 848h2.4M923 850h2.4M923 938h2.4M924 722h2.4M924 787h2.4M924 809h2.4M924 825h2.4M924 917h2.4M925 865h2.4M925 877h2.4M925 905h2.4M925 913h2.4M925 940h2.4M926 874h2.4M926 877h2.4M927 807h2.4M927 882h2.4M927 889h2.4M927 911h2.4M927 946h2.4M927 948h2.4M928 792h2.4M928 804h2.4M928 832h2.4M929 731h2.4M929 824h2.4M929 836h2.4M929 867h2.4M929 870h2.4M929 883h2.4M930 708h2.4M930 812h2.4M930 860h2.4M930 877h2.4M931 746h2.4M931 818h2.4M931 844h2.4M932 791h2.4M932 845h2.4M932 846h2.4M932 866h2.4M932 926h2.4M932 933h2.4M932 946h2.4M932 947h2.4M933 783h2.4M933 844h2.4M933 881h2.4M933 894h2.4M934 709h2.4M934 820h2.4M934 827h2.4M934 875h2.4M934 880h2.4M934 942h2.4M935 770h2.4M935 772h2.4M935 812h2.4M935 819h2.4M935 843h2.4M936 811h2.4M936 874h2.4M937 730h2.4M937 774h2.4M937 806h2.4M937 833h2.4M937 835h2.4M937 846h2.4M937 852h2.4M937 873h2.4M938 837h2.4M938 928h2.4M939 759h2.4M939 797h2.4M939 820h2.4M939 840h2.4M941 832h2.4M941 884h2.4M941 927h2.4M942 719h2.4M942 863h2.4M943 826h2.4M943 924h2.4M945 707h2.4M945 932h2.4M945 952h2.4M946 787h2.4M946 838h2.4M947 868h2.4M947 883h2.4M948 802h2.4M948 815h2.4" stroke="#000" stroke-width="2.4" fill="none" transform="translate(-0.2 0)"/>
<path d="M1047 966h2M1048 947h2M1050 999h2M1052 947h2M1056 979h2M1058 962h2M1060 988h2M1060 1006h2M1061 1002h2M1063 997h2M1066 988h2M1066 989h2M1066 996h2M1068 957h2M1071 995h2M1072 999h2M1073 995h2M1073 996h2M1074 983h2M1077 972h2M1078 980h2M1078 1000h2M1079 951h2M1079 967h2M1079 984h2M1081 984h2M1084 970h2M1085 974h2M1085 975h2M1087 973h2M1087 983h2M1088 1000h2M1089 979h2M1092 986h2M1092 992h2M1092 997h2M1093 999h2M1096 970h2M1096 987h2M1097 985h2M1098 993h2M1099 974h2M1099 993h2M1101 981h2M1102 977h2M1103 990h2M1103 993h2M1104 992h2M1105 973h2M1106 976h2M1106 981h2M1107 964h2M1107 1006h2M1108 984h2M1108 991h2M1110 985h2M1110 1004h2M1111 979h2M1111 988h2M1111 995h2M1112 954h2M1112 979h2M1112 986h2M1112 993h2M1112 1004h2M1113 968h2M1114 984h2M1114 1003h2M1115 983h2M1115 990h2M1115 997h2M1116 1001h2M1117 997h2M1118 995h2M1118 996h2M1118 1002h2M1121 970h2M1122 986h2M1122 994h2M1123 997h2M1124 992h2M1124 1004h2M1125 979h2M1125 986h2M1125 993h2M1125 1001h2M1125 1005h2M1126 965h2M1126 993h2M1126 1001h2M1127 993h2M1128 969h2M1128 1002h2M1129 976h2M1129 998h2M1129 1000h2M1131 964h2M1132 977h2M1132 980h2M1133 977h2M1133 994h2M1133 998h2M1134 975h2M1135 964h2M1135 971h2M1136 972h2M1137 975h2M1138 979h2M1138 984h2M1138 990h2M1139 982h2M1139 984h2M1139 985h2M1139 991h2M1140 981h2M1141 999h2M1142 995h2M1142 1005h2M1143 971h2M1143 1006h2M1144 965h2M1146 969h2M1146 972h2M1147 1004h2M1148 966h2M1148 976h2M1149 968h2M1149 985h2M1150 975h2M1150 996h2M1150 1002h2M1152 962h2M1153 989h2M1153 1002h2M1156 998h2M1156 1000h2M1157 972h2M1158 981h2M1159 968h2M1160 959h2M1160 982h2M1160 993h2M1161 995h2M1161 1003h2M1162 968h2M1162 989h2M1162 994h2M1162 1005h2M1163 950h2M1164 993h2M1165 985h2M1167 977h2M1167 979h2M1167 989h2M1167 998h2M1168 967h2M1168 983h2M1168 993h2M1170 976h2M1170 1001h2M1171 951h2M1171 971h2M1171 982h2M1171 996h2M1172 974h2M1172 975h2M1173 995h2M1174 1004h2M1175 964h2M1175 975h2M1175 993h2M1175 1003h2M1176 976h2M1176 986h2M1177 966h2M1177 990h2M1178 963h2M1178 995h2M1178 997h2M1178 1001h2M1179 960h2M1179 965h2M1180 971h2M1181 977h2M1181 981h2M1182 958h2M1182 982h2M1182 986h2M1184 952h2M1185 970h2M1186 972h2M1186 1001h2M1186 1006h2M1187 951h2M1187 974h2M1188 975h2M1189 974h2M1189 978h2M1189 996h2M1189 1006h2M1190 977h2M1190 981h2M1190 985h2M1191 974h2M1191 986h2M1192 956h2M1192 971h2M1193 999h2M1194 963h2M1194 983h2M1194 1002h2M1194 1006h2M1195 969h2M1195 977h2M1195 979h2M1196 964h2M1196 968h2M1196 973h2M1196 978h2M1196 998h2M1197 972h2M1197 978h2M1198 964h2M1198 991h2M1199 952h2M1201 997h2M1201 1005h2M1202 975h2M1202 997h2M1203 966h2M1203 978h2M1204 979h2M1205 958h2M1205 960h2M1205 976h2M1206 998h2M1207 956h2M1207 992h2M1207 1006h2M1209 989h2M1210 996h2M1211 982h2M1211 1002h2M1212 987h2M1212 990h2M1213 976h2M1213 985h2M1213 995h2M1215 982h2M1215 985h2M1215 1004h2M1215 1006h2M1217 959h2M1217 994h2M1217 1002h2M1218 969h2M1218 977h2M1219 970h2M1219 977h2M1219 1000h2M1222 991h2M1223 957h2M1223 985h2M1224 997h2M1225 957h2M1225 959h2M1226 998h2M1227 976h2M1227 977h2M1227 1004h2M1227 1005h2M1228 970h2M1228 984h2M1228 993h2M1228 1005h2M1229 961h2M1230 959h2M1230 962h2M1230 967h2M1230 985h2M1230 993h2M1231 983h2M1231 989h2M1231 993h2M1231 1006h2M1232 966h2M1233 977h2M1233 990h2M1234 1006h2M1236 994h2M1236 1004h2M1237 980h2M1237 1005h2M1238 955h2M1238 975h2M1238 982h2M1238 984h2M1238 993h2M1238 1006h2M1239 979h2M1239 985h2M1239 995h2M1240 972h2M1241 956h2M1241 965h2M1241 1006h2M1242 976h2M1242 981h2M1242 982h2M1243 996h2M1244 964h2M1244 971h2M1244 977h2M1244 986h2M1244 1001h2M1245 960h2M1245 982h2M1245 983h2M1245 984h2M1245 990h2M1246 991h2M1247 961h2M1247 969h2M1247 990h2M1248 953h2M1248 975h2M1248 982h2M1248 994h2M1248 996h2M1248 1000h2M1249 962h2M1249 971h2M1249 977h2M1249 991h2M1250 962h2M1250 968h2M1250 974h2M1250 976h2M1250 978h2M1250 992h2M1250 1002h2M1251 977h2M1252 970h2M1252 982h2M1252 983h2M1252 992h2M1253 992h2M1253 994h2M1254 967h2M1254 983h2M1254 1001h2M1255 949h2M1255 981h2M1256 955h2M1256 962h2M1256 990h2M1257 974h2M1257 988h2M1258 969h2M1259 948h2M1259 994h2M1259 1005h2M1260 1003h2M1261 964h2M1261 977h2M1261 979h2M1262 974h2M1263 974h2M1263 979h2M1263 991h2M1263 1002h2M1264 979h2M1264 1003h2M1264 1007h2M1265 960h2M1265 964h2M1265 984h2M1266 982h2M1266 987h2M1267 962h2M1267 983h2M1267 990h2M1267 994h2M1268 972h2M1268 975h2M1268 995h2M1269 942h2M1269 965h2M1269 966h2M1269 998h2M1270 979h2M1270 986h2M1270 998h2M1270 999h2M1270 1001h2M1271 983h2M1271 993h2M1272 944h2M1272 965h2M1272 969h2M1273 951h2M1273 965h2M1273 975h2M1273 981h2M1273 992h2M1274 939h2M1275 952h2M1276 943h2M1276 972h2M1276 973h2M1276 987h2M1277 960h2M1277 963h2M1278 961h2M1278 975h2M1278 984h2M1278 999h2M1279 947h2M1279 950h2M1279 959h2M1279 977h2M1279 991h2M1279 1004h2M1280 954h2M1280 973h2M1280 999h2M1281 947h2M1281 969h2M1281 982h2M1282 975h2M1282 987h2M1283 958h2M1283 989h2M1284 947h2M1285 953h2M1285 971h2M1285 975h2M1286 959h2M1286 982h2M1286 1000h2M1287 970h2M1287 991h2M1289 958h2M1289 992h2M1289 998h2M1290 968h2M1290 978h2M1290 980h2M1290 985h2M1290 987h2M1291 970h2M1291 1003h2M1291 1005h2M1292 961h2M1292 966h2M1292 997h2M1295 978h2M1296 966h2M1296 986h2M1297 948h2M1297 962h2M1297 995h2M1298 940h2M1298 962h2M1299 966h2M1300 944h2M1300 956h2M1300 974h2M1301 960h2M1301 1003h2M1301 1004h2M1302 954h2M1302 962h2M1302 991h2M1302 1002h2M1303 944h2M1303 948h2M1303 978h2M1303 982h2M1303 993h2M1303 994h2M1303 1006h2M1304 949h2M1304 997h2M1305 984h2M1305 1001h2M1306 961h2M1306 973h2M1306 987h2M1307 950h2M1307 960h2M1308 990h2M1309 953h2M1309 972h2M1309 981h2M1309 989h2M1310 952h2M1310 997h2M1310 1006h2M1311 964h2M1312 1003h2M1313 1000h2M1314 998h2M1315 979h2M1315 1005h2M1316 963h2M1316 981h2M1316 983h2M1317 942h2M1317 998h2M1318 939h2M1318 958h2M1318 959h2M1318 969h2M1318 974h2M1319 992h2M1320 972h2M1320 973h2M1320 986h2M1321 941h2M1321 950h2M1322 944h2M1322 974h2M1323 942h2M1323 964h2M1323 971h2M1325 946h2M1325 993h2M1327 962h2M1327 1006h2M1328 945h2M1328 991h2M1329 941h2M1329 964h2M1329 966h2M1329 981h2M1329 991h2M1330 965h2M1331 979h2M1331 987h2M1332 948h2M1332 991h2M1333 999h2" stroke="#ff0000" stroke-width="2" fill="none" shape-rendering="crispEdges"/>
<path d="M1047 1007h2M1049 995h2M1051 999h2M1068 968h2M1074 996h2M1081 1001h2M1087 972h2M1093 1006h2M1096 988h2M1099 988h2M1102 999h2M1105 970h2M1106 1007h2M1111 969h2M1114 986h2M1119 984h2M1120 982h2M1134 967h2M1137 975h2M1137 995h2M1145 996h2M1146 985h2M1146 1000h2M1149 985h2M1152 995h2M1154 966h2M1155 979h2M1156 988h2M1159 997h2M1160 994h2M1161 998h2M1162 983h2M1166 973h2M1175 989h2M1177 998h2M1181 1001h2M1183 967h2M1187 966h2M1191 974h2M1191 987h2M1191 991h2M1194 988h2M1195 961h2M1195 977h2M1196 956h2M1196 968h2M1196 1002h2M1197 985h2M1199 979h2M1199 987h2M1199 994h2M1200 992h2M1201 990h2M1204 1004h2M1206 976h2M1212 976h2M1218 983h2M1218 993h2M1219 979h2M1219 1006h2M1221 966h2M1221 996h2M1229 1006h2M1230 955h2M1230 1004h2M1234 982h2M1237 978h2M1238 985h2M1238 995h2M1244 961h2M1250 999h2M1251 958h2M1256 967h2M1263 993h2M1265 945h2M1265 954h2M1265 1004h2M1267 951h2M1268 970h2M1270 998h2M1273 950h2M1273 982h2M1274 966h2M1275 958h2M1278 967h2M1278 1004h2M1281 1005h2M1284 981h2M1286 984h2M1287 996h2M1289 1004h2M1308 980h2M1311 963h2M1314 1001h2M1319 970h2M1328 957h2" stroke="#b80000" stroke-width="2" fill="none" shape-rendering="crispEdges"/>
<path d="M1340 973h2.4M1340 995h2.4M1341 992h2.4M1342 950h2.4M1347 988h2.4M1349 1001h2.4M1350 966h2.4M1350 1000h2.4M1354 991h2.4M1354 995h2.4M1356 965h2.4M1356 1003h2.4M1359 947h2.4M1359 970h2.4M1359 981h2.4M1360 960h2.4M1360 978h2.4M1361 950h2.4M1361 993h2.4M1361 1000h2.4M1362 956h2.4M1365 982h2.4M1369 983h2.4M1369 990h2.4M1371 983h2.4M1372 989h2.4M1373 971h2.4M1377 957h2.4M1377 995h2.4M1381 966h2.4" stroke="#000" stroke-width="2.4" fill="none" transform="translate(-0.2 0)"/>
<path d="M202.0 1534.8V1523.6" stroke="#000" stroke-width="5.5" fill="none"/><path d="M179.8 1523.6H225.1" stroke="#000" stroke-width="6" stroke-linecap="round" fill="none"/>
<rect x="153.1" y="1531.8" width="97.8" height="300.6" fill="#000" rx="3"/>
<path d="M341.0 1484.9V1468.8" stroke="#000" stroke-width="5.5" fill="none"/><path d="M318.1 1468.8H363.8" stroke="#000" stroke-width="6" stroke-linecap="round" fill="none"/>
<rect x="295.1" y="1484.7" width="91.9" height="347.8" fill="#ff0000"/>
<path d="M295.05 1832.4V1484.65H386.95V1832.4" fill="none" stroke="#000" stroke-width="5.5" stroke-linejoin="round"/>
<path d="M133.0 1414.4V1832.4H411.3" stroke="#000" stroke-width="4.0" fill="none"/>
<path d="M119.5 1416.2H133.0M119.5 1499.4H133.0M119.5 1582.7H133.0M119.5 1665.9H133.0M119.5 1749.2H133.0M119.5 1832.4H133.0M202.5 1832.4V1846.5M341.0 1832.4V1846.5" stroke="#000" stroke-width="3.5" fill="none"/>
<path d="M184.0 1431.0V1417.8H338.3V1431.0" stroke="#000" stroke-width="3.5" fill="none"/>
<text x="249.32" y="1409.18" font-size="34.32" font-weight="bold" textLength="14.13" lengthAdjust="spacingAndGlyphs" fill="#000" xml:space="preserve">*</text>
<text x="155.73" y="1362.20" font-size="35.94" font-weight="bold" textLength="291.07" lengthAdjust="spacingAndGlyphs" fill="#000" xml:space="preserve">Viable leukocytes</text>
<text x="149.66" y="1883.00" font-size="35.80" font-weight="bold" textLength="124.60" lengthAdjust="spacingAndGlyphs" fill="#000" xml:space="preserve">Healthy</text>
<text x="304.96" y="1883.00" font-size="35.80" font-weight="bold" textLength="76.86" lengthAdjust="spacingAndGlyphs" fill="#000" xml:space="preserve">SCM</text>
<text x="0.00" y="0.00" font-size="35.94" font-weight="bold" textLength="332.61" lengthAdjust="spacingAndGlyphs" transform="translate(42.80 1805.06) rotate(-90)" fill="#000" xml:space="preserve">PI- % of CD45+ cells</text>
<text x="66.81" y="1427.24" font-size="32.00" font-weight="bold" textLength="51.02" lengthAdjust="spacingAndGlyphs" fill="#000" xml:space="preserve">100</text>
<text x="83.78" y="1510.48" font-size="32.00" font-weight="bold" textLength="34.01" lengthAdjust="spacingAndGlyphs" fill="#000" xml:space="preserve">90</text>
<text x="83.78" y="1593.72" font-size="32.00" font-weight="bold" textLength="34.01" lengthAdjust="spacingAndGlyphs" fill="#000" xml:space="preserve">80</text>
<text x="83.78" y="1676.96" font-size="32.00" font-weight="bold" textLength="34.01" lengthAdjust="spacingAndGlyphs" fill="#000" xml:space="preserve">70</text>
<text x="83.78" y="1760.20" font-size="32.00" font-weight="bold" textLength="34.01" lengthAdjust="spacingAndGlyphs" fill="#000" xml:space="preserve">60</text>
<text x="83.78" y="1843.44" font-size="32.00" font-weight="bold" textLength="34.01" lengthAdjust="spacingAndGlyphs" fill="#000" xml:space="preserve">50</text>
<path d="M727.4 1603.5V1575.8" stroke="#000" stroke-width="5.5" fill="none"/><path d="M705.3 1575.8H750.7" stroke="#000" stroke-width="6" stroke-linecap="round" fill="none"/>
<rect x="678.5" y="1600.5" width="97.8" height="227.7" fill="#000" rx="3"/>
<path d="M866.4 1479.2V1464.6" stroke="#000" stroke-width="5.5" fill="none"/><path d="M843.6 1464.6H889.2" stroke="#000" stroke-width="6" stroke-linecap="round" fill="none"/>
<rect x="820.5" y="1479.0" width="91.9" height="349.2" fill="#ff0000"/>
<path d="M820.45 1828.2V1478.95H912.35V1828.2" fill="none" stroke="#000" stroke-width="5.5" stroke-linejoin="round"/>
<path d="M657.5 1409.4V1828.2H936.2" stroke="#000" stroke-width="4.0" fill="none"/>
<path d="M646.0 1411.2H657.5M646.0 1494.6H657.5M646.0 1578.0H657.5M646.0 1661.4H657.5M646.0 1744.8H657.5M646.0 1828.2H657.5M727.6 1828.2V1841.5M866.4 1828.2V1841.5" stroke="#000" stroke-width="3.5" fill="none"/>
<path d="M718.2 1436.0V1423.5H864.8V1436.0" stroke="#000" stroke-width="3.5" fill="none"/>
<text x="779.83" y="1413.86" font-size="26.76" font-weight="bold" textLength="13.21" lengthAdjust="spacingAndGlyphs" fill="#000" xml:space="preserve">*</text>
<text x="629.73" y="1359.10" font-size="35.80" font-weight="bold" textLength="328.81" lengthAdjust="spacingAndGlyphs" fill="#000" xml:space="preserve">Viable myeloid cells</text>
<text x="687.86" y="1893.50" font-size="35.80" font-weight="bold" textLength="124.50" lengthAdjust="spacingAndGlyphs" fill="#000" xml:space="preserve">Healthy</text>
<text x="842.25" y="1893.50" font-size="35.80" font-weight="bold" textLength="77.70" lengthAdjust="spacingAndGlyphs" fill="#000" xml:space="preserve">SCM</text>
<text x="0.00" y="0.00" font-size="35.65" font-weight="bold" textLength="365.36" lengthAdjust="spacingAndGlyphs" transform="translate(555.40 1816.56) rotate(-90)" fill="#000" xml:space="preserve">PI-  % of myeloid cells</text>
<text x="592.91" y="1422.24" font-size="32.00" font-weight="bold" textLength="51.02" lengthAdjust="spacingAndGlyphs" fill="#000" xml:space="preserve">100</text>
<text x="609.88" y="1505.64" font-size="32.00" font-weight="bold" textLength="34.01" lengthAdjust="spacingAndGlyphs" fill="#000" xml:space="preserve">90</text>
<text x="609.88" y="1589.04" font-size="32.00" font-weight="bold" textLength="34.01" lengthAdjust="spacingAndGlyphs" fill="#000" xml:space="preserve">80</text>
<text x="609.88" y="1672.44" font-size="32.00" font-weight="bold" textLength="34.01" lengthAdjust="spacingAndGlyphs" fill="#000" xml:space="preserve">70</text>
<text x="609.88" y="1755.84" font-size="32.00" font-weight="bold" textLength="34.01" lengthAdjust="spacingAndGlyphs" fill="#000" xml:space="preserve">60</text>
<text x="609.88" y="1839.24" font-size="32.00" font-weight="bold" textLength="34.01" lengthAdjust="spacingAndGlyphs" fill="#000" xml:space="preserve">50</text>
<path d="M1195.8 1485.9V1467.9" stroke="#000" stroke-width="5.5" fill="none"/><path d="M1173.1 1467.9H1218.8" stroke="#000" stroke-width="6" stroke-linecap="round" fill="none"/>
<rect x="1146.4" y="1482.9" width="98.7" height="344.9" fill="#000" rx="3"/>
<path d="M1334.7 1535.4V1499.2" stroke="#000" stroke-width="5.5" fill="none"/><path d="M1311.9 1499.2H1357.9" stroke="#000" stroke-width="6" stroke-linecap="round" fill="none"/>
<rect x="1288.3" y="1535.2" width="92.7" height="292.6" fill="#ff0000"/>
<path d="M1288.35 1827.8V1535.15H1381.05V1827.8" fill="none" stroke="#000" stroke-width="5.5" stroke-linejoin="round"/>
<path d="M1125.6 1409.5V1827.8H1405.0" stroke="#000" stroke-width="4.0" fill="none"/>
<path d="M1113.9 1411.3H1125.6M1113.9 1494.6H1125.6M1113.9 1577.9H1125.6M1113.9 1661.2H1125.6M1113.9 1744.5H1125.6M1113.9 1827.8H1125.6M1196.0 1827.8V1841.5M1335.0 1827.8V1841.5" stroke="#000" stroke-width="3.5" fill="none"/>
<path d="M1190.7 1424.7V1412.9H1329.0V1424.7" stroke="#000" stroke-width="3.5" fill="none"/>
<text x="1244.81" y="1404.72" font-size="33.51" font-weight="bold" textLength="14.75" lengthAdjust="spacingAndGlyphs" fill="#000" xml:space="preserve">*</text>
<text x="1005.23" y="1360.70" font-size="35.36" font-weight="bold" textLength="353.03" lengthAdjust="spacingAndGlyphs" fill="#000" xml:space="preserve">Viable lymphoid cells</text>
<text x="1151.04" y="1883.00" font-size="35.80" font-weight="bold" textLength="125.41" lengthAdjust="spacingAndGlyphs" fill="#000" xml:space="preserve">Healthy</text>
<text x="1306.36" y="1883.00" font-size="35.80" font-weight="bold" textLength="76.76" lengthAdjust="spacingAndGlyphs" fill="#000" xml:space="preserve">SCM</text>
<text x="0.00" y="0.00" font-size="35.80" font-weight="bold" textLength="388.78" lengthAdjust="spacingAndGlyphs" transform="translate(1050.20 1842.86) rotate(-90)" fill="#000" xml:space="preserve">PI-  % of lymphoid cells</text>
<text x="1059.51" y="1422.34" font-size="32.00" font-weight="bold" textLength="51.02" lengthAdjust="spacingAndGlyphs" fill="#000" xml:space="preserve">100</text>
<text x="1076.48" y="1505.64" font-size="32.00" font-weight="bold" textLength="34.01" lengthAdjust="spacingAndGlyphs" fill="#000" xml:space="preserve">90</text>
<text x="1076.48" y="1588.94" font-size="32.00" font-weight="bold" textLength="34.01" lengthAdjust="spacingAndGlyphs" fill="#000" xml:space="preserve">80</text>
<text x="1076.48" y="1672.24" font-size="32.00" font-weight="bold" textLength="34.01" lengthAdjust="spacingAndGlyphs" fill="#000" xml:space="preserve">70</text>
<text x="1076.48" y="1755.54" font-size="32.00" font-weight="bold" textLength="34.01" lengthAdjust="spacingAndGlyphs" fill="#000" xml:space="preserve">60</text>
<text x="1076.48" y="1838.84" font-size="32.00" font-weight="bold" textLength="34.01" lengthAdjust="spacingAndGlyphs" fill="#000" xml:space="preserve">50</text>
</svg></body></html>
